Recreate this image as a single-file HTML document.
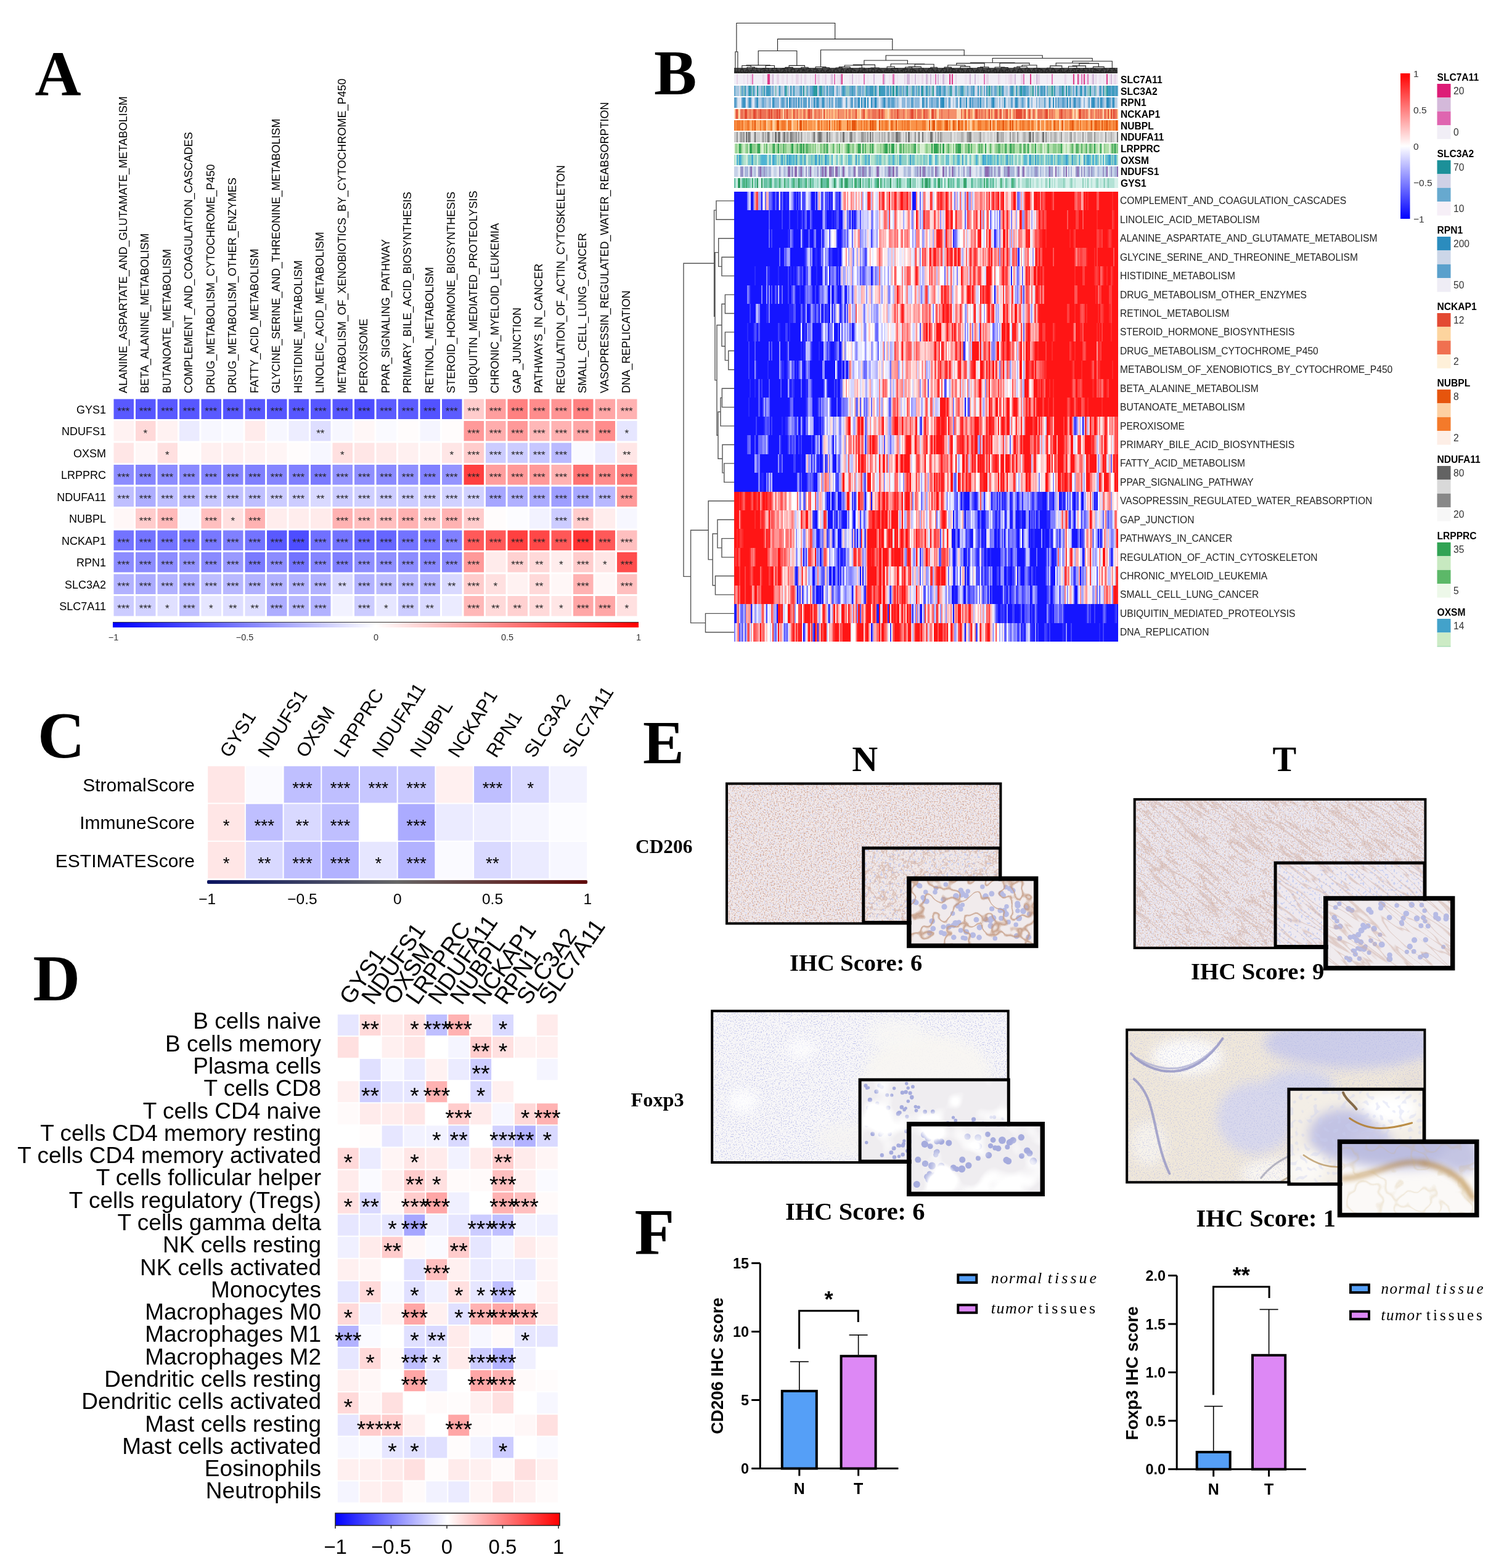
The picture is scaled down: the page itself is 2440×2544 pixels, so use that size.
<!DOCTYPE html>
<html><head><meta charset="utf-8"><title>Figure</title>
<style>
html,body{margin:0;padding:0;background:#fff;}
body{width:2440px;height:2544px;position:relative;overflow:hidden;font-family:'Liberation Sans', Arial, Helvetica, sans-serif;}
.hm{position:absolute;}
svg.main{position:absolute;left:0;top:0;}
</style></head><body>
<div class="hm" style="left:1191.0px;top:310.70px;width:622.5px;height:30.73px;background:linear-gradient(90deg,#1515ff 0.00% 3.33%,#8080ff 3.33% 3.67%,#bfbfff 3.67% 4.00%,#d4d4ff 4.00% 4.33%,#1515ff 4.33% 5.00%,#8080ff 5.00% 5.33%,#ffaaaa 5.33% 5.67%,#ff5555 5.67% 6.00%,#ff4040 6.00% 6.33%,#aaaaff 6.33% 6.67%,#9595ff 6.67% 7.00%,#1515ff 7.00% 7.33%,#eaeaff 7.33% 7.67%,#ffeaea 7.67% 8.00%,#6a6aff 8.00% 8.33%,#ffaaaa 8.33% 8.67%,#ffbfbf 8.67% 9.00%,#6a6aff 9.00% 9.67%,#5555ff 9.67% 10.00%,#2a2aff 10.00% 10.33%,#1515ff 10.33% 10.67%,#5555ff 10.67% 11.00%,#1515ff 11.00% 11.33%,#4040ff 11.33% 11.67%,#ffeaea 11.67% 12.00%,#1515ff 12.00% 12.33%,#6a6aff 12.33% 12.67%,#2a2aff 12.67% 13.00%,#1515ff 13.00% 13.33%,#2a2aff 13.33% 14.00%,#1515ff 14.00% 14.33%,#d4d4ff 14.33% 15.00%,#9595ff 15.00% 15.33%,#4040ff 15.33% 15.67%,#1515ff 15.67% 16.00%,#4040ff 16.00% 16.33%,#1515ff 16.33% 16.67%,#5555ff 16.67% 17.00%,#2a2aff 17.00% 17.33%,#eaeaff 17.33% 17.67%,#5555ff 17.67% 18.00%,#4040ff 18.00% 18.33%,#5555ff 18.33% 18.67%,#d4d4ff 18.67% 19.00%,#eaeaff 19.00% 19.33%,#bfbfff 19.33% 19.67%,#8080ff 19.67% 20.00%,#1515ff 20.00% 21.00%,#6a6aff 21.00% 21.33%,#1515ff 21.33% 21.67%,#aaaaff 21.67% 22.00%,#ffaaaa 22.00% 22.33%,#d4d4ff 22.33% 22.67%,#4040ff 22.67% 23.00%,#5555ff 23.00% 23.33%,#eaeaff 23.33% 23.67%,#5555ff 23.67% 24.00%,#4040ff 24.00% 24.33%,#5555ff 24.33% 24.67%,#1515ff 24.67% 25.00%,#4040ff 25.00% 25.33%,#1515ff 25.33% 25.67%,#eaeaff 25.67% 26.00%,#d4d4ff 26.00% 26.33%,#5555ff 26.33% 26.67%,#4040ff 26.67% 27.00%,#5555ff 27.00% 27.33%,#1515ff 27.33% 27.67%,#6a6aff 27.67% 28.00%,#eaeaff 28.00% 28.33%,#ffaaaa 28.33% 28.67%,#ff6a6a 28.67% 29.00%,#ffeaea 29.00% 29.33%,#ff9595 29.33% 29.67%,#ffeaea 29.67% 30.33%,#ff8080 30.33% 30.67%,#ffaaaa 30.67% 31.33%,#eaeaff 31.33% 31.67%,#ff9595 31.67% 32.00%,#ffeaea 32.00% 32.33%,#ffbfbf 32.33% 32.67%,#eaeaff 32.67% 33.00%,#ff8080 33.00% 33.33%,#aaaaff 33.33% 33.67%,#ffffff 33.67% 34.00%,#eaeaff 34.00% 34.33%,#d4d4ff 34.33% 34.67%,#ff4040 34.67% 35.00%,#ff1515 35.00% 35.33%,#ff6a6a 35.33% 35.67%,#bfbfff 35.67% 36.00%,#ff9595 36.00% 36.33%,#ffffff 36.33% 36.67%,#eaeaff 36.67% 37.00%,#d4d4ff 37.00% 37.33%,#ffd4d4 37.33% 37.67%,#ff4040 37.67% 38.00%,#ff9595 38.00% 38.33%,#ff5555 38.33% 38.67%,#ff1515 38.67% 39.00%,#ff8080 39.00% 39.33%,#ffffff 39.33% 39.67%,#ff8080 39.67% 40.00%,#ff9595 40.00% 40.33%,#ff1515 40.33% 40.67%,#ffd4d4 40.67% 41.00%,#ff8080 41.00% 41.67%,#ff1515 41.67% 42.00%,#ff4040 42.00% 42.33%,#ffaaaa 42.33% 42.67%,#ff9595 42.67% 43.00%,#ff6a6a 43.00% 43.33%,#ff1515 43.33% 44.00%,#ff5555 44.00% 45.00%,#ff1515 45.00% 45.33%,#ff8080 45.33% 45.67%,#ff6a6a 45.67% 46.00%,#d4d4ff 46.00% 46.33%,#1515ff 46.33% 47.33%,#ff8080 47.33% 47.67%,#eaeaff 47.67% 48.00%,#ffeaea 48.00% 48.33%,#6a6aff 48.33% 48.67%,#eaeaff 48.67% 49.00%,#bfbfff 49.00% 49.33%,#ff6a6a 49.33% 49.67%,#ff9595 49.67% 50.00%,#ffeaea 50.00% 50.33%,#eaeaff 50.33% 50.67%,#ffd4d4 50.67% 51.00%,#ff2a2a 51.00% 51.33%,#ff5555 51.33% 51.67%,#d4d4ff 51.67% 52.00%,#ffeaea 52.00% 52.33%,#ffffff 52.33% 52.67%,#ff8080 52.67% 53.00%,#ff2a2a 53.00% 53.33%,#ff5555 53.33% 53.67%,#ff2a2a 53.67% 54.33%,#ff6a6a 54.33% 54.67%,#ff9595 54.67% 55.00%,#ff1515 55.00% 55.33%,#ff2a2a 55.33% 55.67%,#ff8080 55.67% 56.00%,#ffd4d4 56.00% 56.33%,#ff4040 56.33% 56.67%,#ffd4d4 56.67% 57.00%,#eaeaff 57.00% 57.33%,#8080ff 57.33% 57.67%,#ffbfbf 57.67% 58.00%,#aaaaff 58.00% 58.33%,#eaeaff 58.33% 58.67%,#ff6a6a 58.67% 59.00%,#bfbfff 59.00% 59.33%,#ffeaea 59.33% 59.67%,#ffd4d4 59.67% 60.00%,#8080ff 60.00% 60.33%,#ff9595 60.33% 60.67%,#ff2a2a 60.67% 61.00%,#aaaaff 61.00% 61.33%,#9595ff 61.33% 61.67%,#ffaaaa 61.67% 62.00%,#bfbfff 62.00% 62.33%,#eaeaff 62.33% 62.67%,#ff9595 62.67% 63.33%,#ffaaaa 63.33% 64.00%,#ff6a6a 64.00% 64.33%,#ff8080 64.33% 64.67%,#ffaaaa 64.67% 65.00%,#ff9595 65.00% 65.33%,#ffd4d4 65.33% 65.67%,#ff5555 65.67% 66.00%,#ff9595 66.00% 66.33%,#ff2a2a 66.33% 66.67%,#ffd4d4 66.67% 67.00%,#ff6a6a 67.00% 67.33%,#ff2a2a 67.33% 67.67%,#ff8080 67.67% 68.00%,#ff5555 68.00% 68.33%,#ff4040 68.33% 68.67%,#ff1515 68.67% 69.00%,#ffbfbf 69.00% 69.33%,#ff4040 69.33% 69.67%,#ff2a2a 69.67% 70.00%,#ff1515 70.00% 70.33%,#ffeaea 70.33% 70.67%,#ffaaaa 70.67% 71.00%,#ff9595 71.00% 71.33%,#ffd4d4 71.33% 71.67%,#ffeaea 71.67% 72.00%,#ff8080 72.00% 72.33%,#ff6a6a 72.33% 72.67%,#ff1515 72.67% 73.33%,#ffbfbf 73.33% 73.67%,#6a6aff 73.67% 74.33%,#aaaaff 74.33% 74.67%,#ffaaaa 74.67% 75.00%,#d4d4ff 75.00% 75.33%,#ffaaaa 75.33% 75.67%,#ff4040 75.67% 76.00%,#ff1515 76.00% 77.00%,#ff8080 77.00% 77.33%,#ffbfbf 77.33% 77.67%,#ffffff 77.67% 78.00%,#ff2a2a 78.00% 78.33%,#ff1515 78.33% 79.00%,#ff2a2a 79.00% 79.33%,#ff1515 79.33% 79.67%,#ff8080 79.67% 80.00%,#ff2a2a 80.00% 80.33%,#ff5555 80.33% 80.67%,#ff4040 80.67% 81.00%,#ff1515 81.00% 82.67%,#ff2a2a 82.67% 83.00%,#ff5555 83.00% 83.33%,#ff1515 83.33% 88.67%,#ff5555 88.67% 89.00%,#ff6a6a 89.00% 89.33%,#ff4040 89.33% 90.33%,#ffaaaa 90.33% 90.67%,#ff9595 90.67% 91.00%,#ff1515 91.00% 91.33%,#ff2a2a 91.33% 91.67%,#ff1515 91.67% 92.00%,#ff2a2a 92.00% 92.33%,#ff1515 92.33% 94.33%,#ff5555 94.33% 95.00%,#ff1515 95.00% 98.33%,#ff2a2a 98.33% 98.67%,#ff1515 98.67% 100.00%)"></div><div class="hm" style="left:1191.0px;top:341.13px;width:622.5px;height:30.73px;background:linear-gradient(90deg,#1515ff 0.00% 9.00%,#5555ff 9.00% 9.33%,#1515ff 9.33% 12.33%,#4040ff 12.33% 12.67%,#1515ff 12.67% 14.33%,#4040ff 14.33% 14.67%,#1515ff 14.67% 16.33%,#2a2aff 16.33% 16.67%,#1515ff 16.67% 17.33%,#2a2aff 17.33% 17.67%,#4040ff 17.67% 18.00%,#1515ff 18.00% 18.33%,#5555ff 18.33% 18.67%,#6a6aff 18.67% 19.00%,#1515ff 19.00% 19.67%,#6a6aff 19.67% 20.00%,#4040ff 20.00% 20.33%,#1515ff 20.33% 23.00%,#8080ff 23.00% 23.33%,#bfbfff 23.33% 23.67%,#5555ff 23.67% 24.00%,#1515ff 24.00% 25.33%,#2a2aff 25.33% 25.67%,#1515ff 25.67% 26.00%,#2a2aff 26.00% 26.67%,#5555ff 26.67% 27.33%,#1515ff 27.33% 28.33%,#aaaaff 28.33% 28.67%,#ffd4d4 28.67% 29.00%,#d4d4ff 29.00% 29.33%,#6a6aff 29.33% 29.67%,#8080ff 29.67% 30.00%,#1515ff 30.00% 30.33%,#9595ff 30.33% 30.67%,#1515ff 30.67% 31.00%,#4040ff 31.00% 31.33%,#1515ff 31.33% 31.67%,#5555ff 31.67% 32.00%,#aaaaff 32.00% 32.33%,#bfbfff 32.33% 32.67%,#5555ff 32.67% 33.00%,#d4d4ff 33.00% 33.33%,#bfbfff 33.33% 33.67%,#d4d4ff 33.67% 34.67%,#bfbfff 34.67% 35.00%,#eaeaff 35.00% 35.33%,#ffeaea 35.33% 35.67%,#8080ff 35.67% 36.33%,#ffffff 36.33% 36.67%,#d4d4ff 36.67% 37.00%,#aaaaff 37.00% 37.33%,#d4d4ff 37.33% 37.67%,#ffaaaa 37.67% 38.00%,#ffeaea 38.00% 38.33%,#eaeaff 38.33% 38.67%,#ffbfbf 38.67% 39.00%,#ff6a6a 39.00% 39.67%,#ff9595 39.67% 40.00%,#bfbfff 40.00% 40.33%,#ff4040 40.33% 40.67%,#eaeaff 40.67% 41.00%,#ffffff 41.00% 41.33%,#d4d4ff 41.33% 41.67%,#ff5555 41.67% 42.00%,#ff8080 42.00% 42.33%,#ffd4d4 42.33% 42.67%,#ffffff 42.67% 43.00%,#ffd4d4 43.00% 43.33%,#ffeaea 43.33% 44.00%,#aaaaff 44.00% 44.33%,#eaeaff 44.33% 44.67%,#ffeaea 44.67% 45.00%,#ffbfbf 45.00% 45.33%,#ff8080 45.33% 45.67%,#ffeaea 45.67% 46.00%,#aaaaff 46.00% 46.33%,#8080ff 46.33% 46.67%,#ffd4d4 46.67% 47.00%,#ffffff 47.00% 47.33%,#ff1515 47.33% 47.67%,#ff5555 47.67% 48.00%,#ffd4d4 48.00% 48.33%,#9595ff 48.33% 48.67%,#d4d4ff 48.67% 49.00%,#aaaaff 49.00% 49.33%,#ff1515 49.33% 49.67%,#ff6a6a 49.67% 50.33%,#ff5555 50.33% 50.67%,#ff8080 50.67% 51.00%,#ffeaea 51.00% 51.33%,#ffd4d4 51.33% 52.00%,#ff4040 52.00% 52.33%,#ff8080 52.33% 52.67%,#ffeaea 52.67% 53.00%,#ff8080 53.00% 53.33%,#ffbfbf 53.33% 53.67%,#9595ff 53.67% 54.00%,#ffd4d4 54.00% 54.33%,#d4d4ff 54.33% 54.67%,#ffd4d4 54.67% 55.00%,#ff1515 55.00% 55.67%,#ff4040 55.67% 56.00%,#ff8080 56.00% 56.33%,#ff1515 56.33% 56.67%,#ff2a2a 56.67% 57.00%,#ffffff 57.00% 57.33%,#ffd4d4 57.33% 57.67%,#ff1515 57.67% 58.00%,#ff8080 58.00% 58.33%,#ff9595 58.33% 58.67%,#ff8080 58.67% 59.00%,#ff9595 59.00% 59.33%,#ffeaea 59.33% 60.00%,#6a6aff 60.00% 60.33%,#d4d4ff 60.33% 60.67%,#ff4040 60.67% 61.00%,#ff6a6a 61.00% 61.33%,#ff8080 61.33% 61.67%,#ffbfbf 61.67% 62.00%,#ffffff 62.00% 62.33%,#ff6a6a 62.33% 62.67%,#ff8080 62.67% 63.00%,#ff4040 63.00% 63.33%,#ffd4d4 63.33% 64.00%,#ff1515 64.00% 64.33%,#bfbfff 64.33% 64.67%,#ff6a6a 64.67% 65.00%,#bfbfff 65.00% 65.33%,#ffffff 65.33% 65.67%,#ff8080 65.67% 66.00%,#ff4040 66.00% 66.33%,#ffffff 66.33% 66.67%,#6a6aff 66.67% 67.00%,#bfbfff 67.00% 67.33%,#ffffff 67.33% 67.67%,#aaaaff 67.67% 68.00%,#eaeaff 68.00% 68.33%,#aaaaff 68.33% 68.67%,#eaeaff 68.67% 69.00%,#5555ff 69.00% 69.33%,#ffaaaa 69.33% 69.67%,#ff8080 69.67% 70.00%,#ff1515 70.00% 70.33%,#ff9595 70.33% 70.67%,#ffaaaa 70.67% 71.00%,#ff1515 71.00% 71.33%,#ff8080 71.33% 71.67%,#ffeaea 71.67% 72.00%,#8080ff 72.00% 72.33%,#ffd4d4 72.33% 72.67%,#ffeaea 72.67% 73.00%,#ffbfbf 73.00% 73.33%,#aaaaff 73.33% 73.67%,#ffeaea 73.67% 74.33%,#ff1515 74.33% 74.67%,#ff2a2a 74.67% 75.00%,#9595ff 75.00% 75.67%,#ff6a6a 75.67% 76.00%,#ff4040 76.00% 76.33%,#ffaaaa 76.33% 76.67%,#ff9595 76.67% 77.00%,#ffeaea 77.00% 77.33%,#aaaaff 77.33% 77.67%,#eaeaff 77.67% 78.00%,#ffd4d4 78.00% 78.33%,#eaeaff 78.33% 78.67%,#ff8080 78.67% 79.33%,#ff1515 79.33% 79.67%,#ff4040 79.67% 80.00%,#ff5555 80.00% 80.33%,#ff2a2a 80.33% 80.67%,#ff5555 80.67% 81.00%,#ff4040 81.00% 81.33%,#ff1515 81.33% 86.67%,#ff5555 86.67% 87.00%,#ff1515 87.00% 89.00%,#ff4040 89.00% 89.67%,#ff1515 89.67% 90.67%,#ff5555 90.67% 91.00%,#ff1515 91.00% 94.33%,#ff2a2a 94.33% 94.67%,#ff1515 94.67% 98.33%,#ff4040 98.33% 98.67%,#ff2a2a 98.67% 99.00%,#ff1515 99.00% 100.00%)"></div><div class="hm" style="left:1191.0px;top:371.56px;width:622.5px;height:30.73px;background:linear-gradient(90deg,#1515ff 0.00% 9.00%,#6a6aff 9.00% 9.33%,#1515ff 9.33% 9.67%,#4040ff 9.67% 10.00%,#1515ff 10.00% 14.00%,#2a2aff 14.00% 14.67%,#9595ff 14.67% 15.00%,#5555ff 15.00% 15.33%,#1515ff 15.33% 17.33%,#bfbfff 17.33% 17.67%,#4040ff 17.67% 18.00%,#1515ff 18.00% 19.33%,#5555ff 19.33% 19.67%,#1515ff 19.67% 20.67%,#6a6aff 20.67% 21.00%,#8080ff 21.00% 21.33%,#1515ff 21.33% 22.67%,#8080ff 22.67% 23.00%,#1515ff 23.00% 23.33%,#6a6aff 23.33% 23.67%,#bfbfff 23.67% 24.00%,#d4d4ff 24.00% 24.33%,#ffffff 24.33% 24.67%,#5555ff 24.67% 25.00%,#d4d4ff 25.00% 25.33%,#ffffff 25.33% 26.00%,#ffeaea 26.00% 26.33%,#d4d4ff 26.33% 26.67%,#4040ff 26.67% 27.00%,#1515ff 27.00% 28.00%,#4040ff 28.00% 28.33%,#8080ff 28.33% 28.67%,#6a6aff 28.67% 29.00%,#aaaaff 29.00% 29.33%,#5555ff 29.33% 29.67%,#bfbfff 29.67% 30.00%,#ffffff 30.00% 30.33%,#eaeaff 30.33% 30.67%,#6a6aff 30.67% 31.00%,#eaeaff 31.00% 31.33%,#ffaaaa 31.33% 31.67%,#ffeaea 31.67% 32.00%,#ffd4d4 32.00% 32.33%,#ff8080 32.33% 32.67%,#8080ff 32.67% 33.00%,#aaaaff 33.00% 33.67%,#d4d4ff 33.67% 34.00%,#aaaaff 34.00% 34.33%,#d4d4ff 34.33% 34.67%,#ffd4d4 34.67% 35.00%,#eaeaff 35.00% 35.33%,#d4d4ff 35.33% 35.67%,#4040ff 35.67% 36.00%,#9595ff 36.00% 36.33%,#d4d4ff 36.33% 37.00%,#9595ff 37.00% 37.33%,#ffffff 37.33% 37.67%,#ff9595 37.67% 38.33%,#ffbfbf 38.33% 38.67%,#ffaaaa 38.67% 39.00%,#ffbfbf 39.00% 39.67%,#ffffff 39.67% 40.00%,#ffeaea 40.00% 40.33%,#ff8080 40.33% 41.00%,#ff9595 41.00% 41.33%,#ffaaaa 41.33% 41.67%,#ff6a6a 41.67% 42.00%,#ff9595 42.00% 42.33%,#ff6a6a 42.33% 42.67%,#ffeaea 42.67% 43.00%,#ffffff 43.00% 43.33%,#ff8080 43.33% 43.67%,#ff6a6a 43.67% 44.00%,#ffeaea 44.00% 44.33%,#ff8080 44.33% 44.67%,#ff9595 44.67% 45.00%,#ff6a6a 45.00% 45.33%,#ff9595 45.33% 45.67%,#ffffff 45.67% 46.33%,#9595ff 46.33% 46.67%,#eaeaff 46.67% 47.00%,#aaaaff 47.00% 47.33%,#ff8080 47.33% 48.33%,#ffffff 48.33% 48.67%,#ffeaea 48.67% 49.00%,#9595ff 49.00% 49.33%,#aaaaff 49.33% 49.67%,#ffd4d4 49.67% 50.00%,#ffaaaa 50.00% 50.33%,#ffffff 50.33% 50.67%,#d4d4ff 50.67% 51.00%,#ffd4d4 51.00% 51.67%,#aaaaff 51.67% 52.00%,#ffaaaa 52.00% 52.33%,#ffbfbf 52.33% 52.67%,#ff2a2a 52.67% 53.00%,#ff1515 53.00% 53.67%,#ff2a2a 53.67% 54.00%,#ff4040 54.00% 54.33%,#ffbfbf 54.33% 54.67%,#aaaaff 54.67% 55.00%,#ff1515 55.00% 55.33%,#ff6a6a 55.33% 55.67%,#ff9595 55.67% 56.00%,#ffaaaa 56.00% 56.33%,#ff8080 56.33% 56.67%,#ffeaea 56.67% 57.00%,#2a2aff 57.00% 57.33%,#6a6aff 57.33% 58.00%,#aaaaff 58.00% 58.33%,#eaeaff 58.33% 58.67%,#ffffff 58.67% 59.33%,#ffeaea 59.33% 59.67%,#ff8080 59.67% 60.00%,#eaeaff 60.00% 60.33%,#ffbfbf 60.33% 60.67%,#d4d4ff 60.67% 61.00%,#ffeaea 61.00% 61.33%,#ffd4d4 61.33% 61.67%,#ff8080 61.67% 62.00%,#ff9595 62.00% 62.67%,#ff5555 62.67% 63.00%,#ffd4d4 63.00% 63.33%,#ff2a2a 63.33% 63.67%,#ff1515 63.67% 64.33%,#ffffff 64.33% 64.67%,#eaeaff 64.67% 65.00%,#d4d4ff 65.00% 65.33%,#ffffff 65.33% 65.67%,#ff4040 65.67% 66.00%,#ffbfbf 66.00% 66.33%,#ff1515 66.33% 66.67%,#ff4040 66.67% 67.00%,#eaeaff 67.00% 67.33%,#d4d4ff 67.33% 67.67%,#1515ff 67.67% 68.00%,#6a6aff 68.00% 68.33%,#aaaaff 68.33% 68.67%,#d4d4ff 68.67% 69.00%,#8080ff 69.00% 69.33%,#ffbfbf 69.33% 69.67%,#ffeaea 69.67% 70.00%,#ff1515 70.00% 70.67%,#ffaaaa 70.67% 71.00%,#ff1515 71.00% 71.33%,#ffbfbf 71.33% 71.67%,#aaaaff 71.67% 72.00%,#ff9595 72.00% 72.33%,#bfbfff 72.33% 72.67%,#ff9595 72.67% 73.00%,#ffbfbf 73.00% 73.67%,#eaeaff 73.67% 74.00%,#ff6a6a 74.00% 74.33%,#ff8080 74.33% 75.00%,#ffbfbf 75.00% 75.33%,#ffd4d4 75.33% 75.67%,#ffaaaa 75.67% 76.00%,#ff2a2a 76.00% 76.67%,#ff1515 76.67% 77.00%,#ffeaea 77.00% 77.33%,#eaeaff 77.33% 77.67%,#ffbfbf 77.67% 78.00%,#ff9595 78.00% 78.33%,#ff5555 78.33% 79.00%,#ff6a6a 79.00% 79.33%,#ff4040 79.33% 79.67%,#ff2a2a 79.67% 80.33%,#ff1515 80.33% 81.00%,#ff2a2a 81.00% 81.33%,#ff1515 81.33% 87.33%,#ff2a2a 87.33% 87.67%,#ff1515 87.67% 88.33%,#ff2a2a 88.33% 88.67%,#ff4040 88.67% 89.00%,#ff1515 89.00% 94.33%,#ff4040 94.33% 95.00%,#ff2a2a 95.00% 95.67%,#ff4040 95.67% 96.00%,#ff1515 96.00% 97.33%,#ff2a2a 97.33% 97.67%,#ff4040 97.67% 98.00%,#ff2a2a 98.00% 98.33%,#ff1515 98.33% 100.00%)"></div><div class="hm" style="left:1191.0px;top:401.99px;width:622.5px;height:30.73px;background:linear-gradient(90deg,#1515ff 0.00% 11.67%,#6a6aff 11.67% 12.00%,#1515ff 12.00% 13.00%,#6a6aff 13.00% 13.33%,#5555ff 13.33% 13.67%,#9595ff 13.67% 14.00%,#aaaaff 14.00% 14.33%,#9595ff 14.33% 14.67%,#1515ff 14.67% 18.33%,#2a2aff 18.33% 18.67%,#5555ff 18.67% 19.00%,#aaaaff 19.00% 19.33%,#d4d4ff 19.33% 19.67%,#6a6aff 19.67% 20.00%,#9595ff 20.00% 20.33%,#1515ff 20.33% 21.00%,#2a2aff 21.00% 21.67%,#1515ff 21.67% 22.33%,#2a2aff 22.33% 22.67%,#8080ff 22.67% 23.00%,#6a6aff 23.00% 23.33%,#ffffff 23.33% 23.67%,#9595ff 23.67% 24.00%,#aaaaff 24.00% 24.33%,#6a6aff 24.33% 24.67%,#1515ff 24.67% 25.00%,#4040ff 25.00% 25.33%,#2a2aff 25.33% 25.67%,#1515ff 25.67% 27.00%,#2a2aff 27.00% 27.33%,#1515ff 27.33% 28.00%,#9595ff 28.00% 28.33%,#ffffff 28.33% 28.67%,#ffeaea 28.67% 29.00%,#ff9595 29.00% 29.33%,#ffffff 29.33% 29.67%,#aaaaff 29.67% 30.00%,#ffd4d4 30.00% 30.33%,#ffbfbf 30.33% 30.67%,#aaaaff 30.67% 31.00%,#8080ff 31.00% 31.33%,#ffffff 31.33% 31.67%,#ffd4d4 31.67% 32.00%,#aaaaff 32.00% 32.33%,#ffd4d4 32.33% 32.67%,#9595ff 32.67% 33.00%,#d4d4ff 33.00% 33.33%,#9595ff 33.33% 33.67%,#8080ff 33.67% 34.00%,#4040ff 34.00% 34.33%,#6a6aff 34.33% 34.67%,#ffffff 34.67% 35.00%,#ffeaea 35.00% 35.33%,#ffbfbf 35.33% 35.67%,#ffffff 35.67% 36.00%,#eaeaff 36.00% 36.33%,#ffffff 36.33% 37.00%,#ffbfbf 37.00% 37.33%,#ffaaaa 37.33% 37.67%,#ff5555 37.67% 38.00%,#ff9595 38.00% 38.33%,#ffaaaa 38.33% 38.67%,#ffffff 38.67% 39.00%,#ffeaea 39.00% 40.00%,#bfbfff 40.00% 40.33%,#d4d4ff 40.33% 41.00%,#ffbfbf 41.00% 41.33%,#d4d4ff 41.33% 41.67%,#ffaaaa 41.67% 42.00%,#ffeaea 42.00% 42.67%,#ffffff 42.67% 43.00%,#eaeaff 43.00% 43.67%,#ffeaea 43.67% 44.00%,#eaeaff 44.00% 44.33%,#ffd4d4 44.33% 44.67%,#ffffff 44.67% 45.00%,#ffeaea 45.00% 45.33%,#ffd4d4 45.33% 45.67%,#ffbfbf 45.67% 46.00%,#eaeaff 46.00% 46.67%,#d4d4ff 46.67% 47.00%,#ff5555 47.00% 47.33%,#ff8080 47.33% 47.67%,#ffffff 47.67% 48.00%,#ffbfbf 48.00% 48.33%,#9595ff 48.33% 48.67%,#ffeaea 48.67% 49.00%,#ff4040 49.00% 49.33%,#ff8080 49.33% 49.67%,#ff4040 49.67% 50.00%,#ffaaaa 50.00% 50.33%,#ffffff 50.33% 50.67%,#ff5555 50.67% 51.00%,#ff1515 51.00% 51.33%,#ffaaaa 51.33% 51.67%,#ff5555 51.67% 52.00%,#ff1515 52.00% 52.33%,#ff2a2a 52.33% 52.67%,#ff8080 52.67% 53.00%,#ff5555 53.00% 53.33%,#ffaaaa 53.33% 53.67%,#ff8080 53.67% 54.00%,#ff4040 54.00% 54.33%,#d4d4ff 54.33% 54.67%,#ffaaaa 54.67% 55.00%,#ff9595 55.00% 55.33%,#ff1515 55.33% 55.67%,#ff5555 55.67% 56.33%,#ff1515 56.33% 56.67%,#ff4040 56.67% 57.00%,#ffbfbf 57.00% 57.33%,#ff1515 57.33% 57.67%,#ff2a2a 57.67% 58.00%,#ff8080 58.00% 58.33%,#ff1515 58.33% 58.67%,#ff6a6a 58.67% 59.00%,#d4d4ff 59.00% 59.33%,#aaaaff 59.33% 59.67%,#ffd4d4 59.67% 60.00%,#ffeaea 60.00% 60.33%,#ff6a6a 60.33% 60.67%,#eaeaff 60.67% 61.00%,#ffaaaa 61.00% 61.33%,#ff2a2a 61.33% 61.67%,#ff5555 61.67% 62.00%,#ffaaaa 62.00% 62.33%,#ff5555 62.33% 62.67%,#ff2a2a 62.67% 63.00%,#ff5555 63.00% 63.33%,#ffd4d4 63.33% 64.00%,#ffaaaa 64.00% 64.33%,#ffd4d4 64.33% 64.67%,#ff6a6a 64.67% 65.00%,#ffaaaa 65.00% 65.33%,#ff9595 65.33% 65.67%,#ffbfbf 65.67% 66.00%,#ff6a6a 66.00% 66.33%,#ff2a2a 66.33% 66.67%,#ff6a6a 66.67% 67.00%,#ff1515 67.00% 67.33%,#ffbfbf 67.33% 67.67%,#ff6a6a 67.67% 68.00%,#ff8080 68.00% 68.33%,#ffaaaa 68.33% 68.67%,#ff6a6a 68.67% 69.00%,#9595ff 69.00% 69.33%,#ff6a6a 69.33% 69.67%,#ff8080 69.67% 70.00%,#ff1515 70.00% 70.33%,#ff8080 70.33% 70.67%,#ffaaaa 70.67% 71.00%,#ff1515 71.00% 71.33%,#ff6a6a 71.33% 71.67%,#bfbfff 71.67% 72.00%,#d4d4ff 72.00% 72.33%,#ff5555 72.33% 73.00%,#ff8080 73.00% 73.33%,#ff5555 73.33% 73.67%,#8080ff 73.67% 74.00%,#1515ff 74.00% 74.33%,#ffffff 74.33% 74.67%,#ffaaaa 74.67% 75.00%,#ffffff 75.00% 75.33%,#d4d4ff 75.33% 75.67%,#ff9595 75.67% 76.33%,#ff5555 76.33% 76.67%,#ffeaea 76.67% 77.00%,#eaeaff 77.00% 77.33%,#ffeaea 77.33% 77.67%,#9595ff 77.67% 78.00%,#ffffff 78.00% 78.33%,#ff4040 78.33% 78.67%,#ff1515 78.67% 79.00%,#ff6a6a 79.00% 79.33%,#ff1515 79.33% 79.67%,#ff5555 79.67% 80.33%,#ff1515 80.33% 83.00%,#ff5555 83.00% 83.33%,#ff1515 83.33% 88.67%,#ff4040 88.67% 89.00%,#ff8080 89.00% 89.33%,#ff4040 89.33% 89.67%,#ff5555 89.67% 90.00%,#ff4040 90.00% 90.67%,#ff5555 90.67% 91.67%,#ff2a2a 91.67% 92.00%,#ff1515 92.00% 93.67%,#ff2a2a 93.67% 94.00%,#ff1515 94.00% 94.33%,#ff4040 94.33% 94.67%,#ff1515 94.67% 98.67%,#ff5555 98.67% 99.00%,#ff1515 99.00% 100.00%)"></div><div class="hm" style="left:1191.0px;top:432.42px;width:622.5px;height:30.73px;background:linear-gradient(90deg,#1515ff 0.00% 5.33%,#2a2aff 5.33% 5.67%,#1515ff 5.67% 8.33%,#8080ff 8.33% 8.67%,#2a2aff 8.67% 9.33%,#1515ff 9.33% 11.33%,#2a2aff 11.33% 11.67%,#1515ff 11.67% 14.00%,#4040ff 14.00% 14.33%,#1515ff 14.33% 14.67%,#2a2aff 14.67% 15.00%,#1515ff 15.00% 15.33%,#2a2aff 15.33% 15.67%,#1515ff 15.67% 16.00%,#2a2aff 16.00% 16.33%,#5555ff 16.33% 16.67%,#8080ff 16.67% 17.00%,#4040ff 17.00% 17.33%,#2a2aff 17.33% 17.67%,#5555ff 17.67% 18.00%,#1515ff 18.00% 18.67%,#5555ff 18.67% 19.33%,#bfbfff 19.33% 19.67%,#9595ff 19.67% 20.00%,#1515ff 20.00% 21.33%,#2a2aff 21.33% 21.67%,#1515ff 21.67% 23.00%,#9595ff 23.00% 23.33%,#eaeaff 23.33% 23.67%,#5555ff 23.67% 24.00%,#8080ff 24.00% 24.33%,#ffffff 24.33% 24.67%,#1515ff 24.67% 25.00%,#8080ff 25.00% 25.33%,#6a6aff 25.33% 26.00%,#9595ff 26.00% 26.33%,#8080ff 26.33% 26.67%,#1515ff 26.67% 27.00%,#5555ff 27.00% 27.33%,#1515ff 27.33% 27.67%,#9595ff 27.67% 28.00%,#ffd4d4 28.00% 28.33%,#aaaaff 28.33% 29.00%,#ffd4d4 29.00% 29.33%,#bfbfff 29.33% 29.67%,#eaeaff 29.67% 30.00%,#d4d4ff 30.00% 30.33%,#ffbfbf 30.33% 30.67%,#9595ff 30.67% 31.00%,#d4d4ff 31.00% 31.33%,#ffffff 31.33% 32.00%,#aaaaff 32.00% 32.33%,#bfbfff 32.33% 32.67%,#5555ff 32.67% 33.00%,#9595ff 33.00% 33.33%,#5555ff 33.33% 34.00%,#8080ff 34.00% 34.33%,#aaaaff 34.33% 34.67%,#bfbfff 34.67% 35.00%,#aaaaff 35.00% 35.67%,#1515ff 35.67% 36.00%,#5555ff 36.00% 36.33%,#d4d4ff 36.33% 36.67%,#8080ff 36.67% 37.00%,#9595ff 37.00% 37.33%,#aaaaff 37.33% 37.67%,#ff6a6a 37.67% 38.00%,#bfbfff 38.00% 38.33%,#d4d4ff 38.33% 38.67%,#ffffff 38.67% 39.00%,#bfbfff 39.00% 39.33%,#eaeaff 39.33% 39.67%,#ffffff 39.67% 40.00%,#9595ff 40.00% 40.33%,#eaeaff 40.33% 40.67%,#d4d4ff 40.67% 41.00%,#ffaaaa 41.00% 41.33%,#ffeaea 41.33% 41.67%,#ff4040 41.67% 42.00%,#ff9595 42.00% 42.33%,#ffffff 42.33% 43.33%,#eaeaff 43.33% 43.67%,#ff8080 43.67% 44.00%,#eaeaff 44.00% 44.33%,#ff9595 44.33% 44.67%,#ffaaaa 44.67% 45.00%,#ff5555 45.00% 45.67%,#ff8080 45.67% 46.00%,#ffffff 46.00% 46.33%,#ffeaea 46.33% 46.67%,#ffd4d4 46.67% 47.00%,#ff5555 47.00% 47.33%,#ff1515 47.33% 47.67%,#ff5555 47.67% 48.00%,#ffbfbf 48.00% 48.33%,#bfbfff 48.33% 48.67%,#eaeaff 48.67% 49.00%,#aaaaff 49.00% 49.33%,#bfbfff 49.33% 49.67%,#ffbfbf 49.67% 50.00%,#ffd4d4 50.00% 50.33%,#ffffff 50.33% 50.67%,#ff6a6a 50.67% 51.00%,#ff9595 51.00% 51.33%,#ff5555 51.33% 51.67%,#ffbfbf 51.67% 52.00%,#ff9595 52.00% 52.67%,#bfbfff 52.67% 53.00%,#ffaaaa 53.00% 53.33%,#ffbfbf 53.33% 53.67%,#ffffff 53.67% 54.67%,#6a6aff 54.67% 55.00%,#ffd4d4 55.00% 55.33%,#ff8080 55.33% 55.67%,#d4d4ff 55.67% 56.00%,#eaeaff 56.00% 56.33%,#ff5555 56.33% 56.67%,#ffd4d4 56.67% 57.00%,#bfbfff 57.00% 57.33%,#eaeaff 57.33% 57.67%,#ffeaea 57.67% 58.00%,#8080ff 58.00% 58.33%,#ffeaea 58.33% 59.00%,#ff1515 59.00% 59.33%,#ff5555 59.33% 59.67%,#ffaaaa 59.67% 60.67%,#ff9595 60.67% 61.00%,#d4d4ff 61.00% 61.33%,#ff4040 61.33% 61.67%,#ff9595 61.67% 62.00%,#ffaaaa 62.00% 62.33%,#ff2a2a 62.33% 62.67%,#ff5555 62.67% 63.00%,#ffaaaa 63.00% 63.33%,#ff5555 63.33% 63.67%,#ff4040 63.67% 64.00%,#ff5555 64.00% 64.33%,#ffd4d4 64.33% 64.67%,#ffeaea 64.67% 65.00%,#eaeaff 65.00% 65.33%,#d4d4ff 65.33% 65.67%,#ff1515 65.67% 67.00%,#ff6a6a 67.00% 67.33%,#ffffff 67.33% 67.67%,#ff6a6a 67.67% 68.00%,#eaeaff 68.00% 68.33%,#ffffff 68.33% 69.00%,#ffaaaa 69.00% 69.33%,#ff9595 69.33% 69.67%,#ff4040 69.67% 70.00%,#ff1515 70.00% 70.33%,#ff6a6a 70.33% 70.67%,#ff4040 70.67% 71.33%,#ffaaaa 71.33% 71.67%,#eaeaff 71.67% 72.00%,#2a2aff 72.00% 72.33%,#ffffff 72.33% 72.67%,#ff8080 72.67% 73.00%,#ffd4d4 73.00% 73.33%,#bfbfff 73.33% 73.67%,#6a6aff 73.67% 74.00%,#9595ff 74.00% 74.33%,#ffd4d4 74.33% 74.67%,#ffeaea 74.67% 75.00%,#6a6aff 75.00% 75.33%,#ffffff 75.33% 75.67%,#ffaaaa 75.67% 76.00%,#ff2a2a 76.00% 76.33%,#ff5555 76.33% 76.67%,#ff2a2a 76.67% 77.00%,#ffbfbf 77.00% 77.33%,#ff9595 77.33% 78.00%,#ff1515 78.00% 78.67%,#ff6a6a 78.67% 79.00%,#ff1515 79.00% 79.67%,#ff2a2a 79.67% 80.00%,#ff1515 80.00% 80.33%,#ff4040 80.33% 80.67%,#ff1515 80.67% 88.67%,#ff2a2a 88.67% 89.00%,#ff1515 89.00% 90.67%,#ff4040 90.67% 91.33%,#ff1515 91.33% 93.67%,#ff2a2a 93.67% 94.00%,#ff4040 94.00% 94.67%,#ff2a2a 94.67% 95.00%,#ff1515 95.00% 95.33%,#ff6a6a 95.33% 95.67%,#ff5555 95.67% 96.00%,#ff2a2a 96.00% 96.33%,#ff1515 96.33% 97.00%,#ff2a2a 97.00% 97.33%,#ff1515 97.33% 98.00%,#ff4040 98.00% 98.33%,#ff2a2a 98.33% 98.67%,#ff1515 98.67% 100.00%)"></div><div class="hm" style="left:1191.0px;top:462.85px;width:622.5px;height:30.73px;background:linear-gradient(90deg,#1515ff 0.00% 3.33%,#8080ff 3.33% 3.67%,#6a6aff 3.67% 4.00%,#2a2aff 4.00% 4.33%,#1515ff 4.33% 7.00%,#8080ff 7.00% 7.33%,#1515ff 7.33% 8.33%,#9595ff 8.33% 8.67%,#1515ff 8.67% 9.00%,#9595ff 9.00% 9.33%,#1515ff 9.33% 9.67%,#5555ff 9.67% 10.00%,#1515ff 10.00% 10.67%,#5555ff 10.67% 11.00%,#1515ff 11.00% 11.33%,#bfbfff 11.33% 11.67%,#2a2aff 11.67% 12.00%,#1515ff 12.00% 12.33%,#6a6aff 12.33% 12.67%,#1515ff 12.67% 14.00%,#4040ff 14.00% 14.33%,#1515ff 14.33% 15.00%,#5555ff 15.00% 15.33%,#9595ff 15.33% 15.67%,#4040ff 15.67% 16.00%,#1515ff 16.00% 17.00%,#2a2aff 17.00% 17.33%,#1515ff 17.33% 18.33%,#4040ff 18.33% 18.67%,#8080ff 18.67% 19.00%,#6a6aff 19.00% 19.33%,#8080ff 19.33% 19.67%,#6a6aff 19.67% 20.00%,#5555ff 20.00% 20.33%,#1515ff 20.33% 21.00%,#4040ff 21.00% 21.33%,#1515ff 21.33% 22.00%,#4040ff 22.00% 22.33%,#8080ff 22.33% 23.00%,#6a6aff 23.00% 23.33%,#aaaaff 23.33% 23.67%,#bfbfff 23.67% 24.00%,#9595ff 24.00% 24.33%,#1515ff 24.33% 25.00%,#d4d4ff 25.00% 25.33%,#1515ff 25.33% 26.00%,#8080ff 26.00% 26.67%,#4040ff 26.67% 27.00%,#1515ff 27.00% 28.00%,#8080ff 28.00% 28.33%,#bfbfff 28.33% 28.67%,#2a2aff 28.67% 29.00%,#1515ff 29.00% 29.33%,#aaaaff 29.33% 29.67%,#8080ff 29.67% 30.00%,#d4d4ff 30.00% 30.33%,#bfbfff 30.33% 30.67%,#5555ff 30.67% 31.00%,#aaaaff 31.00% 31.33%,#ffbfbf 31.33% 32.00%,#eaeaff 32.00% 32.33%,#d4d4ff 32.33% 33.00%,#ffaaaa 33.00% 33.33%,#ffbfbf 33.33% 34.00%,#eaeaff 34.00% 34.33%,#9595ff 34.33% 34.67%,#eaeaff 34.67% 35.00%,#ffd4d4 35.00% 35.33%,#ffbfbf 35.33% 35.67%,#9595ff 35.67% 36.00%,#d4d4ff 36.00% 36.33%,#ffffff 36.33% 36.67%,#ffd4d4 36.67% 37.33%,#ffbfbf 37.33% 37.67%,#ff9595 37.67% 38.00%,#d4d4ff 38.00% 38.33%,#9595ff 38.33% 38.67%,#eaeaff 38.67% 39.00%,#ffd4d4 39.00% 39.33%,#ffeaea 39.33% 39.67%,#ffd4d4 39.67% 40.00%,#9595ff 40.00% 40.33%,#8080ff 40.33% 40.67%,#d4d4ff 40.67% 41.00%,#ffffff 41.00% 41.33%,#bfbfff 41.33% 41.67%,#ff9595 41.67% 42.00%,#ffaaaa 42.00% 42.33%,#ff1515 42.33% 42.67%,#ff5555 42.67% 43.00%,#ff9595 43.00% 43.33%,#ffbfbf 43.33% 43.67%,#ff8080 43.67% 44.00%,#ffffff 44.00% 44.33%,#eaeaff 44.33% 44.67%,#ffaaaa 44.67% 45.00%,#ff8080 45.00% 45.33%,#d4d4ff 45.33% 46.00%,#bfbfff 46.00% 46.33%,#ffffff 46.33% 46.67%,#ffeaea 46.67% 47.00%,#ff8080 47.00% 47.33%,#ffbfbf 47.33% 47.67%,#d4d4ff 47.67% 48.00%,#ffaaaa 48.00% 48.33%,#bfbfff 48.33% 48.67%,#8080ff 48.67% 49.00%,#bfbfff 49.00% 49.33%,#d4d4ff 49.33% 49.67%,#ff6a6a 49.67% 50.00%,#ff4040 50.00% 50.33%,#aaaaff 50.33% 50.67%,#eaeaff 50.67% 51.00%,#ffd4d4 51.00% 51.33%,#ffaaaa 51.33% 51.67%,#ff9595 51.67% 52.00%,#ff6a6a 52.00% 52.33%,#ffbfbf 52.33% 52.67%,#ffffff 52.67% 53.00%,#d4d4ff 53.00% 53.33%,#ffeaea 53.33% 53.67%,#ffbfbf 53.67% 54.00%,#ff1515 54.00% 54.33%,#ff6a6a 54.33% 54.67%,#ff1515 54.67% 55.00%,#ff4040 55.00% 55.33%,#ff5555 55.33% 56.00%,#ffbfbf 56.00% 56.33%,#ff6a6a 56.33% 56.67%,#aaaaff 56.67% 57.00%,#d4d4ff 57.00% 57.33%,#ffeaea 57.33% 57.67%,#ffaaaa 57.67% 58.00%,#ffbfbf 58.00% 58.33%,#ffffff 58.33% 59.00%,#ff8080 59.00% 59.33%,#ff5555 59.33% 59.67%,#ffbfbf 59.67% 60.00%,#ffeaea 60.00% 60.33%,#ff9595 60.33% 60.67%,#ff1515 60.67% 61.33%,#ff2a2a 61.33% 61.67%,#ff8080 61.67% 62.00%,#ff1515 62.00% 62.33%,#ff5555 62.33% 62.67%,#ff9595 62.67% 63.00%,#d4d4ff 63.00% 63.67%,#ffffff 63.67% 64.00%,#ff1515 64.00% 64.33%,#ff6a6a 64.33% 64.67%,#ff1515 64.67% 65.00%,#ff5555 65.00% 65.33%,#ff4040 65.33% 65.67%,#ff1515 65.67% 66.67%,#ff6a6a 66.67% 67.00%,#ffbfbf 67.00% 67.33%,#eaeaff 67.33% 67.67%,#1515ff 67.67% 68.00%,#bfbfff 68.00% 68.33%,#ff9595 68.33% 68.67%,#ffbfbf 68.67% 69.00%,#eaeaff 69.00% 69.33%,#ffbfbf 69.33% 69.67%,#ffeaea 69.67% 70.00%,#ff4040 70.00% 70.33%,#eaeaff 70.33% 70.67%,#ff6a6a 70.67% 71.33%,#ff9595 71.33% 71.67%,#eaeaff 71.67% 72.00%,#ff8080 72.00% 72.33%,#ff2a2a 72.33% 72.67%,#ffffff 72.67% 73.00%,#aaaaff 73.00% 73.67%,#8080ff 73.67% 74.00%,#bfbfff 74.00% 74.33%,#ffaaaa 74.33% 74.67%,#ff4040 74.67% 75.00%,#aaaaff 75.00% 75.33%,#5555ff 75.33% 75.67%,#ffbfbf 75.67% 76.00%,#ff5555 76.00% 76.67%,#ff9595 76.67% 77.00%,#ffeaea 77.00% 77.33%,#ff6a6a 77.33% 77.67%,#eaeaff 77.67% 78.33%,#ff5555 78.33% 78.67%,#ff1515 78.67% 79.00%,#ff2a2a 79.00% 79.33%,#ff4040 79.33% 79.67%,#ff8080 79.67% 80.00%,#ff2a2a 80.00% 80.33%,#ff8080 80.33% 80.67%,#ff1515 80.67% 88.67%,#ff5555 88.67% 89.33%,#ff1515 89.33% 94.00%,#ff2a2a 94.00% 94.33%,#ff1515 94.33% 94.67%,#ff6a6a 94.67% 95.00%,#ff4040 95.00% 95.67%,#ff1515 95.67% 97.67%,#ff4040 97.67% 98.33%,#ff1515 98.33% 100.00%)"></div><div class="hm" style="left:1191.0px;top:493.27px;width:622.5px;height:30.73px;background:linear-gradient(90deg,#1515ff 0.00% 4.00%,#4040ff 4.00% 4.33%,#1515ff 4.33% 5.67%,#aaaaff 5.67% 6.00%,#bfbfff 6.00% 6.33%,#8080ff 6.33% 6.67%,#1515ff 6.67% 8.33%,#2a2aff 8.33% 9.00%,#8080ff 9.00% 9.33%,#1515ff 9.33% 14.33%,#2a2aff 14.33% 15.33%,#5555ff 15.33% 16.00%,#1515ff 16.00% 17.33%,#6a6aff 17.33% 17.67%,#4040ff 17.67% 18.00%,#1515ff 18.00% 18.33%,#4040ff 18.33% 18.67%,#aaaaff 18.67% 19.00%,#1515ff 19.00% 19.67%,#5555ff 19.67% 20.00%,#aaaaff 20.00% 20.33%,#6a6aff 20.33% 20.67%,#5555ff 20.67% 21.00%,#2a2aff 21.00% 21.33%,#6a6aff 21.33% 22.00%,#1515ff 22.00% 22.33%,#aaaaff 22.33% 22.67%,#2a2aff 22.67% 23.00%,#1515ff 23.00% 23.33%,#8080ff 23.33% 23.67%,#2a2aff 23.67% 24.00%,#4040ff 24.00% 24.33%,#2a2aff 24.33% 24.67%,#1515ff 24.67% 25.00%,#ffffff 25.00% 25.33%,#1515ff 25.33% 25.67%,#9595ff 25.67% 26.00%,#5555ff 26.00% 26.33%,#aaaaff 26.33% 26.67%,#ffeaea 26.67% 27.33%,#6a6aff 27.33% 27.67%,#1515ff 27.67% 28.00%,#6a6aff 28.00% 28.33%,#aaaaff 28.33% 28.67%,#1515ff 28.67% 29.00%,#aaaaff 29.00% 29.33%,#5555ff 29.33% 29.67%,#ffbfbf 29.67% 30.00%,#ff8080 30.00% 30.33%,#ffeaea 30.33% 30.67%,#aaaaff 30.67% 31.00%,#bfbfff 31.00% 31.33%,#aaaaff 31.33% 31.67%,#ff5555 31.67% 32.00%,#ffffff 32.00% 32.33%,#ffd4d4 32.33% 33.33%,#d4d4ff 33.33% 33.67%,#6a6aff 33.67% 34.00%,#bfbfff 34.00% 34.33%,#eaeaff 34.33% 34.67%,#ffd4d4 34.67% 35.00%,#d4d4ff 35.00% 35.33%,#ffeaea 35.33% 35.67%,#aaaaff 35.67% 36.00%,#d4d4ff 36.00% 36.33%,#aaaaff 36.33% 37.00%,#8080ff 37.00% 37.33%,#bfbfff 37.33% 37.67%,#ffeaea 37.67% 38.00%,#d4d4ff 38.00% 38.33%,#ffffff 38.33% 38.67%,#ffd4d4 38.67% 39.33%,#ffeaea 39.33% 39.67%,#ffaaaa 39.67% 40.00%,#bfbfff 40.00% 40.33%,#d4d4ff 40.33% 40.67%,#eaeaff 40.67% 41.00%,#ffd4d4 41.00% 41.33%,#ffaaaa 41.33% 41.67%,#ff4040 41.67% 42.00%,#ffaaaa 42.00% 42.33%,#ff6a6a 42.33% 42.67%,#ffeaea 42.67% 43.00%,#ffbfbf 43.00% 43.33%,#ff5555 43.33% 43.67%,#ff1515 43.67% 44.00%,#ff4040 44.00% 44.33%,#ffbfbf 44.33% 44.67%,#ffd4d4 44.67% 45.00%,#ffaaaa 45.00% 45.33%,#ffbfbf 45.33% 45.67%,#ffaaaa 45.67% 46.00%,#ffeaea 46.00% 46.33%,#ffd4d4 46.33% 46.67%,#ff9595 46.67% 47.00%,#ffaaaa 47.00% 48.00%,#ff8080 48.00% 48.33%,#ffd4d4 48.33% 48.67%,#ffeaea 48.67% 49.00%,#ff6a6a 49.00% 49.33%,#ff9595 49.33% 49.67%,#ff8080 49.67% 50.00%,#ff6a6a 50.00% 50.33%,#ffaaaa 50.33% 50.67%,#ff5555 50.67% 51.00%,#ff9595 51.00% 51.33%,#ffffff 51.33% 51.67%,#8080ff 51.67% 52.00%,#ffffff 52.00% 52.33%,#ff9595 52.33% 52.67%,#ff4040 52.67% 53.00%,#ffd4d4 53.00% 53.33%,#ff6a6a 53.33% 53.67%,#ff9595 53.67% 54.00%,#ff8080 54.00% 54.33%,#ff1515 54.33% 54.67%,#ff4040 54.67% 55.00%,#ff2a2a 55.00% 55.33%,#ff1515 55.33% 55.67%,#ff2a2a 55.67% 56.00%,#ff6a6a 56.00% 56.33%,#ff1515 56.33% 56.67%,#ffd4d4 56.67% 57.00%,#d4d4ff 57.00% 57.33%,#ffd4d4 57.33% 57.67%,#ff6a6a 57.67% 58.00%,#ff9595 58.00% 58.33%,#ffbfbf 58.33% 58.67%,#ff4040 58.67% 59.00%,#ff6a6a 59.00% 59.33%,#ffd4d4 59.33% 59.67%,#ffffff 59.67% 60.00%,#9595ff 60.00% 60.33%,#aaaaff 60.33% 60.67%,#ffaaaa 60.67% 61.00%,#ffffff 61.00% 61.33%,#ffd4d4 61.33% 61.67%,#ffffff 61.67% 62.00%,#eaeaff 62.00% 62.33%,#ff5555 62.33% 62.67%,#ff1515 62.67% 63.00%,#eaeaff 63.00% 63.67%,#ffaaaa 63.67% 64.00%,#ff5555 64.00% 64.33%,#eaeaff 64.33% 64.67%,#ffffff 64.67% 65.00%,#aaaaff 65.00% 65.33%,#ffffff 65.33% 65.67%,#ff8080 65.67% 66.00%,#ff2a2a 66.00% 66.33%,#ff1515 66.33% 66.67%,#ffaaaa 66.67% 67.00%,#ff5555 67.00% 67.33%,#ff2a2a 67.33% 67.67%,#ffd4d4 67.67% 68.00%,#aaaaff 68.00% 68.33%,#bfbfff 68.33% 68.67%,#aaaaff 68.67% 69.00%,#ffeaea 69.00% 69.33%,#ffd4d4 69.33% 69.67%,#ffeaea 69.67% 70.00%,#ff1515 70.00% 70.33%,#ff2a2a 70.33% 70.67%,#ff8080 70.67% 71.00%,#ff1515 71.00% 71.33%,#ff9595 71.33% 71.67%,#ffffff 71.67% 72.00%,#ff6a6a 72.00% 72.33%,#ff8080 72.33% 72.67%,#ffd4d4 72.67% 73.00%,#ff1515 73.00% 73.67%,#ffbfbf 73.67% 74.00%,#ff9595 74.00% 74.33%,#ff4040 74.33% 74.67%,#ffbfbf 74.67% 75.00%,#d4d4ff 75.00% 75.33%,#aaaaff 75.33% 75.67%,#ffd4d4 75.67% 76.00%,#ff9595 76.00% 76.33%,#ff5555 76.33% 77.00%,#d4d4ff 77.00% 77.33%,#9595ff 77.33% 77.67%,#ffffff 77.67% 78.00%,#ff8080 78.00% 78.33%,#ff4040 78.33% 78.67%,#ffbfbf 78.67% 79.00%,#ff4040 79.00% 79.33%,#ff1515 79.33% 86.67%,#ff4040 86.67% 87.33%,#ff1515 87.33% 88.67%,#ff2a2a 88.67% 89.00%,#ff1515 89.00% 90.00%,#ff4040 90.00% 90.33%,#ff5555 90.33% 91.00%,#ff4040 91.00% 91.33%,#ff1515 91.33% 91.67%,#ff2a2a 91.67% 92.00%,#ff1515 92.00% 94.67%,#ff2a2a 94.67% 95.00%,#ff1515 95.00% 95.33%,#ff4040 95.33% 96.00%,#ff2a2a 96.00% 96.33%,#ff1515 96.33% 97.67%,#ff2a2a 97.67% 98.00%,#ff4040 98.00% 98.33%,#ff1515 98.33% 100.00%)"></div><div class="hm" style="left:1191.0px;top:523.70px;width:622.5px;height:30.73px;background:linear-gradient(90deg,#1515ff 0.00% 3.33%,#2a2aff 3.33% 3.67%,#1515ff 3.67% 5.00%,#2a2aff 5.00% 5.33%,#5555ff 5.33% 5.67%,#4040ff 5.67% 6.00%,#1515ff 6.00% 6.33%,#5555ff 6.33% 6.67%,#1515ff 6.67% 11.33%,#4040ff 11.33% 11.67%,#2a2aff 11.67% 12.00%,#1515ff 12.00% 13.33%,#4040ff 13.33% 14.00%,#1515ff 14.00% 14.33%,#2a2aff 14.33% 14.67%,#1515ff 14.67% 17.33%,#ffffff 17.33% 17.67%,#2a2aff 17.67% 18.00%,#1515ff 18.00% 18.33%,#4040ff 18.33% 18.67%,#1515ff 18.67% 19.00%,#9595ff 19.00% 19.33%,#6a6aff 19.33% 19.67%,#8080ff 19.67% 20.00%,#aaaaff 20.00% 20.33%,#1515ff 20.33% 22.67%,#6a6aff 22.67% 23.00%,#aaaaff 23.00% 23.33%,#ffffff 23.33% 23.67%,#aaaaff 23.67% 24.00%,#bfbfff 24.00% 24.33%,#2a2aff 24.33% 24.67%,#6a6aff 24.67% 25.00%,#8080ff 25.00% 25.67%,#ffffff 25.67% 26.00%,#1515ff 26.00% 27.00%,#5555ff 27.00% 27.33%,#1515ff 27.33% 27.67%,#ffffff 27.67% 28.00%,#5555ff 28.00% 28.33%,#d4d4ff 28.33% 28.67%,#9595ff 28.67% 29.00%,#d4d4ff 29.00% 29.33%,#9595ff 29.33% 29.67%,#bfbfff 29.67% 30.00%,#5555ff 30.00% 30.33%,#9595ff 30.33% 30.67%,#1515ff 30.67% 31.00%,#2a2aff 31.00% 31.33%,#9595ff 31.33% 31.67%,#d4d4ff 31.67% 32.00%,#ffffff 32.00% 32.33%,#eaeaff 32.33% 33.00%,#ffd4d4 33.00% 33.33%,#eaeaff 33.33% 33.67%,#9595ff 33.67% 34.00%,#8080ff 34.00% 34.33%,#d4d4ff 34.33% 34.67%,#ffffff 34.67% 35.00%,#ffbfbf 35.00% 35.33%,#ffeaea 35.33% 35.67%,#ffffff 35.67% 36.00%,#ffeaea 36.00% 36.33%,#ffffff 36.33% 36.67%,#8080ff 36.67% 37.00%,#5555ff 37.00% 37.33%,#aaaaff 37.33% 37.67%,#ffffff 37.67% 38.00%,#eaeaff 38.00% 38.33%,#bfbfff 38.33% 38.67%,#ffffff 38.67% 39.00%,#d4d4ff 39.00% 39.33%,#eaeaff 39.33% 40.00%,#ffd4d4 40.00% 40.33%,#ffffff 40.33% 40.67%,#ffeaea 40.67% 41.00%,#eaeaff 41.00% 41.67%,#ffeaea 41.67% 42.00%,#ff9595 42.00% 42.33%,#ff6a6a 42.33% 42.67%,#ffd4d4 42.67% 43.33%,#eaeaff 43.33% 43.67%,#ff6a6a 43.67% 44.00%,#ff9595 44.00% 44.67%,#ffaaaa 44.67% 45.00%,#ff6a6a 45.00% 45.33%,#ff9595 45.33% 45.67%,#ffbfbf 45.67% 46.00%,#ffffff 46.00% 46.33%,#d4d4ff 46.33% 47.00%,#ffd4d4 47.00% 47.33%,#ff9595 47.33% 47.67%,#ffeaea 47.67% 48.00%,#ffffff 48.00% 48.33%,#5555ff 48.33% 48.67%,#ffd4d4 48.67% 49.00%,#ffaaaa 49.00% 49.33%,#ff4040 49.33% 49.67%,#ff5555 49.67% 50.00%,#ff1515 50.00% 50.33%,#ffaaaa 50.33% 50.67%,#ff1515 50.67% 51.00%,#ff5555 51.00% 51.33%,#ff8080 51.33% 51.67%,#ffffff 51.67% 52.00%,#ff9595 52.00% 52.67%,#ff1515 52.67% 54.00%,#ffbfbf 54.00% 54.33%,#ffd4d4 54.33% 54.67%,#ffbfbf 54.67% 55.00%,#ff6a6a 55.00% 55.33%,#ff1515 55.33% 55.67%,#ff6a6a 55.67% 56.00%,#ff9595 56.00% 56.33%,#ffaaaa 56.33% 56.67%,#ff2a2a 56.67% 57.00%,#ff6a6a 57.00% 57.33%,#ff1515 57.33% 57.67%,#ff5555 57.67% 58.00%,#ffd4d4 58.00% 58.33%,#ff6a6a 58.33% 59.00%,#ffd4d4 59.00% 59.33%,#ffaaaa 59.33% 59.67%,#ffeaea 59.67% 60.00%,#8080ff 60.00% 60.33%,#eaeaff 60.33% 60.67%,#9595ff 60.67% 61.00%,#ffffff 61.00% 61.33%,#ff6a6a 61.33% 61.67%,#ffbfbf 61.67% 62.00%,#8080ff 62.00% 62.33%,#ffd4d4 62.33% 62.67%,#ff6a6a 62.67% 63.00%,#ffaaaa 63.00% 63.33%,#eaeaff 63.33% 63.67%,#8080ff 63.67% 64.00%,#ff1515 64.00% 64.33%,#ffd4d4 64.33% 64.67%,#ff6a6a 64.67% 65.00%,#ffaaaa 65.00% 65.33%,#ff8080 65.33% 65.67%,#ff9595 65.67% 66.00%,#ffbfbf 66.00% 66.33%,#ffaaaa 66.33% 66.67%,#eaeaff 66.67% 67.00%,#ffffff 67.00% 67.33%,#6a6aff 67.33% 67.67%,#9595ff 67.67% 68.00%,#bfbfff 68.00% 68.33%,#9595ff 68.33% 68.67%,#eaeaff 68.67% 69.00%,#aaaaff 69.00% 69.33%,#ffd4d4 69.33% 69.67%,#ff1515 69.67% 70.67%,#ff5555 70.67% 71.00%,#ff1515 71.00% 71.67%,#ffffff 71.67% 72.00%,#d4d4ff 72.00% 72.33%,#ff1515 72.33% 72.67%,#ff2a2a 72.67% 73.00%,#ff1515 73.00% 73.33%,#ff6a6a 73.33% 73.67%,#ff9595 73.67% 74.00%,#eaeaff 74.00% 74.33%,#ffeaea 74.33% 74.67%,#ff4040 74.67% 75.00%,#ffd4d4 75.00% 75.33%,#6a6aff 75.33% 75.67%,#ffbfbf 75.67% 76.00%,#ff4040 76.00% 76.33%,#ff1515 76.33% 77.00%,#ff8080 77.00% 77.33%,#ffbfbf 77.33% 77.67%,#ff9595 77.67% 78.00%,#ffbfbf 78.00% 78.33%,#ff9595 78.33% 79.00%,#ffaaaa 79.00% 79.33%,#ff2a2a 79.33% 79.67%,#ff1515 79.67% 80.33%,#ff4040 80.33% 81.00%,#ff1515 81.00% 83.00%,#ff4040 83.00% 83.33%,#ff2a2a 83.33% 83.67%,#ff1515 83.67% 88.33%,#ff5555 88.33% 88.67%,#ff9595 88.67% 89.00%,#ff1515 89.00% 90.00%,#ff2a2a 90.00% 90.67%,#ff5555 90.67% 91.00%,#ff1515 91.00% 94.33%,#ff2a2a 94.33% 94.67%,#ff1515 94.67% 95.00%,#ff2a2a 95.00% 95.33%,#ff1515 95.33% 95.67%,#ff4040 95.67% 96.00%,#ff1515 96.00% 98.00%,#ff2a2a 98.00% 98.33%,#ff1515 98.33% 100.00%)"></div><div class="hm" style="left:1191.0px;top:554.13px;width:622.5px;height:30.73px;background:linear-gradient(90deg,#1515ff 0.00% 3.67%,#4040ff 3.67% 4.00%,#1515ff 4.00% 5.33%,#5555ff 5.33% 5.67%,#1515ff 5.67% 9.00%,#6a6aff 9.00% 9.33%,#1515ff 9.33% 9.67%,#5555ff 9.67% 10.00%,#1515ff 10.00% 11.67%,#9595ff 11.67% 12.00%,#1515ff 12.00% 13.67%,#2a2aff 13.67% 14.00%,#8080ff 14.00% 14.33%,#1515ff 14.33% 17.33%,#2a2aff 17.33% 17.67%,#1515ff 17.67% 18.00%,#2a2aff 18.00% 18.67%,#bfbfff 18.67% 19.67%,#6a6aff 19.67% 20.00%,#2a2aff 20.00% 20.33%,#1515ff 20.33% 22.00%,#2a2aff 22.00% 22.33%,#1515ff 22.33% 23.33%,#bfbfff 23.33% 23.67%,#9595ff 23.67% 24.00%,#4040ff 24.00% 24.33%,#6a6aff 24.33% 24.67%,#4040ff 24.67% 25.00%,#1515ff 25.00% 26.00%,#2a2aff 26.00% 26.33%,#4040ff 26.33% 26.67%,#6a6aff 26.67% 27.00%,#9595ff 27.00% 27.33%,#1515ff 27.33% 28.00%,#8080ff 28.00% 28.33%,#ffd4d4 28.33% 28.67%,#8080ff 28.67% 29.00%,#d4d4ff 29.00% 29.33%,#ffffff 29.33% 29.67%,#ffeaea 29.67% 30.00%,#ffffff 30.00% 30.33%,#ffd4d4 30.33% 30.67%,#d4d4ff 30.67% 31.00%,#ffffff 31.00% 31.33%,#bfbfff 31.33% 31.67%,#8080ff 31.67% 32.00%,#aaaaff 32.00% 32.33%,#eaeaff 32.33% 33.33%,#ffffff 33.33% 33.67%,#eaeaff 33.67% 34.00%,#9595ff 34.00% 34.33%,#d4d4ff 34.33% 34.67%,#ffffff 34.67% 35.00%,#eaeaff 35.00% 35.33%,#ffeaea 35.33% 35.67%,#9595ff 35.67% 36.00%,#aaaaff 36.00% 36.33%,#ffffff 36.33% 36.67%,#eaeaff 36.67% 37.00%,#aaaaff 37.00% 37.33%,#6a6aff 37.33% 37.67%,#ffffff 37.67% 38.00%,#d4d4ff 38.00% 38.33%,#eaeaff 38.33% 38.67%,#ff9595 38.67% 39.00%,#9595ff 39.00% 39.33%,#ffffff 39.33% 39.67%,#ffaaaa 39.67% 40.00%,#bfbfff 40.00% 40.33%,#ffd4d4 40.33% 40.67%,#aaaaff 40.67% 41.00%,#bfbfff 41.00% 41.33%,#d4d4ff 41.33% 41.67%,#ff4040 41.67% 42.00%,#ff8080 42.00% 42.67%,#ffaaaa 42.67% 43.00%,#ffffff 43.00% 43.33%,#ff9595 43.33% 43.67%,#ff1515 43.67% 44.00%,#ffaaaa 44.00% 44.33%,#ffd4d4 44.33% 44.67%,#ff8080 44.67% 45.00%,#ff6a6a 45.00% 45.33%,#ff5555 45.33% 46.00%,#ff9595 46.00% 46.33%,#eaeaff 46.33% 46.67%,#ff9595 46.67% 47.00%,#ffaaaa 47.00% 47.33%,#ff5555 47.33% 47.67%,#ff8080 47.67% 48.33%,#ffbfbf 48.33% 48.67%,#ffd4d4 48.67% 49.67%,#ffaaaa 49.67% 50.00%,#ffd4d4 50.00% 50.33%,#ffbfbf 50.33% 51.00%,#ffaaaa 51.00% 52.00%,#ff4040 52.00% 52.33%,#ff1515 52.33% 52.67%,#ff9595 52.67% 53.00%,#ff8080 53.00% 53.33%,#ff4040 53.33% 53.67%,#ffffff 53.67% 54.00%,#ff1515 54.00% 54.33%,#ff4040 54.33% 54.67%,#ffd4d4 54.67% 55.00%,#ff6a6a 55.00% 55.33%,#ffffff 55.33% 55.67%,#ffbfbf 55.67% 56.00%,#ffeaea 56.00% 56.33%,#ff9595 56.33% 57.00%,#ffbfbf 57.00% 57.33%,#ff9595 57.33% 57.67%,#ff1515 57.67% 58.00%,#ff6a6a 58.00% 58.33%,#ff8080 58.33% 58.67%,#ff1515 58.67% 59.00%,#ff9595 59.00% 59.33%,#ff6a6a 59.33% 59.67%,#1515ff 59.67% 60.00%,#8080ff 60.00% 60.33%,#ffffff 60.33% 61.00%,#bfbfff 61.00% 61.33%,#ff9595 61.33% 61.67%,#bfbfff 61.67% 62.00%,#ff1515 62.00% 63.67%,#ffaaaa 63.67% 64.00%,#ff1515 64.00% 64.33%,#d4d4ff 64.33% 64.67%,#ff9595 64.67% 65.00%,#ff4040 65.00% 65.33%,#ff5555 65.33% 65.67%,#ff9595 65.67% 66.00%,#ff8080 66.00% 66.33%,#ff1515 66.33% 66.67%,#ffbfbf 66.67% 67.00%,#9595ff 67.00% 67.33%,#8080ff 67.33% 67.67%,#9595ff 67.67% 68.00%,#ffaaaa 68.00% 68.33%,#ff1515 68.33% 69.00%,#ffffff 69.00% 69.33%,#ff8080 69.33% 69.67%,#ff4040 69.67% 70.00%,#ff1515 70.00% 70.33%,#ff5555 70.33% 71.00%,#ff1515 71.00% 71.67%,#ff5555 71.67% 72.00%,#ff9595 72.00% 72.33%,#ff5555 72.33% 72.67%,#ff8080 72.67% 73.00%,#ffffff 73.00% 73.33%,#ffaaaa 73.33% 73.67%,#bfbfff 73.67% 74.00%,#ff9595 74.00% 74.33%,#ff4040 74.33% 74.67%,#ff1515 74.67% 75.00%,#ffeaea 75.00% 75.33%,#ff6a6a 75.33% 75.67%,#ffbfbf 75.67% 76.00%,#ff1515 76.00% 76.33%,#ff2a2a 76.33% 76.67%,#ff1515 76.67% 77.00%,#ffaaaa 77.00% 77.33%,#ff9595 77.33% 77.67%,#ff6a6a 77.67% 78.00%,#ff4040 78.00% 78.33%,#ff1515 78.33% 79.00%,#ff2a2a 79.00% 79.33%,#ff1515 79.33% 81.00%,#ff4040 81.00% 81.33%,#ff1515 81.33% 82.67%,#ff2a2a 82.67% 83.00%,#ff1515 83.00% 87.33%,#ff4040 87.33% 87.67%,#ff2a2a 87.67% 88.00%,#ff1515 88.00% 88.67%,#ff2a2a 88.67% 89.00%,#ff1515 89.00% 90.67%,#ff4040 90.67% 91.00%,#ff5555 91.00% 91.33%,#ff4040 91.33% 91.67%,#ff1515 91.67% 94.33%,#ff9595 94.33% 94.67%,#ff2a2a 94.67% 95.33%,#ff4040 95.33% 95.67%,#ff1515 95.67% 100.00%)"></div><div class="hm" style="left:1191.0px;top:584.56px;width:622.5px;height:30.73px;background:linear-gradient(90deg,#1515ff 0.00% 3.67%,#4040ff 3.67% 4.00%,#1515ff 4.00% 5.33%,#9595ff 5.33% 5.67%,#2a2aff 5.67% 6.00%,#1515ff 6.00% 8.67%,#2a2aff 8.67% 9.00%,#1515ff 9.00% 11.67%,#9595ff 11.67% 12.00%,#5555ff 12.00% 12.33%,#2a2aff 12.33% 13.00%,#1515ff 13.00% 13.67%,#2a2aff 13.67% 14.00%,#5555ff 14.00% 14.33%,#8080ff 14.33% 14.67%,#bfbfff 14.67% 15.00%,#5555ff 15.00% 15.33%,#6a6aff 15.33% 15.67%,#1515ff 15.67% 16.00%,#2a2aff 16.00% 16.33%,#1515ff 16.33% 16.67%,#4040ff 16.67% 17.00%,#8080ff 17.00% 17.33%,#bfbfff 17.33% 17.67%,#2a2aff 17.67% 18.00%,#1515ff 18.00% 18.67%,#6a6aff 18.67% 19.00%,#9595ff 19.00% 19.33%,#6a6aff 19.33% 19.67%,#1515ff 19.67% 23.00%,#9595ff 23.00% 23.67%,#1515ff 23.67% 26.33%,#ffffff 26.33% 26.67%,#8080ff 26.67% 27.00%,#1515ff 27.00% 28.00%,#5555ff 28.00% 28.33%,#1515ff 28.33% 28.67%,#9595ff 28.67% 29.00%,#2a2aff 29.00% 29.33%,#1515ff 29.33% 29.67%,#9595ff 29.67% 30.00%,#ff6a6a 30.00% 30.33%,#ffbfbf 30.33% 30.67%,#bfbfff 30.67% 31.00%,#aaaaff 31.00% 31.33%,#eaeaff 31.33% 32.00%,#ffffff 32.00% 32.33%,#bfbfff 32.33% 32.67%,#d4d4ff 32.67% 33.00%,#ffd4d4 33.00% 33.33%,#aaaaff 33.33% 33.67%,#6a6aff 33.67% 34.33%,#8080ff 34.33% 34.67%,#eaeaff 34.67% 35.00%,#aaaaff 35.00% 35.67%,#eaeaff 35.67% 36.00%,#d4d4ff 36.00% 36.67%,#bfbfff 36.67% 37.00%,#aaaaff 37.00% 37.33%,#ffeaea 37.33% 37.67%,#ffd4d4 37.67% 38.00%,#ffeaea 38.00% 38.33%,#bfbfff 38.33% 38.67%,#ffbfbf 38.67% 39.00%,#ffffff 39.00% 39.33%,#eaeaff 39.33% 40.33%,#bfbfff 40.33% 40.67%,#6a6aff 40.67% 41.00%,#ffaaaa 41.00% 41.67%,#ff9595 41.67% 42.33%,#ff8080 42.33% 42.67%,#9595ff 42.67% 43.00%,#d4d4ff 43.00% 43.33%,#ffffff 43.33% 43.67%,#ff9595 43.67% 44.00%,#d4d4ff 44.00% 44.33%,#ffeaea 44.33% 44.67%,#ff9595 44.67% 45.00%,#ff8080 45.00% 45.33%,#ffaaaa 45.33% 46.00%,#ffeaea 46.00% 46.33%,#ffd4d4 46.33% 47.33%,#ffaaaa 47.33% 47.67%,#d4d4ff 47.67% 48.00%,#ffbfbf 48.00% 48.33%,#ffffff 48.33% 48.67%,#ffd4d4 48.67% 49.00%,#ff8080 49.00% 49.33%,#ffffff 49.33% 49.67%,#ff8080 49.67% 50.00%,#aaaaff 50.00% 50.33%,#d4d4ff 50.33% 50.67%,#bfbfff 50.67% 51.00%,#ffbfbf 51.00% 51.33%,#ff6a6a 51.33% 51.67%,#ffeaea 51.67% 52.00%,#ff9595 52.00% 52.33%,#ff4040 52.33% 52.67%,#ffeaea 52.67% 53.00%,#ff5555 53.00% 53.67%,#ff2a2a 53.67% 54.00%,#ff8080 54.00% 54.33%,#ff9595 54.33% 54.67%,#ff5555 54.67% 55.00%,#ff1515 55.00% 55.33%,#ff5555 55.33% 55.67%,#ff9595 55.67% 56.00%,#ff1515 56.00% 56.33%,#ff8080 56.33% 56.67%,#ffbfbf 56.67% 57.00%,#eaeaff 57.00% 57.33%,#ffbfbf 57.33% 57.67%,#ffffff 57.67% 58.00%,#ffaaaa 58.00% 58.33%,#ff2a2a 58.33% 58.67%,#ff1515 58.67% 59.00%,#ffaaaa 59.00% 59.33%,#ffbfbf 59.33% 59.67%,#ff6a6a 59.67% 60.00%,#ff4040 60.00% 60.33%,#ff6a6a 60.33% 60.67%,#eaeaff 60.67% 61.00%,#d4d4ff 61.00% 61.33%,#ff8080 61.33% 61.67%,#ff4040 61.67% 62.00%,#ff2a2a 62.00% 62.33%,#ff1515 62.33% 63.00%,#ffd4d4 63.00% 63.33%,#eaeaff 63.33% 63.67%,#ffeaea 63.67% 64.00%,#ff1515 64.00% 64.67%,#ff2a2a 64.67% 65.00%,#ff8080 65.00% 65.33%,#ffaaaa 65.33% 65.67%,#ff1515 65.67% 66.00%,#ff8080 66.00% 66.33%,#ff1515 66.33% 66.67%,#ff8080 66.67% 67.33%,#ff1515 67.33% 67.67%,#ffd4d4 67.67% 68.00%,#ff1515 68.00% 68.33%,#ff9595 68.33% 68.67%,#ffd4d4 68.67% 69.00%,#8080ff 69.00% 69.33%,#ff6a6a 69.33% 69.67%,#ff9595 69.67% 70.00%,#ff1515 70.00% 70.33%,#ffbfbf 70.33% 70.67%,#d4d4ff 70.67% 71.00%,#ff5555 71.00% 71.33%,#ff8080 71.33% 71.67%,#9595ff 71.67% 72.00%,#d4d4ff 72.00% 72.33%,#ffaaaa 72.33% 72.67%,#ffbfbf 72.67% 73.00%,#ffaaaa 73.00% 73.33%,#eaeaff 73.33% 73.67%,#bfbfff 73.67% 74.00%,#ffeaea 74.00% 74.33%,#ff1515 74.33% 75.00%,#ffffff 75.00% 75.33%,#aaaaff 75.33% 75.67%,#ffaaaa 75.67% 76.00%,#ff1515 76.00% 76.67%,#ff4040 76.67% 77.00%,#ff5555 77.00% 77.33%,#ff2a2a 77.33% 77.67%,#ff1515 77.67% 78.00%,#ff6a6a 78.00% 78.33%,#ff1515 78.33% 78.67%,#ff8080 78.67% 79.33%,#ff6a6a 79.33% 79.67%,#ff5555 79.67% 80.33%,#ff4040 80.33% 80.67%,#ff2a2a 80.67% 81.33%,#ff1515 81.33% 88.00%,#ff2a2a 88.00% 88.33%,#ff4040 88.33% 88.67%,#ff1515 88.67% 90.33%,#ff2a2a 90.33% 90.67%,#ff1515 90.67% 93.00%,#ff2a2a 93.00% 93.33%,#ff5555 93.33% 93.67%,#ff1515 93.67% 94.33%,#ff6a6a 94.33% 94.67%,#ff2a2a 94.67% 95.33%,#ff1515 95.33% 98.33%,#ff2a2a 98.33% 98.67%,#ff1515 98.67% 100.00%)"></div><div class="hm" style="left:1191.0px;top:614.99px;width:622.5px;height:30.73px;background:linear-gradient(90deg,#1515ff 0.00% 4.00%,#2a2aff 4.00% 4.33%,#1515ff 4.33% 5.33%,#2a2aff 5.33% 5.67%,#1515ff 5.67% 6.33%,#5555ff 6.33% 6.67%,#1515ff 6.67% 7.00%,#4040ff 7.00% 7.33%,#1515ff 7.33% 9.00%,#5555ff 9.00% 9.33%,#1515ff 9.33% 12.00%,#5555ff 12.00% 12.33%,#1515ff 12.33% 14.00%,#aaaaff 14.00% 14.33%,#4040ff 14.33% 14.67%,#1515ff 14.67% 15.00%,#4040ff 15.00% 15.33%,#2a2aff 15.33% 15.67%,#1515ff 15.67% 17.33%,#6a6aff 17.33% 17.67%,#1515ff 17.67% 18.67%,#2a2aff 18.67% 19.33%,#9595ff 19.33% 19.67%,#8080ff 19.67% 20.00%,#4040ff 20.00% 20.33%,#1515ff 20.33% 23.33%,#5555ff 23.33% 23.67%,#d4d4ff 23.67% 24.00%,#4040ff 24.00% 24.33%,#1515ff 24.33% 26.00%,#4040ff 26.00% 26.33%,#1515ff 26.33% 26.67%,#4040ff 26.67% 27.00%,#1515ff 27.00% 27.67%,#5555ff 27.67% 28.00%,#6a6aff 28.00% 28.33%,#ffd4d4 28.33% 28.67%,#ffffff 28.67% 29.00%,#ff9595 29.00% 29.33%,#ffffff 29.33% 29.67%,#ffd4d4 29.67% 30.00%,#eaeaff 30.00% 30.33%,#d4d4ff 30.33% 31.33%,#ffbfbf 31.33% 31.67%,#ffd4d4 31.67% 32.00%,#ffaaaa 32.00% 32.33%,#ffeaea 32.33% 32.67%,#d4d4ff 32.67% 33.00%,#eaeaff 33.00% 33.33%,#ffd4d4 33.33% 33.67%,#ffeaea 33.67% 34.00%,#bfbfff 34.00% 34.33%,#aaaaff 34.33% 34.67%,#eaeaff 34.67% 35.00%,#ffd4d4 35.00% 35.33%,#ffaaaa 35.33% 35.67%,#bfbfff 35.67% 36.00%,#d4d4ff 36.00% 36.33%,#ffffff 36.33% 36.67%,#eaeaff 36.67% 37.00%,#d4d4ff 37.00% 37.67%,#ff8080 37.67% 38.00%,#eaeaff 38.00% 38.33%,#ffbfbf 38.33% 38.67%,#ff5555 38.67% 39.00%,#ff8080 39.00% 39.33%,#ff6a6a 39.33% 39.67%,#ff9595 39.67% 40.00%,#ffffff 40.00% 40.33%,#eaeaff 40.33% 40.67%,#9595ff 40.67% 41.00%,#ffd4d4 41.00% 41.33%,#bfbfff 41.33% 41.67%,#eaeaff 41.67% 42.00%,#ff9595 42.00% 42.33%,#ff5555 42.33% 42.67%,#ffbfbf 42.67% 43.00%,#ffaaaa 43.00% 43.33%,#ff9595 43.33% 43.67%,#ff8080 43.67% 44.00%,#bfbfff 44.00% 44.33%,#ffaaaa 44.33% 44.67%,#ff9595 44.67% 45.00%,#ffd4d4 45.00% 45.33%,#ffaaaa 45.33% 45.67%,#ffd4d4 45.67% 46.00%,#ffffff 46.00% 46.33%,#d4d4ff 46.33% 46.67%,#ffd4d4 46.67% 47.00%,#ffeaea 47.00% 47.33%,#ffd4d4 47.33% 47.67%,#ffbfbf 47.67% 48.00%,#ff9595 48.00% 48.33%,#9595ff 48.33% 48.67%,#eaeaff 48.67% 49.00%,#ffaaaa 49.00% 49.33%,#ff9595 49.33% 49.67%,#ff5555 49.67% 50.00%,#ffd4d4 50.00% 50.33%,#5555ff 50.33% 50.67%,#ffeaea 50.67% 51.00%,#ffbfbf 51.00% 51.33%,#ff8080 51.33% 51.67%,#ffeaea 51.67% 52.00%,#ffaaaa 52.00% 52.67%,#ff9595 52.67% 53.00%,#ff1515 53.00% 53.33%,#ff6a6a 53.33% 53.67%,#ffffff 53.67% 54.00%,#ff5555 54.00% 54.33%,#ffeaea 54.33% 54.67%,#4040ff 54.67% 55.00%,#6a6aff 55.00% 55.33%,#ffffff 55.33% 55.67%,#eaeaff 55.67% 56.00%,#aaaaff 56.00% 56.33%,#ffd4d4 56.33% 56.67%,#ff6a6a 56.67% 57.00%,#ffaaaa 57.00% 57.67%,#ff5555 57.67% 58.00%,#ffd4d4 58.00% 58.33%,#ffeaea 58.33% 58.67%,#ff6a6a 58.67% 59.00%,#d4d4ff 59.00% 59.33%,#ffaaaa 59.33% 59.67%,#ffbfbf 59.67% 60.00%,#d4d4ff 60.00% 60.33%,#ffffff 60.33% 60.67%,#ff8080 60.67% 61.00%,#aaaaff 61.00% 61.33%,#ffd4d4 61.33% 61.67%,#ffbfbf 61.67% 62.00%,#eaeaff 62.00% 62.33%,#ffbfbf 62.33% 62.67%,#ff6a6a 62.67% 63.00%,#ffaaaa 63.00% 63.33%,#ff8080 63.33% 63.67%,#ff1515 63.67% 64.33%,#ffaaaa 64.33% 64.67%,#eaeaff 64.67% 65.00%,#ffd4d4 65.00% 65.33%,#9595ff 65.33% 65.67%,#ff6a6a 65.67% 66.00%,#ffaaaa 66.00% 66.33%,#ff1515 66.33% 66.67%,#ffeaea 66.67% 67.00%,#ffaaaa 67.00% 67.33%,#ff8080 67.33% 68.00%,#ff9595 68.00% 68.33%,#ffaaaa 68.33% 68.67%,#ff4040 68.67% 69.00%,#ffaaaa 69.00% 69.33%,#ff6a6a 69.33% 69.67%,#ffbfbf 69.67% 70.00%,#ff8080 70.00% 70.33%,#ffd4d4 70.33% 70.67%,#eaeaff 70.67% 71.00%,#ffd4d4 71.00% 71.33%,#ffffff 71.33% 71.67%,#eaeaff 71.67% 72.00%,#ffeaea 72.00% 72.33%,#ff5555 72.33% 72.67%,#ffbfbf 72.67% 73.00%,#ff9595 73.00% 73.33%,#d4d4ff 73.33% 74.00%,#ffffff 74.00% 74.33%,#ffbfbf 74.33% 74.67%,#ff8080 74.67% 75.00%,#bfbfff 75.00% 75.33%,#aaaaff 75.33% 75.67%,#ff1515 75.67% 76.67%,#ffbfbf 76.67% 77.00%,#ffffff 77.00% 77.33%,#ffd4d4 77.33% 77.67%,#ffaaaa 77.67% 78.00%,#ff1515 78.00% 79.00%,#ff4040 79.00% 79.33%,#ff2a2a 79.33% 79.67%,#ff4040 79.67% 80.00%,#ff1515 80.00% 80.33%,#ff4040 80.33% 80.67%,#ff6a6a 80.67% 81.00%,#ff1515 81.00% 82.00%,#ff2a2a 82.00% 82.33%,#ff1515 82.33% 83.00%,#ff2a2a 83.00% 83.33%,#ff1515 83.33% 88.00%,#ff4040 88.00% 88.33%,#ff6a6a 88.33% 88.67%,#ff5555 88.67% 89.00%,#ff1515 89.00% 89.33%,#ff4040 89.33% 90.00%,#ff5555 90.00% 90.33%,#ff4040 90.33% 90.67%,#ff1515 90.67% 93.33%,#ff2a2a 93.33% 93.67%,#ff1515 93.67% 94.33%,#ff5555 94.33% 94.67%,#ff4040 94.67% 95.00%,#ff5555 95.00% 95.33%,#ff4040 95.33% 95.67%,#ff8080 95.67% 96.00%,#ff4040 96.00% 96.33%,#ff1515 96.33% 97.00%,#ff2a2a 97.00% 97.33%,#ff4040 97.33% 97.67%,#ff1515 97.67% 100.00%)"></div><div class="hm" style="left:1191.0px;top:645.42px;width:622.5px;height:30.73px;background:linear-gradient(90deg,#1515ff 0.00% 3.67%,#2a2aff 3.67% 4.00%,#1515ff 4.00% 6.33%,#5555ff 6.33% 6.67%,#1515ff 6.67% 7.33%,#4040ff 7.33% 7.67%,#aaaaff 7.67% 8.00%,#5555ff 8.00% 8.33%,#9595ff 8.33% 9.00%,#6a6aff 9.00% 9.33%,#1515ff 9.33% 14.33%,#2a2aff 14.33% 14.67%,#6a6aff 14.67% 15.33%,#1515ff 15.33% 18.67%,#2a2aff 18.67% 19.00%,#5555ff 19.00% 19.33%,#aaaaff 19.33% 19.67%,#9595ff 19.67% 20.00%,#8080ff 20.00% 20.33%,#1515ff 20.33% 21.67%,#2a2aff 21.67% 22.00%,#6a6aff 22.00% 22.33%,#4040ff 22.33% 22.67%,#9595ff 22.67% 23.00%,#6a6aff 23.00% 23.33%,#9595ff 23.33% 23.67%,#aaaaff 23.67% 24.00%,#9595ff 24.00% 24.33%,#ffffff 24.33% 24.67%,#aaaaff 24.67% 25.00%,#4040ff 25.00% 25.33%,#1515ff 25.33% 26.67%,#6a6aff 26.67% 27.00%,#1515ff 27.00% 27.67%,#2a2aff 27.67% 28.00%,#8080ff 28.00% 28.33%,#6a6aff 28.33% 28.67%,#8080ff 28.67% 29.33%,#9595ff 29.33% 29.67%,#eaeaff 29.67% 30.00%,#ffbfbf 30.00% 30.33%,#d4d4ff 30.33% 31.00%,#ffffff 31.00% 31.33%,#ffaaaa 31.33% 31.67%,#6a6aff 31.67% 32.33%,#ffd4d4 32.33% 32.67%,#5555ff 32.67% 33.00%,#ffd4d4 33.00% 33.33%,#ffffff 33.33% 33.67%,#6a6aff 33.67% 34.00%,#9595ff 34.00% 34.33%,#6a6aff 34.33% 34.67%,#aaaaff 34.67% 35.00%,#ffbfbf 35.00% 35.33%,#ffeaea 35.33% 35.67%,#6a6aff 35.67% 36.00%,#ffd4d4 36.00% 36.33%,#ffaaaa 36.33% 36.67%,#ffffff 36.67% 37.00%,#aaaaff 37.00% 37.33%,#bfbfff 37.33% 37.67%,#ff8080 37.67% 38.00%,#d4d4ff 38.00% 38.33%,#9595ff 38.33% 38.67%,#ffbfbf 38.67% 39.00%,#ffffff 39.00% 39.67%,#ffeaea 39.67% 40.00%,#bfbfff 40.00% 40.33%,#5555ff 40.33% 40.67%,#6a6aff 40.67% 41.00%,#ffd4d4 41.00% 41.33%,#ff6a6a 41.33% 41.67%,#ff5555 41.67% 42.00%,#ff9595 42.00% 42.33%,#ff4040 42.33% 42.67%,#ffaaaa 42.67% 43.00%,#ffbfbf 43.00% 43.33%,#bfbfff 43.33% 43.67%,#ffeaea 43.67% 44.00%,#eaeaff 44.00% 44.33%,#d4d4ff 44.33% 44.67%,#ffffff 44.67% 45.00%,#ff5555 45.00% 45.33%,#ff8080 45.33% 45.67%,#ffffff 45.67% 46.00%,#9595ff 46.00% 46.33%,#aaaaff 46.33% 46.67%,#bfbfff 46.67% 47.00%,#aaaaff 47.00% 47.33%,#ffaaaa 47.33% 47.67%,#ffbfbf 47.67% 48.00%,#ffaaaa 48.00% 48.33%,#ffeaea 48.33% 48.67%,#aaaaff 48.67% 49.00%,#bfbfff 49.00% 49.33%,#ffffff 49.33% 49.67%,#ff9595 49.67% 50.00%,#ff5555 50.00% 50.33%,#eaeaff 50.33% 51.00%,#ff5555 51.00% 51.33%,#ff6a6a 51.33% 51.67%,#bfbfff 51.67% 52.00%,#ffd4d4 52.00% 52.33%,#bfbfff 52.33% 53.00%,#d4d4ff 53.00% 53.33%,#eaeaff 53.33% 53.67%,#ff1515 53.67% 55.00%,#ff5555 55.00% 55.33%,#ff1515 55.33% 55.67%,#ff5555 55.67% 56.00%,#ffbfbf 56.00% 56.33%,#ffd4d4 56.33% 56.67%,#ff9595 56.67% 57.00%,#8080ff 57.00% 57.33%,#ffffff 57.33% 57.67%,#ff9595 57.67% 58.00%,#ff8080 58.00% 58.33%,#ff5555 58.33% 58.67%,#ffbfbf 58.67% 59.33%,#ffaaaa 59.33% 59.67%,#eaeaff 59.67% 60.00%,#1515ff 60.00% 60.33%,#eaeaff 60.33% 60.67%,#9595ff 60.67% 61.00%,#2a2aff 61.00% 61.33%,#ff9595 61.33% 61.67%,#ffeaea 61.67% 62.00%,#eaeaff 62.00% 62.33%,#ffbfbf 62.33% 62.67%,#ff8080 62.67% 63.00%,#eaeaff 63.00% 63.33%,#ffffff 63.33% 63.67%,#ff9595 63.67% 64.00%,#ff2a2a 64.00% 64.33%,#ffd4d4 64.33% 64.67%,#aaaaff 64.67% 65.00%,#bfbfff 65.00% 65.33%,#ffaaaa 65.33% 65.67%,#ff8080 65.67% 66.00%,#ffeaea 66.00% 66.33%,#ff1515 66.33% 66.67%,#ff4040 66.67% 67.33%,#ffbfbf 67.33% 67.67%,#ff9595 67.67% 68.00%,#ff1515 68.00% 68.67%,#ffd4d4 68.67% 69.00%,#ff4040 69.00% 69.33%,#ff6a6a 69.33% 69.67%,#ffffff 69.67% 70.00%,#ff5555 70.00% 70.33%,#ffbfbf 70.33% 70.67%,#ff8080 70.67% 71.00%,#ff1515 71.00% 71.67%,#ffeaea 71.67% 72.00%,#ffd4d4 72.00% 72.33%,#ff5555 72.33% 72.67%,#ff1515 72.67% 73.67%,#ff5555 73.67% 74.00%,#ffbfbf 74.00% 74.33%,#ffeaea 74.33% 74.67%,#ff8080 74.67% 75.00%,#d4d4ff 75.00% 75.33%,#ff8080 75.33% 76.00%,#ff2a2a 76.00% 76.33%,#ff6a6a 76.33% 76.67%,#ff1515 76.67% 77.00%,#ff5555 77.00% 77.33%,#ffaaaa 77.33% 77.67%,#ff8080 77.67% 78.00%,#ff1515 78.00% 78.33%,#ff8080 78.33% 78.67%,#ff2a2a 78.67% 79.00%,#ff1515 79.00% 80.33%,#ff4040 80.33% 80.67%,#ff1515 80.67% 81.67%,#ff2a2a 81.67% 82.00%,#ff1515 82.00% 83.00%,#ff4040 83.00% 83.33%,#ff1515 83.33% 86.67%,#ff4040 86.67% 87.00%,#ff5555 87.00% 87.33%,#ff2a2a 87.33% 87.67%,#ff1515 87.67% 88.33%,#ff2a2a 88.33% 88.67%,#ff6a6a 88.67% 89.00%,#ff2a2a 89.00% 89.33%,#ff1515 89.33% 90.33%,#ff5555 90.33% 91.00%,#ff4040 91.00% 91.33%,#ff1515 91.33% 92.00%,#ff2a2a 92.00% 92.33%,#ff1515 92.33% 95.67%,#ff2a2a 95.67% 96.00%,#ff1515 96.00% 100.00%)"></div><div class="hm" style="left:1191.0px;top:675.85px;width:622.5px;height:30.73px;background:linear-gradient(90deg,#1515ff 0.00% 5.67%,#4040ff 5.67% 6.00%,#1515ff 6.00% 7.67%,#2a2aff 7.67% 8.00%,#5555ff 8.00% 8.67%,#4040ff 8.67% 9.00%,#5555ff 9.00% 9.33%,#1515ff 9.33% 9.67%,#4040ff 9.67% 10.00%,#1515ff 10.00% 12.33%,#2a2aff 12.33% 12.67%,#1515ff 12.67% 13.33%,#2a2aff 13.33% 14.00%,#6a6aff 14.00% 14.33%,#9595ff 14.33% 14.67%,#aaaaff 14.67% 15.00%,#8080ff 15.00% 15.67%,#4040ff 15.67% 16.33%,#9595ff 16.33% 16.67%,#1515ff 16.67% 17.33%,#aaaaff 17.33% 17.67%,#4040ff 17.67% 18.00%,#1515ff 18.00% 18.67%,#6a6aff 18.67% 19.33%,#eaeaff 19.33% 19.67%,#bfbfff 19.67% 20.33%,#aaaaff 20.33% 20.67%,#1515ff 20.67% 22.00%,#2a2aff 22.00% 22.33%,#1515ff 22.33% 22.67%,#5555ff 22.67% 23.00%,#4040ff 23.00% 23.33%,#8080ff 23.33% 23.67%,#eaeaff 23.67% 24.00%,#aaaaff 24.00% 24.33%,#eaeaff 24.33% 24.67%,#d4d4ff 24.67% 25.00%,#ffd4d4 25.00% 25.33%,#ffeaea 25.33% 25.67%,#9595ff 25.67% 26.00%,#bfbfff 26.00% 26.67%,#ffeaea 26.67% 27.00%,#d4d4ff 27.00% 27.33%,#8080ff 27.33% 28.00%,#eaeaff 28.00% 28.33%,#d4d4ff 28.33% 28.67%,#ffd4d4 28.67% 29.00%,#ff9595 29.00% 29.33%,#ff6a6a 29.33% 29.67%,#ff1515 29.67% 30.33%,#ffffff 30.33% 30.67%,#eaeaff 30.67% 31.00%,#aaaaff 31.00% 31.67%,#ffd4d4 31.67% 32.00%,#ff6a6a 32.00% 32.33%,#ff1515 32.33% 32.67%,#ff6a6a 32.67% 33.00%,#ff1515 33.00% 33.67%,#ffd4d4 33.67% 34.00%,#6a6aff 34.00% 34.33%,#8080ff 34.33% 34.67%,#ffbfbf 34.67% 35.00%,#eaeaff 35.00% 35.33%,#ff9595 35.33% 35.67%,#eaeaff 35.67% 36.00%,#ffffff 36.00% 36.33%,#ffaaaa 36.33% 37.00%,#eaeaff 37.00% 37.33%,#ffaaaa 37.33% 37.67%,#ff8080 37.67% 38.00%,#ffaaaa 38.00% 38.33%,#ff4040 38.33% 38.67%,#ff1515 38.67% 39.00%,#ffeaea 39.00% 39.33%,#ffd4d4 39.33% 39.67%,#ffbfbf 39.67% 40.00%,#bfbfff 40.00% 40.33%,#9595ff 40.33% 41.00%,#ff9595 41.00% 41.33%,#ff5555 41.33% 41.67%,#ff1515 41.67% 42.67%,#ff9595 42.67% 43.00%,#ff8080 43.00% 43.33%,#ff9595 43.33% 43.67%,#ff1515 43.67% 44.00%,#ff8080 44.00% 44.33%,#ffaaaa 44.33% 44.67%,#ff6a6a 44.67% 45.00%,#ff9595 45.00% 45.33%,#ffaaaa 45.33% 45.67%,#ff5555 45.67% 46.00%,#ff9595 46.00% 46.67%,#ffd4d4 46.67% 47.00%,#ff5555 47.00% 47.33%,#ff1515 47.33% 47.67%,#eaeaff 47.67% 48.33%,#5555ff 48.33% 48.67%,#4040ff 48.67% 49.00%,#ffeaea 49.00% 49.33%,#ff6a6a 49.33% 49.67%,#ff1515 49.67% 50.00%,#ff8080 50.00% 50.33%,#ff9595 50.33% 50.67%,#ffffff 50.67% 51.00%,#ffd4d4 51.00% 51.33%,#ff9595 51.33% 51.67%,#ffeaea 51.67% 52.00%,#ff6a6a 52.00% 52.33%,#ff8080 52.33% 52.67%,#ff2a2a 52.67% 53.00%,#ff1515 53.00% 53.67%,#ff4040 53.67% 54.00%,#ff1515 54.00% 54.67%,#ff2a2a 54.67% 55.00%,#ff4040 55.00% 55.33%,#ffd4d4 55.33% 55.67%,#ff1515 55.67% 56.00%,#ff6a6a 56.00% 56.33%,#ff8080 56.33% 56.67%,#ffaaaa 56.67% 57.00%,#8080ff 57.00% 57.33%,#ff5555 57.33% 57.67%,#ff9595 57.67% 58.00%,#ffeaea 58.00% 58.33%,#ffd4d4 58.33% 58.67%,#ff5555 58.67% 59.00%,#ff2a2a 59.00% 59.67%,#ffaaaa 59.67% 60.00%,#ff8080 60.00% 60.33%,#ff5555 60.33% 60.67%,#ffaaaa 60.67% 61.00%,#ffbfbf 61.00% 61.33%,#ff8080 61.33% 61.67%,#ff5555 61.67% 62.00%,#ff8080 62.00% 62.33%,#ff6a6a 62.33% 62.67%,#ff1515 62.67% 63.67%,#ff6a6a 63.67% 64.00%,#ff5555 64.00% 64.33%,#ff8080 64.33% 64.67%,#ffeaea 64.67% 65.00%,#ffd4d4 65.00% 65.33%,#ff9595 65.33% 65.67%,#ff1515 65.67% 66.00%,#ff6a6a 66.00% 66.33%,#ff1515 66.33% 67.00%,#ff2a2a 67.00% 67.67%,#ff9595 67.67% 68.00%,#ffaaaa 68.00% 68.33%,#ffd4d4 68.33% 68.67%,#ff2a2a 68.67% 69.00%,#ffffff 69.00% 69.33%,#ff5555 69.33% 69.67%,#ff1515 69.67% 70.33%,#ff4040 70.33% 70.67%,#ff8080 70.67% 71.00%,#ff1515 71.00% 71.67%,#d4d4ff 71.67% 72.00%,#ff8080 72.00% 72.33%,#ffd4d4 72.33% 72.67%,#ffffff 72.67% 73.00%,#ffaaaa 73.00% 73.33%,#ff2a2a 73.33% 73.67%,#ffbfbf 73.67% 74.00%,#ffaaaa 74.00% 74.33%,#ffd4d4 74.33% 74.67%,#ff2a2a 74.67% 75.00%,#ffd4d4 75.00% 75.33%,#d4d4ff 75.33% 75.67%,#ff5555 75.67% 76.00%,#ff1515 76.00% 77.67%,#ff4040 77.67% 78.00%,#ff2a2a 78.00% 78.33%,#ff1515 78.33% 79.00%,#ff9595 79.00% 79.33%,#ff1515 79.33% 79.67%,#ff8080 79.67% 80.00%,#ff5555 80.00% 80.33%,#ffbfbf 80.33% 80.67%,#ffffff 80.67% 81.00%,#bfbfff 81.00% 81.33%,#ff1515 81.33% 82.00%,#ff2a2a 82.00% 82.33%,#ff5555 82.33% 83.00%,#ffbfbf 83.00% 83.33%,#ff1515 83.33% 85.67%,#ff4040 85.67% 86.00%,#ff1515 86.00% 86.67%,#ff6a6a 86.67% 87.00%,#ffaaaa 87.00% 87.33%,#ff1515 87.33% 88.00%,#ff8080 88.00% 88.33%,#9595ff 88.33% 88.67%,#2a2aff 88.67% 89.00%,#6a6aff 89.00% 89.33%,#d4d4ff 89.33% 89.67%,#ffbfbf 89.67% 90.00%,#bfbfff 90.00% 90.33%,#eaeaff 90.33% 90.67%,#1515ff 90.67% 91.00%,#bfbfff 91.00% 91.33%,#ff2a2a 91.33% 91.67%,#ff8080 91.67% 92.00%,#bfbfff 92.00% 92.33%,#ffd4d4 92.33% 92.67%,#ff1515 92.67% 93.00%,#ff6a6a 93.00% 93.33%,#ff8080 93.33% 93.67%,#ff1515 93.67% 94.33%,#ff6a6a 94.33% 94.67%,#ffd4d4 94.67% 95.00%,#ff8080 95.00% 95.33%,#ffeaea 95.33% 95.67%,#ffd4d4 95.67% 96.00%,#ffaaaa 96.00% 96.33%,#ff5555 96.33% 96.67%,#ff1515 96.67% 97.00%,#ff5555 97.00% 97.33%,#ffffff 97.33% 97.67%,#ff9595 97.67% 98.33%,#ff8080 98.33% 98.67%,#ffbfbf 98.67% 99.00%,#ff5555 99.00% 99.67%,#ff4040 99.67% 100.00%)"></div><div class="hm" style="left:1191.0px;top:706.28px;width:622.5px;height:30.73px;background:linear-gradient(90deg,#1515ff 0.00% 3.33%,#5555ff 3.33% 3.67%,#6a6aff 3.67% 4.33%,#1515ff 4.33% 5.33%,#5555ff 5.33% 5.67%,#1515ff 5.67% 6.33%,#6a6aff 6.33% 7.33%,#9595ff 7.33% 7.67%,#8080ff 7.67% 8.33%,#bfbfff 8.33% 8.67%,#5555ff 8.67% 9.00%,#1515ff 9.00% 11.67%,#6a6aff 11.67% 12.00%,#2a2aff 12.00% 12.33%,#1515ff 12.33% 14.00%,#4040ff 14.00% 14.33%,#6a6aff 14.33% 14.67%,#2a2aff 14.67% 15.00%,#5555ff 15.00% 15.33%,#4040ff 15.33% 15.67%,#6a6aff 15.67% 16.00%,#1515ff 16.00% 16.67%,#4040ff 16.67% 17.00%,#1515ff 17.00% 17.33%,#4040ff 17.33% 17.67%,#1515ff 17.67% 20.00%,#4040ff 20.00% 20.33%,#1515ff 20.33% 21.00%,#8080ff 21.00% 21.33%,#aaaaff 21.33% 21.67%,#5555ff 21.67% 22.00%,#d4d4ff 22.00% 22.33%,#1515ff 22.33% 22.67%,#2a2aff 22.67% 23.00%,#aaaaff 23.00% 23.33%,#ffbfbf 23.33% 23.67%,#ffd4d4 23.67% 24.00%,#ffeaea 24.00% 24.33%,#aaaaff 24.33% 24.67%,#bfbfff 24.67% 25.00%,#d4d4ff 25.00% 25.33%,#6a6aff 25.33% 25.67%,#1515ff 25.67% 26.00%,#d4d4ff 26.00% 26.33%,#6a6aff 26.33% 26.67%,#eaeaff 26.67% 27.00%,#d4d4ff 27.00% 27.33%,#9595ff 27.33% 28.00%,#eaeaff 28.00% 28.33%,#ffd4d4 28.33% 28.67%,#9595ff 28.67% 29.00%,#ffaaaa 29.00% 29.33%,#ffffff 29.33% 29.67%,#ff8080 29.67% 30.00%,#ff6a6a 30.00% 30.33%,#ff8080 30.33% 30.67%,#ffd4d4 30.67% 31.00%,#ff5555 31.00% 31.33%,#ffd4d4 31.33% 31.67%,#ff4040 31.67% 32.00%,#ff8080 32.00% 32.33%,#ff2a2a 32.33% 32.67%,#ffaaaa 32.67% 33.00%,#ff6a6a 33.00% 33.33%,#ff5555 33.33% 33.67%,#eaeaff 33.67% 34.00%,#4040ff 34.00% 34.33%,#9595ff 34.33% 34.67%,#ff8080 34.67% 35.33%,#ff1515 35.33% 35.67%,#ff6a6a 35.67% 36.00%,#ff1515 36.00% 36.67%,#ff4040 36.67% 37.00%,#ff6a6a 37.00% 37.33%,#ffd4d4 37.33% 37.67%,#aaaaff 37.67% 38.00%,#eaeaff 38.00% 38.33%,#bfbfff 38.33% 38.67%,#ffbfbf 38.67% 39.00%,#5555ff 39.00% 39.33%,#ffeaea 39.33% 39.67%,#ffd4d4 39.67% 40.00%,#bfbfff 40.00% 40.33%,#aaaaff 40.33% 40.67%,#6a6aff 40.67% 41.00%,#bfbfff 41.00% 41.67%,#ffeaea 41.67% 42.00%,#ffbfbf 42.00% 42.33%,#ff8080 42.33% 42.67%,#ff9595 42.67% 43.00%,#bfbfff 43.00% 43.33%,#ffffff 43.33% 43.67%,#ffbfbf 43.67% 44.00%,#ffeaea 44.00% 44.33%,#ff9595 44.33% 44.67%,#ff2a2a 44.67% 45.00%,#ff1515 45.00% 46.00%,#ffaaaa 46.00% 46.33%,#ffeaea 46.33% 46.67%,#ffbfbf 46.67% 47.00%,#ff1515 47.00% 47.33%,#ff4040 47.33% 47.67%,#ff9595 47.67% 48.00%,#ff8080 48.00% 48.33%,#d4d4ff 48.33% 48.67%,#ffd4d4 48.67% 49.00%,#ffaaaa 49.00% 49.33%,#ff5555 49.33% 50.00%,#ff2a2a 50.00% 50.33%,#ffeaea 50.33% 50.67%,#ffbfbf 50.67% 51.00%,#ff4040 51.00% 51.33%,#ff1515 51.33% 51.67%,#ff9595 51.67% 52.00%,#ff1515 52.00% 52.33%,#ff5555 52.33% 52.67%,#ff1515 52.67% 54.33%,#ff2a2a 54.33% 54.67%,#ffaaaa 54.67% 55.00%,#ff9595 55.00% 55.33%,#ffd4d4 55.33% 55.67%,#bfbfff 55.67% 56.00%,#ff6a6a 56.00% 56.33%,#ff1515 56.33% 56.67%,#ff2a2a 56.67% 57.00%,#ffffff 57.00% 57.33%,#eaeaff 57.33% 57.67%,#ffd4d4 57.67% 58.00%,#ff5555 58.00% 58.33%,#ff4040 58.33% 58.67%,#ff2a2a 58.67% 59.33%,#ff1515 59.33% 59.67%,#ff4040 59.67% 60.00%,#ff9595 60.00% 60.33%,#ff8080 60.33% 60.67%,#ff1515 60.67% 61.00%,#ff8080 61.00% 61.33%,#ffaaaa 61.33% 61.67%,#ff4040 61.67% 62.00%,#ff2a2a 62.00% 62.33%,#ff6a6a 62.33% 62.67%,#ff1515 62.67% 63.33%,#aaaaff 63.33% 63.67%,#8080ff 63.67% 64.00%,#ff5555 64.00% 64.33%,#d4d4ff 64.33% 64.67%,#ff1515 64.67% 65.00%,#ff4040 65.00% 65.33%,#ff6a6a 65.33% 65.67%,#ff1515 65.67% 66.00%,#ff5555 66.00% 66.33%,#ff2a2a 66.33% 66.67%,#ff5555 66.67% 67.00%,#ff1515 67.00% 67.33%,#ffd4d4 67.33% 67.67%,#ffbfbf 67.67% 68.33%,#ffaaaa 68.33% 68.67%,#ffd4d4 68.67% 69.00%,#eaeaff 69.00% 69.33%,#ffbfbf 69.33% 69.67%,#ffaaaa 69.67% 70.00%,#ff4040 70.00% 70.33%,#d4d4ff 70.33% 70.67%,#ff9595 70.67% 71.00%,#ffbfbf 71.00% 71.33%,#ffeaea 71.33% 71.67%,#6a6aff 71.67% 72.00%,#eaeaff 72.00% 72.33%,#ffbfbf 72.33% 72.67%,#ff2a2a 72.67% 73.00%,#ff1515 73.00% 73.33%,#ff6a6a 73.33% 74.00%,#ffbfbf 74.00% 74.33%,#ff5555 74.33% 74.67%,#ff1515 74.67% 75.00%,#ff5555 75.00% 75.33%,#ff1515 75.33% 77.00%,#ff6a6a 77.00% 77.67%,#ff8080 77.67% 78.00%,#ff2a2a 78.00% 78.67%,#ff8080 78.67% 79.00%,#ff2a2a 79.00% 79.33%,#ff5555 79.33% 79.67%,#d4d4ff 79.67% 80.00%,#ff9595 80.00% 80.33%,#d4d4ff 80.33% 80.67%,#ffd4d4 80.67% 81.00%,#ff6a6a 81.00% 81.33%,#ff1515 81.33% 81.67%,#ffbfbf 81.67% 82.00%,#ffeaea 82.00% 82.33%,#ff4040 82.33% 82.67%,#ff8080 82.67% 83.00%,#ff2a2a 83.00% 83.33%,#ff1515 83.33% 84.00%,#ffaaaa 84.00% 84.33%,#ff1515 84.33% 85.67%,#ff2a2a 85.67% 86.00%,#ff6a6a 86.00% 86.33%,#ff4040 86.33% 86.67%,#ff8080 86.67% 87.00%,#ffaaaa 87.00% 87.33%,#ffbfbf 87.33% 87.67%,#ff1515 87.67% 88.33%,#eaeaff 88.33% 88.67%,#d4d4ff 88.67% 89.00%,#ffffff 89.00% 89.33%,#ff4040 89.33% 89.67%,#ff2a2a 89.67% 90.00%,#ff4040 90.00% 90.33%,#ffffff 90.33% 90.67%,#ffbfbf 90.67% 91.00%,#ffaaaa 91.00% 91.33%,#ff1515 91.33% 93.00%,#ff4040 93.00% 93.33%,#ff2a2a 93.33% 93.67%,#ff6a6a 93.67% 94.00%,#ff9595 94.00% 94.33%,#bfbfff 94.33% 94.67%,#eaeaff 94.67% 95.00%,#ffaaaa 95.00% 95.33%,#ff9595 95.33% 95.67%,#ff4040 95.67% 96.00%,#ffbfbf 96.00% 96.33%,#ff2a2a 96.33% 96.67%,#ff1515 96.67% 97.00%,#ff6a6a 97.00% 97.33%,#ffeaea 97.33% 97.67%,#ffffff 97.67% 98.00%,#ffbfbf 98.00% 98.33%,#eaeaff 98.33% 98.67%,#ffbfbf 98.67% 99.00%,#ff5555 99.00% 99.67%,#ff4040 99.67% 100.00%)"></div><div class="hm" style="left:1191.0px;top:736.71px;width:622.5px;height:30.73px;background:linear-gradient(90deg,#1515ff 0.00% 5.33%,#aaaaff 5.33% 5.67%,#9595ff 5.67% 6.00%,#5555ff 6.00% 6.33%,#8080ff 6.33% 6.67%,#1515ff 6.67% 11.33%,#9595ff 11.33% 11.67%,#2a2aff 11.67% 12.33%,#6a6aff 12.33% 12.67%,#1515ff 12.67% 15.33%,#4040ff 15.33% 16.00%,#1515ff 16.00% 17.33%,#2a2aff 17.33% 17.67%,#1515ff 17.67% 18.67%,#bfbfff 18.67% 19.00%,#ffbfbf 19.00% 19.33%,#9595ff 19.33% 19.67%,#aaaaff 19.67% 20.00%,#2a2aff 20.00% 20.33%,#aaaaff 20.33% 20.67%,#4040ff 20.67% 21.00%,#bfbfff 21.00% 21.33%,#5555ff 21.33% 21.67%,#1515ff 21.67% 22.00%,#4040ff 22.00% 22.33%,#1515ff 22.33% 23.00%,#5555ff 23.00% 23.33%,#ffeaea 23.33% 23.67%,#4040ff 23.67% 24.00%,#5555ff 24.00% 24.33%,#ffbfbf 24.33% 24.67%,#8080ff 24.67% 25.00%,#eaeaff 25.00% 25.33%,#9595ff 25.33% 25.67%,#1515ff 25.67% 26.67%,#bfbfff 26.67% 27.00%,#6a6aff 27.00% 27.33%,#5555ff 27.33% 27.67%,#bfbfff 27.67% 28.00%,#eaeaff 28.00% 28.33%,#ffd4d4 28.33% 28.67%,#ffaaaa 28.67% 29.00%,#bfbfff 29.00% 29.33%,#d4d4ff 29.33% 29.67%,#ff5555 29.67% 30.00%,#d4d4ff 30.00% 30.33%,#bfbfff 30.33% 31.00%,#ffd4d4 31.00% 31.67%,#ff6a6a 31.67% 32.00%,#ffeaea 32.00% 32.33%,#ff1515 32.33% 32.67%,#ff6a6a 32.67% 33.00%,#ff1515 33.00% 33.67%,#ff4040 33.67% 34.33%,#ffd4d4 34.33% 34.67%,#ff9595 34.67% 35.00%,#eaeaff 35.00% 35.33%,#ff6a6a 35.33% 35.67%,#ff8080 35.67% 36.00%,#ffaaaa 36.00% 36.33%,#ffffff 36.33% 36.67%,#ff9595 36.67% 37.00%,#eaeaff 37.00% 37.67%,#ff1515 37.67% 38.00%,#ffaaaa 38.00% 38.33%,#ffd4d4 38.33% 38.67%,#ff1515 38.67% 39.00%,#ff2a2a 39.00% 39.33%,#ffeaea 39.33% 39.67%,#ff4040 39.67% 40.00%,#aaaaff 40.00% 40.33%,#ffaaaa 40.33% 40.67%,#ffbfbf 40.67% 41.00%,#ffaaaa 41.00% 41.33%,#ffeaea 41.33% 41.67%,#ffaaaa 41.67% 42.00%,#ff1515 42.00% 42.67%,#ffbfbf 42.67% 43.00%,#ff8080 43.00% 43.33%,#ff1515 43.33% 44.00%,#ff5555 44.00% 44.33%,#ff1515 44.33% 45.67%,#ffaaaa 45.67% 46.00%,#d4d4ff 46.00% 46.33%,#ffffff 46.33% 47.00%,#ffd4d4 47.00% 47.33%,#ff5555 47.33% 47.67%,#ff4040 47.67% 48.33%,#ffaaaa 48.33% 48.67%,#ffd4d4 48.67% 49.00%,#ffaaaa 49.00% 49.33%,#ff9595 49.33% 49.67%,#ff1515 49.67% 50.00%,#ffeaea 50.00% 50.33%,#ffffff 50.33% 50.67%,#ff8080 50.67% 51.00%,#ff4040 51.00% 51.33%,#ffaaaa 51.33% 51.67%,#ffeaea 51.67% 52.00%,#ff9595 52.00% 52.33%,#ffbfbf 52.33% 52.67%,#ffeaea 52.67% 53.00%,#ffbfbf 53.00% 53.33%,#ff8080 53.33% 53.67%,#ff5555 53.67% 54.00%,#ff1515 54.00% 54.33%,#ff6a6a 54.33% 55.00%,#ff8080 55.00% 55.33%,#ff5555 55.33% 55.67%,#ffaaaa 55.67% 56.33%,#ff1515 56.33% 56.67%,#ff6a6a 56.67% 57.00%,#ffeaea 57.00% 57.33%,#ffffff 57.33% 57.67%,#ff1515 57.67% 58.00%,#eaeaff 58.00% 58.33%,#aaaaff 58.33% 58.67%,#ffeaea 58.67% 59.33%,#ff1515 59.33% 60.00%,#ff9595 60.00% 60.33%,#ff2a2a 60.33% 60.67%,#ff5555 60.67% 61.00%,#bfbfff 61.00% 61.33%,#ffaaaa 61.33% 61.67%,#ff6a6a 61.67% 62.00%,#ff1515 62.00% 62.33%,#ff5555 62.33% 62.67%,#ff1515 62.67% 63.00%,#ffbfbf 63.00% 63.33%,#ff1515 63.33% 63.67%,#ff2a2a 63.67% 64.00%,#ff1515 64.00% 64.33%,#ff2a2a 64.33% 64.67%,#ff1515 64.67% 65.00%,#ff4040 65.00% 65.33%,#ffaaaa 65.33% 65.67%,#ff2a2a 65.67% 66.00%,#ff9595 66.00% 66.33%,#ff1515 66.33% 66.67%,#ffeaea 66.67% 67.00%,#ff9595 67.00% 67.33%,#ff4040 67.33% 67.67%,#ff2a2a 67.67% 68.00%,#ff1515 68.00% 68.33%,#ff2a2a 68.33% 68.67%,#ff5555 68.67% 69.00%,#ffffff 69.00% 69.33%,#ff2a2a 69.33% 69.67%,#ff1515 69.67% 70.33%,#ffd4d4 70.33% 70.67%,#ff1515 70.67% 71.67%,#ff6a6a 71.67% 72.00%,#ffaaaa 72.00% 72.33%,#ff1515 72.33% 72.67%,#ff5555 72.67% 73.00%,#ffaaaa 73.00% 73.33%,#ff1515 73.33% 73.67%,#ff8080 73.67% 74.00%,#ffbfbf 74.00% 74.33%,#ff8080 74.33% 74.67%,#eaeaff 74.67% 75.00%,#ff9595 75.00% 75.33%,#ff5555 75.33% 75.67%,#ff1515 75.67% 77.00%,#ff2a2a 77.00% 77.33%,#bfbfff 77.33% 77.67%,#ffaaaa 77.67% 78.00%,#ff2a2a 78.00% 78.67%,#ffbfbf 78.67% 79.00%,#ffeaea 79.00% 79.33%,#ffffff 79.33% 79.67%,#ffeaea 79.67% 80.00%,#ffbfbf 80.00% 80.33%,#ffd4d4 80.33% 80.67%,#ffeaea 80.67% 81.00%,#ffbfbf 81.00% 81.33%,#ff1515 81.33% 81.67%,#ff2a2a 81.67% 82.00%,#ff1515 82.00% 82.33%,#ffaaaa 82.33% 82.67%,#ff2a2a 82.67% 83.00%,#ffffff 83.00% 83.33%,#ff5555 83.33% 83.67%,#ff4040 83.67% 84.00%,#ff8080 84.00% 84.33%,#ff1515 84.33% 85.67%,#ff5555 85.67% 86.00%,#ff8080 86.00% 86.33%,#ff1515 86.33% 86.67%,#ff9595 86.67% 87.00%,#ffeaea 87.00% 87.33%,#ff9595 87.33% 87.67%,#ff1515 87.67% 88.67%,#ff6a6a 88.67% 89.00%,#ffaaaa 89.00% 89.33%,#ffd4d4 89.33% 89.67%,#ff9595 89.67% 90.00%,#ff6a6a 90.00% 90.67%,#ffaaaa 90.67% 91.00%,#d4d4ff 91.00% 91.33%,#ffeaea 91.33% 91.67%,#ff1515 91.67% 92.00%,#ff2a2a 92.00% 92.33%,#ff5555 92.33% 92.67%,#ff1515 92.67% 94.33%,#ffd4d4 94.33% 94.67%,#9595ff 94.67% 95.00%,#d4d4ff 95.00% 95.33%,#ffaaaa 95.33% 95.67%,#ff8080 95.67% 96.00%,#ff1515 96.00% 96.33%,#ff2a2a 96.33% 97.00%,#eaeaff 97.00% 97.33%,#d4d4ff 97.33% 97.67%,#ffaaaa 97.67% 98.00%,#6a6aff 98.00% 98.33%,#ffbfbf 98.33% 98.67%,#ff1515 98.67% 99.00%,#ff4040 99.00% 99.33%,#ff2a2a 99.33% 99.67%,#ff1515 99.67% 100.00%)"></div><div class="hm" style="left:1191.0px;top:767.14px;width:622.5px;height:30.73px;background:linear-gradient(90deg,#1515ff 0.00% 6.33%,#8080ff 6.33% 6.67%,#1515ff 6.67% 7.00%,#2a2aff 7.00% 7.67%,#1515ff 7.67% 8.33%,#8080ff 8.33% 8.67%,#4040ff 8.67% 9.00%,#bfbfff 9.00% 9.33%,#6a6aff 9.33% 9.67%,#bfbfff 9.67% 10.00%,#1515ff 10.00% 16.33%,#8080ff 16.33% 16.67%,#9595ff 16.67% 17.00%,#1515ff 17.00% 17.33%,#5555ff 17.33% 17.67%,#1515ff 17.67% 19.00%,#4040ff 19.00% 19.33%,#6a6aff 19.33% 19.67%,#5555ff 19.67% 20.00%,#6a6aff 20.00% 20.33%,#4040ff 20.33% 20.67%,#1515ff 20.67% 21.67%,#9595ff 21.67% 22.00%,#aaaaff 22.00% 22.33%,#eaeaff 22.33% 22.67%,#ff9595 22.67% 23.00%,#9595ff 23.00% 23.33%,#ffaaaa 23.33% 23.67%,#ff6a6a 23.67% 24.00%,#ff9595 24.00% 24.67%,#aaaaff 24.67% 25.00%,#ffd4d4 25.00% 25.33%,#ffeaea 25.33% 25.67%,#bfbfff 25.67% 26.00%,#ffffff 26.00% 26.33%,#5555ff 26.33% 26.67%,#4040ff 26.67% 27.33%,#aaaaff 27.33% 28.00%,#ff9595 28.00% 28.33%,#ff1515 28.33% 28.67%,#ffd4d4 28.67% 29.00%,#ffeaea 29.00% 29.33%,#eaeaff 29.33% 29.67%,#ff8080 29.67% 30.00%,#ff4040 30.00% 30.33%,#ffbfbf 30.33% 31.00%,#eaeaff 31.00% 31.33%,#ff8080 31.33% 31.67%,#bfbfff 31.67% 32.00%,#eaeaff 32.00% 32.33%,#ffbfbf 32.33% 32.67%,#ff9595 32.67% 33.00%,#ff4040 33.00% 33.33%,#bfbfff 33.33% 33.67%,#6a6aff 33.67% 34.00%,#5555ff 34.00% 34.33%,#ffd4d4 34.33% 34.67%,#ff1515 34.67% 35.67%,#ffffff 35.67% 36.00%,#ff9595 36.00% 36.33%,#ff8080 36.33% 36.67%,#eaeaff 36.67% 37.00%,#d4d4ff 37.00% 37.33%,#eaeaff 37.33% 37.67%,#ff5555 37.67% 38.00%,#ff9595 38.00% 38.33%,#ffeaea 38.33% 38.67%,#ffaaaa 38.67% 39.00%,#9595ff 39.00% 39.33%,#ffffff 39.33% 39.67%,#ffd4d4 39.67% 40.00%,#eaeaff 40.00% 40.33%,#ffaaaa 40.33% 40.67%,#eaeaff 40.67% 41.00%,#ffffff 41.00% 41.33%,#eaeaff 41.33% 41.67%,#ff6a6a 41.67% 42.67%,#ffeaea 42.67% 43.00%,#bfbfff 43.00% 43.33%,#ffffff 43.33% 44.00%,#9595ff 44.00% 44.33%,#ff9595 44.33% 44.67%,#ff6a6a 44.67% 45.00%,#ff2a2a 45.00% 45.33%,#ff5555 45.33% 45.67%,#ff1515 45.67% 46.00%,#ffd4d4 46.00% 46.67%,#ffeaea 46.67% 47.00%,#ffbfbf 47.00% 47.33%,#ff4040 47.33% 47.67%,#ffbfbf 47.67% 48.00%,#ff6a6a 48.00% 48.33%,#eaeaff 48.33% 48.67%,#aaaaff 48.67% 49.00%,#eaeaff 49.00% 49.67%,#ff6a6a 49.67% 50.00%,#ffaaaa 50.00% 50.33%,#aaaaff 50.33% 50.67%,#ffaaaa 50.67% 51.00%,#ff5555 51.00% 51.33%,#ff6a6a 51.33% 51.67%,#ffbfbf 51.67% 52.00%,#ff1515 52.00% 52.33%,#ff5555 52.33% 52.67%,#ff2a2a 52.67% 53.00%,#ff6a6a 53.00% 53.33%,#ff2a2a 53.33% 53.67%,#ff5555 53.67% 54.00%,#ff1515 54.00% 54.33%,#ff2a2a 54.33% 54.67%,#ffaaaa 54.67% 55.00%,#ffffff 55.00% 55.33%,#ff8080 55.33% 55.67%,#ff9595 55.67% 56.00%,#ffeaea 56.00% 56.33%,#ff1515 56.33% 57.00%,#aaaaff 57.00% 57.33%,#5555ff 57.33% 57.67%,#6a6aff 57.67% 58.00%,#eaeaff 58.00% 58.33%,#ff1515 58.33% 58.67%,#ff5555 58.67% 59.00%,#ffbfbf 59.00% 59.33%,#ff1515 59.33% 59.67%,#ff8080 59.67% 60.33%,#ff1515 60.33% 60.67%,#ff5555 60.67% 61.00%,#ff4040 61.00% 61.33%,#ff1515 61.33% 61.67%,#ff9595 61.67% 62.00%,#ffbfbf 62.00% 62.67%,#ff6a6a 62.67% 63.00%,#ffffff 63.00% 63.67%,#ffbfbf 63.67% 64.00%,#ff1515 64.00% 64.33%,#ff4040 64.33% 64.67%,#ff2a2a 64.67% 65.00%,#ff1515 65.00% 66.00%,#eaeaff 66.00% 66.33%,#ff8080 66.33% 66.67%,#ff6a6a 66.67% 67.00%,#ffd4d4 67.00% 67.33%,#ffeaea 67.33% 67.67%,#ffaaaa 67.67% 68.00%,#ff9595 68.00% 68.33%,#ffaaaa 68.33% 68.67%,#ff1515 68.67% 69.00%,#ffd4d4 69.00% 69.33%,#ff1515 69.33% 69.67%,#ff4040 69.67% 70.00%,#ff1515 70.00% 70.33%,#ff8080 70.33% 70.67%,#ffbfbf 70.67% 71.00%,#ff1515 71.00% 71.33%,#ffd4d4 71.33% 71.67%,#ffbfbf 71.67% 72.33%,#ffaaaa 72.33% 72.67%,#ff2a2a 72.67% 73.00%,#ff5555 73.00% 73.33%,#d4d4ff 73.33% 73.67%,#ffffff 73.67% 74.00%,#aaaaff 74.00% 74.33%,#eaeaff 74.33% 74.67%,#ff9595 74.67% 75.00%,#ffaaaa 75.00% 75.33%,#ffd4d4 75.33% 75.67%,#ffaaaa 75.67% 76.00%,#ff1515 76.00% 76.33%,#ff5555 76.33% 76.67%,#ff1515 76.67% 77.00%,#ff5555 77.00% 77.33%,#ffd4d4 77.33% 77.67%,#ffaaaa 77.67% 78.00%,#ffbfbf 78.00% 78.33%,#ffaaaa 78.33% 78.67%,#ffbfbf 78.67% 79.00%,#eaeaff 79.00% 79.33%,#8080ff 79.33% 79.67%,#ffffff 79.67% 80.00%,#ffd4d4 80.00% 80.33%,#ffeaea 80.33% 80.67%,#ffd4d4 80.67% 81.00%,#ff1515 81.00% 81.67%,#ff6a6a 81.67% 82.00%,#ffaaaa 82.00% 82.33%,#ffeaea 82.33% 82.67%,#ffffff 82.67% 83.00%,#9595ff 83.00% 83.33%,#ffffff 83.33% 83.67%,#ff8080 83.67% 84.00%,#ffd4d4 84.00% 84.33%,#ff1515 84.33% 85.00%,#ff6a6a 85.00% 85.33%,#ff2a2a 85.33% 85.67%,#ff4040 85.67% 86.00%,#ff1515 86.00% 86.67%,#ff4040 86.67% 87.00%,#ff8080 87.00% 87.33%,#ff2a2a 87.33% 87.67%,#ff1515 87.67% 88.00%,#eaeaff 88.00% 88.33%,#ffffff 88.33% 88.67%,#aaaaff 88.67% 89.00%,#ff9595 89.00% 89.33%,#ff8080 89.33% 89.67%,#ff9595 89.67% 90.00%,#ffaaaa 90.00% 90.33%,#ff5555 90.33% 90.67%,#d4d4ff 90.67% 91.00%,#aaaaff 91.00% 91.33%,#ffeaea 91.33% 91.67%,#ff1515 91.67% 92.67%,#ff6a6a 92.67% 93.00%,#ff8080 93.00% 93.33%,#ffbfbf 93.33% 94.00%,#eaeaff 94.00% 94.33%,#aaaaff 94.33% 95.00%,#ff1515 95.00% 95.33%,#ff4040 95.33% 95.67%,#ffaaaa 95.67% 96.00%,#ffeaea 96.00% 96.33%,#ff1515 96.33% 97.33%,#ff2a2a 97.33% 97.67%,#ff8080 97.67% 98.00%,#ffffff 98.00% 98.67%,#ffd4d4 98.67% 99.00%,#ff1515 99.00% 99.33%,#ff2a2a 99.33% 99.67%,#ff1515 99.67% 100.00%)"></div><div class="hm" style="left:1191.0px;top:797.57px;width:622.5px;height:30.73px;background:linear-gradient(90deg,#ff1515 0.00% 1.33%,#ff2a2a 1.33% 1.67%,#ff1515 1.67% 2.00%,#ff4040 2.00% 2.33%,#ff6a6a 2.33% 2.67%,#ff2a2a 2.67% 3.00%,#ff1515 3.00% 4.33%,#ff4040 4.33% 4.67%,#ff5555 4.67% 5.00%,#ff1515 5.00% 5.67%,#ff2a2a 5.67% 6.00%,#ff4040 6.00% 6.33%,#ff1515 6.33% 6.67%,#ff9595 6.67% 7.00%,#ff5555 7.00% 7.33%,#ff1515 7.33% 8.00%,#ff2a2a 8.00% 8.33%,#ff1515 8.33% 8.67%,#ff4040 8.67% 9.33%,#ff2a2a 9.33% 9.67%,#ff5555 9.67% 10.00%,#ff9595 10.00% 10.33%,#ffeaea 10.33% 10.67%,#ff8080 10.67% 11.00%,#ffd4d4 11.00% 11.33%,#ff9595 11.33% 12.00%,#ff5555 12.00% 12.67%,#ffaaaa 12.67% 13.00%,#ff9595 13.00% 13.33%,#ff6a6a 13.33% 13.67%,#ffeaea 13.67% 14.33%,#ffaaaa 14.33% 14.67%,#ffbfbf 14.67% 15.00%,#ffffff 15.00% 16.00%,#ffeaea 16.00% 16.33%,#ff6a6a 16.33% 16.67%,#eaeaff 16.67% 17.00%,#6a6aff 17.00% 17.33%,#d4d4ff 17.33% 17.67%,#ffeaea 17.67% 18.00%,#6a6aff 18.00% 18.33%,#5555ff 18.33% 18.67%,#ffaaaa 18.67% 19.00%,#ffffff 19.00% 19.33%,#ff6a6a 19.33% 19.67%,#ff5555 19.67% 20.00%,#ffffff 20.00% 20.33%,#eaeaff 20.33% 20.67%,#ffffff 20.67% 21.00%,#ff5555 21.00% 21.33%,#aaaaff 21.33% 21.67%,#9595ff 21.67% 22.00%,#ffbfbf 22.00% 22.33%,#ffaaaa 22.33% 22.67%,#ffbfbf 22.67% 23.00%,#d4d4ff 23.00% 23.33%,#ffffff 23.33% 23.67%,#8080ff 23.67% 24.00%,#1515ff 24.00% 24.33%,#2a2aff 24.33% 24.67%,#1515ff 24.67% 25.00%,#bfbfff 25.00% 25.33%,#1515ff 25.33% 26.00%,#4040ff 26.00% 26.33%,#8080ff 26.33% 26.67%,#bfbfff 26.67% 27.00%,#1515ff 27.00% 28.00%,#8080ff 28.00% 28.33%,#6a6aff 28.33% 28.67%,#aaaaff 28.67% 29.00%,#ffaaaa 29.00% 29.33%,#ff1515 29.33% 30.00%,#ffbfbf 30.00% 30.33%,#eaeaff 30.33% 30.67%,#4040ff 30.67% 31.00%,#8080ff 31.00% 31.33%,#1515ff 31.33% 31.67%,#8080ff 31.67% 32.00%,#ffeaea 32.00% 32.33%,#ff1515 32.33% 32.67%,#ff5555 32.67% 33.33%,#ff6a6a 33.33% 33.67%,#8080ff 33.67% 34.00%,#1515ff 34.00% 34.33%,#aaaaff 34.33% 34.67%,#ffffff 34.67% 35.33%,#ff8080 35.33% 35.67%,#1515ff 35.67% 36.00%,#ffbfbf 36.00% 36.33%,#ffeaea 36.33% 36.67%,#ffaaaa 36.67% 37.00%,#ffbfbf 37.00% 37.33%,#ff5555 37.33% 37.67%,#ff1515 37.67% 38.00%,#ff9595 38.00% 38.33%,#ff5555 38.33% 38.67%,#ff1515 38.67% 39.33%,#ff8080 39.33% 39.67%,#ff1515 39.67% 40.00%,#ff6a6a 40.00% 40.33%,#ffaaaa 40.33% 40.67%,#ff9595 40.67% 41.33%,#ff5555 41.33% 41.67%,#ff1515 41.67% 42.00%,#ff4040 42.00% 42.33%,#ff2a2a 42.33% 42.67%,#ff6a6a 42.67% 43.00%,#ffaaaa 43.00% 43.33%,#ff6a6a 43.33% 43.67%,#ff1515 43.67% 44.00%,#eaeaff 44.00% 44.33%,#ff5555 44.33% 44.67%,#ff1515 44.67% 45.67%,#ffaaaa 45.67% 46.00%,#ff6a6a 46.00% 46.33%,#8080ff 46.33% 46.67%,#eaeaff 46.67% 47.00%,#ff6a6a 47.00% 47.67%,#ff9595 47.67% 48.00%,#ffeaea 48.00% 48.33%,#ffffff 48.33% 48.67%,#6a6aff 48.67% 49.00%,#aaaaff 49.00% 49.33%,#d4d4ff 49.33% 49.67%,#ff9595 49.67% 50.00%,#aaaaff 50.00% 50.33%,#ffd4d4 50.33% 50.67%,#ff9595 50.67% 51.00%,#ffd4d4 51.00% 51.33%,#ff2a2a 51.33% 51.67%,#ffaaaa 51.67% 52.00%,#ff6a6a 52.00% 52.33%,#ff8080 52.33% 52.67%,#ff1515 52.67% 53.33%,#ffaaaa 53.33% 54.00%,#ff1515 54.00% 54.33%,#ff6a6a 54.33% 54.67%,#ffeaea 54.67% 55.00%,#bfbfff 55.00% 55.33%,#9595ff 55.33% 55.67%,#ffffff 55.67% 56.00%,#bfbfff 56.00% 56.33%,#eaeaff 56.33% 57.00%,#d4d4ff 57.00% 57.33%,#6a6aff 57.33% 58.00%,#4040ff 58.00% 58.33%,#d4d4ff 58.33% 58.67%,#6a6aff 58.67% 59.00%,#1515ff 59.00% 59.33%,#6a6aff 59.33% 59.67%,#2a2aff 59.67% 60.00%,#1515ff 60.00% 61.33%,#aaaaff 61.33% 61.67%,#9595ff 61.67% 62.00%,#5555ff 62.00% 62.33%,#4040ff 62.33% 62.67%,#1515ff 62.67% 63.00%,#2a2aff 63.00% 63.33%,#9595ff 63.33% 63.67%,#d4d4ff 63.67% 64.00%,#ff5555 64.00% 64.33%,#aaaaff 64.33% 65.00%,#2a2aff 65.00% 65.33%,#bfbfff 65.33% 65.67%,#ffeaea 65.67% 66.00%,#ffffff 66.00% 66.33%,#ffd4d4 66.33% 66.67%,#aaaaff 66.67% 67.00%,#1515ff 67.00% 67.33%,#6a6aff 67.33% 68.00%,#8080ff 68.00% 68.33%,#2a2aff 68.33% 68.67%,#8080ff 68.67% 69.00%,#2a2aff 69.00% 69.33%,#9595ff 69.33% 69.67%,#2a2aff 69.67% 70.00%,#4040ff 70.00% 70.33%,#2a2aff 70.33% 70.67%,#4040ff 70.67% 71.00%,#9595ff 71.00% 71.33%,#bfbfff 71.33% 71.67%,#2a2aff 71.67% 72.33%,#6a6aff 72.33% 72.67%,#d4d4ff 72.67% 73.00%,#9595ff 73.00% 73.33%,#6a6aff 73.33% 73.67%,#1515ff 73.67% 74.00%,#4040ff 74.00% 74.33%,#9595ff 74.33% 75.00%,#2a2aff 75.00% 75.33%,#aaaaff 75.33% 76.33%,#8080ff 76.33% 76.67%,#bfbfff 76.67% 77.00%,#8080ff 77.00% 77.33%,#5555ff 77.33% 77.67%,#2a2aff 77.67% 78.00%,#6a6aff 78.00% 78.33%,#9595ff 78.33% 78.67%,#6a6aff 78.67% 79.00%,#2a2aff 79.00% 80.33%,#1515ff 80.33% 81.33%,#6a6aff 81.33% 81.67%,#bfbfff 81.67% 82.00%,#4040ff 82.00% 83.00%,#1515ff 83.00% 83.33%,#8080ff 83.33% 83.67%,#aaaaff 83.67% 84.00%,#bfbfff 84.00% 84.33%,#ffd4d4 84.33% 84.67%,#1515ff 84.67% 85.00%,#2a2aff 85.00% 85.33%,#5555ff 85.33% 85.67%,#1515ff 85.67% 86.00%,#4040ff 86.00% 86.33%,#d4d4ff 86.33% 86.67%,#5555ff 86.67% 87.00%,#bfbfff 87.00% 87.33%,#5555ff 87.33% 87.67%,#eaeaff 87.67% 88.00%,#5555ff 88.00% 88.33%,#1515ff 88.33% 89.00%,#6a6aff 89.00% 89.33%,#4040ff 89.33% 89.67%,#ffeaea 89.67% 90.00%,#bfbfff 90.00% 90.33%,#1515ff 90.33% 91.00%,#aaaaff 91.00% 91.67%,#ffeaea 91.67% 92.00%,#ffaaaa 92.00% 92.33%,#ffeaea 92.33% 92.67%,#ff5555 92.67% 93.00%,#ffd4d4 93.00% 93.33%,#9595ff 93.33% 93.67%,#1515ff 93.67% 94.00%,#4040ff 94.00% 94.33%,#1515ff 94.33% 94.67%,#ffffff 94.67% 95.00%,#d4d4ff 95.00% 95.33%,#ffd4d4 95.33% 95.67%,#d4d4ff 95.67% 96.00%,#ff6a6a 96.00% 96.33%,#ff9595 96.33% 96.67%,#ffeaea 96.67% 97.00%,#ffbfbf 97.00% 97.33%,#ff9595 97.33% 97.67%,#ff8080 97.67% 98.00%,#9595ff 98.00% 98.33%,#ffd4d4 98.33% 98.67%,#ffeaea 98.67% 99.00%,#ffffff 99.00% 99.33%,#ffeaea 99.33% 99.67%,#ffbfbf 99.67% 100.00%)"></div><div class="hm" style="left:1191.0px;top:828.00px;width:622.5px;height:30.73px;background:linear-gradient(90deg,#ff1515 0.00% 1.33%,#ff9595 1.33% 1.67%,#ff2a2a 1.67% 2.00%,#ff1515 2.00% 5.33%,#ff2a2a 5.33% 5.67%,#ff1515 5.67% 6.67%,#ff5555 6.67% 7.00%,#ff2a2a 7.00% 7.67%,#ff4040 7.67% 8.00%,#ff9595 8.00% 8.33%,#ffbfbf 8.33% 8.67%,#ffaaaa 8.67% 9.00%,#ff1515 9.00% 9.33%,#ff8080 9.33% 9.67%,#ff5555 9.67% 10.33%,#ff6a6a 10.33% 10.67%,#ffaaaa 10.67% 11.00%,#ff8080 11.00% 11.67%,#ffd4d4 11.67% 12.00%,#ffaaaa 12.00% 12.33%,#ff8080 12.33% 12.67%,#ffeaea 12.67% 13.00%,#ffbfbf 13.00% 13.67%,#ffaaaa 13.67% 14.00%,#ffd4d4 14.00% 14.33%,#ffbfbf 14.33% 14.67%,#ffaaaa 14.67% 15.00%,#ff8080 15.00% 15.33%,#ffaaaa 15.33% 15.67%,#bfbfff 15.67% 16.00%,#d4d4ff 16.00% 16.33%,#ffd4d4 16.33% 16.67%,#eaeaff 16.67% 17.00%,#ffffff 17.00% 17.33%,#ff2a2a 17.33% 17.67%,#ff6a6a 17.67% 18.00%,#ff9595 18.00% 18.67%,#ff1515 18.67% 19.33%,#ffbfbf 19.33% 19.67%,#ff9595 19.67% 20.00%,#ffd4d4 20.00% 20.33%,#4040ff 20.33% 20.67%,#2a2aff 20.67% 21.00%,#1515ff 21.00% 21.67%,#9595ff 21.67% 22.00%,#ffffff 22.00% 22.33%,#ffd4d4 22.33% 22.67%,#d4d4ff 22.67% 23.00%,#bfbfff 23.00% 23.33%,#ff2a2a 23.33% 23.67%,#ff4040 23.67% 24.00%,#bfbfff 24.00% 24.33%,#1515ff 24.33% 25.67%,#aaaaff 25.67% 26.00%,#4040ff 26.00% 26.67%,#1515ff 26.67% 27.00%,#aaaaff 27.00% 27.33%,#5555ff 27.33% 27.67%,#6a6aff 27.67% 28.00%,#2a2aff 28.00% 28.33%,#1515ff 28.33% 29.33%,#aaaaff 29.33% 29.67%,#6a6aff 29.67% 30.00%,#ffffff 30.00% 30.67%,#8080ff 30.67% 31.00%,#1515ff 31.00% 31.67%,#eaeaff 31.67% 32.33%,#ffbfbf 32.33% 32.67%,#4040ff 32.67% 33.00%,#d4d4ff 33.00% 33.67%,#5555ff 33.67% 34.00%,#9595ff 34.00% 34.33%,#d4d4ff 34.33% 34.67%,#ffd4d4 34.67% 35.00%,#ff5555 35.00% 35.33%,#ff4040 35.33% 36.00%,#ff1515 36.00% 36.67%,#ff4040 36.67% 37.00%,#ff2a2a 37.00% 37.33%,#ff1515 37.33% 38.00%,#ff6a6a 38.00% 38.33%,#ff1515 38.33% 39.00%,#ff2a2a 39.00% 39.33%,#ff1515 39.33% 40.00%,#ffaaaa 40.00% 40.33%,#ff5555 40.33% 40.67%,#ffaaaa 40.67% 41.00%,#ff1515 41.00% 42.67%,#ffd4d4 42.67% 43.00%,#aaaaff 43.00% 43.33%,#ffbfbf 43.33% 43.67%,#ff1515 43.67% 44.00%,#ffeaea 44.00% 44.33%,#aaaaff 44.33% 44.67%,#bfbfff 44.67% 45.00%,#ff6a6a 45.00% 45.33%,#ff5555 45.33% 45.67%,#ffbfbf 45.67% 46.00%,#bfbfff 46.00% 46.33%,#d4d4ff 46.33% 46.67%,#ffffff 46.67% 47.33%,#ff9595 47.33% 47.67%,#ffbfbf 47.67% 48.00%,#ff9595 48.00% 48.33%,#aaaaff 48.33% 48.67%,#ff9595 48.67% 49.00%,#ffd4d4 49.00% 49.33%,#ff9595 49.33% 49.67%,#ffeaea 49.67% 50.00%,#bfbfff 50.00% 50.33%,#ffffff 50.33% 50.67%,#ff9595 50.67% 51.00%,#ff8080 51.00% 51.33%,#ffd4d4 51.33% 51.67%,#ffeaea 51.67% 52.00%,#ffffff 52.00% 52.33%,#ff8080 52.33% 52.67%,#6a6aff 52.67% 53.00%,#eaeaff 53.00% 53.33%,#d4d4ff 53.33% 53.67%,#ff8080 53.67% 54.00%,#ff4040 54.00% 54.33%,#ff1515 54.33% 55.00%,#ff5555 55.00% 55.33%,#ffeaea 55.33% 55.67%,#bfbfff 55.67% 56.33%,#ffbfbf 56.33% 56.67%,#ffeaea 56.67% 57.00%,#1515ff 57.00% 57.33%,#bfbfff 57.33% 57.67%,#6a6aff 57.67% 58.00%,#4040ff 58.00% 58.33%,#bfbfff 58.33% 58.67%,#d4d4ff 58.67% 59.00%,#ffeaea 59.00% 59.33%,#ffaaaa 59.33% 59.67%,#6a6aff 59.67% 60.00%,#1515ff 60.00% 60.33%,#9595ff 60.33% 60.67%,#8080ff 60.67% 61.33%,#9595ff 61.33% 61.67%,#eaeaff 61.67% 62.00%,#bfbfff 62.00% 62.33%,#d4d4ff 62.33% 62.67%,#9595ff 62.67% 63.00%,#8080ff 63.00% 63.33%,#1515ff 63.33% 63.67%,#2a2aff 63.67% 64.00%,#6a6aff 64.00% 64.33%,#1515ff 64.33% 65.33%,#4040ff 65.33% 65.67%,#8080ff 65.67% 66.00%,#6a6aff 66.00% 66.33%,#d4d4ff 66.33% 66.67%,#bfbfff 66.67% 67.00%,#eaeaff 67.00% 67.33%,#6a6aff 67.33% 67.67%,#5555ff 67.67% 68.00%,#1515ff 68.00% 68.33%,#5555ff 68.33% 69.00%,#2a2aff 69.00% 69.33%,#bfbfff 69.33% 69.67%,#aaaaff 69.67% 70.00%,#eaeaff 70.00% 70.33%,#6a6aff 70.33% 70.67%,#1515ff 70.67% 71.00%,#bfbfff 71.00% 71.33%,#d4d4ff 71.33% 71.67%,#2a2aff 71.67% 72.00%,#1515ff 72.00% 72.33%,#5555ff 72.33% 72.67%,#d4d4ff 72.67% 73.00%,#8080ff 73.00% 73.33%,#1515ff 73.33% 74.33%,#2a2aff 74.33% 74.67%,#4040ff 74.67% 75.00%,#1515ff 75.00% 76.00%,#9595ff 76.00% 76.33%,#aaaaff 76.33% 76.67%,#1515ff 76.67% 77.00%,#5555ff 77.00% 77.33%,#4040ff 77.33% 77.67%,#5555ff 77.67% 78.00%,#4040ff 78.00% 78.33%,#6a6aff 78.33% 78.67%,#1515ff 78.67% 79.00%,#4040ff 79.00% 79.33%,#6a6aff 79.33% 79.67%,#1515ff 79.67% 81.33%,#2a2aff 81.33% 82.33%,#8080ff 82.33% 83.67%,#bfbfff 83.67% 84.00%,#ffeaea 84.00% 84.33%,#d4d4ff 84.33% 85.00%,#ffaaaa 85.00% 85.33%,#ff5555 85.33% 85.67%,#d4d4ff 85.67% 86.00%,#ff9595 86.00% 86.33%,#ff2a2a 86.33% 86.67%,#ff9595 86.67% 87.00%,#6a6aff 87.00% 87.33%,#1515ff 87.33% 87.67%,#bfbfff 87.67% 88.00%,#aaaaff 88.00% 88.33%,#4040ff 88.33% 88.67%,#1515ff 88.67% 89.00%,#d4d4ff 89.00% 89.33%,#ffaaaa 89.33% 89.67%,#ffffff 89.67% 90.00%,#d4d4ff 90.00% 90.33%,#4040ff 90.33% 90.67%,#bfbfff 90.67% 91.00%,#6a6aff 91.00% 91.67%,#9595ff 91.67% 92.00%,#aaaaff 92.00% 92.33%,#ffbfbf 92.33% 92.67%,#ff1515 92.67% 93.00%,#ff4040 93.00% 93.33%,#ffd4d4 93.33% 93.67%,#ffbfbf 93.67% 94.00%,#aaaaff 94.00% 94.33%,#d4d4ff 94.33% 94.67%,#eaeaff 94.67% 95.00%,#ffd4d4 95.00% 95.33%,#d4d4ff 95.33% 95.67%,#bfbfff 95.67% 96.00%,#6a6aff 96.00% 96.33%,#ffd4d4 96.33% 96.67%,#ff8080 96.67% 97.00%,#9595ff 97.00% 97.33%,#5555ff 97.33% 97.67%,#9595ff 97.67% 98.00%,#8080ff 98.00% 98.33%,#bfbfff 98.33% 98.67%,#eaeaff 98.67% 99.00%,#ff6a6a 99.00% 99.67%,#ffeaea 99.67% 100.00%)"></div><div class="hm" style="left:1191.0px;top:858.42px;width:622.5px;height:30.73px;background:linear-gradient(90deg,#ff1515 0.00% 0.67%,#ff2a2a 0.67% 1.00%,#ff1515 1.00% 1.33%,#ff2a2a 1.33% 1.67%,#ff4040 1.67% 2.00%,#ff2a2a 2.00% 2.33%,#ff1515 2.33% 7.67%,#ff4040 7.67% 8.00%,#ff8080 8.00% 8.33%,#ff1515 8.33% 8.67%,#ff4040 8.67% 9.00%,#ff1515 9.00% 9.33%,#ff8080 9.33% 9.67%,#ffaaaa 9.67% 10.00%,#ff5555 10.00% 10.33%,#ff8080 10.33% 10.67%,#ff9595 10.67% 11.67%,#ff6a6a 11.67% 12.33%,#ff8080 12.33% 12.67%,#ff9595 12.67% 13.00%,#ffffff 13.00% 13.33%,#ff8080 13.33% 13.67%,#ff6a6a 13.67% 14.00%,#ff8080 14.00% 14.33%,#ffaaaa 14.33% 14.67%,#ff5555 14.67% 15.00%,#ffaaaa 15.00% 15.33%,#ff9595 15.33% 15.67%,#ffffff 15.67% 16.00%,#9595ff 16.00% 16.33%,#eaeaff 16.33% 17.00%,#ffffff 17.00% 17.33%,#ffaaaa 17.33% 17.67%,#d4d4ff 17.67% 18.00%,#8080ff 18.00% 18.33%,#9595ff 18.33% 18.67%,#ffbfbf 18.67% 19.00%,#ffeaea 19.00% 19.33%,#ff9595 19.33% 19.67%,#ff4040 19.67% 20.00%,#ff5555 20.00% 20.33%,#9595ff 20.33% 20.67%,#aaaaff 20.67% 21.00%,#bfbfff 21.00% 21.33%,#4040ff 21.33% 21.67%,#1515ff 21.67% 22.00%,#2a2aff 22.00% 22.33%,#8080ff 22.33% 22.67%,#9595ff 22.67% 23.00%,#6a6aff 23.00% 23.33%,#ffaaaa 23.33% 23.67%,#ffbfbf 23.67% 24.00%,#4040ff 24.00% 24.33%,#5555ff 24.33% 24.67%,#9595ff 24.67% 25.00%,#ffd4d4 25.00% 25.33%,#8080ff 25.33% 25.67%,#1515ff 25.67% 26.00%,#5555ff 26.00% 26.33%,#bfbfff 26.33% 26.67%,#d4d4ff 26.67% 27.00%,#1515ff 27.00% 28.00%,#aaaaff 28.00% 28.33%,#ffd4d4 28.33% 28.67%,#aaaaff 28.67% 29.00%,#bfbfff 29.00% 29.33%,#eaeaff 29.33% 29.67%,#d4d4ff 29.67% 30.00%,#ffeaea 30.00% 30.33%,#d4d4ff 30.33% 30.67%,#5555ff 30.67% 31.00%,#ffbfbf 31.00% 31.33%,#2a2aff 31.33% 31.67%,#aaaaff 31.67% 32.00%,#1515ff 32.00% 32.33%,#bfbfff 32.33% 32.67%,#4040ff 32.67% 33.00%,#ff4040 33.00% 33.33%,#ffffff 33.33% 33.67%,#9595ff 33.67% 34.00%,#4040ff 34.00% 34.33%,#ffaaaa 34.33% 34.67%,#ff1515 34.67% 37.00%,#ff6a6a 37.00% 37.33%,#ff9595 37.33% 37.67%,#ff1515 37.67% 38.00%,#ff4040 38.00% 38.33%,#ff1515 38.33% 39.00%,#ffd4d4 39.00% 39.33%,#ffeaea 39.33% 39.67%,#ff6a6a 39.67% 40.00%,#ff2a2a 40.00% 40.33%,#ff1515 40.33% 40.67%,#ff2a2a 40.67% 41.00%,#ff1515 41.00% 41.33%,#eaeaff 41.33% 41.67%,#ff1515 41.67% 42.00%,#ff2a2a 42.00% 42.33%,#ff1515 42.33% 42.67%,#ffd4d4 42.67% 43.00%,#ff6a6a 43.00% 43.33%,#ff1515 43.33% 44.00%,#ff5555 44.00% 44.33%,#ff9595 44.33% 44.67%,#ff1515 44.67% 45.33%,#ff5555 45.33% 45.67%,#ffffff 45.67% 46.00%,#ffd4d4 46.00% 46.33%,#ffeaea 46.33% 46.67%,#ff8080 46.67% 47.00%,#ff9595 47.00% 47.33%,#ff1515 47.33% 47.67%,#ff5555 47.67% 48.00%,#ff4040 48.00% 48.33%,#ff8080 48.33% 48.67%,#ff6a6a 48.67% 49.00%,#ff8080 49.00% 49.33%,#ffaaaa 49.33% 49.67%,#ff1515 49.67% 50.00%,#ffaaaa 50.00% 50.33%,#eaeaff 50.33% 50.67%,#d4d4ff 50.67% 51.00%,#ff1515 51.00% 51.33%,#ffbfbf 51.33% 52.00%,#ff4040 52.00% 52.67%,#ff6a6a 52.67% 53.00%,#ff5555 53.00% 53.33%,#ff8080 53.33% 53.67%,#5555ff 53.67% 54.00%,#eaeaff 54.00% 54.33%,#ff6a6a 54.33% 54.67%,#eaeaff 54.67% 55.00%,#ffffff 55.00% 55.33%,#ff1515 55.33% 55.67%,#ffaaaa 55.67% 56.00%,#ffffff 56.00% 56.33%,#ffd4d4 56.33% 56.67%,#1515ff 56.67% 57.67%,#8080ff 57.67% 58.00%,#5555ff 58.00% 58.33%,#1515ff 58.33% 58.67%,#bfbfff 58.67% 59.33%,#aaaaff 59.33% 59.67%,#eaeaff 59.67% 60.00%,#9595ff 60.00% 60.33%,#4040ff 60.33% 60.67%,#6a6aff 60.67% 61.00%,#5555ff 61.00% 61.33%,#2a2aff 61.33% 61.67%,#1515ff 61.67% 62.00%,#2a2aff 62.00% 62.33%,#ffffff 62.33% 62.67%,#d4d4ff 62.67% 63.00%,#8080ff 63.00% 63.33%,#4040ff 63.33% 64.00%,#9595ff 64.00% 64.33%,#1515ff 64.33% 64.67%,#2a2aff 64.67% 65.33%,#1515ff 65.33% 65.67%,#d4d4ff 65.67% 66.00%,#ffeaea 66.00% 66.33%,#d4d4ff 66.33% 66.67%,#6a6aff 66.67% 67.00%,#8080ff 67.00% 67.67%,#1515ff 67.67% 68.33%,#4040ff 68.33% 68.67%,#1515ff 68.67% 69.00%,#4040ff 69.00% 69.33%,#aaaaff 69.33% 69.67%,#5555ff 69.67% 70.00%,#9595ff 70.00% 70.33%,#1515ff 70.33% 70.67%,#9595ff 70.67% 71.00%,#eaeaff 71.00% 71.33%,#5555ff 71.33% 71.67%,#8080ff 71.67% 72.33%,#6a6aff 72.33% 72.67%,#8080ff 72.67% 73.33%,#4040ff 73.33% 73.67%,#1515ff 73.67% 74.33%,#9595ff 74.33% 74.67%,#ffffff 74.67% 75.00%,#1515ff 75.00% 75.33%,#8080ff 75.33% 75.67%,#d4d4ff 75.67% 76.33%,#9595ff 76.33% 76.67%,#1515ff 76.67% 77.00%,#2a2aff 77.00% 77.33%,#1515ff 77.33% 77.67%,#2a2aff 77.67% 78.33%,#1515ff 78.33% 80.00%,#9595ff 80.00% 80.33%,#1515ff 80.33% 80.67%,#2a2aff 80.67% 81.00%,#1515ff 81.00% 82.00%,#5555ff 82.00% 82.33%,#4040ff 82.33% 82.67%,#1515ff 82.67% 83.00%,#bfbfff 83.00% 83.33%,#ffffff 83.33% 83.67%,#aaaaff 83.67% 84.00%,#5555ff 84.00% 84.33%,#9595ff 84.33% 84.67%,#4040ff 84.67% 85.00%,#bfbfff 85.00% 85.33%,#aaaaff 85.33% 85.67%,#6a6aff 85.67% 86.00%,#ffaaaa 86.00% 86.33%,#ff6a6a 86.33% 86.67%,#ffffff 86.67% 87.00%,#d4d4ff 87.00% 87.33%,#eaeaff 87.33% 87.67%,#aaaaff 87.67% 88.00%,#1515ff 88.00% 89.33%,#5555ff 89.33% 89.67%,#8080ff 89.67% 90.00%,#1515ff 90.00% 90.33%,#4040ff 90.33% 91.00%,#8080ff 91.00% 91.33%,#ffeaea 91.33% 91.67%,#ff9595 91.67% 92.00%,#ff8080 92.00% 92.33%,#ffeaea 92.33% 92.67%,#ff8080 92.67% 93.33%,#8080ff 93.33% 93.67%,#ffffff 93.67% 94.00%,#bfbfff 94.00% 94.33%,#9595ff 94.33% 94.67%,#1515ff 94.67% 95.00%,#8080ff 95.00% 95.33%,#1515ff 95.33% 95.67%,#6a6aff 95.67% 96.00%,#eaeaff 96.00% 96.33%,#ff8080 96.33% 96.67%,#ffaaaa 96.67% 97.00%,#bfbfff 97.00% 97.33%,#ffbfbf 97.33% 97.67%,#bfbfff 97.67% 98.00%,#8080ff 98.00% 98.67%,#aaaaff 98.67% 99.00%,#d4d4ff 99.00% 99.33%,#ff5555 99.33% 99.67%,#ff1515 99.67% 100.00%)"></div><div class="hm" style="left:1191.0px;top:888.85px;width:622.5px;height:30.73px;background:linear-gradient(90deg,#ff1515 0.00% 0.33%,#ff4040 0.33% 0.67%,#ff1515 0.67% 1.00%,#ff4040 1.00% 1.33%,#ff5555 1.33% 1.67%,#ff1515 1.67% 4.00%,#ff2a2a 4.00% 4.33%,#ff6a6a 4.33% 5.00%,#ff8080 5.00% 5.33%,#ff4040 5.33% 5.67%,#ff1515 5.67% 8.67%,#ff5555 8.67% 9.00%,#ff6a6a 9.00% 9.33%,#ffaaaa 9.33% 9.67%,#ff9595 9.67% 10.00%,#ff6a6a 10.00% 11.00%,#ff8080 11.00% 11.33%,#ff1515 11.33% 12.00%,#ff5555 12.00% 12.67%,#ff8080 12.67% 13.00%,#ff5555 13.00% 13.33%,#ff6a6a 13.33% 13.67%,#ff9595 13.67% 14.00%,#ffaaaa 14.00% 14.33%,#ff9595 14.33% 14.67%,#eaeaff 14.67% 15.00%,#ffbfbf 15.00% 15.67%,#ffeaea 15.67% 16.00%,#8080ff 16.00% 16.33%,#bfbfff 16.33% 16.67%,#ffffff 16.67% 17.00%,#d4d4ff 17.00% 17.33%,#ff6a6a 17.33% 17.67%,#bfbfff 17.67% 18.00%,#1515ff 18.00% 18.33%,#aaaaff 18.33% 18.67%,#4040ff 18.67% 19.00%,#d4d4ff 19.00% 19.33%,#ff4040 19.33% 20.00%,#ff8080 20.00% 20.33%,#ffaaaa 20.33% 20.67%,#ffd4d4 20.67% 21.00%,#ff1515 21.00% 21.33%,#9595ff 21.33% 21.67%,#6a6aff 21.67% 22.00%,#aaaaff 22.00% 22.33%,#1515ff 22.33% 22.67%,#5555ff 22.67% 23.00%,#9595ff 23.00% 23.33%,#ff5555 23.33% 24.00%,#ffbfbf 24.00% 24.33%,#ffffff 24.33% 24.67%,#9595ff 24.67% 25.00%,#d4d4ff 25.00% 25.67%,#ffffff 25.67% 26.00%,#aaaaff 26.00% 26.33%,#9595ff 26.33% 26.67%,#6a6aff 26.67% 27.00%,#1515ff 27.00% 27.33%,#6a6aff 27.33% 27.67%,#2a2aff 27.67% 28.00%,#1515ff 28.00% 28.33%,#4040ff 28.33% 28.67%,#2a2aff 28.67% 29.00%,#aaaaff 29.00% 29.33%,#9595ff 29.33% 30.00%,#ffeaea 30.00% 30.33%,#eaeaff 30.33% 30.67%,#bfbfff 30.67% 31.00%,#ff5555 31.00% 31.33%,#ff1515 31.33% 31.67%,#ff5555 31.67% 32.00%,#ffbfbf 32.00% 32.33%,#ff4040 32.33% 32.67%,#ff6a6a 32.67% 33.00%,#ffaaaa 33.00% 33.33%,#8080ff 33.33% 33.67%,#bfbfff 33.67% 34.00%,#aaaaff 34.00% 34.33%,#ff9595 34.33% 34.67%,#ff1515 34.67% 35.67%,#ff2a2a 35.67% 36.00%,#ff1515 36.00% 36.33%,#ff2a2a 36.33% 36.67%,#ff6a6a 36.67% 37.00%,#ff4040 37.00% 37.33%,#ff6a6a 37.33% 37.67%,#ff1515 37.67% 38.33%,#ff9595 38.33% 38.67%,#ff1515 38.67% 40.00%,#ff4040 40.00% 40.33%,#ffbfbf 40.33% 40.67%,#ffaaaa 40.67% 41.00%,#ff1515 41.00% 41.33%,#ff2a2a 41.33% 41.67%,#ff1515 41.67% 43.33%,#ff4040 43.33% 43.67%,#ff1515 43.67% 44.00%,#ff9595 44.00% 44.33%,#aaaaff 44.33% 44.67%,#8080ff 44.67% 45.00%,#ff4040 45.00% 45.33%,#ff1515 45.33% 45.67%,#ff4040 45.67% 46.00%,#ffeaea 46.00% 46.33%,#bfbfff 46.33% 46.67%,#8080ff 46.67% 47.00%,#bfbfff 47.00% 47.33%,#ff1515 47.33% 47.67%,#ffaaaa 47.67% 48.00%,#ffffff 48.00% 48.33%,#2a2aff 48.33% 48.67%,#aaaaff 48.67% 49.00%,#9595ff 49.00% 49.33%,#ffaaaa 49.33% 49.67%,#ff8080 49.67% 50.00%,#ff1515 50.00% 50.33%,#ff8080 50.33% 50.67%,#ff6a6a 50.67% 51.00%,#eaeaff 51.00% 51.33%,#ffd4d4 51.33% 51.67%,#ffeaea 51.67% 52.00%,#ff8080 52.00% 52.33%,#ff9595 52.33% 52.67%,#ff8080 52.67% 53.00%,#ffd4d4 53.00% 53.33%,#5555ff 53.33% 54.00%,#ff5555 54.00% 54.33%,#ff4040 54.33% 55.00%,#ff8080 55.00% 55.33%,#ff5555 55.33% 55.67%,#ffaaaa 55.67% 56.00%,#9595ff 56.00% 56.33%,#ffeaea 56.33% 56.67%,#9595ff 56.67% 57.00%,#1515ff 57.00% 57.67%,#6a6aff 57.67% 58.00%,#bfbfff 58.00% 58.33%,#ffd4d4 58.33% 58.67%,#aaaaff 58.67% 59.00%,#8080ff 59.00% 59.33%,#9595ff 59.33% 59.67%,#1515ff 59.67% 60.33%,#2a2aff 60.33% 60.67%,#8080ff 60.67% 61.00%,#1515ff 61.00% 61.33%,#9595ff 61.33% 61.67%,#eaeaff 61.67% 62.00%,#9595ff 62.00% 62.33%,#aaaaff 62.33% 62.67%,#8080ff 62.67% 63.00%,#4040ff 63.00% 63.33%,#1515ff 63.33% 63.67%,#8080ff 63.67% 64.00%,#ffeaea 64.00% 64.33%,#4040ff 64.33% 64.67%,#6a6aff 64.67% 65.00%,#2a2aff 65.00% 65.33%,#1515ff 65.33% 65.67%,#4040ff 65.67% 66.00%,#1515ff 66.00% 66.67%,#2a2aff 66.67% 67.00%,#1515ff 67.00% 69.33%,#6a6aff 69.33% 70.00%,#9595ff 70.00% 70.33%,#6a6aff 70.33% 70.67%,#2a2aff 70.67% 71.00%,#bfbfff 71.00% 71.33%,#5555ff 71.33% 71.67%,#4040ff 71.67% 72.00%,#1515ff 72.00% 72.33%,#5555ff 72.33% 72.67%,#9595ff 72.67% 73.00%,#8080ff 73.00% 73.67%,#1515ff 73.67% 75.67%,#4040ff 75.67% 76.00%,#bfbfff 76.00% 76.33%,#d4d4ff 76.33% 76.67%,#9595ff 76.67% 77.00%,#1515ff 77.00% 78.67%,#6a6aff 78.67% 79.00%,#1515ff 79.00% 81.00%,#2a2aff 81.00% 81.33%,#9595ff 81.33% 81.67%,#4040ff 81.67% 82.00%,#aaaaff 82.00% 82.33%,#6a6aff 82.33% 82.67%,#1515ff 82.67% 83.33%,#2a2aff 83.33% 84.00%,#9595ff 84.00% 84.33%,#ff6a6a 84.33% 84.67%,#aaaaff 84.67% 85.00%,#ffffff 85.00% 85.33%,#9595ff 85.33% 86.00%,#ffbfbf 86.00% 86.33%,#ff4040 86.33% 86.67%,#ffffff 86.67% 87.00%,#eaeaff 87.00% 87.33%,#ff6a6a 87.33% 87.67%,#ff1515 87.67% 88.00%,#ff8080 88.00% 88.33%,#eaeaff 88.33% 88.67%,#aaaaff 88.67% 89.00%,#ffaaaa 89.00% 89.67%,#ffffff 89.67% 90.00%,#d4d4ff 90.00% 90.33%,#bfbfff 90.33% 90.67%,#1515ff 90.67% 91.00%,#4040ff 91.00% 91.33%,#ffaaaa 91.33% 91.67%,#ffffff 91.67% 92.00%,#ffaaaa 92.00% 92.33%,#ffbfbf 92.33% 92.67%,#ff2a2a 92.67% 93.00%,#ffd4d4 93.00% 93.33%,#aaaaff 93.33% 93.67%,#bfbfff 93.67% 94.00%,#9595ff 94.00% 94.33%,#d4d4ff 94.33% 94.67%,#ffffff 94.67% 95.00%,#ff9595 95.00% 95.33%,#d4d4ff 95.33% 95.67%,#ffffff 95.67% 96.00%,#ff1515 96.00% 96.67%,#ffd4d4 96.67% 97.00%,#ff9595 97.00% 97.33%,#ffffff 97.33% 97.67%,#9595ff 97.67% 98.00%,#2a2aff 98.00% 98.33%,#4040ff 98.33% 98.67%,#eaeaff 98.67% 99.00%,#ffd4d4 99.00% 99.33%,#ffeaea 99.33% 99.67%,#ffbfbf 99.67% 100.00%)"></div><div class="hm" style="left:1191.0px;top:919.28px;width:622.5px;height:30.73px;background:linear-gradient(90deg,#ff1515 0.00% 1.33%,#ff4040 1.33% 1.67%,#ff1515 1.67% 2.67%,#ff4040 2.67% 3.00%,#ff1515 3.00% 4.00%,#ff2a2a 4.00% 4.33%,#ff5555 4.33% 4.67%,#ff4040 4.67% 5.00%,#ff1515 5.00% 6.67%,#ff6a6a 6.67% 7.00%,#ff2a2a 7.00% 7.33%,#ff1515 7.33% 9.00%,#ff4040 9.00% 9.33%,#ff2a2a 9.33% 9.67%,#ff1515 9.67% 10.33%,#ffaaaa 10.33% 10.67%,#ff4040 10.67% 11.00%,#ff6a6a 11.00% 11.33%,#ff1515 11.33% 12.00%,#ff2a2a 12.00% 12.33%,#ff9595 12.33% 12.67%,#ffeaea 12.67% 13.00%,#ffbfbf 13.00% 13.33%,#ffd4d4 13.33% 14.00%,#ff6a6a 14.00% 14.33%,#ffaaaa 14.33% 14.67%,#ff9595 14.67% 15.33%,#ffbfbf 15.33% 15.67%,#5555ff 15.67% 16.00%,#1515ff 16.00% 16.33%,#4040ff 16.33% 16.67%,#ffaaaa 16.67% 17.00%,#d4d4ff 17.00% 17.33%,#ff9595 17.33% 17.67%,#ff4040 17.67% 18.00%,#ffffff 18.00% 18.33%,#ffbfbf 18.33% 18.67%,#ff8080 18.67% 19.00%,#eaeaff 19.00% 19.33%,#aaaaff 19.33% 19.67%,#d4d4ff 19.67% 20.00%,#bfbfff 20.00% 20.33%,#1515ff 20.33% 21.00%,#9595ff 21.00% 21.33%,#aaaaff 21.33% 21.67%,#ff8080 21.67% 22.00%,#bfbfff 22.00% 22.33%,#aaaaff 22.33% 22.67%,#6a6aff 22.67% 23.00%,#5555ff 23.00% 23.67%,#ffbfbf 23.67% 24.00%,#9595ff 24.00% 24.33%,#bfbfff 24.33% 24.67%,#1515ff 24.67% 25.33%,#9595ff 25.33% 25.67%,#1515ff 25.67% 26.33%,#8080ff 26.33% 27.00%,#1515ff 27.00% 27.33%,#6a6aff 27.33% 27.67%,#2a2aff 27.67% 28.00%,#bfbfff 28.00% 28.33%,#6a6aff 28.33% 28.67%,#ffffff 28.67% 29.00%,#9595ff 29.00% 29.33%,#aaaaff 29.33% 29.67%,#9595ff 29.67% 30.00%,#8080ff 30.00% 30.67%,#9595ff 30.67% 31.00%,#aaaaff 31.00% 31.33%,#bfbfff 31.33% 32.00%,#ffd4d4 32.00% 32.33%,#bfbfff 32.33% 32.67%,#1515ff 32.67% 33.00%,#ffd4d4 33.00% 33.33%,#1515ff 33.33% 33.67%,#d4d4ff 33.67% 34.00%,#9595ff 34.00% 34.33%,#ffaaaa 34.33% 34.67%,#ff1515 34.67% 37.00%,#ff6a6a 37.00% 37.67%,#ff1515 37.67% 38.33%,#ff9595 38.33% 38.67%,#ff1515 38.67% 39.00%,#ff2a2a 39.00% 39.33%,#ffeaea 39.33% 39.67%,#ff2a2a 39.67% 40.00%,#ffaaaa 40.00% 40.33%,#d4d4ff 40.33% 40.67%,#ffbfbf 40.67% 41.00%,#ffffff 41.00% 41.33%,#ffd4d4 41.33% 41.67%,#ff8080 41.67% 42.00%,#ffaaaa 42.00% 42.33%,#ff1515 42.33% 42.67%,#ff4040 42.67% 43.00%,#ffffff 43.00% 43.33%,#ffd4d4 43.33% 43.67%,#ff4040 43.67% 44.00%,#ff5555 44.00% 44.33%,#ff1515 44.33% 44.67%,#ffaaaa 44.67% 45.00%,#ffd4d4 45.00% 45.33%,#ff5555 45.33% 45.67%,#ff2a2a 45.67% 46.00%,#ffd4d4 46.00% 46.33%,#aaaaff 46.33% 46.67%,#ffd4d4 46.67% 47.00%,#ffbfbf 47.00% 47.33%,#bfbfff 47.33% 48.00%,#ffaaaa 48.00% 48.33%,#5555ff 48.33% 48.67%,#ffffff 48.67% 49.00%,#aaaaff 49.00% 49.33%,#ffd4d4 49.33% 49.67%,#ffbfbf 49.67% 50.00%,#9595ff 50.00% 50.33%,#aaaaff 50.33% 50.67%,#eaeaff 50.67% 51.00%,#ff4040 51.00% 51.33%,#ff2a2a 51.33% 51.67%,#aaaaff 51.67% 52.00%,#ffaaaa 52.00% 52.33%,#ff6a6a 52.33% 52.67%,#ff2a2a 52.67% 53.00%,#ff1515 53.00% 53.67%,#ff5555 53.67% 54.00%,#ff1515 54.00% 55.00%,#ffaaaa 55.00% 55.33%,#eaeaff 55.33% 55.67%,#6a6aff 55.67% 56.00%,#ffffff 56.00% 56.33%,#ffd4d4 56.33% 56.67%,#d4d4ff 56.67% 57.00%,#2a2aff 57.00% 57.67%,#bfbfff 57.67% 58.00%,#8080ff 58.00% 58.33%,#ffffff 58.33% 58.67%,#5555ff 58.67% 59.00%,#eaeaff 59.00% 59.33%,#ffaaaa 59.33% 59.67%,#ffbfbf 59.67% 60.00%,#1515ff 60.00% 60.33%,#8080ff 60.33% 60.67%,#1515ff 60.67% 61.00%,#2a2aff 61.00% 61.33%,#bfbfff 61.33% 61.67%,#ffffff 61.67% 62.00%,#bfbfff 62.00% 62.33%,#ffd4d4 62.33% 62.67%,#ffffff 62.67% 63.00%,#5555ff 63.00% 63.33%,#4040ff 63.33% 63.67%,#5555ff 63.67% 64.00%,#eaeaff 64.00% 64.33%,#1515ff 64.33% 64.67%,#8080ff 64.67% 65.00%,#5555ff 65.00% 65.33%,#2a2aff 65.33% 65.67%,#5555ff 65.67% 66.00%,#4040ff 66.00% 66.33%,#aaaaff 66.33% 66.67%,#6a6aff 66.67% 67.00%,#9595ff 67.00% 67.33%,#1515ff 67.33% 68.33%,#4040ff 68.33% 69.00%,#1515ff 69.00% 69.33%,#9595ff 69.33% 70.33%,#1515ff 70.33% 71.00%,#5555ff 71.00% 71.33%,#2a2aff 71.33% 71.67%,#1515ff 71.67% 72.33%,#4040ff 72.33% 73.00%,#9595ff 73.00% 73.33%,#ffeaea 73.33% 73.67%,#1515ff 73.67% 74.00%,#9595ff 74.00% 74.33%,#5555ff 74.33% 74.67%,#1515ff 74.67% 75.67%,#6a6aff 75.67% 76.00%,#8080ff 76.00% 76.33%,#5555ff 76.33% 76.67%,#2a2aff 76.67% 77.00%,#1515ff 77.00% 77.33%,#5555ff 77.33% 77.67%,#2a2aff 77.67% 78.00%,#1515ff 78.00% 78.33%,#2a2aff 78.33% 78.67%,#1515ff 78.67% 81.00%,#4040ff 81.00% 81.33%,#9595ff 81.33% 81.67%,#6a6aff 81.67% 82.00%,#d4d4ff 82.00% 82.33%,#2a2aff 82.33% 82.67%,#1515ff 82.67% 83.67%,#ffffff 83.67% 84.00%,#8080ff 84.00% 84.33%,#d4d4ff 84.33% 84.67%,#bfbfff 84.67% 85.00%,#ffeaea 85.00% 85.33%,#ffd4d4 85.33% 85.67%,#bfbfff 85.67% 86.00%,#ff2a2a 86.00% 86.33%,#ff5555 86.33% 86.67%,#ffaaaa 86.67% 87.00%,#ff6a6a 87.00% 87.33%,#ffffff 87.33% 87.67%,#9595ff 87.67% 88.00%,#aaaaff 88.00% 88.33%,#5555ff 88.33% 88.67%,#2a2aff 88.67% 89.00%,#9595ff 89.00% 89.33%,#aaaaff 89.33% 89.67%,#ff9595 89.67% 90.00%,#1515ff 90.00% 90.33%,#9595ff 90.33% 90.67%,#6a6aff 90.67% 91.00%,#aaaaff 91.00% 91.33%,#9595ff 91.33% 91.67%,#ff9595 91.67% 92.00%,#ffffff 92.00% 92.67%,#ff4040 92.67% 93.00%,#d4d4ff 93.00% 93.33%,#eaeaff 93.33% 94.00%,#ffffff 94.00% 94.33%,#5555ff 94.33% 94.67%,#eaeaff 94.67% 95.00%,#ff9595 95.00% 95.33%,#ffeaea 95.33% 95.67%,#ff5555 95.67% 96.00%,#ffeaea 96.00% 96.33%,#ffbfbf 96.33% 96.67%,#ff5555 96.67% 97.00%,#ffd4d4 97.00% 97.33%,#bfbfff 97.33% 98.00%,#ffd4d4 98.00% 98.33%,#ff9595 98.33% 98.67%,#ffffff 98.67% 99.00%,#d4d4ff 99.00% 99.33%,#ff4040 99.33% 99.67%,#ff2a2a 99.67% 100.00%)"></div><div class="hm" style="left:1191.0px;top:949.71px;width:622.5px;height:30.73px;background:linear-gradient(90deg,#ff4040 0.00% 0.33%,#ff9595 0.33% 0.67%,#ff8080 0.67% 1.00%,#ff2a2a 1.00% 1.33%,#ff6a6a 1.33% 1.67%,#ff1515 1.67% 2.67%,#ff4040 2.67% 3.00%,#ff1515 3.00% 4.33%,#ff2a2a 4.33% 4.67%,#ffaaaa 4.67% 5.00%,#ff8080 5.00% 5.33%,#ff1515 5.33% 6.00%,#ff8080 6.00% 6.33%,#ff5555 6.33% 6.67%,#ff6a6a 6.67% 7.00%,#ff1515 7.00% 10.33%,#ff6a6a 10.33% 10.67%,#ff9595 10.67% 11.33%,#ff8080 11.33% 11.67%,#ff6a6a 11.67% 12.00%,#ffd4d4 12.00% 12.33%,#ff9595 12.33% 12.67%,#eaeaff 12.67% 13.00%,#ffbfbf 13.00% 13.33%,#ff9595 13.33% 13.67%,#ffffff 13.67% 14.00%,#ffaaaa 14.00% 14.33%,#ffbfbf 14.33% 14.67%,#ff6a6a 14.67% 15.00%,#ff4040 15.00% 15.67%,#ff9595 15.67% 16.00%,#bfbfff 16.00% 16.33%,#1515ff 16.33% 16.67%,#9595ff 16.67% 17.00%,#4040ff 17.00% 17.33%,#ffd4d4 17.33% 17.67%,#4040ff 17.67% 18.00%,#9595ff 18.00% 18.33%,#ffffff 18.33% 18.67%,#bfbfff 18.67% 19.00%,#8080ff 19.00% 19.33%,#ffffff 19.33% 19.67%,#ff8080 19.67% 20.00%,#ffd4d4 20.00% 20.33%,#4040ff 20.33% 20.67%,#5555ff 20.67% 21.00%,#9595ff 21.00% 21.33%,#1515ff 21.33% 22.00%,#2a2aff 22.00% 22.33%,#1515ff 22.33% 22.67%,#5555ff 22.67% 23.00%,#1515ff 23.00% 23.33%,#ffeaea 23.33% 23.67%,#bfbfff 23.67% 24.00%,#8080ff 24.00% 24.33%,#eaeaff 24.33% 24.67%,#ffeaea 24.67% 25.00%,#ffbfbf 25.00% 25.33%,#5555ff 25.33% 25.67%,#6a6aff 25.67% 26.00%,#bfbfff 26.00% 26.33%,#9595ff 26.33% 26.67%,#8080ff 26.67% 27.00%,#5555ff 27.00% 27.67%,#bfbfff 27.67% 28.00%,#ffffff 28.00% 28.33%,#bfbfff 28.33% 28.67%,#8080ff 28.67% 29.00%,#9595ff 29.00% 29.33%,#bfbfff 29.33% 30.00%,#d4d4ff 30.00% 30.33%,#aaaaff 30.33% 30.67%,#1515ff 30.67% 31.00%,#aaaaff 31.00% 31.33%,#ffeaea 31.33% 31.67%,#ff4040 31.67% 32.00%,#ff8080 32.00% 32.33%,#ffaaaa 32.33% 33.00%,#d4d4ff 33.00% 33.67%,#5555ff 33.67% 34.00%,#2a2aff 34.00% 34.33%,#ff5555 34.33% 34.67%,#ff1515 34.67% 35.67%,#ff4040 35.67% 36.00%,#ff8080 36.00% 36.33%,#ff1515 36.33% 36.67%,#ff5555 36.67% 37.00%,#ff6a6a 37.00% 37.33%,#ff4040 37.33% 37.67%,#ff1515 37.67% 38.33%,#ffbfbf 38.33% 38.67%,#ff1515 38.67% 39.33%,#ffaaaa 39.33% 39.67%,#ffbfbf 39.67% 40.00%,#eaeaff 40.00% 40.33%,#9595ff 40.33% 40.67%,#2a2aff 40.67% 41.00%,#bfbfff 41.00% 41.33%,#ff6a6a 41.33% 41.67%,#ff1515 41.67% 42.00%,#ff8080 42.00% 42.33%,#ff2a2a 42.33% 42.67%,#ff8080 42.67% 43.00%,#ff5555 43.00% 43.67%,#ff1515 43.67% 44.00%,#ff2a2a 44.00% 44.33%,#ff1515 44.33% 44.67%,#ff6a6a 44.67% 45.00%,#ff8080 45.00% 45.33%,#ffd4d4 45.33% 45.67%,#bfbfff 45.67% 46.00%,#ffeaea 46.00% 46.33%,#eaeaff 46.33% 46.67%,#d4d4ff 46.67% 47.33%,#ff1515 47.33% 47.67%,#ffaaaa 47.67% 48.00%,#ff9595 48.00% 48.33%,#ffffff 48.33% 48.67%,#ffd4d4 48.67% 49.00%,#eaeaff 49.00% 49.33%,#5555ff 49.33% 50.00%,#eaeaff 50.00% 50.33%,#8080ff 50.33% 50.67%,#d4d4ff 50.67% 51.00%,#6a6aff 51.00% 51.33%,#9595ff 51.33% 51.67%,#bfbfff 51.67% 52.00%,#ffd4d4 52.00% 52.33%,#bfbfff 52.33% 52.67%,#aaaaff 52.67% 53.00%,#ff1515 53.00% 53.33%,#ff6a6a 53.33% 53.67%,#ffaaaa 53.67% 54.00%,#ffbfbf 54.00% 54.33%,#eaeaff 54.33% 54.67%,#d4d4ff 54.67% 55.00%,#8080ff 55.00% 55.33%,#ffeaea 55.33% 55.67%,#9595ff 55.67% 56.33%,#bfbfff 56.33% 56.67%,#1515ff 56.67% 57.33%,#2a2aff 57.33% 57.67%,#1515ff 57.67% 58.00%,#2a2aff 58.00% 58.33%,#9595ff 58.33% 58.67%,#d4d4ff 58.67% 59.33%,#9595ff 59.33% 59.67%,#1515ff 59.67% 60.33%,#aaaaff 60.33% 60.67%,#6a6aff 60.67% 61.00%,#2a2aff 61.00% 61.33%,#5555ff 61.33% 61.67%,#6a6aff 61.67% 62.33%,#5555ff 62.33% 62.67%,#aaaaff 62.67% 63.00%,#8080ff 63.00% 63.33%,#ffffff 63.33% 63.67%,#8080ff 63.67% 64.00%,#ffeaea 64.00% 64.33%,#9595ff 64.33% 64.67%,#4040ff 64.67% 65.00%,#6a6aff 65.00% 65.33%,#8080ff 65.33% 65.67%,#9595ff 65.67% 66.00%,#1515ff 66.00% 66.33%,#9595ff 66.33% 66.67%,#1515ff 66.67% 67.00%,#4040ff 67.00% 67.33%,#1515ff 67.33% 69.67%,#2a2aff 69.67% 70.00%,#aaaaff 70.00% 70.33%,#4040ff 70.33% 71.00%,#1515ff 71.00% 71.33%,#6a6aff 71.33% 71.67%,#1515ff 71.67% 72.00%,#4040ff 72.00% 72.33%,#5555ff 72.33% 72.67%,#6a6aff 72.67% 73.00%,#aaaaff 73.00% 73.33%,#4040ff 73.33% 74.00%,#8080ff 74.00% 74.33%,#9595ff 74.33% 74.67%,#8080ff 74.67% 75.00%,#4040ff 75.00% 75.33%,#5555ff 75.33% 75.67%,#6a6aff 75.67% 76.00%,#9595ff 76.00% 76.33%,#8080ff 76.33% 76.67%,#9595ff 76.67% 77.00%,#1515ff 77.00% 77.33%,#2a2aff 77.33% 77.67%,#aaaaff 77.67% 78.33%,#8080ff 78.33% 78.67%,#6a6aff 78.67% 79.00%,#1515ff 79.00% 81.33%,#4040ff 81.33% 81.67%,#5555ff 81.67% 82.00%,#8080ff 82.00% 82.33%,#1515ff 82.33% 83.00%,#5555ff 83.00% 83.33%,#8080ff 83.33% 83.67%,#bfbfff 83.67% 84.33%,#eaeaff 84.33% 84.67%,#5555ff 84.67% 85.00%,#bfbfff 85.00% 85.33%,#aaaaff 85.33% 85.67%,#9595ff 85.67% 86.00%,#ff8080 86.00% 86.33%,#eaeaff 86.33% 86.67%,#9595ff 86.67% 87.00%,#ffffff 87.00% 87.33%,#ffaaaa 87.33% 87.67%,#ffbfbf 87.67% 88.00%,#eaeaff 88.00% 88.33%,#9595ff 88.33% 88.67%,#1515ff 88.67% 89.33%,#aaaaff 89.33% 89.67%,#eaeaff 89.67% 90.00%,#ff9595 90.00% 90.33%,#aaaaff 90.33% 91.00%,#ffd4d4 91.00% 91.33%,#ffaaaa 91.33% 91.67%,#ff9595 91.67% 92.00%,#ffeaea 92.00% 92.33%,#eaeaff 92.33% 92.67%,#ffeaea 92.67% 93.33%,#9595ff 93.33% 93.67%,#bfbfff 93.67% 94.00%,#ff9595 94.00% 94.33%,#6a6aff 94.33% 94.67%,#eaeaff 94.67% 95.00%,#6a6aff 95.00% 95.33%,#d4d4ff 95.33% 95.67%,#eaeaff 95.67% 96.00%,#bfbfff 96.00% 96.33%,#ff8080 96.33% 96.67%,#ff9595 96.67% 97.00%,#ff4040 97.00% 97.33%,#ffaaaa 97.33% 97.67%,#ff9595 97.67% 98.00%,#eaeaff 98.00% 98.33%,#9595ff 98.33% 98.67%,#ff2a2a 98.67% 99.00%,#ff1515 99.00% 99.67%,#ff2a2a 99.67% 100.00%)"></div><div class="hm" style="left:1191.0px;top:980.14px;width:622.5px;height:30.73px;background:linear-gradient(90deg,#2a2aff 0.00% 0.33%,#1515ff 0.33% 0.67%,#ff9595 0.67% 1.00%,#ff6a6a 1.00% 1.33%,#d4d4ff 1.33% 1.67%,#6a6aff 1.67% 2.33%,#bfbfff 2.33% 2.67%,#6a6aff 2.67% 3.00%,#ff9595 3.00% 3.33%,#ffaaaa 3.33% 3.67%,#ff9595 3.67% 4.33%,#1515ff 4.33% 4.67%,#bfbfff 4.67% 5.00%,#ffeaea 5.00% 5.33%,#9595ff 5.33% 5.67%,#bfbfff 5.67% 6.00%,#eaeaff 6.00% 6.33%,#bfbfff 6.33% 7.00%,#ff8080 7.00% 7.33%,#ff4040 7.33% 7.67%,#ffd4d4 7.67% 8.00%,#d4d4ff 8.00% 8.33%,#4040ff 8.33% 8.67%,#ffffff 8.67% 9.00%,#eaeaff 9.00% 9.67%,#ff5555 9.67% 10.00%,#ff8080 10.00% 10.33%,#aaaaff 10.33% 11.00%,#1515ff 11.00% 11.33%,#ff1515 11.33% 12.00%,#ff4040 12.00% 12.33%,#ff1515 12.33% 12.67%,#d4d4ff 12.67% 13.33%,#ffffff 13.33% 13.67%,#eaeaff 13.67% 14.00%,#ff1515 14.00% 14.67%,#ff6a6a 14.67% 15.00%,#ff8080 15.00% 15.33%,#ff4040 15.33% 15.67%,#9595ff 15.67% 16.00%,#ffffff 16.00% 16.67%,#ff4040 16.67% 17.00%,#ff5555 17.00% 17.33%,#ff1515 17.33% 17.67%,#ffeaea 17.67% 18.00%,#ff6a6a 18.00% 18.33%,#ff1515 18.33% 19.67%,#ff4040 19.67% 20.00%,#ff1515 20.00% 20.33%,#ff9595 20.33% 20.67%,#ff2a2a 20.67% 21.33%,#ff4040 21.33% 21.67%,#ffd4d4 21.67% 22.00%,#aaaaff 22.00% 22.33%,#d4d4ff 22.33% 22.67%,#ffeaea 22.67% 23.00%,#ff4040 23.00% 23.33%,#ff1515 23.33% 23.67%,#ff8080 23.67% 24.00%,#eaeaff 24.00% 24.33%,#5555ff 24.33% 24.67%,#4040ff 24.67% 25.00%,#ffeaea 25.00% 25.33%,#bfbfff 25.33% 25.67%,#ff5555 25.67% 26.00%,#ff1515 26.00% 26.33%,#ffeaea 26.33% 26.67%,#ff4040 26.67% 27.00%,#ff9595 27.00% 27.33%,#ffd4d4 27.33% 27.67%,#eaeaff 27.67% 28.00%,#ff1515 28.00% 28.67%,#ff8080 28.67% 29.00%,#ff6a6a 29.00% 29.33%,#ffd4d4 29.33% 29.67%,#ff1515 29.67% 30.00%,#ff6a6a 30.00% 30.33%,#ffaaaa 30.33% 30.67%,#bfbfff 30.67% 31.00%,#ff6a6a 31.00% 31.33%,#ffd4d4 31.33% 31.67%,#ff5555 31.67% 32.00%,#8080ff 32.00% 32.33%,#ff1515 32.33% 32.67%,#5555ff 32.67% 33.00%,#ff8080 33.00% 33.33%,#ff5555 33.33% 33.67%,#ffd4d4 33.67% 34.00%,#ff8080 34.00% 34.33%,#ff1515 34.33% 35.67%,#ffeaea 35.67% 36.00%,#ff6a6a 36.00% 36.33%,#ff1515 36.33% 36.67%,#ff5555 36.67% 37.00%,#2a2aff 37.00% 37.33%,#1515ff 37.33% 37.67%,#ff1515 37.67% 38.00%,#ffeaea 38.00% 38.33%,#d4d4ff 38.33% 38.67%,#ff1515 38.67% 39.67%,#ff4040 39.67% 40.00%,#2a2aff 40.00% 40.33%,#ff1515 40.33% 40.67%,#ffeaea 40.67% 41.00%,#ff1515 41.00% 41.33%,#ff2a2a 41.33% 41.67%,#ff1515 41.67% 42.00%,#ff4040 42.00% 42.33%,#ff1515 42.33% 43.00%,#ffeaea 43.00% 43.33%,#ff6a6a 43.33% 43.67%,#ff1515 43.67% 44.00%,#ff9595 44.00% 44.33%,#ff4040 44.33% 44.67%,#ffd4d4 44.67% 45.00%,#ff1515 45.00% 45.33%,#ff4040 45.33% 45.67%,#ff1515 45.67% 46.00%,#9595ff 46.00% 46.33%,#2a2aff 46.33% 46.67%,#eaeaff 46.67% 47.00%,#9595ff 47.00% 47.33%,#ff8080 47.33% 47.67%,#9595ff 47.67% 48.00%,#ffd4d4 48.00% 48.33%,#2a2aff 48.33% 48.67%,#1515ff 48.67% 49.00%,#eaeaff 49.00% 49.33%,#8080ff 49.33% 49.67%,#ff4040 49.67% 50.00%,#ffd4d4 50.00% 50.33%,#ff5555 50.33% 50.67%,#ff9595 50.67% 51.00%,#ffeaea 51.00% 51.33%,#ff9595 51.33% 51.67%,#ff5555 51.67% 52.00%,#aaaaff 52.00% 52.33%,#bfbfff 52.33% 52.67%,#ff1515 52.67% 53.00%,#ff8080 53.00% 53.33%,#ffeaea 53.33% 53.67%,#9595ff 53.67% 54.00%,#ff8080 54.00% 54.33%,#eaeaff 54.33% 54.67%,#ffbfbf 54.67% 55.00%,#9595ff 55.00% 55.33%,#ffbfbf 55.33% 56.00%,#ffd4d4 56.00% 56.33%,#ff8080 56.33% 56.67%,#d4d4ff 56.67% 57.00%,#1515ff 57.00% 57.33%,#ffaaaa 57.33% 57.67%,#ff6a6a 57.67% 58.00%,#ff9595 58.00% 58.33%,#ff1515 58.33% 59.00%,#ffbfbf 59.00% 59.33%,#ff5555 59.33% 59.67%,#ffbfbf 59.67% 60.00%,#ff6a6a 60.00% 60.67%,#ff9595 60.67% 61.00%,#ff2a2a 61.00% 61.33%,#ff1515 61.33% 61.67%,#ff9595 61.67% 62.00%,#ffaaaa 62.00% 62.33%,#bfbfff 62.33% 62.67%,#ffd4d4 62.67% 63.00%,#ffffff 63.00% 63.33%,#ffbfbf 63.33% 63.67%,#ffeaea 63.67% 64.00%,#ffaaaa 64.00% 64.33%,#d4d4ff 64.33% 64.67%,#ff9595 64.67% 65.00%,#d4d4ff 65.00% 65.33%,#eaeaff 65.33% 65.67%,#ff5555 65.67% 66.00%,#ff8080 66.00% 66.33%,#ff4040 66.33% 66.67%,#ffaaaa 66.67% 67.00%,#ffd4d4 67.00% 67.33%,#eaeaff 67.33% 67.67%,#aaaaff 67.67% 68.00%,#5555ff 68.00% 68.33%,#4040ff 68.33% 68.67%,#1515ff 68.67% 69.33%,#4040ff 69.33% 69.67%,#2a2aff 69.67% 70.00%,#4040ff 70.00% 70.33%,#2a2aff 70.33% 70.67%,#1515ff 70.67% 71.00%,#9595ff 71.00% 71.33%,#1515ff 71.33% 72.33%,#4040ff 72.33% 73.00%,#1515ff 73.00% 74.33%,#2a2aff 74.33% 74.67%,#6a6aff 74.67% 75.00%,#1515ff 75.00% 75.67%,#5555ff 75.67% 76.33%,#6a6aff 76.33% 77.00%,#1515ff 77.00% 77.33%,#4040ff 77.33% 77.67%,#1515ff 77.67% 78.00%,#2a2aff 78.00% 78.33%,#8080ff 78.33% 78.67%,#4040ff 78.67% 79.00%,#1515ff 79.00% 81.33%,#9595ff 81.33% 81.67%,#5555ff 81.67% 82.00%,#2a2aff 82.00% 82.33%,#1515ff 82.33% 82.67%,#2a2aff 82.67% 83.00%,#1515ff 83.00% 83.33%,#6a6aff 83.33% 84.33%,#9595ff 84.33% 84.67%,#5555ff 84.67% 85.33%,#8080ff 85.33% 85.67%,#2a2aff 85.67% 86.00%,#1515ff 86.00% 91.67%,#2a2aff 91.67% 92.00%,#6a6aff 92.00% 92.33%,#2a2aff 92.33% 92.67%,#4040ff 92.67% 93.00%,#1515ff 93.00% 93.67%,#4040ff 93.67% 94.00%,#1515ff 94.00% 96.00%,#5555ff 96.00% 96.33%,#6a6aff 96.33% 96.67%,#4040ff 96.67% 97.00%,#1515ff 97.00% 99.00%,#2a2aff 99.00% 99.33%,#4040ff 99.33% 99.67%,#1515ff 99.67% 100.00%)"></div><div class="hm" style="left:1191.0px;top:1010.57px;width:622.5px;height:30.73px;background:linear-gradient(90deg,#8080ff 0.00% 0.33%,#eaeaff 0.33% 0.67%,#ffaaaa 0.67% 1.00%,#ff6a6a 1.00% 1.33%,#5555ff 1.33% 1.67%,#aaaaff 1.67% 2.00%,#6a6aff 2.00% 2.33%,#ffeaea 2.33% 2.67%,#5555ff 2.67% 3.00%,#aaaaff 3.00% 3.33%,#ff6a6a 3.33% 3.67%,#ff4040 3.67% 4.00%,#d4d4ff 4.00% 4.33%,#ffaaaa 4.33% 4.67%,#ffffff 4.67% 5.00%,#ff5555 5.00% 5.67%,#ff6a6a 5.67% 6.00%,#ff8080 6.00% 6.33%,#ffaaaa 6.33% 6.67%,#ff1515 6.67% 7.00%,#ff9595 7.00% 7.33%,#ff5555 7.33% 7.67%,#ff8080 7.67% 8.00%,#ffeaea 8.00% 8.33%,#ffbfbf 8.33% 8.67%,#ffffff 8.67% 9.33%,#d4d4ff 9.33% 9.67%,#ffeaea 9.67% 10.00%,#ff4040 10.00% 10.33%,#9595ff 10.33% 10.67%,#6a6aff 10.67% 11.00%,#d4d4ff 11.00% 11.33%,#ff1515 11.33% 11.67%,#ffbfbf 11.67% 12.00%,#ff8080 12.00% 12.33%,#ffd4d4 12.33% 12.67%,#bfbfff 12.67% 13.00%,#5555ff 13.00% 13.33%,#9595ff 13.33% 13.67%,#5555ff 13.67% 14.00%,#d4d4ff 14.00% 14.33%,#ffd4d4 14.33% 14.67%,#ffaaaa 14.67% 15.00%,#ff4040 15.00% 15.33%,#ff1515 15.33% 15.67%,#ff9595 15.67% 16.00%,#ff2a2a 16.00% 16.33%,#ff6a6a 16.33% 16.67%,#ff1515 16.67% 17.00%,#ff2a2a 17.00% 17.33%,#ff1515 17.33% 17.67%,#eaeaff 17.67% 18.00%,#1515ff 18.00% 18.33%,#8080ff 18.33% 18.67%,#eaeaff 18.67% 19.00%,#ffaaaa 19.00% 19.33%,#ff1515 19.33% 19.67%,#ffaaaa 19.67% 20.00%,#ff4040 20.00% 20.33%,#6a6aff 20.33% 20.67%,#1515ff 20.67% 21.00%,#ff1515 21.00% 21.33%,#ff5555 21.33% 21.67%,#2a2aff 21.67% 22.00%,#ff8080 22.00% 22.33%,#ffaaaa 22.33% 22.67%,#ff1515 22.67% 23.00%,#ff5555 23.00% 23.33%,#ff1515 23.33% 24.00%,#bfbfff 24.00% 24.33%,#ffffff 24.33% 24.67%,#ffaaaa 24.67% 25.00%,#ffbfbf 25.00% 25.33%,#ff9595 25.33% 25.67%,#ff4040 25.67% 26.00%,#ff2a2a 26.00% 26.33%,#ff1515 26.33% 27.33%,#ff9595 27.33% 27.67%,#ff4040 27.67% 28.00%,#ff5555 28.00% 28.33%,#ff1515 28.33% 30.33%,#eaeaff 30.33% 30.67%,#ffffff 30.67% 31.67%,#ff9595 31.67% 32.00%,#ff2a2a 32.00% 32.33%,#ff1515 32.33% 33.67%,#ffd4d4 33.67% 34.00%,#ff4040 34.00% 34.33%,#ff1515 34.33% 35.00%,#ff9595 35.00% 35.33%,#ffd4d4 35.33% 35.67%,#1515ff 35.67% 36.00%,#8080ff 36.00% 36.33%,#ffaaaa 36.33% 37.00%,#ff6a6a 37.00% 37.67%,#ff1515 37.67% 38.00%,#ffaaaa 38.00% 38.33%,#ff1515 38.33% 39.00%,#ff5555 39.00% 39.33%,#ff6a6a 39.33% 39.67%,#ff9595 39.67% 40.00%,#eaeaff 40.00% 40.33%,#ffffff 40.33% 40.67%,#4040ff 40.67% 41.00%,#ffffff 41.00% 41.33%,#ff5555 41.33% 41.67%,#ff1515 41.67% 43.00%,#ff2a2a 43.00% 43.33%,#ff5555 43.33% 43.67%,#ff8080 43.67% 44.33%,#ff1515 44.33% 44.67%,#ff6a6a 44.67% 45.00%,#ff9595 45.00% 45.33%,#ff1515 45.33% 46.00%,#ffd4d4 46.00% 46.33%,#bfbfff 46.33% 46.67%,#ff9595 46.67% 47.00%,#ff2a2a 47.00% 47.33%,#ff1515 47.33% 48.33%,#ff5555 48.33% 48.67%,#ff1515 48.67% 49.00%,#ff8080 49.00% 49.33%,#ff9595 49.33% 49.67%,#ffd4d4 49.67% 50.00%,#ff5555 50.00% 50.33%,#d4d4ff 50.33% 50.67%,#ffaaaa 50.67% 51.00%,#ff6a6a 51.00% 51.33%,#ff9595 51.33% 51.67%,#ffffff 51.67% 52.00%,#ff1515 52.00% 53.00%,#ff5555 53.00% 53.33%,#ff1515 53.33% 54.33%,#ff5555 54.33% 54.67%,#ff2a2a 54.67% 55.00%,#ff6a6a 55.00% 55.33%,#ff1515 55.33% 55.67%,#ffeaea 55.67% 56.00%,#ffffff 56.00% 56.33%,#ff1515 56.33% 56.67%,#ff4040 56.67% 57.00%,#ff9595 57.00% 57.33%,#9595ff 57.33% 57.67%,#aaaaff 57.67% 58.00%,#eaeaff 58.00% 58.33%,#ff5555 58.33% 58.67%,#ff1515 58.67% 59.00%,#ff4040 59.00% 59.33%,#ffd4d4 59.33% 59.67%,#bfbfff 59.67% 60.00%,#1515ff 60.00% 60.33%,#ffbfbf 60.33% 60.67%,#ffeaea 60.67% 61.00%,#9595ff 61.00% 61.33%,#ff6a6a 61.33% 61.67%,#ff1515 61.67% 62.00%,#ffbfbf 62.00% 62.33%,#ffffff 62.33% 62.67%,#ff8080 62.67% 63.00%,#4040ff 63.00% 63.33%,#ffffff 63.33% 63.67%,#ffaaaa 63.67% 64.00%,#ff1515 64.00% 64.33%,#ffbfbf 64.33% 65.00%,#ffeaea 65.00% 65.33%,#ff6a6a 65.33% 65.67%,#ff4040 65.67% 66.00%,#ff1515 66.00% 66.67%,#ffaaaa 66.67% 67.00%,#ffd4d4 67.00% 67.33%,#aaaaff 67.33% 67.67%,#ffffff 67.67% 68.00%,#ff5555 68.00% 68.33%,#ffeaea 68.33% 68.67%,#ffffff 68.67% 69.00%,#aaaaff 69.00% 69.33%,#ffffff 69.33% 69.67%,#bfbfff 69.67% 70.00%,#ffeaea 70.00% 70.33%,#6a6aff 70.33% 70.67%,#5555ff 70.67% 71.00%,#ffffff 71.00% 71.33%,#aaaaff 71.33% 71.67%,#6a6aff 71.67% 72.00%,#8080ff 72.00% 72.33%,#bfbfff 72.33% 72.67%,#8080ff 72.67% 73.33%,#9595ff 73.33% 73.67%,#4040ff 73.67% 74.33%,#aaaaff 74.33% 74.67%,#2a2aff 74.67% 75.00%,#4040ff 75.00% 75.67%,#1515ff 75.67% 76.00%,#aaaaff 76.00% 76.33%,#d4d4ff 76.33% 77.00%,#4040ff 77.00% 77.33%,#2a2aff 77.33% 78.00%,#1515ff 78.00% 78.33%,#9595ff 78.33% 78.67%,#1515ff 78.67% 79.00%,#4040ff 79.00% 79.33%,#1515ff 79.33% 80.67%,#4040ff 80.67% 81.33%,#2a2aff 81.33% 81.67%,#1515ff 81.67% 82.00%,#4040ff 82.00% 82.33%,#1515ff 82.33% 85.33%,#2a2aff 85.33% 86.00%,#1515ff 86.00% 86.33%,#9595ff 86.33% 86.67%,#1515ff 86.67% 87.67%,#4040ff 87.67% 88.00%,#1515ff 88.00% 95.00%,#2a2aff 95.00% 95.33%,#1515ff 95.33% 96.00%,#4040ff 96.00% 96.33%,#1515ff 96.33% 100.00%)"></div><div class="hm" style="left:1191.0px;top:120.40px;width:622.5px;height:16.8px;background:linear-gradient(90deg,#f1eef6 0.00% 0.67%,#e7d4e8 0.67% 1.00%,#f1eef6 1.00% 2.33%,#ede3f0 2.33% 2.67%,#f1eef6 2.67% 3.33%,#e7d4e8 3.33% 3.67%,#f1eef6 3.67% 4.00%,#ede3f0 4.00% 4.33%,#e7d4e8 4.33% 4.67%,#e377b8 4.67% 5.00%,#f1eef6 5.00% 7.33%,#e7d4e8 7.33% 7.67%,#ede3f0 7.67% 8.00%,#f1eef6 8.00% 8.33%,#ede3f0 8.33% 8.67%,#dd3d8a 8.67% 9.33%,#ede3f0 9.33% 10.00%,#d4b9da 10.00% 10.33%,#f1eef6 10.33% 11.00%,#e7d4e8 11.00% 11.67%,#f1eef6 11.67% 12.33%,#ede3f0 12.33% 13.00%,#f1eef6 13.00% 13.67%,#e7d4e8 13.67% 14.00%,#f1eef6 14.00% 15.00%,#ede3f0 15.00% 15.33%,#f1eef6 15.33% 16.00%,#e7d4e8 16.00% 16.67%,#ede3f0 16.67% 17.00%,#f1eef6 17.00% 17.33%,#e7d4e8 17.33% 17.67%,#f1eef6 17.67% 18.33%,#e7d4e8 18.33% 18.67%,#ede3f0 18.67% 19.00%,#f1eef6 19.00% 19.67%,#ede3f0 19.67% 20.00%,#f1eef6 20.00% 20.33%,#ede3f0 20.33% 20.67%,#f1eef6 20.67% 21.00%,#e377b8 21.00% 21.33%,#f1eef6 21.33% 21.67%,#e7d4e8 21.67% 22.33%,#f1eef6 22.33% 23.00%,#ede3f0 23.00% 23.33%,#f1eef6 23.33% 23.67%,#e7d4e8 23.67% 24.00%,#f1eef6 24.00% 25.00%,#e7d4e8 25.00% 25.33%,#d4b9da 25.33% 25.67%,#f1eef6 25.67% 26.00%,#e377b8 26.00% 26.33%,#f1eef6 26.33% 26.67%,#ede3f0 26.67% 27.67%,#d4b9da 27.67% 28.00%,#dd3d8a 28.00% 28.33%,#f1eef6 28.33% 30.00%,#ede3f0 30.00% 30.33%,#f1eef6 30.33% 30.67%,#d4b9da 30.67% 31.00%,#f1eef6 31.00% 31.67%,#ede3f0 31.67% 32.00%,#f1eef6 32.00% 32.33%,#ede3f0 32.33% 32.67%,#f1eef6 32.67% 33.67%,#e377b8 33.67% 34.00%,#f1eef6 34.00% 34.67%,#ede3f0 34.67% 35.00%,#f1eef6 35.00% 36.33%,#d4b9da 36.33% 36.67%,#f1eef6 36.67% 38.67%,#e377b8 38.67% 39.00%,#d4b9da 39.00% 39.33%,#f1eef6 39.33% 40.33%,#ede3f0 40.33% 40.67%,#f1eef6 40.67% 41.00%,#ede3f0 41.00% 41.33%,#e377b8 41.33% 41.67%,#ede3f0 41.67% 42.00%,#f1eef6 42.00% 42.33%,#ede3f0 42.33% 42.67%,#f1eef6 42.67% 44.33%,#e7d4e8 44.33% 44.67%,#f1eef6 44.67% 45.00%,#d4b9da 45.00% 45.67%,#f1eef6 45.67% 46.00%,#ede3f0 46.00% 46.67%,#f1eef6 46.67% 47.00%,#d4b9da 47.00% 47.33%,#f1eef6 47.33% 47.67%,#ede3f0 47.67% 48.33%,#f1eef6 48.33% 48.67%,#ede3f0 48.67% 49.00%,#e7d4e8 49.00% 49.33%,#f1eef6 49.33% 50.00%,#d4b9da 50.00% 50.33%,#ede3f0 50.33% 50.67%,#f1eef6 50.67% 51.00%,#d4b9da 51.00% 51.33%,#f1eef6 51.33% 51.67%,#ede3f0 51.67% 52.00%,#f1eef6 52.00% 52.33%,#e377b8 52.33% 52.67%,#f1eef6 52.67% 53.00%,#d4b9da 53.00% 53.33%,#f1eef6 53.33% 53.67%,#ede3f0 53.67% 54.00%,#f1eef6 54.00% 54.33%,#d4b9da 54.33% 54.67%,#ede3f0 54.67% 55.33%,#f1eef6 55.33% 56.00%,#dd3d8a 56.00% 56.33%,#ede3f0 56.33% 56.67%,#dd3d8a 56.67% 57.00%,#f1eef6 57.00% 57.67%,#e7d4e8 57.67% 58.00%,#f1eef6 58.00% 60.00%,#ede3f0 60.00% 60.67%,#f1eef6 60.67% 61.00%,#ede3f0 61.00% 61.33%,#d4b9da 61.33% 61.67%,#f1eef6 61.67% 62.67%,#d4b9da 62.67% 63.00%,#f1eef6 63.00% 63.33%,#ede3f0 63.33% 63.67%,#f1eef6 63.67% 65.00%,#e377b8 65.00% 65.33%,#f1eef6 65.33% 65.67%,#e7d4e8 65.67% 66.33%,#f1eef6 66.33% 68.67%,#e7d4e8 68.67% 69.00%,#ede3f0 69.00% 69.33%,#f1eef6 69.33% 70.67%,#ede3f0 70.67% 71.00%,#f1eef6 71.00% 71.33%,#ede3f0 71.33% 71.67%,#e7d4e8 71.67% 72.33%,#ede3f0 72.33% 73.00%,#d4b9da 73.00% 73.33%,#f1eef6 73.33% 74.67%,#e7d4e8 74.67% 75.33%,#e377b8 75.33% 75.67%,#f1eef6 75.67% 77.00%,#dd3d8a 77.00% 77.33%,#f1eef6 77.33% 78.00%,#ede3f0 78.00% 78.33%,#f1eef6 78.33% 78.67%,#d4b9da 78.67% 79.00%,#e7d4e8 79.00% 79.67%,#f1eef6 79.67% 81.33%,#ede3f0 81.33% 81.67%,#f1eef6 81.67% 82.67%,#e377b8 82.67% 83.00%,#f1eef6 83.00% 86.00%,#e7d4e8 86.00% 86.33%,#ede3f0 86.33% 86.67%,#f1eef6 86.67% 88.00%,#ede3f0 88.00% 88.33%,#dd3d8a 88.33% 88.67%,#f1eef6 88.67% 89.33%,#dd3d8a 89.33% 89.67%,#e7d4e8 89.67% 90.00%,#f1eef6 90.00% 90.33%,#e377b8 90.33% 90.67%,#ede3f0 90.67% 91.00%,#dd3d8a 91.00% 91.33%,#ede3f0 91.33% 92.00%,#e377b8 92.00% 92.33%,#ede3f0 92.33% 92.67%,#f1eef6 92.67% 93.00%,#ede3f0 93.00% 93.33%,#d4b9da 93.33% 93.67%,#f1eef6 93.67% 94.00%,#e7d4e8 94.00% 94.33%,#f1eef6 94.33% 95.00%,#ede3f0 95.00% 95.67%,#f1eef6 95.67% 96.00%,#ede3f0 96.00% 96.33%,#f1eef6 96.33% 96.67%,#ede3f0 96.67% 97.00%,#dd3d8a 97.00% 97.33%,#f1eef6 97.33% 97.67%,#ede3f0 97.67% 98.00%,#d4b9da 98.00% 98.33%,#f1eef6 98.33% 98.67%,#ede3f0 98.67% 99.00%,#e7d4e8 99.00% 99.33%,#ede3f0 99.33% 99.67%,#f1eef6 99.67% 100.00%)"></div><div class="hm" style="left:1191.0px;top:139.10px;width:622.5px;height:16.8px;background:linear-gradient(90deg,#67a9cf 0.00% 0.33%,#a6c8e0 0.33% 1.33%,#d0d8ea 1.33% 1.67%,#8fc5c6 1.67% 2.00%,#67a9cf 2.00% 2.33%,#8fc5c6 2.33% 2.67%,#3d9bbf 2.67% 3.00%,#a6c8e0 3.00% 3.67%,#3d9bbf 3.67% 4.00%,#2a9a9e 4.00% 4.33%,#67a9cf 4.33% 4.67%,#8fc5c6 4.67% 5.00%,#3d9bbf 5.00% 5.33%,#a6c8e0 5.33% 5.67%,#d0d8ea 5.67% 6.00%,#2a9a9e 6.00% 6.33%,#a6c8e0 6.33% 7.00%,#67a9cf 7.00% 7.33%,#8fc5c6 7.33% 7.67%,#3d9bbf 7.67% 8.00%,#a6c8e0 8.00% 8.33%,#3d9bbf 8.33% 9.33%,#67a9cf 9.33% 9.67%,#a6c8e0 9.67% 10.00%,#67a9cf 10.00% 10.33%,#d0d8ea 10.33% 10.67%,#8fc5c6 10.67% 11.00%,#d0d8ea 11.00% 11.33%,#a6c8e0 11.33% 11.67%,#3d9bbf 11.67% 12.00%,#a6c8e0 12.00% 12.67%,#d0d8ea 12.67% 13.00%,#67a9cf 13.00% 13.33%,#2a9a9e 13.33% 13.67%,#8fc5c6 13.67% 14.00%,#a6c8e0 14.00% 14.33%,#d0d8ea 14.33% 14.67%,#3d9bbf 14.67% 15.00%,#a6c8e0 15.00% 15.33%,#3d9bbf 15.33% 15.67%,#a6c8e0 15.67% 17.00%,#67a9cf 17.00% 17.33%,#3d9bbf 17.33% 17.67%,#a6c8e0 17.67% 18.00%,#2a9a9e 18.00% 18.33%,#d0d8ea 18.33% 18.67%,#8fc5c6 18.67% 19.00%,#67a9cf 19.00% 19.33%,#a6c8e0 19.33% 19.67%,#67a9cf 19.67% 20.33%,#3d9bbf 20.33% 20.67%,#2a9a9e 20.67% 21.67%,#d0d8ea 21.67% 22.00%,#67a9cf 22.00% 22.33%,#2a9a9e 22.33% 22.67%,#3d9bbf 22.67% 23.00%,#8fc5c6 23.00% 23.33%,#67a9cf 23.33% 23.67%,#a6c8e0 23.67% 24.00%,#3d9bbf 24.00% 24.33%,#a6c8e0 24.33% 24.67%,#67a9cf 24.67% 25.67%,#3d9bbf 25.67% 26.00%,#d0d8ea 26.00% 26.67%,#67a9cf 26.67% 27.00%,#a6c8e0 27.00% 27.67%,#d0d8ea 27.67% 28.00%,#67a9cf 28.00% 28.33%,#3d9bbf 28.33% 28.67%,#67a9cf 28.67% 29.00%,#8fc5c6 29.00% 30.00%,#67a9cf 30.00% 30.67%,#3d9bbf 30.67% 31.00%,#67a9cf 31.00% 31.67%,#d0d8ea 31.67% 32.00%,#8fc5c6 32.00% 32.33%,#67a9cf 32.33% 33.00%,#a6c8e0 33.00% 33.33%,#67a9cf 33.33% 33.67%,#a6c8e0 33.67% 34.00%,#8fc5c6 34.00% 34.33%,#3d9bbf 34.33% 34.67%,#67a9cf 34.67% 35.33%,#3d9bbf 35.33% 36.33%,#8fc5c6 36.33% 36.67%,#3d9bbf 36.67% 37.00%,#a6c8e0 37.00% 37.33%,#d0d8ea 37.33% 37.67%,#2a9a9e 37.67% 38.00%,#3d9bbf 38.00% 39.33%,#a6c8e0 39.33% 39.67%,#67a9cf 39.67% 40.00%,#3d9bbf 40.00% 40.33%,#a6c8e0 40.33% 40.67%,#3d9bbf 40.67% 41.00%,#8fc5c6 41.00% 41.33%,#2a9a9e 41.33% 41.67%,#d0d8ea 41.67% 42.00%,#2a9a9e 42.00% 42.33%,#3d9bbf 42.33% 42.67%,#8fc5c6 42.67% 43.00%,#67a9cf 43.00% 43.67%,#8fc5c6 43.67% 44.00%,#67a9cf 44.00% 44.33%,#a6c8e0 44.33% 44.67%,#67a9cf 44.67% 45.00%,#2a9a9e 45.00% 45.33%,#a6c8e0 45.33% 46.00%,#8fc5c6 46.00% 46.33%,#3d9bbf 46.33% 46.67%,#67a9cf 46.67% 47.00%,#a6c8e0 47.00% 47.33%,#67a9cf 47.33% 47.67%,#8fc5c6 47.67% 48.00%,#3d9bbf 48.00% 48.33%,#d0d8ea 48.33% 48.67%,#3d9bbf 48.67% 49.00%,#2a9a9e 49.00% 49.33%,#a6c8e0 49.33% 50.00%,#3d9bbf 50.00% 50.33%,#8fc5c6 50.33% 50.67%,#67a9cf 50.67% 51.00%,#a6c8e0 51.00% 51.33%,#8fc5c6 51.33% 51.67%,#2a9a9e 51.67% 52.00%,#d0d8ea 52.00% 52.67%,#3d9bbf 52.67% 53.00%,#67a9cf 53.00% 53.33%,#3d9bbf 53.33% 54.00%,#a6c8e0 54.00% 54.33%,#67a9cf 54.33% 54.67%,#3d9bbf 54.67% 55.00%,#a6c8e0 55.00% 55.67%,#8fc5c6 55.67% 56.00%,#67a9cf 56.00% 56.33%,#2a9a9e 56.33% 56.67%,#a6c8e0 56.67% 57.00%,#d0d8ea 57.00% 57.33%,#a6c8e0 57.33% 57.67%,#3d9bbf 57.67% 58.00%,#a6c8e0 58.00% 58.33%,#8fc5c6 58.33% 58.67%,#67a9cf 58.67% 59.00%,#3d9bbf 59.00% 59.67%,#8fc5c6 59.67% 60.00%,#a6c8e0 60.00% 60.67%,#67a9cf 60.67% 61.00%,#a6c8e0 61.00% 61.67%,#67a9cf 61.67% 62.33%,#3d9bbf 62.33% 62.67%,#d0d8ea 62.67% 63.33%,#3d9bbf 63.33% 63.67%,#d0d8ea 63.67% 64.00%,#67a9cf 64.00% 64.33%,#8fc5c6 64.33% 64.67%,#d0d8ea 64.67% 65.00%,#67a9cf 65.00% 65.33%,#d0d8ea 65.33% 65.67%,#3d9bbf 65.67% 66.00%,#8fc5c6 66.00% 66.33%,#2a9a9e 66.33% 66.67%,#8fc5c6 66.67% 67.00%,#67a9cf 67.00% 67.33%,#a6c8e0 67.33% 67.67%,#67a9cf 67.67% 68.33%,#8fc5c6 68.33% 69.00%,#2a9a9e 69.00% 69.33%,#8fc5c6 69.33% 69.67%,#3d9bbf 69.67% 70.00%,#67a9cf 70.00% 70.33%,#d0d8ea 70.33% 70.67%,#a6c8e0 70.67% 71.33%,#d0d8ea 71.33% 71.67%,#67a9cf 71.67% 72.00%,#3d9bbf 72.00% 72.67%,#8fc5c6 72.67% 73.00%,#d0d8ea 73.00% 73.33%,#3d9bbf 73.33% 73.67%,#8fc5c6 73.67% 74.00%,#a6c8e0 74.00% 74.33%,#3d9bbf 74.33% 74.67%,#2a9a9e 74.67% 75.00%,#67a9cf 75.00% 75.33%,#3d9bbf 75.33% 76.00%,#67a9cf 76.00% 76.67%,#a6c8e0 76.67% 77.00%,#8fc5c6 77.00% 77.67%,#2a9a9e 77.67% 78.00%,#d0d8ea 78.00% 78.33%,#67a9cf 78.33% 78.67%,#d0d8ea 78.67% 79.00%,#2a9a9e 79.00% 79.33%,#a6c8e0 79.33% 79.67%,#67a9cf 79.67% 80.00%,#3d9bbf 80.00% 80.33%,#67a9cf 80.33% 80.67%,#3d9bbf 80.67% 81.00%,#d0d8ea 81.00% 81.33%,#67a9cf 81.33% 81.67%,#8fc5c6 81.67% 82.67%,#2a9a9e 82.67% 83.00%,#8fc5c6 83.00% 83.33%,#3d9bbf 83.33% 83.67%,#a6c8e0 83.67% 84.67%,#67a9cf 84.67% 85.33%,#2a9a9e 85.33% 85.67%,#67a9cf 85.67% 86.00%,#d0d8ea 86.00% 86.33%,#2a9a9e 86.33% 86.67%,#a6c8e0 86.67% 87.00%,#3d9bbf 87.00% 87.33%,#67a9cf 87.33% 87.67%,#8fc5c6 87.67% 88.00%,#a6c8e0 88.00% 88.33%,#67a9cf 88.33% 88.67%,#d0d8ea 88.67% 89.00%,#3d9bbf 89.00% 89.33%,#a6c8e0 89.33% 90.00%,#3d9bbf 90.00% 90.67%,#d0d8ea 90.67% 91.00%,#67a9cf 91.00% 91.33%,#3d9bbf 91.33% 91.67%,#a6c8e0 91.67% 92.00%,#8fc5c6 92.00% 92.67%,#2a9a9e 92.67% 93.00%,#a6c8e0 93.00% 93.67%,#67a9cf 93.67% 94.00%,#8fc5c6 94.00% 94.33%,#d0d8ea 94.33% 95.00%,#67a9cf 95.00% 95.33%,#3d9bbf 95.33% 95.67%,#d0d8ea 95.67% 96.00%,#3d9bbf 96.00% 96.33%,#8fc5c6 96.33% 97.00%,#2a9a9e 97.00% 97.33%,#3d9bbf 97.33% 98.00%,#67a9cf 98.00% 98.33%,#3d9bbf 98.33% 99.00%,#67a9cf 99.00% 99.33%,#3d9bbf 99.33% 99.67%,#67a9cf 99.67% 100.00%)"></div><div class="hm" style="left:1191.0px;top:157.80px;width:622.5px;height:16.8px;background:linear-gradient(90deg,#5aa0cc 0.00% 0.67%,#b3cde3 0.67% 1.00%,#dde5f2 1.00% 2.00%,#5aa0cc 2.00% 2.33%,#2b8cbe 2.33% 2.67%,#5aa0cc 2.67% 3.00%,#dde5f2 3.00% 3.33%,#b3cde3 3.33% 3.67%,#5aa0cc 3.67% 4.00%,#2b8cbe 4.00% 4.33%,#8cb8dc 4.33% 4.67%,#dde5f2 4.67% 5.33%,#8cb8dc 5.33% 5.67%,#5aa0cc 5.67% 6.00%,#2b8cbe 6.00% 6.33%,#b3cde3 6.33% 7.00%,#8cb8dc 7.00% 7.33%,#5aa0cc 7.33% 7.67%,#8cb8dc 7.67% 8.33%,#b3cde3 8.33% 9.00%,#8cb8dc 9.00% 9.67%,#dde5f2 9.67% 10.00%,#2b8cbe 10.00% 10.33%,#5aa0cc 10.33% 10.67%,#8cb8dc 10.67% 11.67%,#dde5f2 11.67% 12.00%,#8cb8dc 12.00% 12.33%,#5aa0cc 12.33% 13.00%,#8cb8dc 13.00% 13.33%,#b3cde3 13.33% 13.67%,#2b8cbe 13.67% 14.00%,#dde5f2 14.00% 14.33%,#2b8cbe 14.33% 14.67%,#5aa0cc 14.67% 15.00%,#8cb8dc 15.00% 15.33%,#5aa0cc 15.33% 15.67%,#8cb8dc 15.67% 16.00%,#5aa0cc 16.00% 16.33%,#b3cde3 16.33% 16.67%,#2b8cbe 16.67% 17.00%,#b3cde3 17.00% 17.33%,#5aa0cc 17.33% 17.67%,#b3cde3 17.67% 18.00%,#5aa0cc 18.00% 19.00%,#dde5f2 19.00% 19.33%,#5aa0cc 19.33% 19.67%,#dde5f2 19.67% 20.00%,#8cb8dc 20.00% 20.33%,#b3cde3 20.33% 20.67%,#2b8cbe 20.67% 21.00%,#8cb8dc 21.00% 21.33%,#5aa0cc 21.33% 21.67%,#2b8cbe 21.67% 22.00%,#8cb8dc 22.00% 22.33%,#b3cde3 22.33% 22.67%,#8cb8dc 22.67% 23.00%,#2b8cbe 23.00% 23.33%,#5aa0cc 23.33% 23.67%,#b3cde3 23.67% 24.00%,#8cb8dc 24.00% 24.33%,#b3cde3 24.33% 24.67%,#5aa0cc 24.67% 25.00%,#b3cde3 25.00% 25.33%,#5aa0cc 25.33% 25.67%,#b3cde3 25.67% 26.00%,#dde5f2 26.00% 26.33%,#5aa0cc 26.33% 26.67%,#8cb8dc 26.67% 27.00%,#5aa0cc 27.00% 28.00%,#8cb8dc 28.00% 28.33%,#dde5f2 28.33% 29.00%,#5aa0cc 29.00% 29.33%,#b3cde3 29.33% 29.67%,#dde5f2 29.67% 30.00%,#b3cde3 30.00% 30.33%,#5aa0cc 30.33% 31.00%,#dde5f2 31.00% 31.33%,#5aa0cc 31.33% 31.67%,#8cb8dc 31.67% 32.33%,#2b8cbe 32.33% 32.67%,#dde5f2 32.67% 33.00%,#2b8cbe 33.00% 33.33%,#b3cde3 33.33% 33.67%,#5aa0cc 33.67% 34.00%,#2b8cbe 34.00% 34.33%,#dde5f2 34.33% 34.67%,#2b8cbe 34.67% 35.00%,#dde5f2 35.00% 35.67%,#2b8cbe 35.67% 36.00%,#8cb8dc 36.00% 36.67%,#2b8cbe 36.67% 37.00%,#8cb8dc 37.00% 37.33%,#b3cde3 37.33% 37.67%,#dde5f2 37.67% 38.00%,#b3cde3 38.00% 38.33%,#8cb8dc 38.33% 38.67%,#5aa0cc 38.67% 39.00%,#2b8cbe 39.00% 39.33%,#8cb8dc 39.33% 39.67%,#b3cde3 39.67% 40.00%,#5aa0cc 40.00% 40.67%,#8cb8dc 40.67% 41.00%,#5aa0cc 41.00% 41.67%,#8cb8dc 41.67% 42.00%,#b3cde3 42.00% 42.33%,#8cb8dc 42.33% 42.67%,#b3cde3 42.67% 43.00%,#dde5f2 43.00% 43.67%,#8cb8dc 43.67% 44.67%,#dde5f2 44.67% 45.00%,#8cb8dc 45.00% 45.67%,#b3cde3 45.67% 46.00%,#5aa0cc 46.00% 46.67%,#b3cde3 46.67% 47.00%,#8cb8dc 47.00% 48.33%,#dde5f2 48.33% 49.00%,#2b8cbe 49.00% 49.33%,#5aa0cc 49.33% 49.67%,#b3cde3 49.67% 50.00%,#5aa0cc 50.00% 50.33%,#dde5f2 50.33% 50.67%,#8cb8dc 50.67% 51.33%,#5aa0cc 51.33% 51.67%,#8cb8dc 51.67% 52.67%,#5aa0cc 52.67% 53.33%,#dde5f2 53.33% 53.67%,#5aa0cc 53.67% 54.00%,#2b8cbe 54.00% 54.67%,#b3cde3 54.67% 55.00%,#8cb8dc 55.00% 55.33%,#dde5f2 55.33% 55.67%,#8cb8dc 55.67% 56.00%,#5aa0cc 56.00% 56.33%,#dde5f2 56.33% 57.00%,#b3cde3 57.00% 57.33%,#dde5f2 57.33% 57.67%,#8cb8dc 57.67% 58.00%,#5aa0cc 58.00% 58.33%,#dde5f2 58.33% 58.67%,#2b8cbe 58.67% 59.00%,#8cb8dc 59.00% 59.33%,#b3cde3 59.33% 59.67%,#8cb8dc 59.67% 60.00%,#b3cde3 60.00% 60.33%,#2b8cbe 60.33% 60.67%,#dde5f2 60.67% 61.00%,#b3cde3 61.00% 61.33%,#2b8cbe 61.33% 61.67%,#8cb8dc 61.67% 62.00%,#5aa0cc 62.00% 62.33%,#8cb8dc 62.33% 63.33%,#5aa0cc 63.33% 63.67%,#8cb8dc 63.67% 64.00%,#2b8cbe 64.00% 64.33%,#b3cde3 64.33% 64.67%,#8cb8dc 64.67% 65.00%,#b3cde3 65.00% 65.33%,#dde5f2 65.33% 65.67%,#5aa0cc 65.67% 66.00%,#b3cde3 66.00% 67.00%,#5aa0cc 67.00% 67.33%,#2b8cbe 67.33% 67.67%,#8cb8dc 67.67% 68.00%,#b3cde3 68.00% 68.67%,#dde5f2 68.67% 69.00%,#8cb8dc 69.00% 69.33%,#dde5f2 69.33% 69.67%,#b3cde3 69.67% 70.33%,#2b8cbe 70.33% 70.67%,#b3cde3 70.67% 71.00%,#dde5f2 71.00% 71.33%,#b3cde3 71.33% 72.00%,#5aa0cc 72.00% 72.33%,#8cb8dc 72.33% 72.67%,#dde5f2 72.67% 73.00%,#5aa0cc 73.00% 73.33%,#2b8cbe 73.33% 73.67%,#5aa0cc 73.67% 74.00%,#b3cde3 74.00% 74.67%,#8cb8dc 74.67% 75.00%,#5aa0cc 75.00% 75.33%,#8cb8dc 75.33% 75.67%,#b3cde3 75.67% 76.00%,#dde5f2 76.00% 76.33%,#2b8cbe 76.33% 76.67%,#8cb8dc 76.67% 77.00%,#dde5f2 77.00% 77.33%,#8cb8dc 77.33% 77.67%,#dde5f2 77.67% 78.67%,#8cb8dc 78.67% 79.00%,#dde5f2 79.00% 79.33%,#8cb8dc 79.33% 79.67%,#b3cde3 79.67% 80.67%,#5aa0cc 80.67% 81.00%,#b3cde3 81.00% 81.33%,#dde5f2 81.33% 81.67%,#b3cde3 81.67% 82.00%,#2b8cbe 82.00% 82.33%,#b3cde3 82.33% 82.67%,#dde5f2 82.67% 83.00%,#2b8cbe 83.00% 83.33%,#dde5f2 83.33% 83.67%,#5aa0cc 83.67% 84.00%,#b3cde3 84.00% 84.33%,#5aa0cc 84.33% 84.67%,#8cb8dc 84.67% 85.33%,#5aa0cc 85.33% 86.00%,#8cb8dc 86.00% 86.67%,#2b8cbe 86.67% 87.00%,#dde5f2 87.00% 87.33%,#2b8cbe 87.33% 87.67%,#b3cde3 87.67% 88.33%,#5aa0cc 88.33% 88.67%,#2b8cbe 88.67% 89.00%,#8cb8dc 89.00% 89.67%,#5aa0cc 89.67% 90.00%,#8cb8dc 90.00% 90.33%,#dde5f2 90.33% 91.00%,#8cb8dc 91.00% 91.33%,#dde5f2 91.33% 92.00%,#b3cde3 92.00% 92.33%,#5aa0cc 92.33% 92.67%,#dde5f2 92.67% 93.00%,#5aa0cc 93.00% 93.33%,#2b8cbe 93.33% 93.67%,#5aa0cc 93.67% 94.00%,#b3cde3 94.00% 94.33%,#8cb8dc 94.33% 94.67%,#5aa0cc 94.67% 95.00%,#b3cde3 95.00% 95.33%,#2b8cbe 95.33% 95.67%,#5aa0cc 95.67% 96.00%,#8cb8dc 96.00% 96.33%,#b3cde3 96.33% 97.00%,#2b8cbe 97.00% 97.67%,#5aa0cc 97.67% 98.00%,#b3cde3 98.00% 98.33%,#5aa0cc 98.33% 98.67%,#2b8cbe 98.67% 99.00%,#b3cde3 99.00% 99.67%,#dde5f2 99.67% 100.00%)"></div><div class="hm" style="left:1191.0px;top:176.50px;width:622.5px;height:16.8px;background:linear-gradient(90deg,#fdd9b4 0.00% 0.33%,#ec7055 0.33% 0.67%,#e34a33 0.67% 1.00%,#fdbb84 1.00% 1.33%,#fdd9b4 1.33% 1.67%,#ec7055 1.67% 2.33%,#f4906a 2.33% 2.67%,#e34a33 2.67% 3.33%,#f4906a 3.33% 4.00%,#ec7055 4.00% 4.33%,#f4906a 4.33% 5.00%,#e34a33 5.00% 5.67%,#ec7055 5.67% 6.00%,#f4906a 6.00% 6.33%,#ec7055 6.33% 6.67%,#e34a33 6.67% 7.00%,#ec7055 7.00% 8.33%,#f4906a 8.33% 8.67%,#ec7055 8.67% 9.00%,#e34a33 9.00% 9.33%,#ec7055 9.33% 9.67%,#e34a33 9.67% 10.00%,#f4906a 10.00% 10.33%,#ec7055 10.33% 11.00%,#e34a33 11.00% 11.33%,#ec7055 11.33% 11.67%,#e34a33 11.67% 12.00%,#f4906a 12.00% 12.67%,#fdd9b4 12.67% 13.00%,#ec7055 13.00% 13.33%,#f4906a 13.33% 13.67%,#e34a33 13.67% 14.00%,#f4906a 14.00% 15.00%,#fdbb84 15.00% 15.33%,#e34a33 15.33% 15.67%,#f4906a 15.67% 16.33%,#ec7055 16.33% 16.67%,#fdbb84 16.67% 17.00%,#f4906a 17.00% 17.67%,#fdbb84 17.67% 18.00%,#ec7055 18.00% 18.67%,#fdbb84 18.67% 19.00%,#f4906a 19.00% 19.33%,#e34a33 19.33% 19.67%,#ec7055 19.67% 20.33%,#fdd9b4 20.33% 20.67%,#f4906a 20.67% 21.00%,#ec7055 21.00% 21.33%,#f4906a 21.33% 22.00%,#ec7055 22.00% 22.33%,#f4906a 22.33% 23.00%,#fdd9b4 23.00% 23.33%,#e34a33 23.33% 23.67%,#fdbb84 23.67% 24.00%,#f4906a 24.00% 24.33%,#fdbb84 24.33% 24.67%,#f4906a 24.67% 25.00%,#fdbb84 25.00% 25.33%,#f4906a 25.33% 25.67%,#fdbb84 25.67% 26.33%,#f4906a 26.33% 26.67%,#fdbb84 26.67% 27.00%,#ec7055 27.00% 27.33%,#f4906a 27.33% 28.67%,#fdbb84 28.67% 29.00%,#ec7055 29.00% 29.33%,#fdbb84 29.33% 29.67%,#f4906a 29.67% 30.00%,#ec7055 30.00% 30.33%,#fdbb84 30.33% 30.67%,#f4906a 30.67% 31.67%,#e34a33 31.67% 32.00%,#fdbb84 32.00% 32.67%,#fdd9b4 32.67% 33.00%,#f4906a 33.00% 33.33%,#ec7055 33.33% 33.67%,#e34a33 33.67% 34.00%,#fdbb84 34.00% 34.67%,#f4906a 34.67% 35.00%,#ec7055 35.00% 35.33%,#f4906a 35.33% 36.00%,#ec7055 36.00% 37.00%,#f4906a 37.00% 37.33%,#ec7055 37.33% 37.67%,#e34a33 37.67% 38.00%,#f4906a 38.00% 38.33%,#e34a33 38.33% 38.67%,#ec7055 38.67% 39.00%,#f4906a 39.00% 39.33%,#fdbb84 39.33% 40.00%,#fdd9b4 40.00% 40.33%,#fdbb84 40.33% 40.67%,#f4906a 40.67% 41.00%,#ec7055 41.00% 41.33%,#f4906a 41.33% 41.67%,#ec7055 41.67% 42.00%,#f4906a 42.00% 42.33%,#e34a33 42.33% 42.67%,#ec7055 42.67% 43.00%,#f4906a 43.00% 44.00%,#ec7055 44.00% 44.33%,#f4906a 44.33% 44.67%,#fdbb84 44.67% 45.00%,#f4906a 45.00% 45.67%,#ec7055 45.67% 46.00%,#e34a33 46.00% 46.67%,#f4906a 46.67% 47.00%,#ec7055 47.00% 47.33%,#fdbb84 47.33% 47.67%,#ec7055 47.67% 48.67%,#f4906a 48.67% 49.00%,#fdbb84 49.00% 49.33%,#e34a33 49.33% 49.67%,#ec7055 49.67% 50.33%,#f4906a 50.33% 50.67%,#fdbb84 50.67% 51.00%,#fdd9b4 51.00% 51.33%,#e34a33 51.33% 52.00%,#f4906a 52.00% 52.33%,#ec7055 52.33% 52.67%,#fdbb84 52.67% 53.00%,#fdd9b4 53.00% 53.33%,#f4906a 53.33% 54.00%,#ec7055 54.00% 54.33%,#f4906a 54.33% 55.67%,#ec7055 55.67% 56.00%,#f4906a 56.00% 58.00%,#fdd9b4 58.00% 59.00%,#ec7055 59.00% 59.33%,#fdbb84 59.33% 59.67%,#f4906a 59.67% 60.00%,#e34a33 60.00% 60.33%,#fdbb84 60.33% 61.00%,#e34a33 61.00% 61.33%,#f4906a 61.33% 62.00%,#fdbb84 62.00% 62.33%,#fdd9b4 62.33% 62.67%,#ec7055 62.67% 63.00%,#e34a33 63.00% 63.33%,#f4906a 63.33% 63.67%,#ec7055 63.67% 64.00%,#f4906a 64.00% 64.33%,#ec7055 64.33% 64.67%,#f4906a 64.67% 65.33%,#ec7055 65.33% 65.67%,#fdbb84 65.67% 66.00%,#f4906a 66.00% 66.33%,#e34a33 66.33% 66.67%,#fdbb84 66.67% 67.00%,#ec7055 67.00% 67.33%,#fdbb84 67.33% 67.67%,#ec7055 67.67% 68.00%,#e34a33 68.00% 68.33%,#ec7055 68.33% 68.67%,#fdbb84 68.67% 69.00%,#ec7055 69.00% 69.33%,#e34a33 69.33% 69.67%,#fdd9b4 69.67% 70.00%,#f4906a 70.00% 70.67%,#ec7055 70.67% 71.00%,#e34a33 71.00% 71.33%,#fdbb84 71.33% 71.67%,#ec7055 71.67% 72.00%,#fdd9b4 72.00% 72.33%,#fdbb84 72.33% 72.67%,#ec7055 72.67% 73.00%,#f4906a 73.00% 73.33%,#e34a33 73.33% 75.00%,#f4906a 75.00% 75.33%,#ec7055 75.33% 75.67%,#e34a33 75.67% 76.00%,#fdd9b4 76.00% 76.33%,#f4906a 76.33% 76.67%,#e34a33 76.67% 77.00%,#f4906a 77.00% 77.33%,#fdd9b4 77.33% 77.67%,#ec7055 77.67% 78.33%,#fdbb84 78.33% 78.67%,#fdd9b4 78.67% 79.00%,#ec7055 79.00% 80.33%,#f4906a 80.33% 80.67%,#ec7055 80.67% 81.00%,#e34a33 81.00% 81.67%,#fdbb84 81.67% 82.00%,#ec7055 82.00% 82.33%,#f4906a 82.33% 82.67%,#ec7055 82.67% 83.00%,#f4906a 83.00% 83.67%,#fdbb84 83.67% 84.67%,#ec7055 84.67% 85.00%,#e34a33 85.00% 85.33%,#ec7055 85.33% 85.67%,#f4906a 85.67% 86.00%,#ec7055 86.00% 86.33%,#f4906a 86.33% 87.33%,#ec7055 87.33% 88.00%,#fdbb84 88.00% 88.33%,#fdd9b4 88.33% 88.67%,#f4906a 88.67% 89.00%,#fdd9b4 89.00% 89.33%,#fdbb84 89.33% 89.67%,#e34a33 89.67% 90.33%,#f4906a 90.33% 90.67%,#ec7055 90.67% 91.33%,#f4906a 91.33% 91.67%,#ec7055 91.67% 92.00%,#f4906a 92.00% 92.33%,#fdd9b4 92.33% 92.67%,#f4906a 92.67% 93.00%,#ec7055 93.00% 93.33%,#f4906a 93.33% 93.67%,#fdbb84 93.67% 94.00%,#ec7055 94.00% 94.33%,#f4906a 94.33% 94.67%,#ec7055 94.67% 95.00%,#f4906a 95.00% 95.33%,#ec7055 95.33% 95.67%,#f4906a 95.67% 96.00%,#fdd9b4 96.00% 96.33%,#ec7055 96.33% 97.00%,#fdbb84 97.00% 97.33%,#e34a33 97.33% 97.67%,#fdbb84 97.67% 98.00%,#e34a33 98.00% 98.33%,#f4906a 98.33% 98.67%,#e34a33 98.67% 99.00%,#ec7055 99.00% 99.67%,#fdbb84 99.67% 100.00%)"></div><div class="hm" style="left:1191.0px;top:195.20px;width:622.5px;height:16.8px;background:linear-gradient(90deg,#f3782c 0.00% 0.33%,#f9934a 0.33% 0.67%,#f3782c 0.67% 1.67%,#f9934a 1.67% 2.00%,#f3782c 2.00% 2.33%,#fdae6b 2.33% 2.67%,#f9934a 2.67% 3.33%,#f3782c 3.33% 4.00%,#fdae6b 4.00% 4.67%,#f3782c 4.67% 5.00%,#f9934a 5.00% 5.33%,#e6550d 5.33% 5.67%,#fdae6b 5.67% 6.67%,#f3782c 6.67% 7.00%,#fdae6b 7.00% 7.33%,#f9934a 7.33% 7.67%,#f3782c 7.67% 8.33%,#fdd0a2 8.33% 8.67%,#fdae6b 8.67% 9.33%,#f9934a 9.33% 9.67%,#f3782c 9.67% 10.00%,#fdd0a2 10.00% 10.67%,#fdae6b 10.67% 11.00%,#e6550d 11.00% 11.67%,#fdae6b 11.67% 12.00%,#f9934a 12.00% 12.33%,#f3782c 12.33% 13.33%,#f9934a 13.33% 13.67%,#fdd0a2 13.67% 14.00%,#f3782c 14.00% 15.00%,#fdd0a2 15.00% 15.33%,#fdae6b 15.33% 16.33%,#f3782c 16.33% 16.67%,#fdd0a2 16.67% 17.00%,#e6550d 17.00% 17.67%,#fdae6b 17.67% 18.00%,#f3782c 18.00% 18.33%,#f9934a 18.33% 18.67%,#f3782c 18.67% 19.00%,#fdae6b 19.00% 19.33%,#f9934a 19.33% 20.33%,#fdae6b 20.33% 20.67%,#f9934a 20.67% 21.00%,#fdae6b 21.00% 21.33%,#fdd0a2 21.33% 21.67%,#f3782c 21.67% 22.33%,#fdae6b 22.33% 22.67%,#f3782c 22.67% 23.00%,#fdae6b 23.00% 23.33%,#f9934a 23.33% 24.00%,#f3782c 24.00% 24.33%,#fdae6b 24.33% 24.67%,#e6550d 24.67% 25.00%,#fdd0a2 25.00% 25.33%,#f9934a 25.33% 25.67%,#fdae6b 25.67% 26.00%,#f3782c 26.00% 26.33%,#fdae6b 26.33% 26.67%,#f3782c 26.67% 27.00%,#f9934a 27.00% 27.33%,#e6550d 27.33% 27.67%,#f3782c 27.67% 28.00%,#fdae6b 28.00% 29.33%,#e6550d 29.33% 29.67%,#f9934a 29.67% 30.00%,#f3782c 30.00% 30.33%,#fdae6b 30.33% 30.67%,#e6550d 30.67% 31.67%,#f3782c 31.67% 32.00%,#fdae6b 32.00% 32.33%,#f9934a 32.33% 33.00%,#f3782c 33.00% 33.33%,#fdae6b 33.33% 33.67%,#f3782c 33.67% 34.00%,#f9934a 34.00% 34.33%,#f3782c 34.33% 34.67%,#f9934a 34.67% 35.00%,#fdae6b 35.00% 35.33%,#e6550d 35.33% 35.67%,#f3782c 35.67% 36.00%,#e6550d 36.00% 36.33%,#f3782c 36.33% 37.00%,#fdd0a2 37.00% 37.67%,#e6550d 37.67% 38.00%,#fdae6b 38.00% 38.33%,#f3782c 38.33% 38.67%,#f9934a 38.67% 39.33%,#f3782c 39.33% 40.00%,#f9934a 40.00% 40.33%,#fdd0a2 40.33% 40.67%,#f9934a 40.67% 41.00%,#e6550d 41.00% 41.33%,#f9934a 41.33% 41.67%,#fdae6b 41.67% 42.00%,#e6550d 42.00% 42.33%,#fdae6b 42.33% 42.67%,#f9934a 42.67% 43.67%,#f3782c 43.67% 44.00%,#f9934a 44.00% 44.33%,#f3782c 44.33% 44.67%,#f9934a 44.67% 45.00%,#f3782c 45.00% 45.67%,#fdae6b 45.67% 46.00%,#f9934a 46.00% 47.33%,#f3782c 47.33% 47.67%,#f9934a 47.67% 49.00%,#f3782c 49.00% 50.00%,#fdae6b 50.00% 50.33%,#fdd0a2 50.33% 50.67%,#e6550d 50.67% 51.00%,#fdd0a2 51.00% 51.33%,#f9934a 51.33% 51.67%,#e6550d 51.67% 52.33%,#fdd0a2 52.33% 52.67%,#f9934a 52.67% 53.00%,#f3782c 53.00% 54.00%,#f9934a 54.00% 54.33%,#fdae6b 54.33% 54.67%,#f3782c 54.67% 55.00%,#e6550d 55.00% 55.67%,#fdae6b 55.67% 56.00%,#f3782c 56.00% 56.33%,#fdd0a2 56.33% 56.67%,#fdae6b 56.67% 57.00%,#e6550d 57.00% 57.33%,#f3782c 57.33% 57.67%,#f9934a 57.67% 58.00%,#fdd0a2 58.00% 58.33%,#e6550d 58.33% 58.67%,#f9934a 58.67% 59.00%,#f3782c 59.00% 59.67%,#fdd0a2 59.67% 60.00%,#f3782c 60.00% 60.67%,#fdd0a2 60.67% 61.00%,#f9934a 61.00% 61.33%,#fdd0a2 61.33% 62.00%,#f9934a 62.00% 62.33%,#f3782c 62.33% 62.67%,#fdae6b 62.67% 63.33%,#f3782c 63.33% 64.33%,#f9934a 64.33% 65.33%,#f3782c 65.33% 66.00%,#f9934a 66.00% 66.33%,#fdae6b 66.33% 66.67%,#e6550d 66.67% 67.00%,#fdd0a2 67.00% 67.33%,#f3782c 67.33% 67.67%,#f9934a 67.67% 68.00%,#fdd0a2 68.00% 68.33%,#f3782c 68.33% 69.33%,#f9934a 69.33% 69.67%,#f3782c 69.67% 70.00%,#e6550d 70.00% 70.33%,#f9934a 70.33% 70.67%,#f3782c 70.67% 71.00%,#f9934a 71.00% 71.33%,#fdae6b 71.33% 71.67%,#e6550d 71.67% 72.00%,#f9934a 72.00% 72.33%,#e6550d 72.33% 72.67%,#fdae6b 72.67% 73.33%,#f3782c 73.33% 73.67%,#fdae6b 73.67% 74.33%,#f3782c 74.33% 74.67%,#f9934a 74.67% 75.00%,#f3782c 75.00% 75.67%,#f9934a 75.67% 76.33%,#f3782c 76.33% 77.00%,#fdae6b 77.00% 77.33%,#f3782c 77.33% 78.00%,#fdae6b 78.00% 78.67%,#fdd0a2 78.67% 79.00%,#f3782c 79.00% 79.67%,#fdd0a2 79.67% 80.00%,#f9934a 80.00% 80.67%,#fdd0a2 80.67% 81.00%,#f9934a 81.00% 81.33%,#f3782c 81.33% 81.67%,#f9934a 81.67% 82.33%,#f3782c 82.33% 82.67%,#fdd0a2 82.67% 83.00%,#f9934a 83.00% 83.33%,#e6550d 83.33% 83.67%,#f9934a 83.67% 84.33%,#f3782c 84.33% 84.67%,#fdd0a2 84.67% 85.00%,#f9934a 85.00% 85.33%,#e6550d 85.33% 85.67%,#fdd0a2 85.67% 86.00%,#f9934a 86.00% 87.00%,#fdae6b 87.00% 87.33%,#f3782c 87.33% 88.00%,#e6550d 88.00% 88.33%,#f3782c 88.33% 88.67%,#fdae6b 88.67% 89.00%,#f9934a 89.00% 89.33%,#f3782c 89.33% 89.67%,#fdae6b 89.67% 90.00%,#f3782c 90.00% 90.33%,#fdae6b 90.33% 90.67%,#f9934a 90.67% 91.67%,#f3782c 91.67% 92.00%,#f9934a 92.00% 92.33%,#fdae6b 92.33% 92.67%,#f9934a 92.67% 93.00%,#e6550d 93.00% 93.33%,#fdae6b 93.33% 93.67%,#f3782c 93.67% 94.00%,#e6550d 94.00% 94.33%,#f3782c 94.33% 95.33%,#fdae6b 95.33% 95.67%,#e6550d 95.67% 96.00%,#f9934a 96.00% 96.33%,#f3782c 96.33% 97.00%,#e6550d 97.00% 97.33%,#f9934a 97.33% 97.67%,#f3782c 97.67% 98.00%,#f9934a 98.00% 98.67%,#f3782c 98.67% 99.00%,#f9934a 99.00% 99.33%,#e6550d 99.33% 99.67%,#f3782c 99.67% 100.00%)"></div><div class="hm" style="left:1191.0px;top:213.90px;width:622.5px;height:16.8px;background:linear-gradient(90deg,#cccccc 0.00% 0.67%,#969696 0.67% 1.00%,#e0e0e0 1.00% 1.33%,#cccccc 1.33% 1.67%,#969696 1.67% 2.00%,#b0b0b0 2.00% 2.33%,#969696 2.33% 2.67%,#e0e0e0 2.67% 3.00%,#737373 3.00% 3.33%,#b0b0b0 3.33% 3.67%,#737373 3.67% 4.00%,#969696 4.00% 4.33%,#e0e0e0 4.33% 5.00%,#cccccc 5.00% 5.33%,#737373 5.33% 5.67%,#cccccc 5.67% 6.67%,#e0e0e0 6.67% 7.00%,#cccccc 7.00% 7.33%,#969696 7.33% 7.67%,#cccccc 7.67% 8.00%,#b0b0b0 8.00% 8.33%,#cccccc 8.33% 8.67%,#737373 8.67% 9.00%,#969696 9.00% 9.33%,#e0e0e0 9.33% 10.00%,#b0b0b0 10.00% 10.33%,#e0e0e0 10.33% 10.67%,#737373 10.67% 11.00%,#cccccc 11.00% 11.33%,#737373 11.33% 12.00%,#e0e0e0 12.00% 12.33%,#cccccc 12.33% 12.67%,#969696 12.67% 13.00%,#737373 13.00% 13.33%,#cccccc 13.33% 13.67%,#969696 13.67% 14.00%,#b0b0b0 14.00% 14.33%,#cccccc 14.33% 14.67%,#737373 14.67% 15.00%,#969696 15.00% 15.33%,#b0b0b0 15.33% 16.00%,#969696 16.00% 16.33%,#cccccc 16.33% 16.67%,#969696 16.67% 17.00%,#e0e0e0 17.00% 17.33%,#969696 17.33% 17.67%,#cccccc 17.67% 18.00%,#e0e0e0 18.00% 18.33%,#cccccc 18.33% 18.67%,#e0e0e0 18.67% 19.00%,#cccccc 19.00% 19.67%,#e0e0e0 19.67% 20.00%,#cccccc 20.00% 20.33%,#b0b0b0 20.33% 20.67%,#737373 20.67% 21.00%,#cccccc 21.00% 21.33%,#e0e0e0 21.33% 21.67%,#969696 21.67% 22.00%,#737373 22.00% 22.67%,#969696 22.67% 23.00%,#cccccc 23.00% 24.00%,#737373 24.00% 24.33%,#cccccc 24.33% 24.67%,#969696 24.67% 25.00%,#cccccc 25.00% 25.67%,#e0e0e0 25.67% 26.33%,#cccccc 26.33% 26.67%,#b0b0b0 26.67% 27.00%,#cccccc 27.00% 27.33%,#e0e0e0 27.33% 27.67%,#b0b0b0 27.67% 28.00%,#cccccc 28.00% 28.33%,#737373 28.33% 28.67%,#cccccc 28.67% 29.67%,#e0e0e0 29.67% 30.00%,#969696 30.00% 30.33%,#737373 30.33% 30.67%,#b0b0b0 30.67% 31.00%,#cccccc 31.00% 31.33%,#b0b0b0 31.33% 31.67%,#e0e0e0 31.67% 32.33%,#cccccc 32.33% 33.00%,#969696 33.00% 33.67%,#b0b0b0 33.67% 34.33%,#cccccc 34.33% 34.67%,#969696 34.67% 35.00%,#e0e0e0 35.00% 35.33%,#737373 35.33% 35.67%,#cccccc 35.67% 36.00%,#969696 36.00% 36.33%,#e0e0e0 36.33% 36.67%,#cccccc 36.67% 37.67%,#b0b0b0 37.67% 38.00%,#e0e0e0 38.00% 38.33%,#b0b0b0 38.33% 38.67%,#cccccc 38.67% 39.00%,#b0b0b0 39.00% 39.33%,#cccccc 39.33% 39.67%,#e0e0e0 39.67% 40.00%,#969696 40.00% 40.33%,#b0b0b0 40.33% 40.67%,#e0e0e0 40.67% 41.00%,#b0b0b0 41.00% 41.67%,#cccccc 41.67% 42.00%,#737373 42.00% 42.67%,#969696 42.67% 43.33%,#cccccc 43.33% 43.67%,#e0e0e0 43.67% 44.00%,#cccccc 44.00% 44.33%,#e0e0e0 44.33% 44.67%,#969696 44.67% 45.00%,#e0e0e0 45.00% 45.33%,#737373 45.33% 45.67%,#cccccc 45.67% 46.33%,#e0e0e0 46.33% 46.67%,#cccccc 46.67% 47.00%,#969696 47.00% 47.33%,#e0e0e0 47.33% 47.67%,#cccccc 47.67% 48.00%,#737373 48.00% 48.33%,#e0e0e0 48.33% 49.00%,#737373 49.00% 49.33%,#cccccc 49.33% 50.00%,#e0e0e0 50.00% 50.33%,#cccccc 50.33% 51.00%,#737373 51.00% 51.67%,#cccccc 51.67% 52.00%,#e0e0e0 52.00% 52.33%,#b0b0b0 52.33% 52.67%,#e0e0e0 52.67% 53.00%,#969696 53.00% 53.33%,#cccccc 53.33% 53.67%,#969696 53.67% 54.00%,#b0b0b0 54.00% 54.33%,#cccccc 54.33% 56.33%,#b0b0b0 56.33% 56.67%,#e0e0e0 56.67% 57.33%,#cccccc 57.33% 57.67%,#e0e0e0 57.67% 58.00%,#cccccc 58.00% 59.00%,#b0b0b0 59.00% 59.67%,#cccccc 59.67% 60.00%,#e0e0e0 60.00% 60.33%,#cccccc 60.33% 60.67%,#969696 60.67% 61.33%,#737373 61.33% 61.67%,#b0b0b0 61.67% 62.00%,#e0e0e0 62.00% 62.33%,#cccccc 62.33% 63.67%,#b0b0b0 63.67% 64.00%,#969696 64.00% 64.33%,#e0e0e0 64.33% 64.67%,#cccccc 64.67% 65.33%,#e0e0e0 65.33% 66.00%,#cccccc 66.00% 66.33%,#e0e0e0 66.33% 66.67%,#cccccc 66.67% 67.33%,#e0e0e0 67.33% 67.67%,#cccccc 67.67% 68.00%,#e0e0e0 68.00% 68.33%,#737373 68.33% 68.67%,#969696 68.67% 69.00%,#cccccc 69.00% 69.33%,#b0b0b0 69.33% 70.33%,#e0e0e0 70.33% 70.67%,#cccccc 70.67% 71.00%,#e0e0e0 71.00% 71.67%,#969696 71.67% 72.00%,#e0e0e0 72.00% 72.33%,#b0b0b0 72.33% 73.00%,#cccccc 73.00% 73.33%,#e0e0e0 73.33% 73.67%,#969696 73.67% 74.00%,#cccccc 74.00% 74.33%,#e0e0e0 74.33% 75.00%,#cccccc 75.00% 75.33%,#b0b0b0 75.33% 76.00%,#cccccc 76.00% 76.67%,#737373 76.67% 77.33%,#e0e0e0 77.33% 77.67%,#737373 77.67% 78.00%,#e0e0e0 78.00% 78.33%,#cccccc 78.33% 78.67%,#b0b0b0 78.67% 79.33%,#cccccc 79.33% 79.67%,#e0e0e0 79.67% 80.00%,#cccccc 80.00% 80.33%,#737373 80.33% 80.67%,#e0e0e0 80.67% 81.00%,#969696 81.00% 81.33%,#cccccc 81.33% 82.00%,#e0e0e0 82.00% 82.33%,#b0b0b0 82.33% 82.67%,#cccccc 82.67% 83.33%,#b0b0b0 83.33% 84.00%,#cccccc 84.00% 84.33%,#e0e0e0 84.33% 84.67%,#cccccc 84.67% 85.00%,#969696 85.00% 85.33%,#e0e0e0 85.33% 86.00%,#cccccc 86.00% 87.00%,#e0e0e0 87.00% 87.33%,#b0b0b0 87.33% 87.67%,#969696 87.67% 88.00%,#e0e0e0 88.00% 88.33%,#cccccc 88.33% 88.67%,#b0b0b0 88.67% 89.00%,#e0e0e0 89.00% 89.33%,#cccccc 89.33% 90.33%,#e0e0e0 90.33% 90.67%,#969696 90.67% 91.00%,#e0e0e0 91.00% 91.33%,#cccccc 91.33% 91.67%,#e0e0e0 91.67% 92.00%,#b0b0b0 92.00% 93.33%,#e0e0e0 93.33% 93.67%,#969696 93.67% 94.00%,#cccccc 94.00% 95.00%,#e0e0e0 95.00% 95.33%,#cccccc 95.33% 96.00%,#e0e0e0 96.00% 96.67%,#969696 96.67% 97.00%,#e0e0e0 97.00% 97.33%,#cccccc 97.33% 98.00%,#b0b0b0 98.00% 98.33%,#cccccc 98.33% 99.00%,#e0e0e0 99.00% 99.67%,#737373 99.67% 100.00%)"></div><div class="hm" style="left:1191.0px;top:232.60px;width:622.5px;height:16.8px;background:linear-gradient(90deg,#d8efd2 0.00% 0.33%,#8ccc8c 0.33% 0.67%,#b2dfab 0.67% 1.33%,#31a354 1.33% 1.67%,#5ab46a 1.67% 2.00%,#b2dfab 2.00% 2.33%,#d8efd2 2.33% 2.67%,#b2dfab 2.67% 3.00%,#8ccc8c 3.00% 3.67%,#d8efd2 3.67% 4.00%,#31a354 4.00% 4.67%,#8ccc8c 4.67% 5.67%,#b2dfab 5.67% 6.00%,#5ab46a 6.00% 6.33%,#31a354 6.33% 6.67%,#b2dfab 6.67% 7.00%,#d8efd2 7.00% 7.67%,#8ccc8c 7.67% 8.00%,#b2dfab 8.00% 8.33%,#5ab46a 8.33% 8.67%,#d8efd2 8.67% 9.00%,#b2dfab 9.00% 10.00%,#5ab46a 10.00% 10.33%,#31a354 10.33% 10.67%,#b2dfab 10.67% 11.00%,#8ccc8c 11.00% 11.33%,#31a354 11.33% 11.67%,#b2dfab 11.67% 12.00%,#8ccc8c 12.00% 12.33%,#b2dfab 12.33% 12.67%,#5ab46a 12.67% 13.00%,#8ccc8c 13.00% 13.67%,#b2dfab 13.67% 14.67%,#8ccc8c 14.67% 15.00%,#31a354 15.00% 15.33%,#b2dfab 15.33% 16.00%,#8ccc8c 16.00% 16.33%,#5ab46a 16.33% 16.67%,#b2dfab 16.67% 17.00%,#5ab46a 17.00% 17.33%,#31a354 17.33% 17.67%,#8ccc8c 17.67% 18.00%,#31a354 18.00% 18.33%,#b2dfab 18.33% 18.67%,#5ab46a 18.67% 19.33%,#8ccc8c 19.33% 20.00%,#b2dfab 20.00% 20.33%,#8ccc8c 20.33% 20.67%,#b2dfab 20.67% 21.00%,#8ccc8c 21.00% 21.33%,#d8efd2 21.33% 21.67%,#b2dfab 21.67% 22.00%,#d8efd2 22.00% 22.33%,#8ccc8c 22.33% 23.00%,#b2dfab 23.00% 23.33%,#5ab46a 23.33% 23.67%,#8ccc8c 23.67% 24.00%,#31a354 24.00% 24.33%,#b2dfab 24.33% 24.67%,#d8efd2 24.67% 25.00%,#b2dfab 25.00% 25.67%,#5ab46a 25.67% 26.00%,#b2dfab 26.00% 26.33%,#d8efd2 26.33% 26.67%,#8ccc8c 26.67% 27.00%,#b2dfab 27.00% 27.33%,#5ab46a 27.33% 27.67%,#d8efd2 27.67% 28.00%,#b2dfab 28.00% 28.33%,#d8efd2 28.33% 28.67%,#b2dfab 28.67% 29.00%,#8ccc8c 29.00% 29.33%,#5ab46a 29.33% 29.67%,#31a354 29.67% 30.00%,#8ccc8c 30.00% 30.33%,#b2dfab 30.33% 30.67%,#8ccc8c 30.67% 31.33%,#d8efd2 31.33% 31.67%,#b2dfab 31.67% 32.00%,#8ccc8c 32.00% 32.33%,#31a354 32.33% 32.67%,#5ab46a 32.67% 33.00%,#d8efd2 33.00% 33.33%,#31a354 33.33% 33.67%,#b2dfab 33.67% 34.00%,#5ab46a 34.00% 34.33%,#b2dfab 34.33% 35.33%,#5ab46a 35.33% 35.67%,#8ccc8c 35.67% 36.00%,#31a354 36.00% 36.33%,#b2dfab 36.33% 36.67%,#d8efd2 36.67% 37.00%,#b2dfab 37.00% 38.00%,#8ccc8c 38.00% 38.33%,#b2dfab 38.33% 38.67%,#8ccc8c 38.67% 39.00%,#5ab46a 39.00% 39.33%,#31a354 39.33% 40.00%,#b2dfab 40.00% 40.33%,#5ab46a 40.33% 40.67%,#b2dfab 40.67% 41.00%,#31a354 41.00% 41.67%,#d8efd2 41.67% 42.00%,#8ccc8c 42.00% 42.33%,#d8efd2 42.33% 43.00%,#5ab46a 43.00% 43.67%,#b2dfab 43.67% 44.00%,#5ab46a 44.00% 44.33%,#b2dfab 44.33% 44.67%,#8ccc8c 44.67% 45.00%,#b2dfab 45.00% 45.33%,#8ccc8c 45.33% 45.67%,#b2dfab 45.67% 46.00%,#8ccc8c 46.00% 46.67%,#5ab46a 46.67% 47.00%,#31a354 47.00% 47.33%,#d8efd2 47.33% 47.67%,#b2dfab 47.67% 48.00%,#8ccc8c 48.00% 48.33%,#d8efd2 48.33% 49.67%,#b2dfab 49.67% 50.00%,#8ccc8c 50.00% 50.33%,#b2dfab 50.33% 51.33%,#31a354 51.33% 51.67%,#b2dfab 51.67% 52.00%,#31a354 52.00% 53.00%,#5ab46a 53.00% 53.33%,#b2dfab 53.33% 53.67%,#5ab46a 53.67% 54.00%,#d8efd2 54.00% 54.33%,#31a354 54.33% 54.67%,#d8efd2 54.67% 55.00%,#b2dfab 55.00% 55.33%,#8ccc8c 55.33% 55.67%,#5ab46a 55.67% 56.00%,#b2dfab 56.00% 56.67%,#d8efd2 56.67% 57.00%,#8ccc8c 57.00% 57.33%,#d8efd2 57.33% 57.67%,#5ab46a 57.67% 58.33%,#31a354 58.33% 59.00%,#b2dfab 59.00% 59.67%,#d8efd2 59.67% 60.00%,#8ccc8c 60.00% 61.00%,#31a354 61.00% 61.33%,#b2dfab 61.33% 61.67%,#5ab46a 61.67% 62.00%,#b2dfab 62.00% 63.00%,#d8efd2 63.00% 63.33%,#8ccc8c 63.33% 63.67%,#5ab46a 63.67% 64.00%,#8ccc8c 64.00% 64.33%,#5ab46a 64.33% 64.67%,#b2dfab 64.67% 65.00%,#d8efd2 65.00% 65.33%,#31a354 65.33% 65.67%,#d8efd2 65.67% 66.33%,#b2dfab 66.33% 66.67%,#5ab46a 66.67% 67.00%,#b2dfab 67.00% 67.33%,#d8efd2 67.33% 67.67%,#b2dfab 67.67% 68.00%,#8ccc8c 68.00% 68.67%,#5ab46a 68.67% 69.33%,#b2dfab 69.33% 69.67%,#8ccc8c 69.67% 70.00%,#b2dfab 70.00% 70.33%,#8ccc8c 70.33% 70.67%,#31a354 70.67% 71.00%,#b2dfab 71.00% 71.67%,#31a354 71.67% 72.00%,#5ab46a 72.00% 72.33%,#8ccc8c 72.33% 72.67%,#5ab46a 72.67% 73.00%,#b2dfab 73.00% 74.33%,#5ab46a 74.33% 74.67%,#8ccc8c 74.67% 75.00%,#d8efd2 75.00% 75.33%,#5ab46a 75.33% 76.00%,#b2dfab 76.00% 76.33%,#31a354 76.33% 76.67%,#b2dfab 76.67% 77.00%,#d8efd2 77.00% 77.33%,#8ccc8c 77.33% 78.00%,#b2dfab 78.00% 78.33%,#31a354 78.33% 78.67%,#d8efd2 78.67% 79.00%,#b2dfab 79.00% 79.67%,#8ccc8c 79.67% 80.33%,#d8efd2 80.33% 80.67%,#b2dfab 80.67% 81.00%,#d8efd2 81.00% 81.33%,#8ccc8c 81.33% 81.67%,#5ab46a 81.67% 82.00%,#b2dfab 82.00% 83.00%,#8ccc8c 83.00% 84.00%,#b2dfab 84.00% 84.33%,#8ccc8c 84.33% 85.00%,#31a354 85.00% 85.33%,#b2dfab 85.33% 85.67%,#d8efd2 85.67% 86.33%,#b2dfab 86.33% 86.67%,#d8efd2 86.67% 87.33%,#b2dfab 87.33% 87.67%,#8ccc8c 87.67% 88.00%,#5ab46a 88.00% 88.33%,#b2dfab 88.33% 88.67%,#d8efd2 88.67% 89.00%,#5ab46a 89.00% 89.67%,#b2dfab 89.67% 90.33%,#5ab46a 90.33% 90.67%,#b2dfab 90.67% 91.33%,#8ccc8c 91.33% 91.67%,#5ab46a 91.67% 92.00%,#d8efd2 92.00% 92.33%,#8ccc8c 92.33% 92.67%,#5ab46a 92.67% 93.00%,#8ccc8c 93.00% 93.33%,#b2dfab 93.33% 93.67%,#31a354 93.67% 94.00%,#b2dfab 94.00% 94.67%,#d8efd2 94.67% 95.00%,#b2dfab 95.00% 95.33%,#31a354 95.33% 95.67%,#d8efd2 95.67% 96.33%,#8ccc8c 96.33% 96.67%,#b2dfab 96.67% 97.67%,#d8efd2 97.67% 98.00%,#8ccc8c 98.00% 98.33%,#5ab46a 98.33% 98.67%,#8ccc8c 98.67% 99.00%,#31a354 99.00% 99.33%,#8ccc8c 99.33% 100.00%)"></div><div class="hm" style="left:1191.0px;top:251.30px;width:622.5px;height:16.8px;background:linear-gradient(90deg,#b3e1cc 0.00% 0.33%,#d4eee0 0.33% 0.67%,#4eb3d3 0.67% 1.00%,#8fd1c6 1.00% 1.33%,#3a9fcb 1.33% 1.67%,#4eb3d3 1.67% 2.00%,#8fd1c6 2.00% 2.33%,#b3e1cc 2.33% 3.00%,#d4eee0 3.00% 3.33%,#b3e1cc 3.33% 3.67%,#6ac1cf 3.67% 4.00%,#8fd1c6 4.00% 4.33%,#6ac1cf 4.33% 4.67%,#3a9fcb 4.67% 5.00%,#b3e1cc 5.00% 5.33%,#8fd1c6 5.33% 6.00%,#d4eee0 6.00% 6.33%,#8fd1c6 6.33% 6.67%,#6ac1cf 6.67% 7.00%,#4eb3d3 7.00% 8.33%,#6ac1cf 8.33% 8.67%,#d4eee0 8.67% 9.00%,#6ac1cf 9.00% 9.67%,#d4eee0 9.67% 10.00%,#3a9fcb 10.00% 10.33%,#4eb3d3 10.33% 10.67%,#6ac1cf 10.67% 11.00%,#b3e1cc 11.00% 11.33%,#8fd1c6 11.33% 11.67%,#b3e1cc 11.67% 12.00%,#6ac1cf 12.00% 12.33%,#3a9fcb 12.33% 12.67%,#8fd1c6 12.67% 13.00%,#6ac1cf 13.00% 13.33%,#b3e1cc 13.33% 13.67%,#3a9fcb 13.67% 14.00%,#6ac1cf 14.00% 14.33%,#3a9fcb 14.33% 14.67%,#4eb3d3 14.67% 15.00%,#6ac1cf 15.00% 15.33%,#4eb3d3 15.33% 15.67%,#8fd1c6 15.67% 16.00%,#3a9fcb 16.00% 16.33%,#8fd1c6 16.33% 16.67%,#b3e1cc 16.67% 17.00%,#6ac1cf 17.00% 17.33%,#4eb3d3 17.33% 17.67%,#8fd1c6 17.67% 18.33%,#3a9fcb 18.33% 18.67%,#b3e1cc 18.67% 19.00%,#d4eee0 19.00% 19.33%,#8fd1c6 19.33% 20.00%,#6ac1cf 20.00% 20.33%,#8fd1c6 20.33% 21.00%,#3a9fcb 21.00% 21.33%,#4eb3d3 21.33% 21.67%,#b3e1cc 21.67% 22.00%,#3a9fcb 22.00% 22.33%,#8fd1c6 22.33% 22.67%,#6ac1cf 22.67% 23.00%,#8fd1c6 23.00% 23.33%,#b3e1cc 23.33% 23.67%,#3a9fcb 23.67% 24.00%,#6ac1cf 24.00% 24.67%,#b3e1cc 24.67% 25.33%,#4eb3d3 25.33% 25.67%,#d4eee0 25.67% 26.33%,#b3e1cc 26.33% 26.67%,#6ac1cf 26.67% 27.00%,#d4eee0 27.00% 27.33%,#b3e1cc 27.33% 27.67%,#8fd1c6 27.67% 28.00%,#6ac1cf 28.00% 28.33%,#d4eee0 28.33% 28.67%,#b3e1cc 28.67% 29.00%,#8fd1c6 29.00% 29.33%,#b3e1cc 29.33% 29.67%,#4eb3d3 29.67% 30.00%,#6ac1cf 30.00% 30.67%,#b3e1cc 30.67% 31.00%,#d4eee0 31.00% 31.33%,#b3e1cc 31.33% 31.67%,#3a9fcb 31.67% 32.00%,#b3e1cc 32.00% 32.33%,#6ac1cf 32.33% 32.67%,#d4eee0 32.67% 33.00%,#b3e1cc 33.00% 33.33%,#8fd1c6 33.33% 34.00%,#4eb3d3 34.00% 34.33%,#6ac1cf 34.33% 34.67%,#8fd1c6 34.67% 35.00%,#3a9fcb 35.00% 35.33%,#d4eee0 35.33% 35.67%,#b3e1cc 35.67% 36.67%,#8fd1c6 36.67% 37.00%,#6ac1cf 37.00% 37.33%,#8fd1c6 37.33% 37.67%,#6ac1cf 37.67% 38.33%,#b3e1cc 38.33% 39.00%,#8fd1c6 39.00% 39.33%,#b3e1cc 39.33% 39.67%,#d4eee0 39.67% 40.00%,#8fd1c6 40.00% 40.33%,#6ac1cf 40.33% 40.67%,#8fd1c6 40.67% 41.33%,#4eb3d3 41.33% 41.67%,#8fd1c6 41.67% 42.00%,#b3e1cc 42.00% 42.33%,#8fd1c6 42.33% 42.67%,#b3e1cc 42.67% 43.00%,#3a9fcb 43.00% 43.33%,#6ac1cf 43.33% 43.67%,#8fd1c6 43.67% 45.00%,#d4eee0 45.00% 45.33%,#8fd1c6 45.33% 45.67%,#3a9fcb 45.67% 46.00%,#8fd1c6 46.00% 46.33%,#6ac1cf 46.33% 47.00%,#b3e1cc 47.00% 47.67%,#8fd1c6 47.67% 48.00%,#b3e1cc 48.00% 48.33%,#8fd1c6 48.33% 49.00%,#b3e1cc 49.00% 49.33%,#6ac1cf 49.33% 49.67%,#8fd1c6 49.67% 50.33%,#d4eee0 50.33% 50.67%,#4eb3d3 50.67% 51.33%,#8fd1c6 51.33% 51.67%,#d4eee0 51.67% 52.33%,#4eb3d3 52.33% 52.67%,#6ac1cf 52.67% 53.00%,#8fd1c6 53.00% 53.33%,#d4eee0 53.33% 53.67%,#b3e1cc 53.67% 54.00%,#8fd1c6 54.00% 54.67%,#d4eee0 54.67% 55.00%,#6ac1cf 55.00% 56.00%,#d4eee0 56.00% 56.33%,#b3e1cc 56.33% 57.00%,#6ac1cf 57.00% 57.33%,#8fd1c6 57.33% 57.67%,#b3e1cc 57.67% 58.00%,#6ac1cf 58.00% 58.33%,#4eb3d3 58.33% 58.67%,#b3e1cc 58.67% 59.33%,#3a9fcb 59.33% 59.67%,#d4eee0 59.67% 60.00%,#8fd1c6 60.00% 60.33%,#6ac1cf 60.33% 60.67%,#d4eee0 60.67% 61.33%,#6ac1cf 61.33% 61.67%,#b3e1cc 61.67% 62.00%,#d4eee0 62.00% 62.33%,#b3e1cc 62.33% 62.67%,#8fd1c6 62.67% 63.00%,#4eb3d3 63.00% 63.33%,#8fd1c6 63.33% 63.67%,#d4eee0 63.67% 64.00%,#b3e1cc 64.00% 64.33%,#8fd1c6 64.33% 64.67%,#3a9fcb 64.67% 65.00%,#4eb3d3 65.00% 65.67%,#8fd1c6 65.67% 66.00%,#4eb3d3 66.00% 66.33%,#6ac1cf 66.33% 66.67%,#4eb3d3 66.67% 67.00%,#6ac1cf 67.00% 67.33%,#8fd1c6 67.33% 67.67%,#6ac1cf 67.67% 68.00%,#b3e1cc 68.00% 68.33%,#4eb3d3 68.33% 68.67%,#6ac1cf 68.67% 69.00%,#b3e1cc 69.00% 69.33%,#6ac1cf 69.33% 69.67%,#8fd1c6 69.67% 70.33%,#b3e1cc 70.33% 70.67%,#6ac1cf 70.67% 71.00%,#3a9fcb 71.00% 71.33%,#8fd1c6 71.33% 71.67%,#6ac1cf 71.67% 72.00%,#8fd1c6 72.00% 72.33%,#6ac1cf 72.33% 72.67%,#d4eee0 72.67% 73.00%,#8fd1c6 73.00% 73.67%,#d4eee0 73.67% 74.00%,#8fd1c6 74.00% 74.67%,#d4eee0 74.67% 75.00%,#b3e1cc 75.00% 75.33%,#6ac1cf 75.33% 75.67%,#4eb3d3 75.67% 76.00%,#6ac1cf 76.00% 76.33%,#d4eee0 76.33% 76.67%,#4eb3d3 76.67% 77.00%,#3a9fcb 77.00% 77.33%,#8fd1c6 77.33% 77.67%,#6ac1cf 77.67% 78.00%,#b3e1cc 78.00% 78.33%,#3a9fcb 78.33% 78.67%,#8fd1c6 78.67% 79.00%,#4eb3d3 79.00% 79.33%,#8fd1c6 79.33% 80.00%,#6ac1cf 80.00% 80.33%,#8fd1c6 80.33% 80.67%,#d4eee0 80.67% 81.00%,#6ac1cf 81.00% 81.33%,#8fd1c6 81.33% 81.67%,#6ac1cf 81.67% 82.00%,#8fd1c6 82.00% 82.33%,#6ac1cf 82.33% 82.67%,#4eb3d3 82.67% 83.00%,#b3e1cc 83.00% 83.33%,#6ac1cf 83.33% 83.67%,#b3e1cc 83.67% 84.00%,#8fd1c6 84.00% 84.33%,#4eb3d3 84.33% 84.67%,#6ac1cf 84.67% 85.00%,#8fd1c6 85.00% 85.67%,#6ac1cf 85.67% 86.33%,#3a9fcb 86.33% 86.67%,#4eb3d3 86.67% 87.00%,#8fd1c6 87.00% 87.33%,#b3e1cc 87.33% 87.67%,#8fd1c6 87.67% 88.00%,#3a9fcb 88.00% 88.33%,#8fd1c6 88.33% 88.67%,#6ac1cf 88.67% 89.00%,#8fd1c6 89.00% 89.33%,#d4eee0 89.33% 89.67%,#4eb3d3 89.67% 90.00%,#b3e1cc 90.00% 90.33%,#d4eee0 90.33% 91.00%,#3a9fcb 91.00% 91.33%,#8fd1c6 91.33% 91.67%,#6ac1cf 91.67% 92.00%,#3a9fcb 92.00% 92.33%,#4eb3d3 92.33% 92.67%,#6ac1cf 92.67% 93.00%,#b3e1cc 93.00% 93.33%,#4eb3d3 93.33% 93.67%,#b3e1cc 93.67% 94.00%,#4eb3d3 94.00% 94.33%,#6ac1cf 94.33% 94.67%,#8fd1c6 94.67% 95.00%,#d4eee0 95.00% 95.33%,#6ac1cf 95.33% 95.67%,#d4eee0 95.67% 96.00%,#4eb3d3 96.00% 96.33%,#d4eee0 96.33% 96.67%,#6ac1cf 96.67% 97.33%,#4eb3d3 97.33% 97.67%,#3a9fcb 97.67% 98.00%,#8fd1c6 98.00% 98.33%,#6ac1cf 98.33% 98.67%,#8fd1c6 98.67% 99.00%,#3a9fcb 99.00% 99.33%,#6ac1cf 99.33% 99.67%,#b3e1cc 99.67% 100.00%)"></div><div class="hm" style="left:1191.0px;top:270.00px;width:622.5px;height:16.8px;background:linear-gradient(90deg,#c6d2e8 0.00% 1.00%,#e3e7f2 1.00% 1.67%,#9795c8 1.67% 2.33%,#e3e7f2 2.33% 2.67%,#a9b6da 2.67% 3.67%,#e3e7f2 3.67% 4.00%,#9795c8 4.00% 4.33%,#8c6bb1 4.33% 4.67%,#c6d2e8 4.67% 5.33%,#a9b6da 5.33% 5.67%,#e3e7f2 5.67% 6.33%,#9795c8 6.33% 6.67%,#8c6bb1 6.67% 7.00%,#a9b6da 7.00% 7.67%,#9795c8 7.67% 8.00%,#a9b6da 8.00% 8.67%,#c6d2e8 8.67% 9.00%,#a9b6da 9.00% 9.67%,#e3e7f2 9.67% 10.33%,#c6d2e8 10.33% 11.00%,#e3e7f2 11.00% 11.67%,#9795c8 11.67% 12.00%,#c6d2e8 12.00% 12.33%,#e3e7f2 12.33% 12.67%,#c6d2e8 12.67% 13.00%,#a9b6da 13.00% 13.33%,#c6d2e8 13.33% 14.00%,#8c6bb1 14.00% 14.67%,#c6d2e8 14.67% 15.00%,#9795c8 15.00% 15.33%,#e3e7f2 15.33% 15.67%,#8c6bb1 15.67% 16.33%,#e3e7f2 16.33% 16.67%,#a9b6da 16.67% 17.00%,#9795c8 17.00% 17.33%,#8c6bb1 17.33% 17.67%,#a9b6da 17.67% 18.00%,#c6d2e8 18.00% 18.33%,#e3e7f2 18.33% 18.67%,#9795c8 18.67% 19.00%,#e3e7f2 19.00% 19.33%,#a9b6da 19.33% 19.67%,#8c6bb1 19.67% 20.00%,#c6d2e8 20.00% 20.33%,#e3e7f2 20.33% 20.67%,#c6d2e8 20.67% 21.67%,#9795c8 21.67% 22.00%,#e3e7f2 22.00% 22.33%,#a9b6da 22.33% 22.67%,#9795c8 22.67% 23.00%,#8c6bb1 23.00% 23.33%,#a9b6da 23.33% 23.67%,#8c6bb1 23.67% 24.00%,#c6d2e8 24.00% 24.33%,#e3e7f2 24.33% 24.67%,#8c6bb1 24.67% 25.33%,#9795c8 25.33% 26.00%,#e3e7f2 26.00% 26.33%,#8c6bb1 26.33% 27.00%,#a9b6da 27.00% 27.67%,#e3e7f2 27.67% 28.00%,#a9b6da 28.00% 28.33%,#8c6bb1 28.33% 28.67%,#c6d2e8 28.67% 29.00%,#e3e7f2 29.00% 29.67%,#a9b6da 29.67% 30.33%,#c6d2e8 30.33% 31.00%,#9795c8 31.00% 31.33%,#8c6bb1 31.33% 31.67%,#e3e7f2 31.67% 32.33%,#9795c8 32.33% 33.00%,#a9b6da 33.00% 33.33%,#8c6bb1 33.33% 33.67%,#9795c8 33.67% 34.33%,#a9b6da 34.33% 34.67%,#e3e7f2 34.67% 35.00%,#9795c8 35.00% 35.67%,#c6d2e8 35.67% 36.33%,#e3e7f2 36.33% 36.67%,#c6d2e8 36.67% 37.00%,#8c6bb1 37.00% 37.67%,#c6d2e8 37.67% 38.00%,#e3e7f2 38.00% 38.33%,#c6d2e8 38.33% 38.67%,#e3e7f2 38.67% 39.00%,#c6d2e8 39.00% 39.33%,#a9b6da 39.33% 39.67%,#c6d2e8 39.67% 40.00%,#9795c8 40.00% 40.33%,#8c6bb1 40.33% 40.67%,#9795c8 40.67% 41.00%,#a9b6da 41.00% 41.33%,#8c6bb1 41.33% 41.67%,#e3e7f2 41.67% 42.00%,#9795c8 42.00% 42.67%,#e3e7f2 42.67% 44.00%,#c6d2e8 44.00% 44.33%,#a9b6da 44.33% 44.67%,#c6d2e8 44.67% 45.33%,#a9b6da 45.33% 46.00%,#e3e7f2 46.00% 46.67%,#c6d2e8 46.67% 47.00%,#a9b6da 47.00% 47.67%,#9795c8 47.67% 48.00%,#c6d2e8 48.00% 48.33%,#8c6bb1 48.33% 48.67%,#c6d2e8 48.67% 49.00%,#9795c8 49.00% 49.33%,#8c6bb1 49.33% 49.67%,#9795c8 49.67% 50.00%,#c6d2e8 50.00% 50.33%,#a9b6da 50.33% 51.00%,#c6d2e8 51.00% 51.33%,#9795c8 51.33% 51.67%,#a9b6da 51.67% 52.00%,#e3e7f2 52.00% 52.33%,#8c6bb1 52.33% 52.67%,#9795c8 52.67% 53.00%,#a9b6da 53.00% 53.33%,#c6d2e8 53.33% 53.67%,#e3e7f2 53.67% 54.33%,#8c6bb1 54.33% 54.67%,#c6d2e8 54.67% 55.00%,#9795c8 55.00% 55.33%,#e3e7f2 55.33% 55.67%,#c6d2e8 55.67% 56.00%,#9795c8 56.00% 56.33%,#e3e7f2 56.33% 56.67%,#8c6bb1 56.67% 57.00%,#9795c8 57.00% 57.33%,#a9b6da 57.33% 57.67%,#c6d2e8 57.67% 58.00%,#e3e7f2 58.00% 58.33%,#a9b6da 58.33% 58.67%,#e3e7f2 58.67% 59.00%,#c6d2e8 59.00% 59.67%,#9795c8 59.67% 60.00%,#e3e7f2 60.00% 60.33%,#c6d2e8 60.33% 60.67%,#a9b6da 60.67% 61.33%,#8c6bb1 61.33% 61.67%,#c6d2e8 61.67% 62.00%,#e3e7f2 62.00% 63.00%,#c6d2e8 63.00% 63.33%,#e3e7f2 63.33% 63.67%,#c6d2e8 63.67% 64.00%,#a9b6da 64.00% 64.33%,#c6d2e8 64.33% 64.67%,#e3e7f2 64.67% 65.00%,#a9b6da 65.00% 65.33%,#8c6bb1 65.33% 66.33%,#9795c8 66.33% 66.67%,#a9b6da 66.67% 67.00%,#9795c8 67.00% 67.33%,#c6d2e8 67.33% 67.67%,#9795c8 67.67% 68.00%,#c6d2e8 68.00% 68.67%,#9795c8 68.67% 69.33%,#e3e7f2 69.33% 70.00%,#c6d2e8 70.00% 70.33%,#9795c8 70.33% 70.67%,#a9b6da 70.67% 71.00%,#9795c8 71.00% 71.33%,#8c6bb1 71.33% 71.67%,#a9b6da 71.67% 73.00%,#e3e7f2 73.00% 73.33%,#c6d2e8 73.33% 73.67%,#9795c8 73.67% 74.00%,#8c6bb1 74.00% 74.33%,#e3e7f2 74.33% 75.00%,#9795c8 75.00% 75.33%,#8c6bb1 75.33% 75.67%,#e3e7f2 75.67% 76.00%,#c6d2e8 76.00% 76.33%,#a9b6da 76.33% 76.67%,#c6d2e8 76.67% 77.33%,#a9b6da 77.33% 77.67%,#c6d2e8 77.67% 78.00%,#a9b6da 78.00% 78.33%,#9795c8 78.33% 79.00%,#a9b6da 79.00% 79.33%,#e3e7f2 79.33% 79.67%,#a9b6da 79.67% 80.00%,#c6d2e8 80.00% 80.67%,#e3e7f2 80.67% 81.00%,#a9b6da 81.00% 81.33%,#c6d2e8 81.33% 81.67%,#a9b6da 81.67% 82.00%,#8c6bb1 82.00% 82.33%,#a9b6da 82.33% 82.67%,#9795c8 82.67% 83.00%,#e3e7f2 83.00% 83.67%,#8c6bb1 83.67% 84.00%,#c6d2e8 84.00% 84.33%,#a9b6da 84.33% 84.67%,#c6d2e8 84.67% 85.00%,#e3e7f2 85.00% 85.67%,#9795c8 85.67% 86.00%,#c6d2e8 86.00% 86.33%,#8c6bb1 86.33% 86.67%,#e3e7f2 86.67% 87.00%,#a9b6da 87.00% 87.33%,#e3e7f2 87.33% 87.67%,#a9b6da 87.67% 88.00%,#e3e7f2 88.00% 89.00%,#9795c8 89.00% 89.33%,#8c6bb1 89.33% 89.67%,#a9b6da 89.67% 90.00%,#e3e7f2 90.00% 90.33%,#9795c8 90.33% 90.67%,#e3e7f2 90.67% 91.00%,#9795c8 91.00% 91.33%,#c6d2e8 91.33% 92.00%,#a9b6da 92.00% 92.33%,#9795c8 92.33% 92.67%,#c6d2e8 92.67% 93.00%,#9795c8 93.00% 93.33%,#a9b6da 93.33% 93.67%,#c6d2e8 93.67% 94.00%,#e3e7f2 94.00% 94.33%,#c6d2e8 94.33% 94.67%,#a9b6da 94.67% 95.00%,#c6d2e8 95.00% 96.00%,#9795c8 96.00% 96.33%,#c6d2e8 96.33% 96.67%,#a9b6da 96.67% 97.00%,#8c6bb1 97.00% 97.33%,#e3e7f2 97.33% 97.67%,#c6d2e8 97.67% 98.00%,#9795c8 98.00% 98.33%,#c6d2e8 98.33% 99.00%,#a9b6da 99.00% 99.67%,#8c6bb1 99.67% 100.00%)"></div><div class="hm" style="left:1191.0px;top:288.70px;width:622.5px;height:16.8px;background:linear-gradient(90deg,#66c2a4 0.00% 0.33%,#b3e2d6 0.33% 0.67%,#d5efe9 0.67% 1.00%,#2e9a62 1.00% 1.67%,#d5efe9 1.67% 2.00%,#66c2a4 2.00% 2.33%,#41ae76 2.33% 2.67%,#66c2a4 2.67% 3.00%,#41ae76 3.00% 3.33%,#66c2a4 3.33% 4.00%,#8dd0bc 4.00% 4.33%,#b3e2d6 4.33% 4.67%,#41ae76 4.67% 5.00%,#d5efe9 5.00% 5.33%,#66c2a4 5.33% 5.67%,#8dd0bc 5.67% 6.00%,#2e9a62 6.00% 6.33%,#d5efe9 6.33% 7.00%,#2e9a62 7.00% 7.33%,#b3e2d6 7.33% 7.67%,#66c2a4 7.67% 8.67%,#8dd0bc 8.67% 9.00%,#66c2a4 9.00% 9.33%,#41ae76 9.33% 9.67%,#66c2a4 9.67% 10.00%,#d5efe9 10.00% 10.33%,#8dd0bc 10.33% 10.67%,#66c2a4 10.67% 11.00%,#8dd0bc 11.00% 11.67%,#41ae76 11.67% 12.00%,#8dd0bc 12.00% 12.33%,#b3e2d6 12.33% 13.00%,#41ae76 13.00% 13.33%,#8dd0bc 13.33% 14.00%,#66c2a4 14.00% 14.33%,#b3e2d6 14.33% 15.00%,#66c2a4 15.00% 15.33%,#41ae76 15.33% 15.67%,#8dd0bc 15.67% 16.67%,#2e9a62 16.67% 17.00%,#66c2a4 17.00% 17.67%,#8dd0bc 17.67% 18.33%,#66c2a4 18.33% 18.67%,#41ae76 18.67% 19.00%,#b3e2d6 19.00% 19.33%,#8dd0bc 19.33% 19.67%,#41ae76 19.67% 20.00%,#8dd0bc 20.00% 20.33%,#66c2a4 20.33% 20.67%,#b3e2d6 20.67% 21.67%,#8dd0bc 21.67% 22.00%,#d5efe9 22.00% 22.33%,#8dd0bc 22.33% 22.67%,#2e9a62 22.67% 23.00%,#66c2a4 23.00% 24.00%,#41ae76 24.00% 24.67%,#d5efe9 24.67% 25.33%,#b3e2d6 25.33% 25.67%,#8dd0bc 25.67% 26.00%,#2e9a62 26.00% 26.33%,#66c2a4 26.33% 26.67%,#d5efe9 26.67% 27.33%,#8dd0bc 27.33% 27.67%,#66c2a4 27.67% 28.00%,#2e9a62 28.00% 28.33%,#b3e2d6 28.33% 28.67%,#41ae76 28.67% 29.00%,#2e9a62 29.00% 29.33%,#41ae76 29.33% 29.67%,#8dd0bc 29.67% 30.67%,#66c2a4 30.67% 31.00%,#d5efe9 31.00% 31.33%,#41ae76 31.33% 32.00%,#8dd0bc 32.00% 32.33%,#66c2a4 32.33% 32.67%,#2e9a62 32.67% 33.00%,#d5efe9 33.00% 33.33%,#66c2a4 33.33% 33.67%,#b3e2d6 33.67% 34.00%,#8dd0bc 34.00% 35.00%,#41ae76 35.00% 35.33%,#b3e2d6 35.33% 35.67%,#8dd0bc 35.67% 36.00%,#d5efe9 36.00% 36.33%,#b3e2d6 36.33% 36.67%,#66c2a4 36.67% 37.00%,#41ae76 37.00% 37.33%,#2e9a62 37.33% 37.67%,#d5efe9 37.67% 38.00%,#41ae76 38.00% 38.33%,#8dd0bc 38.33% 38.67%,#b3e2d6 38.67% 39.00%,#66c2a4 39.00% 39.33%,#b3e2d6 39.33% 39.67%,#8dd0bc 39.67% 40.67%,#2e9a62 40.67% 41.00%,#d5efe9 41.00% 41.33%,#b3e2d6 41.33% 42.00%,#8dd0bc 42.00% 42.33%,#41ae76 42.33% 42.67%,#8dd0bc 42.67% 43.00%,#41ae76 43.00% 43.33%,#8dd0bc 43.33% 43.67%,#b3e2d6 43.67% 44.67%,#d5efe9 44.67% 45.00%,#66c2a4 45.00% 45.67%,#2e9a62 45.67% 46.00%,#b3e2d6 46.00% 46.33%,#8dd0bc 46.33% 47.33%,#d5efe9 47.33% 47.67%,#b3e2d6 47.67% 48.00%,#d5efe9 48.00% 48.33%,#b3e2d6 48.33% 48.67%,#8dd0bc 48.67% 49.00%,#41ae76 49.00% 49.33%,#b3e2d6 49.33% 49.67%,#41ae76 49.67% 50.00%,#2e9a62 50.00% 50.33%,#66c2a4 50.33% 50.67%,#41ae76 50.67% 51.00%,#8dd0bc 51.00% 51.33%,#d5efe9 51.33% 51.67%,#b3e2d6 51.67% 52.00%,#66c2a4 52.00% 52.67%,#d5efe9 52.67% 53.00%,#41ae76 53.00% 53.33%,#2e9a62 53.33% 53.67%,#8dd0bc 53.67% 54.00%,#66c2a4 54.00% 54.33%,#d5efe9 54.33% 54.67%,#66c2a4 54.67% 55.00%,#d5efe9 55.00% 55.33%,#b3e2d6 55.33% 55.67%,#41ae76 55.67% 56.00%,#8dd0bc 56.00% 56.33%,#66c2a4 56.33% 56.67%,#8dd0bc 56.67% 57.00%,#66c2a4 57.00% 57.33%,#b3e2d6 57.33% 57.67%,#d5efe9 57.67% 58.00%,#66c2a4 58.00% 58.67%,#b3e2d6 58.67% 59.67%,#41ae76 59.67% 60.00%,#2e9a62 60.00% 60.33%,#66c2a4 60.33% 60.67%,#d5efe9 60.67% 61.00%,#b3e2d6 61.00% 61.33%,#d5efe9 61.33% 61.67%,#66c2a4 61.67% 62.33%,#b3e2d6 62.33% 62.67%,#8dd0bc 62.67% 63.00%,#b3e2d6 63.00% 63.33%,#8dd0bc 63.33% 64.00%,#66c2a4 64.00% 64.33%,#8dd0bc 64.33% 64.67%,#b3e2d6 64.67% 65.00%,#41ae76 65.00% 65.33%,#b3e2d6 65.33% 65.67%,#41ae76 65.67% 66.00%,#66c2a4 66.00% 66.33%,#b3e2d6 66.33% 66.67%,#66c2a4 66.67% 67.00%,#8dd0bc 67.00% 67.33%,#66c2a4 67.33% 67.67%,#d5efe9 67.67% 68.00%,#8dd0bc 68.00% 68.33%,#d5efe9 68.33% 69.00%,#b3e2d6 69.00% 69.33%,#41ae76 69.33% 69.67%,#8dd0bc 69.67% 70.00%,#b3e2d6 70.00% 70.33%,#d5efe9 70.33% 70.67%,#66c2a4 70.67% 71.00%,#8dd0bc 71.00% 71.33%,#b3e2d6 71.33% 71.67%,#d5efe9 71.67% 72.00%,#66c2a4 72.00% 72.33%,#41ae76 72.33% 72.67%,#66c2a4 72.67% 73.00%,#8dd0bc 73.00% 73.33%,#d5efe9 73.33% 74.00%,#8dd0bc 74.00% 74.33%,#d5efe9 74.33% 75.00%,#b3e2d6 75.00% 76.00%,#8dd0bc 76.00% 76.67%,#b3e2d6 76.67% 77.00%,#8dd0bc 77.00% 77.33%,#d5efe9 77.33% 77.67%,#b3e2d6 77.67% 78.00%,#d5efe9 78.00% 78.67%,#b3e2d6 78.67% 79.33%,#d5efe9 79.33% 80.00%,#b3e2d6 80.00% 80.33%,#d5efe9 80.33% 81.00%,#8dd0bc 81.00% 81.33%,#b3e2d6 81.33% 81.67%,#d5efe9 81.67% 82.00%,#66c2a4 82.00% 82.33%,#d5efe9 82.33% 82.67%,#b3e2d6 82.67% 83.00%,#d5efe9 83.00% 83.33%,#b3e2d6 83.33% 83.67%,#d5efe9 83.67% 84.33%,#b3e2d6 84.33% 85.67%,#8dd0bc 85.67% 86.00%,#b3e2d6 86.00% 86.33%,#d5efe9 86.33% 87.33%,#b3e2d6 87.33% 87.67%,#8dd0bc 87.67% 88.00%,#b3e2d6 88.00% 88.33%,#d5efe9 88.33% 88.67%,#b3e2d6 88.67% 89.00%,#d5efe9 89.00% 90.67%,#8dd0bc 90.67% 91.00%,#d5efe9 91.00% 91.33%,#b3e2d6 91.33% 91.67%,#d5efe9 91.67% 92.00%,#8dd0bc 92.00% 92.33%,#d5efe9 92.33% 93.00%,#b3e2d6 93.00% 93.33%,#d5efe9 93.33% 94.00%,#b3e2d6 94.00% 94.33%,#8dd0bc 94.33% 94.67%,#b3e2d6 94.67% 95.00%,#d5efe9 95.00% 95.33%,#b3e2d6 95.33% 95.67%,#d5efe9 95.67% 96.00%,#b3e2d6 96.00% 96.33%,#8dd0bc 96.33% 96.67%,#d5efe9 96.67% 97.00%,#b3e2d6 97.00% 97.33%,#8dd0bc 97.33% 97.67%,#b3e2d6 97.67% 99.00%,#d5efe9 99.00% 100.00%)"></div>
<svg class="main" width="2440" height="2544" viewBox="0 0 2440 2544" font-family="'Liberation Sans', Arial, Helvetica, sans-serif">
<defs><linearGradient id="gA"><stop offset="0" stop-color="#0000ff"/><stop offset=".5" stop-color="#ffffff"/><stop offset="1" stop-color="#ff0000"/></linearGradient><linearGradient id="gC"><stop offset="0" stop-color="#0a1460"/><stop offset=".5" stop-color="#666"/><stop offset="1" stop-color="#600a0a"/></linearGradient></defs>
<rect x="184.5" y="647.5" width="32.5" height="32.5" fill="#5959ff"/>
<text x="200.2" y="673.4" font-size="17" text-anchor="middle" fill="#222">***</text>
<rect x="220.0" y="647.5" width="32.5" height="32.5" fill="#5757ff"/>
<text x="235.8" y="673.4" font-size="17" text-anchor="middle" fill="#222">***</text>
<rect x="255.5" y="647.5" width="32.5" height="32.5" fill="#5959ff"/>
<text x="271.2" y="673.4" font-size="17" text-anchor="middle" fill="#222">***</text>
<rect x="291.0" y="647.5" width="32.5" height="32.5" fill="#5757ff"/>
<text x="306.8" y="673.4" font-size="17" text-anchor="middle" fill="#222">***</text>
<rect x="326.5" y="647.5" width="32.5" height="32.5" fill="#5959ff"/>
<text x="342.2" y="673.4" font-size="17" text-anchor="middle" fill="#222">***</text>
<rect x="362.0" y="647.5" width="32.5" height="32.5" fill="#5757ff"/>
<text x="377.8" y="673.4" font-size="17" text-anchor="middle" fill="#222">***</text>
<rect x="397.5" y="647.5" width="32.5" height="32.5" fill="#5959ff"/>
<text x="413.2" y="673.4" font-size="17" text-anchor="middle" fill="#222">***</text>
<rect x="433.0" y="647.5" width="32.5" height="32.5" fill="#5757ff"/>
<text x="448.8" y="673.4" font-size="17" text-anchor="middle" fill="#222">***</text>
<rect x="468.5" y="647.5" width="32.5" height="32.5" fill="#5757ff"/>
<text x="484.2" y="673.4" font-size="17" text-anchor="middle" fill="#222">***</text>
<rect x="504.0" y="647.5" width="32.5" height="32.5" fill="#5757ff"/>
<text x="519.8" y="673.4" font-size="17" text-anchor="middle" fill="#222">***</text>
<rect x="539.5" y="647.5" width="32.5" height="32.5" fill="#5757ff"/>
<text x="555.2" y="673.4" font-size="17" text-anchor="middle" fill="#222">***</text>
<rect x="575.0" y="647.5" width="32.5" height="32.5" fill="#4d4dff"/>
<text x="590.8" y="673.4" font-size="17" text-anchor="middle" fill="#222">***</text>
<rect x="610.5" y="647.5" width="32.5" height="32.5" fill="#5c5cff"/>
<text x="626.2" y="673.4" font-size="17" text-anchor="middle" fill="#222">***</text>
<rect x="646.0" y="647.5" width="32.5" height="32.5" fill="#5c5cff"/>
<text x="661.8" y="673.4" font-size="17" text-anchor="middle" fill="#222">***</text>
<rect x="681.5" y="647.5" width="32.5" height="32.5" fill="#5252ff"/>
<text x="697.2" y="673.4" font-size="17" text-anchor="middle" fill="#222">***</text>
<rect x="717.0" y="647.5" width="32.5" height="32.5" fill="#5c5cff"/>
<text x="732.8" y="673.4" font-size="17" text-anchor="middle" fill="#222">***</text>
<rect x="752.5" y="647.5" width="32.5" height="32.5" fill="#ffcccc"/>
<text x="768.2" y="673.4" font-size="17" text-anchor="middle" fill="#222">***</text>
<rect x="788.0" y="647.5" width="32.5" height="32.5" fill="#ff9e9e"/>
<text x="803.8" y="673.4" font-size="17" text-anchor="middle" fill="#222">***</text>
<rect x="823.5" y="647.5" width="32.5" height="32.5" fill="#ff8080"/>
<text x="839.2" y="673.4" font-size="17" text-anchor="middle" fill="#222">***</text>
<rect x="859.0" y="647.5" width="32.5" height="32.5" fill="#ff8c8c"/>
<text x="874.8" y="673.4" font-size="17" text-anchor="middle" fill="#222">***</text>
<rect x="894.5" y="647.5" width="32.5" height="32.5" fill="#ff9494"/>
<text x="910.2" y="673.4" font-size="17" text-anchor="middle" fill="#222">***</text>
<rect x="930.0" y="647.5" width="32.5" height="32.5" fill="#ff8080"/>
<text x="945.8" y="673.4" font-size="17" text-anchor="middle" fill="#222">***</text>
<rect x="965.5" y="647.5" width="32.5" height="32.5" fill="#ffa6a6"/>
<text x="981.2" y="673.4" font-size="17" text-anchor="middle" fill="#222">***</text>
<rect x="1001.0" y="647.5" width="32.5" height="32.5" fill="#ffb2b2"/>
<text x="1016.8" y="673.4" font-size="17" text-anchor="middle" fill="#222">***</text>
<rect x="184.5" y="683.0" width="32.5" height="32.5" fill="#fff2f2"/>
<rect x="220.0" y="683.0" width="32.5" height="32.5" fill="#ffd9d9"/>
<text x="235.8" y="708.9" font-size="17" text-anchor="middle" fill="#222">*</text>
<rect x="255.5" y="683.0" width="32.5" height="32.5" fill="#fff2f2"/>
<rect x="291.0" y="683.0" width="32.5" height="32.5" fill="#ebebff"/>
<rect x="326.5" y="683.0" width="32.5" height="32.5" fill="#f7f7ff"/>
<rect x="362.0" y="683.0" width="32.5" height="32.5" fill="#fafaff"/>
<rect x="397.5" y="683.0" width="32.5" height="32.5" fill="#ffebeb"/>
<rect x="433.0" y="683.0" width="32.5" height="32.5" fill="#f7f7ff"/>
<rect x="468.5" y="683.0" width="32.5" height="32.5" fill="#ededff"/>
<rect x="504.0" y="683.0" width="32.5" height="32.5" fill="#dedeff"/>
<text x="519.8" y="708.9" font-size="17" text-anchor="middle" fill="#222">**</text>
<rect x="539.5" y="683.0" width="32.5" height="32.5" fill="#f7f7ff"/>
<rect x="575.0" y="683.0" width="32.5" height="32.5" fill="#fff7f7"/>
<rect x="610.5" y="683.0" width="32.5" height="32.5" fill="#fafaff"/>
<rect x="646.0" y="683.0" width="32.5" height="32.5" fill="#fffcfc"/>
<rect x="681.5" y="683.0" width="32.5" height="32.5" fill="#f5f5ff"/>
<rect x="717.0" y="683.0" width="32.5" height="32.5" fill="#fffcfc"/>
<rect x="752.5" y="683.0" width="32.5" height="32.5" fill="#ff9999"/>
<text x="768.2" y="708.9" font-size="17" text-anchor="middle" fill="#222">***</text>
<rect x="788.0" y="683.0" width="32.5" height="32.5" fill="#ffadad"/>
<text x="803.8" y="708.9" font-size="17" text-anchor="middle" fill="#222">***</text>
<rect x="823.5" y="683.0" width="32.5" height="32.5" fill="#ff9999"/>
<text x="839.2" y="708.9" font-size="17" text-anchor="middle" fill="#222">***</text>
<rect x="859.0" y="683.0" width="32.5" height="32.5" fill="#ffb8b8"/>
<text x="874.8" y="708.9" font-size="17" text-anchor="middle" fill="#222">***</text>
<rect x="894.5" y="683.0" width="32.5" height="32.5" fill="#ffb2b2"/>
<text x="910.2" y="708.9" font-size="17" text-anchor="middle" fill="#222">***</text>
<rect x="930.0" y="683.0" width="32.5" height="32.5" fill="#ffa6a6"/>
<text x="945.8" y="708.9" font-size="17" text-anchor="middle" fill="#222">***</text>
<rect x="965.5" y="683.0" width="32.5" height="32.5" fill="#ff8c8c"/>
<text x="981.2" y="708.9" font-size="17" text-anchor="middle" fill="#222">***</text>
<rect x="1001.0" y="683.0" width="32.5" height="32.5" fill="#e6e6ff"/>
<text x="1016.8" y="708.9" font-size="17" text-anchor="middle" fill="#222">*</text>
<rect x="184.5" y="718.5" width="32.5" height="32.5" fill="#ffe6e6"/>
<rect x="220.0" y="718.5" width="32.5" height="32.5" fill="#fff7f7"/>
<rect x="255.5" y="718.5" width="32.5" height="32.5" fill="#ffe0e0"/>
<text x="271.2" y="744.4" font-size="17" text-anchor="middle" fill="#222">*</text>
<rect x="291.0" y="718.5" width="32.5" height="32.5" fill="#fffcfc"/>
<rect x="326.5" y="718.5" width="32.5" height="32.5" fill="#fff0f0"/>
<rect x="362.0" y="718.5" width="32.5" height="32.5" fill="#fff0f0"/>
<rect x="397.5" y="718.5" width="32.5" height="32.5" fill="#fff2f2"/>
<rect x="433.0" y="718.5" width="32.5" height="32.5" fill="#fff5f5"/>
<rect x="468.5" y="718.5" width="32.5" height="32.5" fill="#fffcfc"/>
<rect x="504.0" y="718.5" width="32.5" height="32.5" fill="#f7f7ff"/>
<rect x="539.5" y="718.5" width="32.5" height="32.5" fill="#ffe0e0"/>
<text x="555.2" y="744.4" font-size="17" text-anchor="middle" fill="#222">*</text>
<rect x="575.0" y="718.5" width="32.5" height="32.5" fill="#ffe6e6"/>
<rect x="610.5" y="718.5" width="32.5" height="32.5" fill="#ffebeb"/>
<rect x="646.0" y="718.5" width="32.5" height="32.5" fill="#fff0f0"/>
<rect x="681.5" y="718.5" width="32.5" height="32.5" fill="#fff5f5"/>
<rect x="717.0" y="718.5" width="32.5" height="32.5" fill="#ffe6e6"/>
<text x="732.8" y="744.4" font-size="17" text-anchor="middle" fill="#222">*</text>
<rect x="752.5" y="718.5" width="32.5" height="32.5" fill="#ffcccc"/>
<text x="768.2" y="744.4" font-size="17" text-anchor="middle" fill="#222">***</text>
<rect x="788.0" y="718.5" width="32.5" height="32.5" fill="#ccccff"/>
<text x="803.8" y="744.4" font-size="17" text-anchor="middle" fill="#222">***</text>
<rect x="823.5" y="718.5" width="32.5" height="32.5" fill="#ccccff"/>
<text x="839.2" y="744.4" font-size="17" text-anchor="middle" fill="#222">***</text>
<rect x="859.0" y="718.5" width="32.5" height="32.5" fill="#c7c7ff"/>
<text x="874.8" y="744.4" font-size="17" text-anchor="middle" fill="#222">***</text>
<rect x="894.5" y="718.5" width="32.5" height="32.5" fill="#babaff"/>
<text x="910.2" y="744.4" font-size="17" text-anchor="middle" fill="#222">***</text>
<rect x="930.0" y="718.5" width="32.5" height="32.5" fill="#fafaff"/>
<rect x="965.5" y="718.5" width="32.5" height="32.5" fill="#ebebff"/>
<rect x="1001.0" y="718.5" width="32.5" height="32.5" fill="#ffe6e6"/>
<text x="1016.8" y="744.4" font-size="17" text-anchor="middle" fill="#222">**</text>
<rect x="184.5" y="754.0" width="32.5" height="32.5" fill="#8c8cff"/>
<text x="200.2" y="779.9" font-size="17" text-anchor="middle" fill="#222">***</text>
<rect x="220.0" y="754.0" width="32.5" height="32.5" fill="#8585ff"/>
<text x="235.8" y="779.9" font-size="17" text-anchor="middle" fill="#222">***</text>
<rect x="255.5" y="754.0" width="32.5" height="32.5" fill="#8c8cff"/>
<text x="271.2" y="779.9" font-size="17" text-anchor="middle" fill="#222">***</text>
<rect x="291.0" y="754.0" width="32.5" height="32.5" fill="#8a8aff"/>
<text x="306.8" y="779.9" font-size="17" text-anchor="middle" fill="#222">***</text>
<rect x="326.5" y="754.0" width="32.5" height="32.5" fill="#8585ff"/>
<text x="342.2" y="779.9" font-size="17" text-anchor="middle" fill="#222">***</text>
<rect x="362.0" y="754.0" width="32.5" height="32.5" fill="#8787ff"/>
<text x="377.8" y="779.9" font-size="17" text-anchor="middle" fill="#222">***</text>
<rect x="397.5" y="754.0" width="32.5" height="32.5" fill="#8080ff"/>
<text x="413.2" y="779.9" font-size="17" text-anchor="middle" fill="#222">***</text>
<rect x="433.0" y="754.0" width="32.5" height="32.5" fill="#8585ff"/>
<text x="448.8" y="779.9" font-size="17" text-anchor="middle" fill="#222">***</text>
<rect x="468.5" y="754.0" width="32.5" height="32.5" fill="#8080ff"/>
<text x="484.2" y="779.9" font-size="17" text-anchor="middle" fill="#222">***</text>
<rect x="504.0" y="754.0" width="32.5" height="32.5" fill="#7a7aff"/>
<text x="519.8" y="779.9" font-size="17" text-anchor="middle" fill="#222">***</text>
<rect x="539.5" y="754.0" width="32.5" height="32.5" fill="#9494ff"/>
<text x="555.2" y="779.9" font-size="17" text-anchor="middle" fill="#222">***</text>
<rect x="575.0" y="754.0" width="32.5" height="32.5" fill="#8f8fff"/>
<text x="590.8" y="779.9" font-size="17" text-anchor="middle" fill="#222">***</text>
<rect x="610.5" y="754.0" width="32.5" height="32.5" fill="#8a8aff"/>
<text x="626.2" y="779.9" font-size="17" text-anchor="middle" fill="#222">***</text>
<rect x="646.0" y="754.0" width="32.5" height="32.5" fill="#8f8fff"/>
<text x="661.8" y="779.9" font-size="17" text-anchor="middle" fill="#222">***</text>
<rect x="681.5" y="754.0" width="32.5" height="32.5" fill="#8080ff"/>
<text x="697.2" y="779.9" font-size="17" text-anchor="middle" fill="#222">***</text>
<rect x="717.0" y="754.0" width="32.5" height="32.5" fill="#9494ff"/>
<text x="732.8" y="779.9" font-size="17" text-anchor="middle" fill="#222">***</text>
<rect x="752.5" y="754.0" width="32.5" height="32.5" fill="#ff4040"/>
<text x="768.2" y="779.9" font-size="17" text-anchor="middle" fill="#222">***</text>
<rect x="788.0" y="754.0" width="32.5" height="32.5" fill="#ff9e9e"/>
<text x="803.8" y="779.9" font-size="17" text-anchor="middle" fill="#222">***</text>
<rect x="823.5" y="754.0" width="32.5" height="32.5" fill="#ff9999"/>
<text x="839.2" y="779.9" font-size="17" text-anchor="middle" fill="#222">***</text>
<rect x="859.0" y="754.0" width="32.5" height="32.5" fill="#ff9999"/>
<text x="874.8" y="779.9" font-size="17" text-anchor="middle" fill="#222">***</text>
<rect x="894.5" y="754.0" width="32.5" height="32.5" fill="#ffb2b2"/>
<text x="910.2" y="779.9" font-size="17" text-anchor="middle" fill="#222">***</text>
<rect x="930.0" y="754.0" width="32.5" height="32.5" fill="#ff7373"/>
<text x="945.8" y="779.9" font-size="17" text-anchor="middle" fill="#222">***</text>
<rect x="965.5" y="754.0" width="32.5" height="32.5" fill="#ff8c8c"/>
<text x="981.2" y="779.9" font-size="17" text-anchor="middle" fill="#222">***</text>
<rect x="1001.0" y="754.0" width="32.5" height="32.5" fill="#ff8080"/>
<text x="1016.8" y="779.9" font-size="17" text-anchor="middle" fill="#222">***</text>
<rect x="184.5" y="789.5" width="32.5" height="32.5" fill="#bfbfff"/>
<text x="200.2" y="815.4" font-size="17" text-anchor="middle" fill="#222">***</text>
<rect x="220.0" y="789.5" width="32.5" height="32.5" fill="#adadff"/>
<text x="235.8" y="815.4" font-size="17" text-anchor="middle" fill="#222">***</text>
<rect x="255.5" y="789.5" width="32.5" height="32.5" fill="#bfbfff"/>
<text x="271.2" y="815.4" font-size="17" text-anchor="middle" fill="#222">***</text>
<rect x="291.0" y="789.5" width="32.5" height="32.5" fill="#babaff"/>
<text x="306.8" y="815.4" font-size="17" text-anchor="middle" fill="#222">***</text>
<rect x="326.5" y="789.5" width="32.5" height="32.5" fill="#c7c7ff"/>
<text x="342.2" y="815.4" font-size="17" text-anchor="middle" fill="#222">***</text>
<rect x="362.0" y="789.5" width="32.5" height="32.5" fill="#c2c2ff"/>
<text x="377.8" y="815.4" font-size="17" text-anchor="middle" fill="#222">***</text>
<rect x="397.5" y="789.5" width="32.5" height="32.5" fill="#bfbfff"/>
<text x="413.2" y="815.4" font-size="17" text-anchor="middle" fill="#222">***</text>
<rect x="433.0" y="789.5" width="32.5" height="32.5" fill="#ccccff"/>
<text x="448.8" y="815.4" font-size="17" text-anchor="middle" fill="#222">***</text>
<rect x="468.5" y="789.5" width="32.5" height="32.5" fill="#ccccff"/>
<text x="484.2" y="815.4" font-size="17" text-anchor="middle" fill="#222">***</text>
<rect x="504.0" y="789.5" width="32.5" height="32.5" fill="#d9d9ff"/>
<text x="519.8" y="815.4" font-size="17" text-anchor="middle" fill="#222">**</text>
<rect x="539.5" y="789.5" width="32.5" height="32.5" fill="#ccccff"/>
<text x="555.2" y="815.4" font-size="17" text-anchor="middle" fill="#222">***</text>
<rect x="575.0" y="789.5" width="32.5" height="32.5" fill="#cfcfff"/>
<text x="590.8" y="815.4" font-size="17" text-anchor="middle" fill="#222">***</text>
<rect x="610.5" y="789.5" width="32.5" height="32.5" fill="#ccccff"/>
<text x="626.2" y="815.4" font-size="17" text-anchor="middle" fill="#222">***</text>
<rect x="646.0" y="789.5" width="32.5" height="32.5" fill="#ccccff"/>
<text x="661.8" y="815.4" font-size="17" text-anchor="middle" fill="#222">***</text>
<rect x="681.5" y="789.5" width="32.5" height="32.5" fill="#ccccff"/>
<text x="697.2" y="815.4" font-size="17" text-anchor="middle" fill="#222">***</text>
<rect x="717.0" y="789.5" width="32.5" height="32.5" fill="#d1d1ff"/>
<text x="732.8" y="815.4" font-size="17" text-anchor="middle" fill="#222">***</text>
<rect x="752.5" y="789.5" width="32.5" height="32.5" fill="#d1d1ff"/>
<text x="768.2" y="815.4" font-size="17" text-anchor="middle" fill="#222">***</text>
<rect x="788.0" y="789.5" width="32.5" height="32.5" fill="#a6a6ff"/>
<text x="803.8" y="815.4" font-size="17" text-anchor="middle" fill="#222">***</text>
<rect x="823.5" y="789.5" width="32.5" height="32.5" fill="#b0b0ff"/>
<text x="839.2" y="815.4" font-size="17" text-anchor="middle" fill="#222">***</text>
<rect x="859.0" y="789.5" width="32.5" height="32.5" fill="#ababff"/>
<text x="874.8" y="815.4" font-size="17" text-anchor="middle" fill="#222">***</text>
<rect x="894.5" y="789.5" width="32.5" height="32.5" fill="#9e9eff"/>
<text x="910.2" y="815.4" font-size="17" text-anchor="middle" fill="#222">***</text>
<rect x="930.0" y="789.5" width="32.5" height="32.5" fill="#a8a8ff"/>
<text x="945.8" y="815.4" font-size="17" text-anchor="middle" fill="#222">***</text>
<rect x="965.5" y="789.5" width="32.5" height="32.5" fill="#b8b8ff"/>
<text x="981.2" y="815.4" font-size="17" text-anchor="middle" fill="#222">***</text>
<rect x="1001.0" y="789.5" width="32.5" height="32.5" fill="#ff9999"/>
<text x="1016.8" y="815.4" font-size="17" text-anchor="middle" fill="#222">***</text>
<rect x="184.5" y="825.0" width="32.5" height="32.5" fill="#fff7f7"/>
<rect x="220.0" y="825.0" width="32.5" height="32.5" fill="#ffcccc"/>
<text x="235.8" y="850.9" font-size="17" text-anchor="middle" fill="#222">***</text>
<rect x="255.5" y="825.0" width="32.5" height="32.5" fill="#ffbaba"/>
<text x="271.2" y="850.9" font-size="17" text-anchor="middle" fill="#222">***</text>
<rect x="291.0" y="825.0" width="32.5" height="32.5" fill="#f7f7ff"/>
<rect x="326.5" y="825.0" width="32.5" height="32.5" fill="#ffbfbf"/>
<text x="342.2" y="850.9" font-size="17" text-anchor="middle" fill="#222">***</text>
<rect x="362.0" y="825.0" width="32.5" height="32.5" fill="#ffe0e0"/>
<text x="377.8" y="850.9" font-size="17" text-anchor="middle" fill="#222">*</text>
<rect x="397.5" y="825.0" width="32.5" height="32.5" fill="#ffb2b2"/>
<text x="413.2" y="850.9" font-size="17" text-anchor="middle" fill="#222">***</text>
<rect x="433.0" y="825.0" width="32.5" height="32.5" fill="#ffeded"/>
<rect x="468.5" y="825.0" width="32.5" height="32.5" fill="#ffeded"/>
<rect x="504.0" y="825.0" width="32.5" height="32.5" fill="#ffebeb"/>
<rect x="539.5" y="825.0" width="32.5" height="32.5" fill="#ffb2b2"/>
<text x="555.2" y="850.9" font-size="17" text-anchor="middle" fill="#222">***</text>
<rect x="575.0" y="825.0" width="32.5" height="32.5" fill="#ffbfbf"/>
<text x="590.8" y="850.9" font-size="17" text-anchor="middle" fill="#222">***</text>
<rect x="610.5" y="825.0" width="32.5" height="32.5" fill="#ffbfbf"/>
<text x="626.2" y="850.9" font-size="17" text-anchor="middle" fill="#222">***</text>
<rect x="646.0" y="825.0" width="32.5" height="32.5" fill="#ffb2b2"/>
<text x="661.8" y="850.9" font-size="17" text-anchor="middle" fill="#222">***</text>
<rect x="681.5" y="825.0" width="32.5" height="32.5" fill="#ffc7c7"/>
<text x="697.2" y="850.9" font-size="17" text-anchor="middle" fill="#222">***</text>
<rect x="717.0" y="825.0" width="32.5" height="32.5" fill="#ffb2b2"/>
<text x="732.8" y="850.9" font-size="17" text-anchor="middle" fill="#222">***</text>
<rect x="752.5" y="825.0" width="32.5" height="32.5" fill="#ffcccc"/>
<text x="768.2" y="850.9" font-size="17" text-anchor="middle" fill="#222">***</text>
<rect x="788.0" y="825.0" width="32.5" height="32.5" fill="#fffcfc"/>
<rect x="823.5" y="825.0" width="32.5" height="32.5" fill="#fcfcff"/>
<rect x="859.0" y="825.0" width="32.5" height="32.5" fill="#f2f2ff"/>
<rect x="894.5" y="825.0" width="32.5" height="32.5" fill="#ccccff"/>
<text x="910.2" y="850.9" font-size="17" text-anchor="middle" fill="#222">***</text>
<rect x="930.0" y="825.0" width="32.5" height="32.5" fill="#ffcccc"/>
<text x="945.8" y="850.9" font-size="17" text-anchor="middle" fill="#222">***</text>
<rect x="965.5" y="825.0" width="32.5" height="32.5" fill="#ffeded"/>
<rect x="1001.0" y="825.0" width="32.5" height="32.5" fill="#f7f7ff"/>
<rect x="184.5" y="860.5" width="32.5" height="32.5" fill="#7373ff"/>
<text x="200.2" y="886.4" font-size="17" text-anchor="middle" fill="#222">***</text>
<rect x="220.0" y="860.5" width="32.5" height="32.5" fill="#7373ff"/>
<text x="235.8" y="886.4" font-size="17" text-anchor="middle" fill="#222">***</text>
<rect x="255.5" y="860.5" width="32.5" height="32.5" fill="#7373ff"/>
<text x="271.2" y="886.4" font-size="17" text-anchor="middle" fill="#222">***</text>
<rect x="291.0" y="860.5" width="32.5" height="32.5" fill="#7373ff"/>
<text x="306.8" y="886.4" font-size="17" text-anchor="middle" fill="#222">***</text>
<rect x="326.5" y="860.5" width="32.5" height="32.5" fill="#7878ff"/>
<text x="342.2" y="886.4" font-size="17" text-anchor="middle" fill="#222">***</text>
<rect x="362.0" y="860.5" width="32.5" height="32.5" fill="#8080ff"/>
<text x="377.8" y="886.4" font-size="17" text-anchor="middle" fill="#222">***</text>
<rect x="397.5" y="860.5" width="32.5" height="32.5" fill="#7373ff"/>
<text x="413.2" y="886.4" font-size="17" text-anchor="middle" fill="#222">***</text>
<rect x="433.0" y="860.5" width="32.5" height="32.5" fill="#5959ff"/>
<text x="448.8" y="886.4" font-size="17" text-anchor="middle" fill="#222">***</text>
<rect x="468.5" y="860.5" width="32.5" height="32.5" fill="#4d4dff"/>
<text x="484.2" y="886.4" font-size="17" text-anchor="middle" fill="#222">***</text>
<rect x="504.0" y="860.5" width="32.5" height="32.5" fill="#7070ff"/>
<text x="519.8" y="886.4" font-size="17" text-anchor="middle" fill="#222">***</text>
<rect x="539.5" y="860.5" width="32.5" height="32.5" fill="#7373ff"/>
<text x="555.2" y="886.4" font-size="17" text-anchor="middle" fill="#222">***</text>
<rect x="575.0" y="860.5" width="32.5" height="32.5" fill="#6666ff"/>
<text x="590.8" y="886.4" font-size="17" text-anchor="middle" fill="#222">***</text>
<rect x="610.5" y="860.5" width="32.5" height="32.5" fill="#6666ff"/>
<text x="626.2" y="886.4" font-size="17" text-anchor="middle" fill="#222">***</text>
<rect x="646.0" y="860.5" width="32.5" height="32.5" fill="#7373ff"/>
<text x="661.8" y="886.4" font-size="17" text-anchor="middle" fill="#222">***</text>
<rect x="681.5" y="860.5" width="32.5" height="32.5" fill="#7373ff"/>
<text x="697.2" y="886.4" font-size="17" text-anchor="middle" fill="#222">***</text>
<rect x="717.0" y="860.5" width="32.5" height="32.5" fill="#8080ff"/>
<text x="732.8" y="886.4" font-size="17" text-anchor="middle" fill="#222">***</text>
<rect x="752.5" y="860.5" width="32.5" height="32.5" fill="#ff5959"/>
<text x="768.2" y="886.4" font-size="17" text-anchor="middle" fill="#222">***</text>
<rect x="788.0" y="860.5" width="32.5" height="32.5" fill="#ff5959"/>
<text x="803.8" y="886.4" font-size="17" text-anchor="middle" fill="#222">***</text>
<rect x="823.5" y="860.5" width="32.5" height="32.5" fill="#ff4040"/>
<text x="839.2" y="886.4" font-size="17" text-anchor="middle" fill="#222">***</text>
<rect x="859.0" y="860.5" width="32.5" height="32.5" fill="#ff4747"/>
<text x="874.8" y="886.4" font-size="17" text-anchor="middle" fill="#222">***</text>
<rect x="894.5" y="860.5" width="32.5" height="32.5" fill="#ff5757"/>
<text x="910.2" y="886.4" font-size="17" text-anchor="middle" fill="#222">***</text>
<rect x="930.0" y="860.5" width="32.5" height="32.5" fill="#ff3333"/>
<text x="945.8" y="886.4" font-size="17" text-anchor="middle" fill="#222">***</text>
<rect x="965.5" y="860.5" width="32.5" height="32.5" fill="#ff5959"/>
<text x="981.2" y="886.4" font-size="17" text-anchor="middle" fill="#222">***</text>
<rect x="1001.0" y="860.5" width="32.5" height="32.5" fill="#ffbfbf"/>
<text x="1016.8" y="886.4" font-size="17" text-anchor="middle" fill="#222">***</text>
<rect x="184.5" y="896.0" width="32.5" height="32.5" fill="#8c8cff"/>
<text x="200.2" y="921.9" font-size="17" text-anchor="middle" fill="#222">***</text>
<rect x="220.0" y="896.0" width="32.5" height="32.5" fill="#8c8cff"/>
<text x="235.8" y="921.9" font-size="17" text-anchor="middle" fill="#222">***</text>
<rect x="255.5" y="896.0" width="32.5" height="32.5" fill="#8c8cff"/>
<text x="271.2" y="921.9" font-size="17" text-anchor="middle" fill="#222">***</text>
<rect x="291.0" y="896.0" width="32.5" height="32.5" fill="#9494ff"/>
<text x="306.8" y="921.9" font-size="17" text-anchor="middle" fill="#222">***</text>
<rect x="326.5" y="896.0" width="32.5" height="32.5" fill="#8a8aff"/>
<text x="342.2" y="921.9" font-size="17" text-anchor="middle" fill="#222">***</text>
<rect x="362.0" y="896.0" width="32.5" height="32.5" fill="#9999ff"/>
<text x="377.8" y="921.9" font-size="17" text-anchor="middle" fill="#222">***</text>
<rect x="397.5" y="896.0" width="32.5" height="32.5" fill="#7a7aff"/>
<text x="413.2" y="921.9" font-size="17" text-anchor="middle" fill="#222">***</text>
<rect x="433.0" y="896.0" width="32.5" height="32.5" fill="#8c8cff"/>
<text x="448.8" y="921.9" font-size="17" text-anchor="middle" fill="#222">***</text>
<rect x="468.5" y="896.0" width="32.5" height="32.5" fill="#7373ff"/>
<text x="484.2" y="921.9" font-size="17" text-anchor="middle" fill="#222">***</text>
<rect x="504.0" y="896.0" width="32.5" height="32.5" fill="#8585ff"/>
<text x="519.8" y="921.9" font-size="17" text-anchor="middle" fill="#222">***</text>
<rect x="539.5" y="896.0" width="32.5" height="32.5" fill="#8080ff"/>
<text x="555.2" y="921.9" font-size="17" text-anchor="middle" fill="#222">***</text>
<rect x="575.0" y="896.0" width="32.5" height="32.5" fill="#8f8fff"/>
<text x="590.8" y="921.9" font-size="17" text-anchor="middle" fill="#222">***</text>
<rect x="610.5" y="896.0" width="32.5" height="32.5" fill="#8f8fff"/>
<text x="626.2" y="921.9" font-size="17" text-anchor="middle" fill="#222">***</text>
<rect x="646.0" y="896.0" width="32.5" height="32.5" fill="#8c8cff"/>
<text x="661.8" y="921.9" font-size="17" text-anchor="middle" fill="#222">***</text>
<rect x="681.5" y="896.0" width="32.5" height="32.5" fill="#8787ff"/>
<text x="697.2" y="921.9" font-size="17" text-anchor="middle" fill="#222">***</text>
<rect x="717.0" y="896.0" width="32.5" height="32.5" fill="#8c8cff"/>
<text x="732.8" y="921.9" font-size="17" text-anchor="middle" fill="#222">***</text>
<rect x="752.5" y="896.0" width="32.5" height="32.5" fill="#ff9999"/>
<text x="768.2" y="921.9" font-size="17" text-anchor="middle" fill="#222">***</text>
<rect x="788.0" y="896.0" width="32.5" height="32.5" fill="#ffebeb"/>
<rect x="823.5" y="896.0" width="32.5" height="32.5" fill="#ffd1d1"/>
<text x="839.2" y="921.9" font-size="17" text-anchor="middle" fill="#222">***</text>
<rect x="859.0" y="896.0" width="32.5" height="32.5" fill="#ffd9d9"/>
<text x="874.8" y="921.9" font-size="17" text-anchor="middle" fill="#222">**</text>
<rect x="894.5" y="896.0" width="32.5" height="32.5" fill="#ffeded"/>
<text x="910.2" y="921.9" font-size="17" text-anchor="middle" fill="#222">*</text>
<rect x="930.0" y="896.0" width="32.5" height="32.5" fill="#ffcccc"/>
<text x="945.8" y="921.9" font-size="17" text-anchor="middle" fill="#222">***</text>
<rect x="965.5" y="896.0" width="32.5" height="32.5" fill="#ffe6e6"/>
<text x="981.2" y="921.9" font-size="17" text-anchor="middle" fill="#222">*</text>
<rect x="1001.0" y="896.0" width="32.5" height="32.5" fill="#ff4d4d"/>
<text x="1016.8" y="921.9" font-size="17" text-anchor="middle" fill="#222">***</text>
<rect x="184.5" y="931.5" width="32.5" height="32.5" fill="#b2b2ff"/>
<text x="200.2" y="957.4" font-size="17" text-anchor="middle" fill="#222">***</text>
<rect x="220.0" y="931.5" width="32.5" height="32.5" fill="#ababff"/>
<text x="235.8" y="957.4" font-size="17" text-anchor="middle" fill="#222">***</text>
<rect x="255.5" y="931.5" width="32.5" height="32.5" fill="#b2b2ff"/>
<text x="271.2" y="957.4" font-size="17" text-anchor="middle" fill="#222">***</text>
<rect x="291.0" y="931.5" width="32.5" height="32.5" fill="#ababff"/>
<text x="306.8" y="957.4" font-size="17" text-anchor="middle" fill="#222">***</text>
<rect x="326.5" y="931.5" width="32.5" height="32.5" fill="#bdbdff"/>
<text x="342.2" y="957.4" font-size="17" text-anchor="middle" fill="#222">***</text>
<rect x="362.0" y="931.5" width="32.5" height="32.5" fill="#b8b8ff"/>
<text x="377.8" y="957.4" font-size="17" text-anchor="middle" fill="#222">***</text>
<rect x="397.5" y="931.5" width="32.5" height="32.5" fill="#b2b2ff"/>
<text x="413.2" y="957.4" font-size="17" text-anchor="middle" fill="#222">***</text>
<rect x="433.0" y="931.5" width="32.5" height="32.5" fill="#b2b2ff"/>
<text x="448.8" y="957.4" font-size="17" text-anchor="middle" fill="#222">***</text>
<rect x="468.5" y="931.5" width="32.5" height="32.5" fill="#b2b2ff"/>
<text x="484.2" y="957.4" font-size="17" text-anchor="middle" fill="#222">***</text>
<rect x="504.0" y="931.5" width="32.5" height="32.5" fill="#b2b2ff"/>
<text x="519.8" y="957.4" font-size="17" text-anchor="middle" fill="#222">***</text>
<rect x="539.5" y="931.5" width="32.5" height="32.5" fill="#d9d9ff"/>
<text x="555.2" y="957.4" font-size="17" text-anchor="middle" fill="#222">**</text>
<rect x="575.0" y="931.5" width="32.5" height="32.5" fill="#b2b2ff"/>
<text x="590.8" y="957.4" font-size="17" text-anchor="middle" fill="#222">***</text>
<rect x="610.5" y="931.5" width="32.5" height="32.5" fill="#bdbdff"/>
<text x="626.2" y="957.4" font-size="17" text-anchor="middle" fill="#222">***</text>
<rect x="646.0" y="931.5" width="32.5" height="32.5" fill="#b8b8ff"/>
<text x="661.8" y="957.4" font-size="17" text-anchor="middle" fill="#222">***</text>
<rect x="681.5" y="931.5" width="32.5" height="32.5" fill="#b2b2ff"/>
<text x="697.2" y="957.4" font-size="17" text-anchor="middle" fill="#222">***</text>
<rect x="717.0" y="931.5" width="32.5" height="32.5" fill="#d9d9ff"/>
<text x="732.8" y="957.4" font-size="17" text-anchor="middle" fill="#222">**</text>
<rect x="752.5" y="931.5" width="32.5" height="32.5" fill="#ffcccc"/>
<text x="768.2" y="957.4" font-size="17" text-anchor="middle" fill="#222">***</text>
<rect x="788.0" y="931.5" width="32.5" height="32.5" fill="#ffe0e0"/>
<text x="803.8" y="957.4" font-size="17" text-anchor="middle" fill="#222">*</text>
<rect x="823.5" y="931.5" width="32.5" height="32.5" fill="#fff2f2"/>
<rect x="859.0" y="931.5" width="32.5" height="32.5" fill="#ffd9d9"/>
<text x="874.8" y="957.4" font-size="17" text-anchor="middle" fill="#222">**</text>
<rect x="894.5" y="931.5" width="32.5" height="32.5" fill="#fff7f7"/>
<rect x="930.0" y="931.5" width="32.5" height="32.5" fill="#ffb2b2"/>
<text x="945.8" y="957.4" font-size="17" text-anchor="middle" fill="#222">***</text>
<rect x="965.5" y="931.5" width="32.5" height="32.5" fill="#fff7f7"/>
<rect x="1001.0" y="931.5" width="32.5" height="32.5" fill="#ffbfbf"/>
<text x="1016.8" y="957.4" font-size="17" text-anchor="middle" fill="#222">***</text>
<rect x="184.5" y="967.0" width="32.5" height="32.5" fill="#ccccff"/>
<text x="200.2" y="992.9" font-size="17" text-anchor="middle" fill="#222">***</text>
<rect x="220.0" y="967.0" width="32.5" height="32.5" fill="#d1d1ff"/>
<text x="235.8" y="992.9" font-size="17" text-anchor="middle" fill="#222">***</text>
<rect x="255.5" y="967.0" width="32.5" height="32.5" fill="#e0e0ff"/>
<text x="271.2" y="992.9" font-size="17" text-anchor="middle" fill="#222">*</text>
<rect x="291.0" y="967.0" width="32.5" height="32.5" fill="#c2c2ff"/>
<text x="306.8" y="992.9" font-size="17" text-anchor="middle" fill="#222">***</text>
<rect x="326.5" y="967.0" width="32.5" height="32.5" fill="#e6e6ff"/>
<text x="342.2" y="992.9" font-size="17" text-anchor="middle" fill="#222">*</text>
<rect x="362.0" y="967.0" width="32.5" height="32.5" fill="#dedeff"/>
<text x="377.8" y="992.9" font-size="17" text-anchor="middle" fill="#222">**</text>
<rect x="397.5" y="967.0" width="32.5" height="32.5" fill="#dedeff"/>
<text x="413.2" y="992.9" font-size="17" text-anchor="middle" fill="#222">**</text>
<rect x="433.0" y="967.0" width="32.5" height="32.5" fill="#adadff"/>
<text x="448.8" y="992.9" font-size="17" text-anchor="middle" fill="#222">***</text>
<rect x="468.5" y="967.0" width="32.5" height="32.5" fill="#b8b8ff"/>
<text x="484.2" y="992.9" font-size="17" text-anchor="middle" fill="#222">***</text>
<rect x="504.0" y="967.0" width="32.5" height="32.5" fill="#b2b2ff"/>
<text x="519.8" y="992.9" font-size="17" text-anchor="middle" fill="#222">***</text>
<rect x="539.5" y="967.0" width="32.5" height="32.5" fill="#f2f2ff"/>
<rect x="575.0" y="967.0" width="32.5" height="32.5" fill="#ccccff"/>
<text x="590.8" y="992.9" font-size="17" text-anchor="middle" fill="#222">***</text>
<rect x="610.5" y="967.0" width="32.5" height="32.5" fill="#e6e6ff"/>
<text x="626.2" y="992.9" font-size="17" text-anchor="middle" fill="#222">*</text>
<rect x="646.0" y="967.0" width="32.5" height="32.5" fill="#ccccff"/>
<text x="661.8" y="992.9" font-size="17" text-anchor="middle" fill="#222">***</text>
<rect x="681.5" y="967.0" width="32.5" height="32.5" fill="#d9d9ff"/>
<text x="697.2" y="992.9" font-size="17" text-anchor="middle" fill="#222">**</text>
<rect x="717.0" y="967.0" width="32.5" height="32.5" fill="#ebebff"/>
<rect x="752.5" y="967.0" width="32.5" height="32.5" fill="#ffb8b8"/>
<text x="768.2" y="992.9" font-size="17" text-anchor="middle" fill="#222">***</text>
<rect x="788.0" y="967.0" width="32.5" height="32.5" fill="#ffd9d9"/>
<text x="803.8" y="992.9" font-size="17" text-anchor="middle" fill="#222">**</text>
<rect x="823.5" y="967.0" width="32.5" height="32.5" fill="#ffd1d1"/>
<text x="839.2" y="992.9" font-size="17" text-anchor="middle" fill="#222">**</text>
<rect x="859.0" y="967.0" width="32.5" height="32.5" fill="#ffd9d9"/>
<text x="874.8" y="992.9" font-size="17" text-anchor="middle" fill="#222">**</text>
<rect x="894.5" y="967.0" width="32.5" height="32.5" fill="#ffe6e6"/>
<text x="910.2" y="992.9" font-size="17" text-anchor="middle" fill="#222">*</text>
<rect x="930.0" y="967.0" width="32.5" height="32.5" fill="#ffa6a6"/>
<text x="945.8" y="992.9" font-size="17" text-anchor="middle" fill="#222">***</text>
<rect x="965.5" y="967.0" width="32.5" height="32.5" fill="#ffa6a6"/>
<text x="981.2" y="992.9" font-size="17" text-anchor="middle" fill="#222">***</text>
<rect x="1001.0" y="967.0" width="32.5" height="32.5" fill="#ffe0e0"/>
<text x="1016.8" y="992.9" font-size="17" text-anchor="middle" fill="#222">*</text>
<text x="172.0" y="670.8" font-size="18" text-anchor="end">GYS1</text>
<text x="172.0" y="706.2" font-size="18" text-anchor="end">NDUFS1</text>
<text x="172.0" y="741.8" font-size="18" text-anchor="end">OXSM</text>
<text x="172.0" y="777.2" font-size="18" text-anchor="end">LRPPRC</text>
<text x="172.0" y="812.8" font-size="18" text-anchor="end">NDUFA11</text>
<text x="172.0" y="848.2" font-size="18" text-anchor="end">NUBPL</text>
<text x="172.0" y="883.8" font-size="18" text-anchor="end">NCKAP1</text>
<text x="172.0" y="919.2" font-size="18" text-anchor="end">RPN1</text>
<text x="172.0" y="954.8" font-size="18" text-anchor="end">SLC3A2</text>
<text x="172.0" y="990.2" font-size="18" text-anchor="end">SLC7A11</text>
<text x="205.8" y="638.0" font-size="18" transform="rotate(-90 205.8 638.0)">ALANINE_ASPARTATE_AND_GLUTAMATE_METABOLISM</text>
<text x="241.2" y="638.0" font-size="18" transform="rotate(-90 241.2 638.0)">BETA_ALANINE_METABOLISM</text>
<text x="276.8" y="638.0" font-size="18" transform="rotate(-90 276.8 638.0)">BUTANOATE_METABOLISM</text>
<text x="312.2" y="638.0" font-size="18" transform="rotate(-90 312.2 638.0)">COMPLEMENT_AND_COAGULATION_CASCADES</text>
<text x="347.8" y="638.0" font-size="18" transform="rotate(-90 347.8 638.0)">DRUG_METABOLISM_CYTOCHROME_P450</text>
<text x="383.2" y="638.0" font-size="18" transform="rotate(-90 383.2 638.0)">DRUG_METABOLISM_OTHER_ENZYMES</text>
<text x="418.8" y="638.0" font-size="18" transform="rotate(-90 418.8 638.0)">FATTY_ACID_METABOLISM</text>
<text x="454.2" y="638.0" font-size="18" transform="rotate(-90 454.2 638.0)">GLYCINE_SERINE_AND_THREONINE_METABOLISM</text>
<text x="489.8" y="638.0" font-size="18" transform="rotate(-90 489.8 638.0)">HISTIDINE_METABOLISM</text>
<text x="525.2" y="638.0" font-size="18" transform="rotate(-90 525.2 638.0)">LINOLEIC_ACID_METABOLISM</text>
<text x="560.8" y="638.0" font-size="18" transform="rotate(-90 560.8 638.0)">METABOLISM_OF_XENOBIOTICS_BY_CYTOCHROME_P450</text>
<text x="596.2" y="638.0" font-size="18" transform="rotate(-90 596.2 638.0)">PEROXISOME</text>
<text x="631.8" y="638.0" font-size="18" transform="rotate(-90 631.8 638.0)">PPAR_SIGNALING_PATHWAY</text>
<text x="667.2" y="638.0" font-size="18" transform="rotate(-90 667.2 638.0)">PRIMARY_BILE_ACID_BIOSYNTHESIS</text>
<text x="702.8" y="638.0" font-size="18" transform="rotate(-90 702.8 638.0)">RETINOL_METABOLISM</text>
<text x="738.2" y="638.0" font-size="18" transform="rotate(-90 738.2 638.0)">STEROID_HORMONE_BIOSYNTHESIS</text>
<text x="773.8" y="638.0" font-size="18" transform="rotate(-90 773.8 638.0)">UBIQUITIN_MEDIATED_PROTEOLYSIS</text>
<text x="809.2" y="638.0" font-size="18" transform="rotate(-90 809.2 638.0)">CHRONIC_MYELOID_LEUKEMIA</text>
<text x="844.8" y="638.0" font-size="18" transform="rotate(-90 844.8 638.0)">GAP_JUNCTION</text>
<text x="880.2" y="638.0" font-size="18" transform="rotate(-90 880.2 638.0)">PATHWAYS_IN_CANCER</text>
<text x="915.8" y="638.0" font-size="18" transform="rotate(-90 915.8 638.0)">REGULATION_OF_ACTIN_CYTOSKELETON</text>
<text x="951.2" y="638.0" font-size="18" transform="rotate(-90 951.2 638.0)">SMALL_CELL_LUNG_CANCER</text>
<text x="986.8" y="638.0" font-size="18" transform="rotate(-90 986.8 638.0)">VASOPRESSIN_REGULATED_WATER_REABSORPTION</text>
<text x="1022.2" y="638.0" font-size="18" transform="rotate(-90 1022.2 638.0)">DNA_REPLICATION</text>
<rect x="183" y="1009" width="853" height="9" fill="url(#gA)"/>
<line x1="183" y1="1009.5" x2="1036" y2="1009.5" stroke="#333" stroke-width="1.2"/>
<text x="184.0" y="1039.0" font-size="14.5" text-anchor="middle" fill="#333">−1</text>
<text x="397.0" y="1039.0" font-size="14.5" text-anchor="middle" fill="#333">−0.5</text>
<text x="610.0" y="1039.0" font-size="14.5" text-anchor="middle" fill="#333">0</text>
<text x="823.0" y="1039.0" font-size="14.5" text-anchor="middle" fill="#333">0.5</text>
<text x="1036.0" y="1039.0" font-size="14.5" text-anchor="middle" fill="#333">1</text>
<rect x="337.2" y="1243.2" width="59.7" height="59.3" fill="#ffe6e6"/>
<rect x="398.9" y="1243.2" width="59.7" height="59.3" fill="#fafaff"/>
<rect x="460.6" y="1243.2" width="59.7" height="59.3" fill="#bfbfff"/>
<text x="490.5" y="1287.5" font-size="28" text-anchor="middle">***</text>
<rect x="522.3" y="1243.2" width="59.7" height="59.3" fill="#bfbfff"/>
<text x="552.1" y="1287.5" font-size="28" text-anchor="middle">***</text>
<rect x="584.0" y="1243.2" width="59.7" height="59.3" fill="#c7c7ff"/>
<text x="613.9" y="1287.5" font-size="28" text-anchor="middle">***</text>
<rect x="645.7" y="1243.2" width="59.7" height="59.3" fill="#c7c7ff"/>
<text x="675.6" y="1287.5" font-size="28" text-anchor="middle">***</text>
<rect x="707.4" y="1243.2" width="59.7" height="59.3" fill="#fff0f0"/>
<rect x="769.1" y="1243.2" width="59.7" height="59.3" fill="#bfbfff"/>
<text x="799.0" y="1287.5" font-size="28" text-anchor="middle">***</text>
<rect x="830.8" y="1243.2" width="59.7" height="59.3" fill="#d9d9ff"/>
<text x="860.6" y="1287.5" font-size="28" text-anchor="middle">*</text>
<rect x="892.5" y="1243.2" width="59.7" height="59.3" fill="#f2f2ff"/>
<rect x="337.2" y="1304.5" width="59.7" height="59.3" fill="#ffe6e6"/>
<text x="367.1" y="1348.8" font-size="28" text-anchor="middle">*</text>
<rect x="398.9" y="1304.5" width="59.7" height="59.3" fill="#bfbfff"/>
<text x="428.8" y="1348.8" font-size="28" text-anchor="middle">***</text>
<rect x="460.6" y="1304.5" width="59.7" height="59.3" fill="#d9d9ff"/>
<text x="490.5" y="1348.8" font-size="28" text-anchor="middle">**</text>
<rect x="522.3" y="1304.5" width="59.7" height="59.3" fill="#bfbfff"/>
<text x="552.1" y="1348.8" font-size="28" text-anchor="middle">***</text>
<rect x="584.0" y="1304.5" width="59.7" height="59.3" fill="#ffffff"/>
<rect x="645.7" y="1304.5" width="59.7" height="59.3" fill="#ababff"/>
<text x="675.6" y="1348.8" font-size="28" text-anchor="middle">***</text>
<rect x="707.4" y="1304.5" width="59.7" height="59.3" fill="#ebebff"/>
<rect x="769.1" y="1304.5" width="59.7" height="59.3" fill="#ededff"/>
<rect x="830.8" y="1304.5" width="59.7" height="59.3" fill="#f5f5ff"/>
<rect x="892.5" y="1304.5" width="59.7" height="59.3" fill="#fcfcff"/>
<rect x="337.2" y="1365.8" width="59.7" height="59.3" fill="#ffe6e6"/>
<text x="367.1" y="1410.0" font-size="28" text-anchor="middle">*</text>
<rect x="398.9" y="1365.8" width="59.7" height="59.3" fill="#d9d9ff"/>
<text x="428.8" y="1410.0" font-size="28" text-anchor="middle">**</text>
<rect x="460.6" y="1365.8" width="59.7" height="59.3" fill="#bfbfff"/>
<text x="490.5" y="1410.0" font-size="28" text-anchor="middle">***</text>
<rect x="522.3" y="1365.8" width="59.7" height="59.3" fill="#b2b2ff"/>
<text x="552.1" y="1410.0" font-size="28" text-anchor="middle">***</text>
<rect x="584.0" y="1365.8" width="59.7" height="59.3" fill="#e6e6ff"/>
<text x="613.9" y="1410.0" font-size="28" text-anchor="middle">*</text>
<rect x="645.7" y="1365.8" width="59.7" height="59.3" fill="#b2b2ff"/>
<text x="675.6" y="1410.0" font-size="28" text-anchor="middle">***</text>
<rect x="707.4" y="1365.8" width="59.7" height="59.3" fill="#fafaff"/>
<rect x="769.1" y="1365.8" width="59.7" height="59.3" fill="#d9d9ff"/>
<text x="799.0" y="1410.0" font-size="28" text-anchor="middle">**</text>
<rect x="830.8" y="1365.8" width="59.7" height="59.3" fill="#ebebff"/>
<rect x="892.5" y="1365.8" width="59.7" height="59.3" fill="#f7f7ff"/>
<text x="316.0" y="1283.9" font-size="30" text-anchor="end">StromalScore</text>
<text x="316.0" y="1345.2" font-size="30" text-anchor="end">ImmuneScore</text>
<text x="316.0" y="1406.5" font-size="30" text-anchor="end">ESTIMATEScore</text>
<text x="373.1" y="1231.0" font-size="30.5" transform="rotate(-58 373.1 1231.0)">GYS1</text>
<text x="434.8" y="1231.0" font-size="30.5" transform="rotate(-58 434.8 1231.0)">NDUFS1</text>
<text x="496.5" y="1231.0" font-size="30.5" transform="rotate(-58 496.5 1231.0)">OXSM</text>
<text x="558.1" y="1231.0" font-size="30.5" transform="rotate(-58 558.1 1231.0)">LRPPRC</text>
<text x="619.9" y="1231.0" font-size="30.5" transform="rotate(-58 619.9 1231.0)">NDUFA11</text>
<text x="681.6" y="1231.0" font-size="30.5" transform="rotate(-58 681.6 1231.0)">NUBPL</text>
<text x="743.3" y="1231.0" font-size="30.5" transform="rotate(-58 743.3 1231.0)">NCKAP1</text>
<text x="805.0" y="1231.0" font-size="30.5" transform="rotate(-58 805.0 1231.0)">RPN1</text>
<text x="866.6" y="1231.0" font-size="30.5" transform="rotate(-58 866.6 1231.0)">SLC3A2</text>
<text x="928.4" y="1231.0" font-size="30.5" transform="rotate(-58 928.4 1231.0)">SLC7A11</text>
<rect x="336" y="1428" width="617" height="6" rx="2" fill="url(#gC)"/>
<text x="336.2" y="1467.0" font-size="24.5" text-anchor="middle">−1</text>
<text x="490.4" y="1467.0" font-size="24.5" text-anchor="middle">−0.5</text>
<text x="644.7" y="1467.0" font-size="24.5" text-anchor="middle">0</text>
<text x="799.0" y="1467.0" font-size="24.5" text-anchor="middle">0.5</text>
<text x="953.2" y="1467.0" font-size="24.5" text-anchor="middle">1</text>
<rect x="547.8" y="1646.0" width="33.9" height="34.1" fill="#e6e6ff"/>
<rect x="583.7" y="1646.0" width="33.9" height="34.1" fill="#ffd9d9"/>
<rect x="619.6" y="1646.0" width="33.9" height="34.1" fill="#ffebeb"/>
<rect x="655.5" y="1646.0" width="33.9" height="34.1" fill="#ffe0e0"/>
<rect x="691.4" y="1646.0" width="33.9" height="34.1" fill="#bfbfff"/>
<rect x="727.3" y="1646.0" width="33.9" height="34.1" fill="#ffb2b2"/>
<rect x="763.2" y="1646.0" width="33.9" height="34.1" fill="#fff2f2"/>
<rect x="799.1" y="1646.0" width="33.9" height="34.1" fill="#d9d9ff"/>
<rect x="835.0" y="1646.0" width="33.9" height="34.1" fill="#ffffff"/>
<rect x="870.9" y="1646.0" width="33.9" height="34.1" fill="#ffebeb"/>
<rect x="547.8" y="1682.1" width="33.9" height="34.1" fill="#ffe0e0"/>
<rect x="583.7" y="1682.1" width="33.9" height="34.1" fill="#ffffff"/>
<rect x="619.6" y="1682.1" width="33.9" height="34.1" fill="#fff0f0"/>
<rect x="655.5" y="1682.1" width="33.9" height="34.1" fill="#ffe6e6"/>
<rect x="691.4" y="1682.1" width="33.9" height="34.1" fill="#ffffff"/>
<rect x="727.3" y="1682.1" width="33.9" height="34.1" fill="#f5f5ff"/>
<rect x="763.2" y="1682.1" width="33.9" height="34.1" fill="#ffcccc"/>
<rect x="799.1" y="1682.1" width="33.9" height="34.1" fill="#ffe0e0"/>
<rect x="835.0" y="1682.1" width="33.9" height="34.1" fill="#fff2f2"/>
<rect x="870.9" y="1682.1" width="33.9" height="34.1" fill="#fff0f0"/>
<rect x="547.8" y="1718.1" width="33.9" height="34.1" fill="#ffffff"/>
<rect x="583.7" y="1718.1" width="33.9" height="34.1" fill="#e0e0ff"/>
<rect x="619.6" y="1718.1" width="33.9" height="34.1" fill="#f7f7ff"/>
<rect x="655.5" y="1718.1" width="33.9" height="34.1" fill="#ebebff"/>
<rect x="691.4" y="1718.1" width="33.9" height="34.1" fill="#fff2f2"/>
<rect x="727.3" y="1718.1" width="33.9" height="34.1" fill="#ebebff"/>
<rect x="763.2" y="1718.1" width="33.9" height="34.1" fill="#ccccff"/>
<rect x="799.1" y="1718.1" width="33.9" height="34.1" fill="#ffffff"/>
<rect x="835.0" y="1718.1" width="33.9" height="34.1" fill="#ffffff"/>
<rect x="870.9" y="1718.1" width="33.9" height="34.1" fill="#f5f5ff"/>
<rect x="547.8" y="1754.2" width="33.9" height="34.1" fill="#fff0f0"/>
<rect x="583.7" y="1754.2" width="33.9" height="34.1" fill="#ccccff"/>
<rect x="619.6" y="1754.2" width="33.9" height="34.1" fill="#e6e6ff"/>
<rect x="655.5" y="1754.2" width="33.9" height="34.1" fill="#e6e6ff"/>
<rect x="691.4" y="1754.2" width="33.9" height="34.1" fill="#ffb2b2"/>
<rect x="727.3" y="1754.2" width="33.9" height="34.1" fill="#ffffff"/>
<rect x="763.2" y="1754.2" width="33.9" height="34.1" fill="#d9d9ff"/>
<rect x="799.1" y="1754.2" width="33.9" height="34.1" fill="#fff0f0"/>
<rect x="835.0" y="1754.2" width="33.9" height="34.1" fill="#ffffff"/>
<rect x="870.9" y="1754.2" width="33.9" height="34.1" fill="#ffffff"/>
<rect x="547.8" y="1790.3" width="33.9" height="34.1" fill="#fffafa"/>
<rect x="583.7" y="1790.3" width="33.9" height="34.1" fill="#ffebeb"/>
<rect x="619.6" y="1790.3" width="33.9" height="34.1" fill="#ffeded"/>
<rect x="655.5" y="1790.3" width="33.9" height="34.1" fill="#ffe6e6"/>
<rect x="691.4" y="1790.3" width="33.9" height="34.1" fill="#ffffff"/>
<rect x="727.3" y="1790.3" width="33.9" height="34.1" fill="#ffcccc"/>
<rect x="763.2" y="1790.3" width="33.9" height="34.1" fill="#ffebeb"/>
<rect x="799.1" y="1790.3" width="33.9" height="34.1" fill="#f7f7ff"/>
<rect x="835.0" y="1790.3" width="33.9" height="34.1" fill="#ffd9d9"/>
<rect x="870.9" y="1790.3" width="33.9" height="34.1" fill="#ffb2b2"/>
<rect x="547.8" y="1826.3" width="33.9" height="34.1" fill="#ffffff"/>
<rect x="583.7" y="1826.3" width="33.9" height="34.1" fill="#fffcfc"/>
<rect x="619.6" y="1826.3" width="33.9" height="34.1" fill="#e6e6ff"/>
<rect x="655.5" y="1826.3" width="33.9" height="34.1" fill="#f2f2ff"/>
<rect x="691.4" y="1826.3" width="33.9" height="34.1" fill="#f2f2ff"/>
<rect x="727.3" y="1826.3" width="33.9" height="34.1" fill="#d9d9ff"/>
<rect x="763.2" y="1826.3" width="33.9" height="34.1" fill="#ffffff"/>
<rect x="799.1" y="1826.3" width="33.9" height="34.1" fill="#d1d1ff"/>
<rect x="835.0" y="1826.3" width="33.9" height="34.1" fill="#b2b2ff"/>
<rect x="870.9" y="1826.3" width="33.9" height="34.1" fill="#d9d9ff"/>
<rect x="547.8" y="1862.4" width="33.9" height="34.1" fill="#ffd9d9"/>
<rect x="583.7" y="1862.4" width="33.9" height="34.1" fill="#ebebff"/>
<rect x="619.6" y="1862.4" width="33.9" height="34.1" fill="#fff5f5"/>
<rect x="655.5" y="1862.4" width="33.9" height="34.1" fill="#ffe6e6"/>
<rect x="691.4" y="1862.4" width="33.9" height="34.1" fill="#ffebeb"/>
<rect x="727.3" y="1862.4" width="33.9" height="34.1" fill="#f2f2ff"/>
<rect x="763.2" y="1862.4" width="33.9" height="34.1" fill="#ffebeb"/>
<rect x="799.1" y="1862.4" width="33.9" height="34.1" fill="#ffcccc"/>
<rect x="835.0" y="1862.4" width="33.9" height="34.1" fill="#ffebeb"/>
<rect x="870.9" y="1862.4" width="33.9" height="34.1" fill="#fff5f5"/>
<rect x="547.8" y="1898.5" width="33.9" height="34.1" fill="#ffebeb"/>
<rect x="583.7" y="1898.5" width="33.9" height="34.1" fill="#fafaff"/>
<rect x="619.6" y="1898.5" width="33.9" height="34.1" fill="#fff0f0"/>
<rect x="655.5" y="1898.5" width="33.9" height="34.1" fill="#ffcccc"/>
<rect x="691.4" y="1898.5" width="33.9" height="34.1" fill="#ffe0e0"/>
<rect x="727.3" y="1898.5" width="33.9" height="34.1" fill="#fffafa"/>
<rect x="763.2" y="1898.5" width="33.9" height="34.1" fill="#fffafa"/>
<rect x="799.1" y="1898.5" width="33.9" height="34.1" fill="#ffbfbf"/>
<rect x="835.0" y="1898.5" width="33.9" height="34.1" fill="#fff0f0"/>
<rect x="870.9" y="1898.5" width="33.9" height="34.1" fill="#fafaff"/>
<rect x="547.8" y="1934.6" width="33.9" height="34.1" fill="#ffe0e0"/>
<rect x="583.7" y="1934.6" width="33.9" height="34.1" fill="#d9d9ff"/>
<rect x="619.6" y="1934.6" width="33.9" height="34.1" fill="#fff7f7"/>
<rect x="655.5" y="1934.6" width="33.9" height="34.1" fill="#ffcccc"/>
<rect x="691.4" y="1934.6" width="33.9" height="34.1" fill="#ffa6a6"/>
<rect x="727.3" y="1934.6" width="33.9" height="34.1" fill="#f0f0ff"/>
<rect x="763.2" y="1934.6" width="33.9" height="34.1" fill="#ffffff"/>
<rect x="799.1" y="1934.6" width="33.9" height="34.1" fill="#ffb2b2"/>
<rect x="835.0" y="1934.6" width="33.9" height="34.1" fill="#ffbfbf"/>
<rect x="870.9" y="1934.6" width="33.9" height="34.1" fill="#fffafa"/>
<rect x="547.8" y="1970.6" width="33.9" height="34.1" fill="#e6e6ff"/>
<rect x="583.7" y="1970.6" width="33.9" height="34.1" fill="#ebebff"/>
<rect x="619.6" y="1970.6" width="33.9" height="34.1" fill="#e6e6ff"/>
<rect x="655.5" y="1970.6" width="33.9" height="34.1" fill="#a6a6ff"/>
<rect x="691.4" y="1970.6" width="33.9" height="34.1" fill="#f0f0ff"/>
<rect x="727.3" y="1970.6" width="33.9" height="34.1" fill="#e6e6ff"/>
<rect x="763.2" y="1970.6" width="33.9" height="34.1" fill="#ccccff"/>
<rect x="799.1" y="1970.6" width="33.9" height="34.1" fill="#bfbfff"/>
<rect x="835.0" y="1970.6" width="33.9" height="34.1" fill="#f2f2ff"/>
<rect x="870.9" y="1970.6" width="33.9" height="34.1" fill="#f0f0ff"/>
<rect x="547.8" y="2006.7" width="33.9" height="34.1" fill="#f0f0ff"/>
<rect x="583.7" y="2006.7" width="33.9" height="34.1" fill="#ffebeb"/>
<rect x="619.6" y="2006.7" width="33.9" height="34.1" fill="#ffcccc"/>
<rect x="655.5" y="2006.7" width="33.9" height="34.1" fill="#fff7f7"/>
<rect x="691.4" y="2006.7" width="33.9" height="34.1" fill="#fafaff"/>
<rect x="727.3" y="2006.7" width="33.9" height="34.1" fill="#ffcccc"/>
<rect x="763.2" y="2006.7" width="33.9" height="34.1" fill="#e6e6ff"/>
<rect x="799.1" y="2006.7" width="33.9" height="34.1" fill="#f7f7ff"/>
<rect x="835.0" y="2006.7" width="33.9" height="34.1" fill="#ffebeb"/>
<rect x="870.9" y="2006.7" width="33.9" height="34.1" fill="#fff5f5"/>
<rect x="547.8" y="2042.8" width="33.9" height="34.1" fill="#fff0f0"/>
<rect x="583.7" y="2042.8" width="33.9" height="34.1" fill="#fff5f5"/>
<rect x="619.6" y="2042.8" width="33.9" height="34.1" fill="#ffffff"/>
<rect x="655.5" y="2042.8" width="33.9" height="34.1" fill="#e0e0ff"/>
<rect x="691.4" y="2042.8" width="33.9" height="34.1" fill="#ffbfbf"/>
<rect x="727.3" y="2042.8" width="33.9" height="34.1" fill="#fff0f0"/>
<rect x="763.2" y="2042.8" width="33.9" height="34.1" fill="#ebebff"/>
<rect x="799.1" y="2042.8" width="33.9" height="34.1" fill="#f0f0ff"/>
<rect x="835.0" y="2042.8" width="33.9" height="34.1" fill="#ebebff"/>
<rect x="870.9" y="2042.8" width="33.9" height="34.1" fill="#fff5f5"/>
<rect x="547.8" y="2078.8" width="33.9" height="34.1" fill="#e6e6ff"/>
<rect x="583.7" y="2078.8" width="33.9" height="34.1" fill="#ffd9d9"/>
<rect x="619.6" y="2078.8" width="33.9" height="34.1" fill="#fafaff"/>
<rect x="655.5" y="2078.8" width="33.9" height="34.1" fill="#e0e0ff"/>
<rect x="691.4" y="2078.8" width="33.9" height="34.1" fill="#f0f0ff"/>
<rect x="727.3" y="2078.8" width="33.9" height="34.1" fill="#ffe0e0"/>
<rect x="763.2" y="2078.8" width="33.9" height="34.1" fill="#e6e6ff"/>
<rect x="799.1" y="2078.8" width="33.9" height="34.1" fill="#bfbfff"/>
<rect x="835.0" y="2078.8" width="33.9" height="34.1" fill="#fafaff"/>
<rect x="870.9" y="2078.8" width="33.9" height="34.1" fill="#fff2f2"/>
<rect x="547.8" y="2114.9" width="33.9" height="34.1" fill="#ffd9d9"/>
<rect x="583.7" y="2114.9" width="33.9" height="34.1" fill="#f0f0ff"/>
<rect x="619.6" y="2114.9" width="33.9" height="34.1" fill="#fff2f2"/>
<rect x="655.5" y="2114.9" width="33.9" height="34.1" fill="#ffa6a6"/>
<rect x="691.4" y="2114.9" width="33.9" height="34.1" fill="#fff0f0"/>
<rect x="727.3" y="2114.9" width="33.9" height="34.1" fill="#e0e0ff"/>
<rect x="763.2" y="2114.9" width="33.9" height="34.1" fill="#ffb2b2"/>
<rect x="799.1" y="2114.9" width="33.9" height="34.1" fill="#ffa6a6"/>
<rect x="835.0" y="2114.9" width="33.9" height="34.1" fill="#ffb2b2"/>
<rect x="870.9" y="2114.9" width="33.9" height="34.1" fill="#ffebeb"/>
<rect x="547.8" y="2151.0" width="33.9" height="34.1" fill="#b2b2ff"/>
<rect x="583.7" y="2151.0" width="33.9" height="34.1" fill="#fafaff"/>
<rect x="619.6" y="2151.0" width="33.9" height="34.1" fill="#ffffff"/>
<rect x="655.5" y="2151.0" width="33.9" height="34.1" fill="#e0e0ff"/>
<rect x="691.4" y="2151.0" width="33.9" height="34.1" fill="#d9d9ff"/>
<rect x="727.3" y="2151.0" width="33.9" height="34.1" fill="#ffebeb"/>
<rect x="763.2" y="2151.0" width="33.9" height="34.1" fill="#f7f7ff"/>
<rect x="799.1" y="2151.0" width="33.9" height="34.1" fill="#fffafa"/>
<rect x="835.0" y="2151.0" width="33.9" height="34.1" fill="#e6e6ff"/>
<rect x="870.9" y="2151.0" width="33.9" height="34.1" fill="#e6e6ff"/>
<rect x="547.8" y="2187.1" width="33.9" height="34.1" fill="#e6e6ff"/>
<rect x="583.7" y="2187.1" width="33.9" height="34.1" fill="#ffd9d9"/>
<rect x="619.6" y="2187.1" width="33.9" height="34.1" fill="#fffafa"/>
<rect x="655.5" y="2187.1" width="33.9" height="34.1" fill="#bfbfff"/>
<rect x="691.4" y="2187.1" width="33.9" height="34.1" fill="#e6e6ff"/>
<rect x="727.3" y="2187.1" width="33.9" height="34.1" fill="#ffebeb"/>
<rect x="763.2" y="2187.1" width="33.9" height="34.1" fill="#ccccff"/>
<rect x="799.1" y="2187.1" width="33.9" height="34.1" fill="#b2b2ff"/>
<rect x="835.0" y="2187.1" width="33.9" height="34.1" fill="#f0f0ff"/>
<rect x="870.9" y="2187.1" width="33.9" height="34.1" fill="#ffffff"/>
<rect x="547.8" y="2223.1" width="33.9" height="34.1" fill="#fff0f0"/>
<rect x="583.7" y="2223.1" width="33.9" height="34.1" fill="#fff7f7"/>
<rect x="619.6" y="2223.1" width="33.9" height="34.1" fill="#ffffff"/>
<rect x="655.5" y="2223.1" width="33.9" height="34.1" fill="#ffa6a6"/>
<rect x="691.4" y="2223.1" width="33.9" height="34.1" fill="#ebebff"/>
<rect x="727.3" y="2223.1" width="33.9" height="34.1" fill="#ffffff"/>
<rect x="763.2" y="2223.1" width="33.9" height="34.1" fill="#ffa6a6"/>
<rect x="799.1" y="2223.1" width="33.9" height="34.1" fill="#ffb2b2"/>
<rect x="835.0" y="2223.1" width="33.9" height="34.1" fill="#fffafa"/>
<rect x="870.9" y="2223.1" width="33.9" height="34.1" fill="#fffcfc"/>
<rect x="547.8" y="2259.2" width="33.9" height="34.1" fill="#ffd9d9"/>
<rect x="583.7" y="2259.2" width="33.9" height="34.1" fill="#fff7f7"/>
<rect x="619.6" y="2259.2" width="33.9" height="34.1" fill="#ffe0e0"/>
<rect x="655.5" y="2259.2" width="33.9" height="34.1" fill="#ffffff"/>
<rect x="691.4" y="2259.2" width="33.9" height="34.1" fill="#fffafa"/>
<rect x="727.3" y="2259.2" width="33.9" height="34.1" fill="#fffcfc"/>
<rect x="763.2" y="2259.2" width="33.9" height="34.1" fill="#fff0f0"/>
<rect x="799.1" y="2259.2" width="33.9" height="34.1" fill="#ffe0e0"/>
<rect x="835.0" y="2259.2" width="33.9" height="34.1" fill="#ffffff"/>
<rect x="870.9" y="2259.2" width="33.9" height="34.1" fill="#f7f7ff"/>
<rect x="547.8" y="2295.3" width="33.9" height="34.1" fill="#e6e6ff"/>
<rect x="583.7" y="2295.3" width="33.9" height="34.1" fill="#ffcccc"/>
<rect x="619.6" y="2295.3" width="33.9" height="34.1" fill="#ffcccc"/>
<rect x="655.5" y="2295.3" width="33.9" height="34.1" fill="#fff0f0"/>
<rect x="691.4" y="2295.3" width="33.9" height="34.1" fill="#ffffff"/>
<rect x="727.3" y="2295.3" width="33.9" height="34.1" fill="#ffa6a6"/>
<rect x="763.2" y="2295.3" width="33.9" height="34.1" fill="#fffafa"/>
<rect x="799.1" y="2295.3" width="33.9" height="34.1" fill="#fffcfc"/>
<rect x="835.0" y="2295.3" width="33.9" height="34.1" fill="#fff7f7"/>
<rect x="870.9" y="2295.3" width="33.9" height="34.1" fill="#ffe0e0"/>
<rect x="547.8" y="2331.3" width="33.9" height="34.1" fill="#f7f7ff"/>
<rect x="583.7" y="2331.3" width="33.9" height="34.1" fill="#fafaff"/>
<rect x="619.6" y="2331.3" width="33.9" height="34.1" fill="#e6e6ff"/>
<rect x="655.5" y="2331.3" width="33.9" height="34.1" fill="#e0e0ff"/>
<rect x="691.4" y="2331.3" width="33.9" height="34.1" fill="#e0e0ff"/>
<rect x="727.3" y="2331.3" width="33.9" height="34.1" fill="#fffcfc"/>
<rect x="763.2" y="2331.3" width="33.9" height="34.1" fill="#f2f2ff"/>
<rect x="799.1" y="2331.3" width="33.9" height="34.1" fill="#ccccff"/>
<rect x="835.0" y="2331.3" width="33.9" height="34.1" fill="#ffffff"/>
<rect x="870.9" y="2331.3" width="33.9" height="34.1" fill="#fafaff"/>
<rect x="547.8" y="2367.4" width="33.9" height="34.1" fill="#fff0f0"/>
<rect x="583.7" y="2367.4" width="33.9" height="34.1" fill="#fff0f0"/>
<rect x="619.6" y="2367.4" width="33.9" height="34.1" fill="#ffebeb"/>
<rect x="655.5" y="2367.4" width="33.9" height="34.1" fill="#ffe0e0"/>
<rect x="691.4" y="2367.4" width="33.9" height="34.1" fill="#fffcfc"/>
<rect x="727.3" y="2367.4" width="33.9" height="34.1" fill="#ffebeb"/>
<rect x="763.2" y="2367.4" width="33.9" height="34.1" fill="#fff0f0"/>
<rect x="799.1" y="2367.4" width="33.9" height="34.1" fill="#fffafa"/>
<rect x="835.0" y="2367.4" width="33.9" height="34.1" fill="#ffe0e0"/>
<rect x="870.9" y="2367.4" width="33.9" height="34.1" fill="#fff0f0"/>
<rect x="547.8" y="2403.5" width="33.9" height="34.1" fill="#f5f5ff"/>
<rect x="583.7" y="2403.5" width="33.9" height="34.1" fill="#fff0f0"/>
<rect x="619.6" y="2403.5" width="33.9" height="34.1" fill="#ffebeb"/>
<rect x="655.5" y="2403.5" width="33.9" height="34.1" fill="#fffafa"/>
<rect x="691.4" y="2403.5" width="33.9" height="34.1" fill="#f2f2ff"/>
<rect x="727.3" y="2403.5" width="33.9" height="34.1" fill="#ebebff"/>
<rect x="763.2" y="2403.5" width="33.9" height="34.1" fill="#fff5f5"/>
<rect x="799.1" y="2403.5" width="33.9" height="34.1" fill="#ffe6e6"/>
<rect x="835.0" y="2403.5" width="33.9" height="34.1" fill="#fff0f0"/>
<rect x="870.9" y="2403.5" width="33.9" height="34.1" fill="#fffafa"/>
<text x="600.6" y="1682.5" font-size="37.5" text-anchor="middle">**</text>
<text x="672.5" y="1682.5" font-size="37.5" text-anchor="middle">*</text>
<text x="708.4" y="1682.5" font-size="37.5" text-anchor="middle">***</text>
<text x="744.2" y="1682.5" font-size="37.5" text-anchor="middle">***</text>
<text x="816.0" y="1682.5" font-size="37.5" text-anchor="middle">*</text>
<text x="780.1" y="1718.6" font-size="37.5" text-anchor="middle">**</text>
<text x="816.0" y="1718.6" font-size="37.5" text-anchor="middle">*</text>
<text x="780.1" y="1754.7" font-size="37.5" text-anchor="middle">**</text>
<text x="600.6" y="1790.7" font-size="37.5" text-anchor="middle">**</text>
<text x="672.5" y="1790.7" font-size="37.5" text-anchor="middle">*</text>
<text x="708.4" y="1790.7" font-size="37.5" text-anchor="middle">***</text>
<text x="780.1" y="1790.7" font-size="37.5" text-anchor="middle">*</text>
<text x="744.2" y="1826.8" font-size="37.5" text-anchor="middle">***</text>
<text x="852.0" y="1826.8" font-size="37.5" text-anchor="middle">*</text>
<text x="887.8" y="1826.8" font-size="37.5" text-anchor="middle">***</text>
<text x="708.4" y="1862.9" font-size="37.5" text-anchor="middle">*</text>
<text x="744.2" y="1862.9" font-size="37.5" text-anchor="middle">**</text>
<text x="816.0" y="1862.9" font-size="37.5" text-anchor="middle">***</text>
<text x="852.0" y="1862.9" font-size="37.5" text-anchor="middle">**</text>
<text x="887.8" y="1862.9" font-size="37.5" text-anchor="middle">*</text>
<text x="564.8" y="1899.0" font-size="37.5" text-anchor="middle">*</text>
<text x="672.5" y="1899.0" font-size="37.5" text-anchor="middle">*</text>
<text x="816.0" y="1899.0" font-size="37.5" text-anchor="middle">**</text>
<text x="672.5" y="1935.0" font-size="37.5" text-anchor="middle">**</text>
<text x="708.4" y="1935.0" font-size="37.5" text-anchor="middle">*</text>
<text x="816.0" y="1935.0" font-size="37.5" text-anchor="middle">***</text>
<text x="564.8" y="1971.1" font-size="37.5" text-anchor="middle">*</text>
<text x="600.6" y="1971.1" font-size="37.5" text-anchor="middle">**</text>
<text x="672.5" y="1971.1" font-size="37.5" text-anchor="middle">***</text>
<text x="708.4" y="1971.1" font-size="37.5" text-anchor="middle">***</text>
<text x="816.0" y="1971.1" font-size="37.5" text-anchor="middle">***</text>
<text x="852.0" y="1971.1" font-size="37.5" text-anchor="middle">***</text>
<text x="636.5" y="2007.2" font-size="37.5" text-anchor="middle">*</text>
<text x="672.5" y="2007.2" font-size="37.5" text-anchor="middle">***</text>
<text x="780.1" y="2007.2" font-size="37.5" text-anchor="middle">***</text>
<text x="816.0" y="2007.2" font-size="37.5" text-anchor="middle">***</text>
<text x="636.5" y="2043.2" font-size="37.5" text-anchor="middle">**</text>
<text x="744.2" y="2043.2" font-size="37.5" text-anchor="middle">**</text>
<text x="708.4" y="2079.3" font-size="37.5" text-anchor="middle">***</text>
<text x="600.6" y="2115.4" font-size="37.5" text-anchor="middle">*</text>
<text x="672.5" y="2115.4" font-size="37.5" text-anchor="middle">*</text>
<text x="744.2" y="2115.4" font-size="37.5" text-anchor="middle">*</text>
<text x="780.1" y="2115.4" font-size="37.5" text-anchor="middle">*</text>
<text x="816.0" y="2115.4" font-size="37.5" text-anchor="middle">***</text>
<text x="564.8" y="2151.4" font-size="37.5" text-anchor="middle">*</text>
<text x="672.5" y="2151.4" font-size="37.5" text-anchor="middle">***</text>
<text x="744.2" y="2151.4" font-size="37.5" text-anchor="middle">*</text>
<text x="780.1" y="2151.4" font-size="37.5" text-anchor="middle">***</text>
<text x="816.0" y="2151.4" font-size="37.5" text-anchor="middle">***</text>
<text x="852.0" y="2151.4" font-size="37.5" text-anchor="middle">***</text>
<text x="564.8" y="2187.5" font-size="37.5" text-anchor="middle">***</text>
<text x="672.5" y="2187.5" font-size="37.5" text-anchor="middle">*</text>
<text x="708.4" y="2187.5" font-size="37.5" text-anchor="middle">**</text>
<text x="852.0" y="2187.5" font-size="37.5" text-anchor="middle">*</text>
<text x="600.6" y="2223.6" font-size="37.5" text-anchor="middle">*</text>
<text x="672.5" y="2223.6" font-size="37.5" text-anchor="middle">***</text>
<text x="708.4" y="2223.6" font-size="37.5" text-anchor="middle">*</text>
<text x="780.1" y="2223.6" font-size="37.5" text-anchor="middle">***</text>
<text x="816.0" y="2223.6" font-size="37.5" text-anchor="middle">***</text>
<text x="672.5" y="2259.7" font-size="37.5" text-anchor="middle">***</text>
<text x="780.1" y="2259.7" font-size="37.5" text-anchor="middle">***</text>
<text x="816.0" y="2259.7" font-size="37.5" text-anchor="middle">***</text>
<text x="564.8" y="2295.7" font-size="37.5" text-anchor="middle">*</text>
<text x="600.6" y="2331.8" font-size="37.5" text-anchor="middle">***</text>
<text x="636.5" y="2331.8" font-size="37.5" text-anchor="middle">**</text>
<text x="744.2" y="2331.8" font-size="37.5" text-anchor="middle">***</text>
<text x="636.5" y="2367.9" font-size="37.5" text-anchor="middle">*</text>
<text x="672.5" y="2367.9" font-size="37.5" text-anchor="middle">*</text>
<text x="816.0" y="2367.9" font-size="37.5" text-anchor="middle">*</text>
<text x="521.0" y="1669.3" font-size="37" text-anchor="end">B cells naive</text>
<text x="521.0" y="1705.6" font-size="37" text-anchor="end">B cells memory</text>
<text x="521.0" y="1741.9" font-size="37" text-anchor="end">Plasma cells</text>
<text x="521.0" y="1778.2" font-size="37" text-anchor="end">T cells CD8</text>
<text x="521.0" y="1814.5" font-size="37" text-anchor="end">T cells CD4 naive</text>
<text x="521.0" y="1850.8" font-size="37" text-anchor="end">T cells CD4 memory resting</text>
<text x="521.0" y="1887.0" font-size="37" text-anchor="end">T cells CD4 memory activated</text>
<text x="521.0" y="1923.3" font-size="37" text-anchor="end">T cells follicular helper</text>
<text x="521.0" y="1959.6" font-size="37" text-anchor="end">T cells regulatory (Tregs)</text>
<text x="521.0" y="1995.9" font-size="37" text-anchor="end">T cells gamma delta</text>
<text x="521.0" y="2032.2" font-size="37" text-anchor="end">NK cells resting</text>
<text x="521.0" y="2068.5" font-size="37" text-anchor="end">NK cells activated</text>
<text x="521.0" y="2104.8" font-size="37" text-anchor="end">Monocytes</text>
<text x="521.0" y="2141.1" font-size="37" text-anchor="end">Macrophages M0</text>
<text x="521.0" y="2177.4" font-size="37" text-anchor="end">Macrophages M1</text>
<text x="521.0" y="2213.7" font-size="37" text-anchor="end">Macrophages M2</text>
<text x="521.0" y="2249.9" font-size="37" text-anchor="end">Dendritic cells resting</text>
<text x="521.0" y="2286.2" font-size="37" text-anchor="end">Dendritic cells activated</text>
<text x="521.0" y="2322.5" font-size="37" text-anchor="end">Mast cells resting</text>
<text x="521.0" y="2358.8" font-size="37" text-anchor="end">Mast cells activated</text>
<text x="521.0" y="2395.1" font-size="37" text-anchor="end">Eosinophils</text>
<text x="521.0" y="2431.4" font-size="37" text-anchor="end">Neutrophils</text>
<text x="569.8" y="1632.0" font-size="37.5" transform="rotate(-55 569.8 1632.0)">GYS1</text>
<text x="605.6" y="1632.0" font-size="37.5" transform="rotate(-55 605.6 1632.0)">NDUFS1</text>
<text x="641.5" y="1632.0" font-size="37.5" transform="rotate(-55 641.5 1632.0)">OXSM</text>
<text x="677.5" y="1632.0" font-size="37.5" transform="rotate(-55 677.5 1632.0)">LRPPRC</text>
<text x="713.4" y="1632.0" font-size="37.5" transform="rotate(-55 713.4 1632.0)">NDUFA11</text>
<text x="749.2" y="1632.0" font-size="37.5" transform="rotate(-55 749.2 1632.0)">NUBPL</text>
<text x="785.1" y="1632.0" font-size="37.5" transform="rotate(-55 785.1 1632.0)">NCKAP1</text>
<text x="821.0" y="1632.0" font-size="37.5" transform="rotate(-55 821.0 1632.0)">RPN1</text>
<text x="857.0" y="1632.0" font-size="37.5" transform="rotate(-55 857.0 1632.0)">SLC3A2</text>
<text x="892.8" y="1632.0" font-size="37.5" transform="rotate(-55 892.8 1632.0)">SLC7A11</text>
<rect x="544" y="2455" width="364" height="20" fill="url(#gA)" stroke="#222" stroke-width="1.5"/>
<line x1="544.0" y1="2475" x2="544.0" y2="2480" stroke="#222" stroke-width="1.5"/>
<text x="544.0" y="2521.0" font-size="33" text-anchor="middle">−1</text>
<line x1="634.5" y1="2475" x2="634.5" y2="2480" stroke="#222" stroke-width="1.5"/>
<text x="634.5" y="2521.0" font-size="33" text-anchor="middle">−0.5</text>
<line x1="725.0" y1="2475" x2="725.0" y2="2480" stroke="#222" stroke-width="1.5"/>
<text x="725.0" y="2521.0" font-size="33" text-anchor="middle">0</text>
<line x1="815.5" y1="2475" x2="815.5" y2="2480" stroke="#222" stroke-width="1.5"/>
<text x="815.5" y="2521.0" font-size="33" text-anchor="middle">0.5</text>
<line x1="906.0" y1="2475" x2="906.0" y2="2480" stroke="#222" stroke-width="1.5"/>
<text x="906.0" y="2521.0" font-size="33" text-anchor="middle">1</text>
<text x="56.5" y="154.5" font-size="104" font-weight="bold" font-family="'Liberation Serif', 'Times New Roman', serif">A</text>
<text x="1061.0" y="153.0" font-size="104" font-weight="bold" font-family="'Liberation Serif', 'Times New Roman', serif">B</text>
<text x="61.0" y="1229.0" font-size="106" font-weight="bold" font-family="'Liberation Serif', 'Times New Roman', serif">C</text>
<text x="53.5" y="1622.5" font-size="106" font-weight="bold" font-family="'Liberation Serif', 'Times New Roman', serif">D</text>
<text x="1043.0" y="1238.0" font-size="100" font-weight="bold" font-family="'Liberation Serif', 'Times New Roman', serif">E</text>
<text x="1029.5" y="2034.5" font-size="106" font-weight="bold" font-family="'Liberation Serif', 'Times New Roman', serif">F</text>
<text x="1817.0" y="331.4" font-size="15.6" fill="#222">COMPLEMENT_AND_COAGULATION_CASCADES</text>
<text x="1817.0" y="361.8" font-size="15.6" fill="#222">LINOLEIC_ACID_METABOLISM</text>
<text x="1817.0" y="392.3" font-size="15.6" fill="#222">ALANINE_ASPARTATE_AND_GLUTAMATE_METABOLISM</text>
<text x="1817.0" y="422.7" font-size="15.6" fill="#222">GLYCINE_SERINE_AND_THREONINE_METABOLISM</text>
<text x="1817.0" y="453.1" font-size="15.6" fill="#222">HISTIDINE_METABOLISM</text>
<text x="1817.0" y="483.6" font-size="15.6" fill="#222">DRUG_METABOLISM_OTHER_ENZYMES</text>
<text x="1817.0" y="514.0" font-size="15.6" fill="#222">RETINOL_METABOLISM</text>
<text x="1817.0" y="544.4" font-size="15.6" fill="#222">STEROID_HORMONE_BIOSYNTHESIS</text>
<text x="1817.0" y="574.8" font-size="15.6" fill="#222">DRUG_METABOLISM_CYTOCHROME_P450</text>
<text x="1817.0" y="605.3" font-size="15.6" fill="#222">METABOLISM_OF_XENOBIOTICS_BY_CYTOCHROME_P450</text>
<text x="1817.0" y="635.7" font-size="15.6" fill="#222">BETA_ALANINE_METABOLISM</text>
<text x="1817.0" y="666.1" font-size="15.6" fill="#222">BUTANOATE_METABOLISM</text>
<text x="1817.0" y="696.6" font-size="15.6" fill="#222">PEROXISOME</text>
<text x="1817.0" y="727.0" font-size="15.6" fill="#222">PRIMARY_BILE_ACID_BIOSYNTHESIS</text>
<text x="1817.0" y="757.4" font-size="15.6" fill="#222">FATTY_ACID_METABOLISM</text>
<text x="1817.0" y="787.9" font-size="15.6" fill="#222">PPAR_SIGNALING_PATHWAY</text>
<text x="1817.0" y="818.3" font-size="15.6" fill="#222">VASOPRESSIN_REGULATED_WATER_REABSORPTION</text>
<text x="1817.0" y="848.7" font-size="15.6" fill="#222">GAP_JUNCTION</text>
<text x="1817.0" y="879.1" font-size="15.6" fill="#222">PATHWAYS_IN_CANCER</text>
<text x="1817.0" y="909.6" font-size="15.6" fill="#222">REGULATION_OF_ACTIN_CYTOSKELETON</text>
<text x="1817.0" y="940.0" font-size="15.6" fill="#222">CHRONIC_MYELOID_LEUKEMIA</text>
<text x="1817.0" y="970.4" font-size="15.6" fill="#222">SMALL_CELL_LUNG_CANCER</text>
<text x="1817.0" y="1000.9" font-size="15.6" fill="#222">UBIQUITIN_MEDIATED_PROTEOLYSIS</text>
<text x="1817.0" y="1031.3" font-size="15.6" fill="#222">DNA_REPLICATION</text>
<text x="1818.0" y="134.8" font-size="15.6" font-weight="bold">SLC7A11</text>
<text x="1818.0" y="153.5" font-size="15.6" font-weight="bold">SLC3A2</text>
<text x="1818.0" y="172.2" font-size="15.6" font-weight="bold">RPN1</text>
<text x="1818.0" y="190.9" font-size="15.6" font-weight="bold">NCKAP1</text>
<text x="1818.0" y="209.6" font-size="15.6" font-weight="bold">NUBPL</text>
<text x="1818.0" y="228.3" font-size="15.6" font-weight="bold">NDUFA11</text>
<text x="1818.0" y="247.0" font-size="15.6" font-weight="bold">LRPPRC</text>
<text x="1818.0" y="265.7" font-size="15.6" font-weight="bold">OXSM</text>
<text x="1818.0" y="284.4" font-size="15.6" font-weight="bold">NDUFS1</text>
<text x="1818.0" y="303.1" font-size="15.6" font-weight="bold">GYS1</text>
<rect x="1191" y="110" width="622" height="9" fill="#2c2c2c" opacity="0.88"/>
<path d="M1193.4 118.8V117.1H1194.8V118.8M1191.8 118.8V115.7H1194.1V117.1M1197.4 118.8V117.1H1198.7V118.8M1195.8 118.8V116.1H1198.0V117.1M1192.9 115.7V84.0H1196.9V116.1M1201.9 118.8V117.4H1203.4V118.8M1200.0 118.8V116.3H1202.6V117.4M1206.8 118.8V117.4H1208.4V118.8M1204.9 118.8V116.2H1207.6V117.4M1201.3 116.3V113.1H1206.2V116.2M1209.3 118.8V117.4H1210.7V118.8M1212.1 118.8V117.3H1213.5V118.8M1212.8 117.3V115.8H1215.4V118.8M1210.0 117.4V113.8H1214.1V115.8M1218.8 118.8V117.2H1220.6V118.8M1217.2 118.8V114.6H1219.7V117.2M1222.4 118.8V117.3H1224.1V118.8M1218.4 114.6V114.0H1223.3V117.3M1225.5 118.8V117.4H1226.8V118.8M1230.1 118.8V117.3H1231.2V118.8M1228.7 118.8V115.8H1230.7V117.3M1226.1 117.4V114.8H1229.7V115.8M1220.8 114.0V110.2H1227.9V114.8M1212.1 113.8V109.0H1224.4V110.2M1203.8 113.1V106.5H1218.2V109.0M1232.5 118.8V117.3H1233.6V118.8M1234.6 118.8V117.2H1235.8V118.8M1233.1 117.3V116.4H1235.2V117.2M1239.6 118.8V117.3H1241.4V118.8M1237.6 118.8V115.1H1240.5V117.3M1239.1 115.1V114.5H1243.3V118.8M1234.1 116.4V112.3H1241.2V114.5M1246.9 118.8V117.4H1248.0V118.8M1247.4 117.4V116.8H1249.1V118.8M1245.4 118.8V114.8H1248.3V116.8M1237.7 112.3V110.7H1246.8V114.8M1250.1 118.8V117.2H1251.3V118.8M1252.8 118.8V117.4H1254.2V118.8M1255.2 118.8V117.4H1256.5V118.8M1253.5 117.4V114.7H1255.8V117.4M1250.7 117.2V114.1H1254.7V114.7M1257.9 118.8V117.3H1259.1V118.8M1261.7 118.8V117.1H1262.9V118.8M1262.3 117.1V115.8H1264.3V118.8M1260.4 118.8V115.1H1263.3V115.8M1258.5 117.3V114.4H1261.8V115.1M1252.7 114.1V110.6H1260.2V114.4M1242.2 110.7V106.5H1256.4V110.6M1211.0 106.5V105.9H1249.3V106.5M1265.9 118.8V117.4H1267.5V118.8M1268.9 118.8V117.4H1270.4V118.8M1269.6 117.4V116.3H1272.1V118.8M1273.4 118.8V117.0H1274.8V118.8M1270.9 116.3V114.3H1274.1V117.0M1266.7 117.4V112.0H1272.5V114.3M1278.4 118.8V117.1H1280.2V118.8M1276.7 118.8V116.0H1279.3V117.1M1269.6 112.0V111.0H1278.0V116.0M1283.9 118.8V117.3H1285.5V118.8M1282.1 118.8V115.1H1284.7V117.3M1287.3 118.8V117.2H1288.8V118.8M1288.1 117.2V115.6H1290.5V118.8M1283.4 115.1V112.4H1289.3V115.6M1273.8 111.0V109.4H1286.3V112.4M1292.6 118.8V115.8H1294.8V118.8M1296.7 118.8V117.4H1298.4V118.8M1293.7 115.8V114.6H1297.5V117.4M1300.2 118.8V117.4H1302.0V118.8M1301.1 117.4V114.7H1303.7V118.8M1302.4 114.7V113.6H1305.7V118.8M1295.6 114.6V112.2H1304.1V113.6M1307.2 118.8V117.3H1308.6V118.8M1312.8 118.8V115.8H1314.8V118.8M1310.7 118.8V115.2H1313.8V115.8M1312.2 115.2V114.2H1316.9V118.8M1307.9 117.3V111.7H1314.6V114.2M1299.8 112.2V109.3H1311.2V111.7M1280.1 109.4V106.4H1305.5V109.3M1230.2 105.9V82.5H1292.8V106.4M1319.0 118.8V116.1H1321.0V118.8M1324.7 118.8V117.1H1326.0V118.8M1322.8 118.8V115.6H1325.4V117.1M1327.2 118.8V117.2H1329.0V118.8M1324.1 115.6V114.5H1328.1V117.2M1320.0 116.1V112.4H1326.1V114.5M1332.4 118.8V117.4H1334.1V118.8M1330.7 118.8V115.8H1333.2V117.4M1337.2 118.8V117.4H1338.6V118.8M1335.5 118.8V116.2H1337.9V117.4M1332.0 115.8V113.9H1336.7V116.2M1341.7 118.8V117.1H1343.0V118.8M1339.9 118.8V115.9H1342.3V117.1M1344.1 118.8V117.2H1345.3V118.8M1341.1 115.9V114.4H1344.7V117.2M1346.4 118.8V117.0H1347.6V118.8M1347.0 117.0V116.3H1349.3V118.8M1342.9 114.4V112.7H1348.1V116.3M1334.3 113.9V109.7H1345.5V112.7M1323.1 112.4V108.5H1339.9V109.7M1350.7 118.8V117.3H1352.2V118.8M1353.7 118.8V117.3H1355.0V118.8M1351.5 117.3V115.4H1354.4V117.3M1356.9 118.8V117.1H1358.4V118.8M1359.9 118.8V117.0H1361.3V118.8M1357.6 117.1V115.0H1360.6V117.0M1352.9 115.4V112.7H1359.1V115.0M1362.6 118.8V117.3H1364.0V118.8M1365.1 118.8V117.2H1366.3V118.8M1363.3 117.3V115.7H1365.7V117.2M1367.5 118.8V117.3H1369.2V118.8M1364.5 115.7V112.9H1368.4V117.3M1356.0 112.7V110.1H1366.4V112.9M1372.4 118.8V117.0H1373.6V118.8M1373.0 117.0V116.4H1374.7V118.8M1371.0 118.8V115.8H1373.9V116.4M1376.2 118.8V117.4H1378.0V118.8M1372.5 115.8V113.5H1377.1V117.4M1381.7 118.8V117.3H1383.1V118.8M1380.6 118.8V116.1H1382.4V117.3M1379.3 118.8V115.0H1381.5V116.1M1384.5 118.8V117.5H1386.2V118.8M1387.5 118.8V117.3H1388.9V118.8M1385.4 117.5V114.5H1388.2V117.3M1380.4 115.0V113.3H1386.8V114.5M1374.8 113.5V111.5H1383.6V113.3M1361.2 110.1V108.6H1379.2V111.5M1390.4 118.8V117.2H1391.6V118.8M1391.0 117.2V116.6H1392.7V118.8M1391.8 116.6V115.7H1393.8V118.8M1392.8 115.7V114.8H1395.4V118.8M1399.6 118.8V117.1H1400.8V118.8M1398.2 118.8V116.5H1400.2V117.1M1396.9 118.8V115.9H1399.2V116.5M1401.7 118.8V117.4H1403.0V118.8M1398.1 115.9V113.8H1402.4V117.4M1405.0 118.8V117.2H1406.2V118.8M1404.2 118.8V116.6H1405.6V117.2M1400.2 113.8V112.9H1404.9V116.6M1394.1 114.8V110.2H1402.5V112.9M1370.2 108.6V106.0H1398.3V110.2M1409.0 118.8V117.3H1410.1V118.8M1409.6 117.3V116.7H1411.2V118.8M1407.7 118.8V115.9H1410.4V116.7M1412.3 118.8V117.0H1413.5V118.8M1414.9 118.8V117.1H1416.1V118.8M1412.9 117.0V115.6H1415.5V117.1M1417.4 118.8V117.2H1418.7V118.8M1418.0 117.2V116.3H1419.9V118.8M1414.2 115.6V112.8H1419.0V116.3M1409.0 115.9V110.8H1416.6V112.8M1424.8 118.8V117.1H1426.0V118.8M1423.3 118.8V116.0H1425.4V117.1M1421.6 118.8V115.2H1424.3V116.0M1427.0 118.8V117.3H1428.2V118.8M1429.6 118.8V117.2H1430.8V118.8M1430.2 117.2V115.9H1432.2V118.8M1427.6 117.3V115.3H1431.2V115.9M1423.0 115.2V113.1H1429.4V115.3M1412.8 110.8V110.1H1426.2V113.1M1384.3 106.0V105.1H1419.5V110.1M1435.7 118.8V117.4H1436.9V118.8M1434.0 118.8V116.2H1436.3V117.4M1438.2 118.8V117.4H1439.4V118.8M1435.1 116.2V113.8H1438.8V117.4M1440.6 118.8V117.2H1441.8V118.8M1436.9 113.8V113.2H1441.2V117.2M1442.7 118.8V117.2H1444.3V118.8M1445.8 118.8V117.4H1447.5V118.8M1451.1 118.8V117.3H1452.7V118.8M1449.4 118.8V115.7H1451.9V117.3M1446.7 117.4V114.7H1450.6V115.7M1443.5 117.2V113.5H1448.6V114.7M1454.0 118.8V117.2H1455.6V118.8M1457.3 118.8V117.2H1459.0V118.8M1454.8 117.2V115.3H1458.2V117.2M1446.1 113.5V111.4H1456.5V115.3M1439.1 113.2V108.2H1451.3V111.4M1462.9 118.8V115.8H1464.8V118.8M1460.9 118.8V114.6H1463.8V115.8M1466.7 118.8V117.1H1468.2V118.8M1462.4 114.6V113.7H1467.5V117.1M1469.7 118.8V116.2H1471.5V118.8M1470.6 116.2V115.5H1473.6V118.8M1464.9 113.7V112.1H1472.1V115.5M1476.9 118.8V117.4H1478.2V118.8M1475.4 118.8V115.8H1477.6V117.4M1480.9 118.8V117.2H1482.4V118.8M1479.4 118.8V115.9H1481.6V117.2M1486.4 118.8V117.2H1487.6V118.8M1485.2 118.8V116.0H1487.0V117.2M1483.7 118.8V114.6H1486.1V116.0M1480.5 115.9V113.7H1484.9V114.6M1476.5 115.8V112.8H1482.7V113.7M1468.5 112.1V109.0H1479.6V112.8M1491.0 118.8V117.3H1492.2V118.8M1491.6 117.3V116.4H1493.4V118.8M1489.4 118.8V115.0H1492.5V116.4M1496.0 118.8V117.3H1497.2V118.8M1494.8 118.8V115.7H1496.6V117.3M1500.7 118.8V117.0H1502.1V118.8M1498.8 118.8V115.8H1501.4V117.0M1495.7 115.7V113.6H1500.1V115.8M1490.9 115.0V110.5H1497.9V113.6M1474.0 109.0V108.4H1494.4V110.5M1504.9 118.8V117.1H1506.2V118.8M1505.5 117.1V116.5H1507.1V118.8M1503.2 118.8V115.9H1506.3V116.5M1504.8 115.9V113.8H1508.5V118.8M1510.4 118.8V117.0H1511.8V118.8M1515.2 118.8V117.3H1516.4V118.8M1515.8 117.3V116.7H1517.2V118.8M1513.4 118.8V115.4H1516.5V116.7M1511.1 117.0V113.6H1514.9V115.4M1506.7 113.8V111.4H1513.0V113.6M1519.1 118.8V117.4H1520.3V118.8M1518.0 118.8V116.8H1519.7V117.4M1522.0 118.8V117.4H1523.2V118.8M1521.1 118.8V116.8H1522.6V117.4M1518.8 116.8V114.6H1521.9V116.8M1509.8 111.4V109.3H1520.4V114.6M1484.2 108.4V104.3H1515.1V109.3M1445.2 108.2V103.7H1499.7V104.3M1401.9 105.1V98.0H1472.4V103.7M1524.4 118.8V117.1H1525.9V118.8M1525.1 117.1V115.7H1527.8V118.8M1529.8 118.8V117.4H1531.5V118.8M1526.5 115.7V113.6H1530.7V117.4M1532.7 118.8V117.1H1533.8V118.8M1533.2 117.1V116.5H1535.0V118.8M1534.1 116.5V115.4H1536.6V118.8M1528.6 113.6V111.5H1535.3V115.4M1538.0 118.8V117.2H1539.3V118.8M1538.7 117.2V116.0H1540.9V118.8M1542.4 118.8V117.1H1543.8V118.8M1544.8 118.8V117.2H1546.2V118.8M1545.5 117.2V115.8H1547.6V118.8M1543.1 117.1V115.1H1546.6V115.8M1550.0 118.8V117.3H1551.2V118.8M1548.9 118.8V116.2H1550.6V117.3M1544.8 115.1V112.7H1549.7V116.2M1539.8 116.0V111.7H1547.3V112.7M1532.0 111.5V109.1H1543.5V111.7M1556.3 118.8V117.4H1557.5V118.8M1554.6 118.8V115.6H1556.9V117.4M1552.8 118.8V114.6H1555.7V115.6M1559.0 118.8V117.4H1560.8V118.8M1561.9 118.8V117.1H1563.3V118.8M1562.6 117.1V116.3H1564.9V118.8M1559.9 117.4V113.7H1563.7V116.3M1554.2 114.6V112.3H1561.8V113.7M1566.4 118.8V117.3H1567.9V118.8M1567.2 117.3V116.0H1569.0V118.8M1571.9 118.8V117.2H1573.3V118.8M1570.3 118.8V116.1H1572.6V117.2M1568.1 116.0V113.7H1571.5V116.1M1574.8 118.8V117.3H1576.5V118.8M1578.4 118.8V116.1H1580.3V118.8M1575.6 117.3V113.7H1579.3V116.1M1569.8 113.7V111.4H1577.5V113.7M1558.0 112.3V107.9H1573.6V111.4M1537.7 109.1V105.8H1565.8V107.9M1581.8 118.8V117.0H1582.9V118.8M1584.5 118.8V117.4H1586.1V118.8M1582.4 117.0V115.4H1585.3V117.4M1587.5 118.8V115.8H1589.4V118.8M1583.8 115.4V113.7H1588.5V115.8M1591.2 118.8V117.4H1592.9V118.8M1595.6 118.8V117.3H1596.8V118.8M1594.5 118.8V116.7H1596.2V117.3M1595.3 116.7V115.1H1598.3V118.8M1592.1 117.4V114.2H1596.8V115.1M1586.1 113.7V109.5H1594.4V114.2M1601.9 118.8V117.5H1603.4V118.8M1600.2 118.8V116.3H1602.6V117.5M1604.6 118.8V117.3H1605.9V118.8M1605.2 117.3V115.9H1607.9V118.8M1601.4 116.3V112.3H1606.6V115.9M1590.3 109.5V108.9H1604.0V112.3M1551.8 105.8V102.6H1597.1V108.9M1612.1 118.8V117.0H1613.7V118.8M1610.0 118.8V115.1H1612.9V117.0M1615.2 118.8V117.1H1616.6V118.8M1615.9 117.1V116.2H1617.8V118.8M1611.5 115.1V113.1H1616.8V116.2M1619.3 118.8V117.3H1620.5V118.8M1619.9 117.3V116.7H1621.4V118.8M1620.7 116.7V116.1H1622.5V118.8M1626.0 118.8V117.5H1627.1V118.8M1624.1 118.8V115.8H1626.5V117.5M1625.3 115.8V115.2H1628.3V118.8M1621.6 116.1V113.6H1626.8V115.2M1631.1 118.8V117.4H1632.7V118.8M1629.9 118.8V116.0H1631.9V117.4M1634.2 118.8V117.3H1635.3V118.8M1630.9 116.0V113.6H1634.8V117.3M1638.4 118.8V117.1H1639.9V118.8M1636.8 118.8V115.7H1639.2V117.1M1632.8 113.6V112.8H1638.0V115.7M1624.2 113.6V109.6H1635.4V112.8M1614.1 113.1V109.0H1629.8V109.6M1641.4 118.8V117.4H1642.7V118.8M1642.1 117.4V115.6H1644.4V118.8M1646.1 118.8V117.5H1647.9V118.8M1643.2 115.6V113.9H1647.0V117.5M1650.7 118.8V117.5H1651.9V118.8M1649.6 118.8V116.9H1651.3V117.5M1650.4 116.9V115.9H1653.2V118.8M1654.9 118.8V117.2H1656.4V118.8M1657.5 118.8V117.3H1658.9V118.8M1658.2 117.3V115.9H1660.7V118.8M1655.6 117.2V114.8H1659.5V115.9M1651.8 115.9V112.6H1657.5V114.8M1645.1 113.9V109.3H1654.7V112.6M1662.4 118.8V117.3H1664.0V118.8M1667.4 118.8V117.2H1668.9V118.8M1665.8 118.8V115.8H1668.1V117.2M1671.5 118.8V117.2H1672.8V118.8M1672.1 117.2V116.6H1673.9V118.8M1670.1 118.8V116.0H1673.0V116.6M1666.9 115.8V113.6H1671.6V116.0M1663.2 117.3V111.0H1669.3V113.6M1649.9 109.3V108.0H1666.2V111.0M1675.0 118.8V117.3H1676.5V118.8M1678.9 118.8V117.2H1680.3V118.8M1677.9 118.8V115.8H1679.6V117.2M1675.7 117.3V113.5H1678.7V115.8M1683.3 118.8V117.3H1684.4V118.8M1683.8 117.3V115.6H1686.2V118.8M1682.1 118.8V114.4H1685.0V115.6M1689.9 118.8V117.4H1691.5V118.8M1690.7 117.4V115.9H1693.2V118.8M1688.3 118.8V113.6H1692.0V115.9M1683.5 114.4V112.2H1690.1V113.6M1677.2 113.5V110.7H1686.8V112.2M1658.1 108.0V105.8H1682.0V110.7M1622.0 109.0V102.4H1670.1V105.8M1574.5 102.6V101.8H1646.0V102.4M1696.2 118.8V117.3H1697.5V118.8M1694.9 118.8V115.9H1696.8V117.3M1699.1 118.8V115.8H1701.0V118.8M1700.0 115.8V115.2H1702.8V118.8M1695.9 115.9V113.1H1701.4V115.2M1704.3 118.8V117.3H1705.6V118.8M1706.9 118.8V117.3H1708.2V118.8M1704.9 117.3V115.7H1707.5V117.3M1709.1 118.8V117.2H1710.3V118.8M1712.9 118.8V117.1H1714.1V118.8M1711.7 118.8V116.0H1713.5V117.1M1709.7 117.2V115.4H1712.6V116.0M1706.2 115.7V112.3H1711.1V115.4M1698.6 113.1V110.2H1708.7V112.3M1717.4 118.8V117.2H1718.8V118.8M1718.1 117.2V116.6H1719.8V118.8M1715.7 118.8V114.8H1719.0V116.6M1722.6 118.8V117.4H1723.8V118.8M1721.1 118.8V115.6H1723.2V117.4M1717.3 114.8V113.6H1722.2V115.6M1726.1 118.8V117.3H1727.3V118.8M1724.9 118.8V116.7H1726.7V117.3M1719.8 113.6V111.5H1725.8V116.7M1703.7 110.2V106.9H1722.8V111.5M1730.5 118.8V117.3H1731.8V118.8M1728.7 118.8V115.6H1731.2V117.3M1729.9 115.6V115.0H1733.1V118.8M1734.6 118.8V117.4H1736.0V118.8M1731.5 115.0V113.7H1735.3V117.4M1737.6 118.8V117.4H1739.2V118.8M1740.5 118.8V117.4H1741.7V118.8M1741.1 117.4V116.8H1742.7V118.8M1738.4 117.4V114.4H1741.9V116.8M1744.9 118.8V117.5H1746.2V118.8M1743.6 118.8V116.9H1745.5V117.5M1740.2 114.4V112.0H1744.6V116.9M1750.5 118.8V117.1H1751.8V118.8M1749.3 118.8V116.0H1751.2V117.1M1747.6 118.8V114.6H1750.2V116.0M1748.9 114.6V113.7H1753.8V118.8M1742.4 112.0V111.3H1751.3V113.7M1733.4 113.7V107.8H1746.9V111.3M1757.4 118.8V117.3H1759.1V118.8M1758.3 117.3V115.0H1761.0V118.8M1755.8 118.8V114.1H1759.6V115.0M1763.1 118.8V117.3H1764.8V118.8M1763.9 117.3V114.6H1766.5V118.8M1757.7 114.1V111.3H1765.2V114.6M1740.1 107.8V106.9H1761.4V111.3M1770.4 118.8V117.1H1772.0V118.8M1768.4 118.8V115.4H1771.2V117.1M1775.0 118.8V117.1H1776.1V118.8M1773.5 118.8V116.1H1775.5V117.1M1776.8 118.8V117.2H1778.0V118.8M1779.3 118.8V117.4H1780.6V118.8M1782.1 118.8V117.3H1783.4V118.8M1779.9 117.4V114.5H1782.8V117.3M1777.4 117.2V113.9H1781.3V114.5M1774.5 116.1V113.1H1779.4V113.9M1769.8 115.4V111.2H1776.9V113.1M1786.0 118.8V117.3H1787.3V118.8M1784.8 118.8V115.8H1786.6V117.3M1788.9 118.8V117.3H1790.6V118.8M1785.7 115.8V114.1H1789.8V117.3M1792.6 118.8V117.4H1794.4V118.8M1793.5 117.4V116.2H1795.8V118.8M1787.7 114.1V111.8H1794.6V116.2M1773.4 111.2V108.4H1791.2V111.8M1750.8 106.9V102.9H1782.3V108.4M1713.2 106.9V102.3H1766.5V102.9M1798.8 118.8V117.3H1800.4V118.8M1797.3 118.8V115.8H1799.6V117.3M1801.7 118.8V117.2H1803.2V118.8M1798.4 115.8V114.5H1802.4V117.2M1804.9 118.8V117.2H1806.7V118.8M1808.5 118.8V117.0H1810.1V118.8M1809.3 117.0V114.7H1812.0V118.8M1805.8 117.2V113.9H1810.7V114.7M1800.4 114.5V111.1H1808.2V113.9M1739.9 102.3V99.2H1804.3V111.1M1610.2 101.8V94.5H1772.1V99.2M1437.2 98.0V90.0H1691.2V94.5M1331.5 108.5V81.0H1564.2V90.0M1261.5 82.5V63.4H1447.8V81.0M1194.9 84.0V37.5H1354.7V63.4" fill="none" stroke="#222" stroke-width="1.1"/>
<path d="M1191.0 325.9H1162.0V356.3H1191.0M1191.0 417.2H1171.0V447.6H1191.0M1191.0 386.8H1165.7V432.4H1171.0M1191.0 478.1H1176.4V508.5H1191.0M1191.0 569.3H1181.8V599.8H1191.0M1191.0 538.9H1176.4V584.6H1181.8M1176.4 493.3H1171.0V561.7H1176.4M1191.0 630.2H1171.4V660.6H1191.0M1171.4 645.4H1169.0V691.1H1191.0M1191.0 751.9H1174.8V782.4H1191.0M1191.0 721.5H1172.0V767.1H1174.8M1169.0 668.2H1165.0V744.3H1172.0M1171.0 527.5H1163.0V706.3H1165.0M1165.7 409.6H1160.0V616.9H1163.0M1162.0 341.1H1158.6V513.2H1160.0M1191.0 873.6H1171.0V904.1H1191.0M1191.0 843.2H1164.0V888.9H1171.0M1191.0 934.5H1160.5V964.9H1191.0M1164.0 866.0H1156.2V949.7H1160.5M1191.0 812.8H1149.2V907.9H1156.2M1191.0 995.4H1144.5V1025.8H1191.0M1149.2 860.3H1120.6V1010.6H1144.5M1158.6 427.2H1109.0V935.4H1120.6" fill="none" stroke="#555" stroke-width="1.4"/>
<defs><linearGradient id="gB" x1="0" y1="1" x2="0" y2="0"><stop offset="0" stop-color="#0000ff"/><stop offset=".5" stop-color="#ffffff"/><stop offset="1" stop-color="#ff0000"/></linearGradient></defs>
<rect x="2272" y="119" width="15.5" height="236" fill="url(#gB)"/>
<text x="2293.0" y="124.5" font-size="15.5" fill="#333">1</text>
<text x="2293.0" y="183.5" font-size="15.5" fill="#333">0.5</text>
<text x="2293.0" y="242.5" font-size="15.5" fill="#333">0</text>
<text x="2293.0" y="301.5" font-size="15.5" fill="#333">−0.5</text>
<text x="2293.0" y="360.5" font-size="15.5" fill="#333">−1</text>
<text x="2331.5" y="131.0" font-size="15.6" font-weight="bold">SLC7A11</text>
<rect x="2331.5" y="136.0" width="22" height="22.4" fill="#dd1c77"/>
<rect x="2331.5" y="158.4" width="22" height="22.4" fill="#d4b9da"/>
<rect x="2331.5" y="180.8" width="22" height="22.4" fill="#df65b0"/>
<rect x="2331.5" y="203.2" width="22" height="22.4" fill="#f1eef6"/>
<text x="2358.0" y="152.5" font-size="15.6" fill="#333">20</text>
<text x="2358.0" y="219.7" font-size="15.6" fill="#333">0</text>
<text x="2331.5" y="255.0" font-size="15.6" font-weight="bold">SLC3A2</text>
<rect x="2331.5" y="260.0" width="22" height="22.4" fill="#1c9099"/>
<rect x="2331.5" y="282.4" width="22" height="22.4" fill="#d0d1e6"/>
<rect x="2331.5" y="304.8" width="22" height="22.4" fill="#67a9cf"/>
<rect x="2331.5" y="327.2" width="22" height="22.4" fill="#f6eff7"/>
<text x="2358.0" y="276.5" font-size="15.6" fill="#333">70</text>
<text x="2358.0" y="343.7" font-size="15.6" fill="#333">10</text>
<text x="2331.5" y="379.0" font-size="15.6" font-weight="bold">RPN1</text>
<rect x="2331.5" y="384.0" width="22" height="22.4" fill="#2b8cbe"/>
<rect x="2331.5" y="406.4" width="22" height="22.4" fill="#ccd6e8"/>
<rect x="2331.5" y="428.8" width="22" height="22.4" fill="#5aa0cc"/>
<rect x="2331.5" y="451.2" width="22" height="22.4" fill="#efedf5"/>
<text x="2358.0" y="400.5" font-size="15.6" fill="#333">200</text>
<text x="2358.0" y="467.7" font-size="15.6" fill="#333">50</text>
<text x="2331.5" y="503.0" font-size="15.6" font-weight="bold">NCKAP1</text>
<rect x="2331.5" y="508.0" width="22" height="22.4" fill="#e34a33"/>
<rect x="2331.5" y="530.4" width="22" height="22.4" fill="#fdd49e"/>
<rect x="2331.5" y="552.8" width="22" height="22.4" fill="#f07050"/>
<rect x="2331.5" y="575.2" width="22" height="22.4" fill="#fef0d9"/>
<text x="2358.0" y="524.5" font-size="15.6" fill="#333">12</text>
<text x="2358.0" y="591.7" font-size="15.6" fill="#333">2</text>
<text x="2331.5" y="627.0" font-size="15.6" font-weight="bold">NUBPL</text>
<rect x="2331.5" y="632.0" width="22" height="22.4" fill="#e6550d"/>
<rect x="2331.5" y="654.4" width="22" height="22.4" fill="#fdd0a2"/>
<rect x="2331.5" y="676.8" width="22" height="22.4" fill="#f47a2a"/>
<rect x="2331.5" y="699.2" width="22" height="22.4" fill="#fdeee6"/>
<text x="2358.0" y="648.5" font-size="15.6" fill="#333">8</text>
<text x="2358.0" y="715.7" font-size="15.6" fill="#333">2</text>
<text x="2331.5" y="751.0" font-size="15.6" font-weight="bold">NDUFA11</text>
<rect x="2331.5" y="756.0" width="22" height="22.4" fill="#636363"/>
<rect x="2331.5" y="778.4" width="22" height="22.4" fill="#d9d9d9"/>
<rect x="2331.5" y="800.8" width="22" height="22.4" fill="#888888"/>
<rect x="2331.5" y="823.2" width="22" height="22.4" fill="#f7f7f7"/>
<text x="2358.0" y="772.5" font-size="15.6" fill="#333">80</text>
<text x="2358.0" y="839.7" font-size="15.6" fill="#333">20</text>
<text x="2331.5" y="875.0" font-size="15.6" font-weight="bold">LRPPRC</text>
<rect x="2331.5" y="880.0" width="22" height="22.4" fill="#31a354"/>
<rect x="2331.5" y="902.4" width="22" height="22.4" fill="#c7e9c0"/>
<rect x="2331.5" y="924.8" width="22" height="22.4" fill="#5cb868"/>
<rect x="2331.5" y="947.2" width="22" height="22.4" fill="#edf8e9"/>
<text x="2358.0" y="896.5" font-size="15.6" fill="#333">35</text>
<text x="2358.0" y="963.7" font-size="15.6" fill="#333">5</text>
<text x="2331.5" y="999.0" font-size="15.6" font-weight="bold">OXSM</text>
<rect x="2331.5" y="1004.0" width="22" height="22.4" fill="#43a2ca"/>
<rect x="2331.5" y="1026.4" width="22" height="21.6" fill="#ccebc5"/>
<text x="2358.0" y="1020.5" font-size="15.6" fill="#333">14</text>
<rect x="2331.5" y="1048" width="22" height="1.5" fill="#a8ddb5"/>
<defs>
<filter id="fBr" x="0" y="0" width="1" height="1"><feTurbulence type="fractalNoise" baseFrequency="0.45" numOctaves="2" seed="3"/><feColorMatrix type="matrix" values="0 0 0 0 0.68 0 0 0 0 0.45 0 0 0 0 0.38 -6.5 0 0 0 3.05"/></filter>
<filter id="fBl" x="0" y="0" width="1" height="1"><feTurbulence type="fractalNoise" baseFrequency="0.5" numOctaves="1" seed="9"/><feColorMatrix type="matrix" values="0 0 0 0 0.66 0 0 0 0 0.69 0 0 0 0 0.9 0 -6.5 0 0 3.0"/></filter>
<filter id="fBrM" x="0" y="0" width="1" height="1"><feTurbulence type="fractalNoise" baseFrequency="0.06" numOctaves="3" seed="15"/><feColorMatrix type="matrix" values="0 0 0 0 0.62 0 0 0 0 0.4 0 0 0 0 0.32 1 0 0 0 0"/><feComponentTransfer><feFuncA type="table" tableValues="0 0 0 0 0 0 0 0 0 0 0.7 0 0 0 0 0 0 0 0 0 0"/></feComponentTransfer></filter>
<filter id="fNucM" x="0" y="0" width="1" height="1"><feTurbulence type="fractalNoise" baseFrequency="0.28" numOctaves="1" seed="12"/><feColorMatrix type="matrix" values="0 0 0 0 0.6 0 0 0 0 0.64 0 0 0 0 0.88 0 -11 0 0 4.6"/></filter>
<filter id="fNuc" x="0" y="0" width="1" height="1"><feTurbulence type="fractalNoise" baseFrequency="0.13" numOctaves="1" seed="11"/><feColorMatrix type="matrix" values="0 0 0 0 0.58 0 0 0 0 0.62 0 0 0 0 0.88 0 -12 0 0 5.2"/></filter>
<filter id="fBr2" x="0" y="0" width="1" height="1"><feTurbulence type="fractalNoise" baseFrequency="0.035" numOctaves="2" seed="5"/><feColorMatrix type="matrix" values="0 0 0 0 0.55 0 0 0 0 0.32 0 0 0 0 0.22 1 0 0 0 0"/><feComponentTransfer><feFuncA type="table" tableValues="0 0 0 0 0 0 0 0 0 0 0.9 0 0 0 0 0 0 0 0 0 0"/></feComponentTransfer></filter>
<filter id="fStreak" x="0" y="0" width="1" height="1"><feTurbulence type="fractalNoise" baseFrequency="0.012 0.09" numOctaves="2" seed="6"/><feColorMatrix type="matrix" values="0 0 0 0 0.62 0 0 0 0 0.42 0 0 0 0 0.36 1 0 0 0 0"/><feComponentTransfer><feFuncA type="table" tableValues="0 0 0 0 0 0 0 0 0 0 0.55 0 0 0 0 0 0 0 0 0 0"/></feComponentTransfer></filter>
<filter id="fBlD" x="0" y="0" width="1" height="1"><feTurbulence type="fractalNoise" baseFrequency="0.55" numOctaves="1" seed="4"/><feColorMatrix type="matrix" values="0 0 0 0 0.42 0 0 0 0 0.45 0 0 0 0 0.8 0 -8 0 0 3.6"/></filter>
<filter id="fBlob" x="0" y="0" width="1" height="1"><feTurbulence type="fractalNoise" baseFrequency="0.012" numOctaves="3" seed="21"/><feColorMatrix type="matrix" values="0 0 0 0 0.66 0 0 0 0 0.66 0 0 0 0 0.86 -5 0 0 0 2.6"/></filter>
<filter id="fWhite" x="0" y="0" width="1" height="1"><feTurbulence type="fractalNoise" baseFrequency="0.015" numOctaves="2" seed="8"/><feColorMatrix type="matrix" values="0 0 0 0 1 0 0 0 0 1 0 0 0 0 1 0 -6 0 0 3.0"/></filter>
<filter id="fWhite2" x="0" y="0" width="1" height="1"><feTurbulence type="fractalNoise" baseFrequency="0.02" numOctaves="2" seed="13"/><feColorMatrix type="matrix" values="0 0 0 0 1 0 0 0 0 1 0 0 0 0 1 0 -6 0 0 3.1"/></filter>
<filter id="fTan" x="0" y="0" width="1" height="1"><feTurbulence type="fractalNoise" baseFrequency="0.03" numOctaves="2" seed="31"/><feColorMatrix type="matrix" values="0 0 0 0 0.62 0 0 0 0 0.45 0 0 0 0 0.2 1 0 0 0 0"/><feComponentTransfer><feFuncA type="table" tableValues="0 0 0 0 0 0 0 0 0 0 0 0.8 0 0 0 0 0 0 0 0 0"/></feComponentTransfer></filter>
<filter id="fBlur" x="-0.5" y="-0.5" width="2" height="2"><feGaussianBlur stdDeviation="9"/></filter>
<filter id="fBlur2" x="-0.5" y="-0.5" width="2" height="2"><feGaussianBlur stdDeviation="4"/></filter>
</defs>
<rect x="1181" y="1273.4" width="440.4000000000001" height="222.89999999999986" fill="#f1e8e8"/>
<rect x="1181" y="1273.4" width="440.4000000000001" height="222.89999999999986" filter="url(#fBl)"/>
<rect x="1181" y="1273.4" width="440.4000000000001" height="222.89999999999986" filter="url(#fBr)"/>
<rect x="1179.0" y="1271.4" width="444.4000000000001" height="226.89999999999986" fill="none" stroke="#000" stroke-width="4"/>
<rect x="1403.3" y="1378.5" width="216.70000000000005" height="115.5" fill="#f0e9ea"/>
<rect x="1403.3" y="1378.5" width="216.70000000000005" height="115.5" filter="url(#fNucM)"/>
<rect x="1403.3" y="1378.5" width="216.70000000000005" height="115.5" filter="url(#fBrM)"/>
<rect x="1403.3" y="1378.5" width="216.70000000000005" height="115.5" filter="url(#fBr)" opacity="0.5"/>
<rect x="1400.8" y="1376.0" width="221.70000000000005" height="120.5" fill="none" stroke="#000" stroke-width="5"/>
<rect x="1478.5" y="1429.3" width="198.4000000000001" height="101.40000000000009" fill="#f1ebec"/>
<g fill="#b0b6e4" opacity="0.9"><circle cx="1559.6" cy="1452.6" r="3.8"/><circle cx="1530.3" cy="1503.8" r="3.9"/><circle cx="1555.7" cy="1496.8" r="4.3"/><circle cx="1660.3" cy="1479.0" r="4.1"/><circle cx="1599.0" cy="1454.1" r="4.9"/><circle cx="1554.0" cy="1469.8" r="4.5"/><circle cx="1512.2" cy="1494.7" r="4.8"/><circle cx="1547.3" cy="1520.8" r="4.3"/><circle cx="1629.4" cy="1477.2" r="4.1"/><circle cx="1534.3" cy="1435.0" r="3.8"/><circle cx="1669.9" cy="1483.1" r="4.2"/><circle cx="1653.1" cy="1489.6" r="5.0"/><circle cx="1550.9" cy="1454.0" r="4.9"/><circle cx="1513.8" cy="1506.7" r="4.4"/><circle cx="1668.7" cy="1520.6" r="4.5"/><circle cx="1490.5" cy="1436.4" r="4.2"/><circle cx="1637.9" cy="1441.7" r="4.1"/><circle cx="1499.7" cy="1462.6" r="3.5"/><circle cx="1545.6" cy="1482.1" r="3.8"/><circle cx="1631.8" cy="1439.4" r="3.8"/><circle cx="1532.0" cy="1471.2" r="4.6"/><circle cx="1550.2" cy="1497.8" r="4.9"/><circle cx="1508.2" cy="1513.3" r="4.4"/><circle cx="1624.3" cy="1489.9" r="4.1"/><circle cx="1501.7" cy="1447.4" r="3.8"/><circle cx="1517.0" cy="1447.6" r="3.8"/><circle cx="1589.2" cy="1504.7" r="4.7"/><circle cx="1642.9" cy="1445.0" r="4.7"/><circle cx="1518.5" cy="1440.9" r="3.9"/><circle cx="1593.8" cy="1438.7" r="3.8"/><circle cx="1558.7" cy="1509.5" r="4.1"/><circle cx="1561.5" cy="1468.2" r="3.6"/><circle cx="1649.2" cy="1518.7" r="4.6"/><circle cx="1558.6" cy="1474.9" r="4.0"/><circle cx="1606.8" cy="1494.0" r="4.0"/><circle cx="1648.2" cy="1500.2" r="3.8"/><circle cx="1636.0" cy="1495.9" r="3.9"/><circle cx="1539.3" cy="1503.0" r="3.6"/><circle cx="1566.0" cy="1522.4" r="3.9"/><circle cx="1578.3" cy="1517.2" r="4.8"/><circle cx="1632.0" cy="1483.0" r="4.9"/><circle cx="1531.9" cy="1514.9" r="4.1"/><circle cx="1607.5" cy="1490.1" r="3.9"/><circle cx="1611.3" cy="1489.5" r="5.0"/><circle cx="1609.1" cy="1474.5" r="4.1"/><circle cx="1650.7" cy="1465.9" r="4.5"/><circle cx="1614.3" cy="1522.5" r="3.8"/><circle cx="1608.8" cy="1450.0" r="4.5"/><circle cx="1607.3" cy="1502.2" r="4.8"/><circle cx="1527.1" cy="1513.0" r="4.0"/><circle cx="1558.8" cy="1444.6" r="4.3"/><circle cx="1483.7" cy="1462.7" r="4.5"/><circle cx="1624.3" cy="1449.6" r="4.7"/><circle cx="1567.2" cy="1453.1" r="4.6"/><circle cx="1622.7" cy="1477.1" r="4.3"/><circle cx="1600.3" cy="1492.0" r="4.6"/><circle cx="1628.4" cy="1452.6" r="3.5"/><circle cx="1503.3" cy="1462.4" r="4.4"/><circle cx="1664.6" cy="1472.4" r="4.1"/><circle cx="1588.5" cy="1521.0" r="4.4"/><circle cx="1539.1" cy="1503.5" r="5.0"/><circle cx="1633.0" cy="1470.7" r="3.8"/><circle cx="1570.3" cy="1446.0" r="3.7"/><circle cx="1567.6" cy="1512.0" r="4.6"/><circle cx="1562.3" cy="1521.5" r="3.8"/><circle cx="1530.6" cy="1459.3" r="4.4"/><circle cx="1651.1" cy="1469.3" r="4.7"/><circle cx="1660.0" cy="1478.1" r="4.8"/><circle cx="1651.0" cy="1477.8" r="3.8"/><circle cx="1497.6" cy="1456.2" r="4.2"/><circle cx="1486.4" cy="1464.4" r="4.2"/><circle cx="1546.8" cy="1501.4" r="4.4"/><circle cx="1583.9" cy="1492.2" r="4.4"/><circle cx="1561.5" cy="1449.5" r="4.4"/><circle cx="1492.4" cy="1437.6" r="4.0"/></g>
<rect x="1478.5" y="1429.3" width="198.4000000000001" height="101.40000000000009" filter="url(#fBr2)"/>
<rect x="1474.75" y="1425.55" width="205.9000000000001" height="108.90000000000009" fill="none" stroke="#000" stroke-width="7.5"/>
<clipPath id="cp1"><rect x="1842.7" y="1298.9" width="467.70000000000005" height="237.0999999999999"/></clipPath>
<g clip-path="url(#cp1)">
<rect x="1842.7" y="1298.9" width="467.70000000000005" height="237.0999999999999" fill="#eee8ec"/>
<rect x="1842.7" y="1298.9" width="467.70000000000005" height="237.0999999999999" filter="url(#fBl)"/>
<rect x="1842.7" y="1298.9" width="467.70000000000005" height="237.0999999999999" filter="url(#fBr)" opacity="0.75"/>
<rect x="1725.8" y="1066.7" width="701.6" height="701.6" filter="url(#fStreak)" transform="rotate(38 2076.6 1417.5)"/>
</g>
<rect x="1840.7" y="1296.9" width="471.70000000000005" height="241.0999999999999" fill="none" stroke="#000" stroke-width="4"/>
<clipPath id="cp2"><rect x="2071.6" y="1402.5" width="237.0" height="130.5"/></clipPath>
<g clip-path="url(#cp2)">
<rect x="2071.6" y="1402.5" width="237.0" height="130.5" fill="#efe9ee"/>
<rect x="2071.6" y="1402.5" width="237.0" height="130.5" filter="url(#fNucM)"/>
<rect x="2012.3" y="1290.0" width="355.5" height="355.5" filter="url(#fStreak)" transform="rotate(38 2190.1 1467.8)"/>
</g>
<rect x="2069.1" y="1400.0" width="242.0" height="135.5" fill="none" stroke="#000" stroke-width="5"/>
<clipPath id="cp3"><rect x="2154.5" y="1461.3" width="198.4000000000001" height="105.70000000000005"/></clipPath>
<g clip-path="url(#cp3)">
<rect x="2154.5" y="1461.3" width="198.4000000000001" height="105.70000000000005" fill="#f0ebee"/>
<g fill="#b0b6e4" opacity="0.9"><circle cx="2202.8" cy="1538.6" r="3.7"/><circle cx="2242.2" cy="1532.9" r="4.1"/><circle cx="2311.2" cy="1477.5" r="3.8"/><circle cx="2211.4" cy="1501.2" r="4.3"/><circle cx="2196.8" cy="1519.8" r="4.6"/><circle cx="2282.4" cy="1544.3" r="3.6"/><circle cx="2287.2" cy="1535.7" r="4.7"/><circle cx="2187.8" cy="1474.6" r="4.6"/><circle cx="2281.3" cy="1482.2" r="4.8"/><circle cx="2294.6" cy="1525.2" r="4.6"/><circle cx="2274.6" cy="1498.8" r="3.6"/><circle cx="2224.0" cy="1526.1" r="3.8"/><circle cx="2193.3" cy="1476.9" r="4.2"/><circle cx="2341.6" cy="1536.2" r="3.5"/><circle cx="2230.5" cy="1531.6" r="3.6"/><circle cx="2309.3" cy="1488.8" r="4.2"/><circle cx="2308.9" cy="1550.0" r="3.6"/><circle cx="2313.5" cy="1550.1" r="4.8"/><circle cx="2305.3" cy="1502.0" r="4.0"/><circle cx="2168.1" cy="1504.2" r="4.0"/><circle cx="2189.4" cy="1556.6" r="4.8"/><circle cx="2312.0" cy="1494.6" r="3.7"/><circle cx="2240.0" cy="1473.2" r="4.0"/><circle cx="2273.8" cy="1496.7" r="4.0"/><circle cx="2221.1" cy="1545.6" r="3.6"/><circle cx="2312.8" cy="1524.7" r="4.3"/><circle cx="2290.2" cy="1468.1" r="4.8"/><circle cx="2213.9" cy="1504.5" r="4.3"/><circle cx="2329.3" cy="1488.1" r="4.3"/><circle cx="2346.3" cy="1486.6" r="4.5"/><circle cx="2190.4" cy="1520.6" r="4.2"/><circle cx="2266.1" cy="1469.0" r="3.8"/><circle cx="2329.2" cy="1483.5" r="4.0"/><circle cx="2345.9" cy="1490.7" r="4.4"/><circle cx="2240.6" cy="1466.6" r="4.5"/><circle cx="2254.3" cy="1556.0" r="5.0"/><circle cx="2173.4" cy="1522.6" r="4.0"/><circle cx="2184.4" cy="1554.0" r="3.6"/><circle cx="2254.1" cy="1488.6" r="4.4"/><circle cx="2198.8" cy="1548.1" r="4.2"/><circle cx="2197.5" cy="1542.9" r="3.7"/><circle cx="2298.6" cy="1490.1" r="4.8"/><circle cx="2207.8" cy="1528.6" r="4.5"/><circle cx="2254.5" cy="1549.6" r="4.3"/><circle cx="2203.7" cy="1516.5" r="4.5"/><circle cx="2238.8" cy="1516.5" r="3.6"/><circle cx="2206.7" cy="1539.7" r="4.0"/><circle cx="2195.1" cy="1542.2" r="3.5"/><circle cx="2166.7" cy="1472.2" r="3.8"/><circle cx="2168.9" cy="1494.3" r="3.9"/><circle cx="2333.4" cy="1490.7" r="4.4"/><circle cx="2215.1" cy="1535.7" r="3.7"/><circle cx="2224.4" cy="1479.9" r="4.0"/><circle cx="2208.6" cy="1509.6" r="4.9"/><circle cx="2164.6" cy="1488.5" r="4.4"/><circle cx="2316.8" cy="1502.6" r="4.0"/><circle cx="2219.4" cy="1502.2" r="4.3"/><circle cx="2306.4" cy="1468.4" r="3.8"/><circle cx="2201.3" cy="1525.7" r="4.6"/><circle cx="2172.8" cy="1466.4" r="3.7"/><circle cx="2241.6" cy="1532.5" r="5.0"/><circle cx="2229.2" cy="1506.9" r="4.8"/><circle cx="2304.1" cy="1552.8" r="3.9"/><circle cx="2293.7" cy="1543.7" r="3.9"/><circle cx="2205.4" cy="1555.3" r="3.8"/><circle cx="2220.9" cy="1476.1" r="4.8"/><circle cx="2276.6" cy="1489.6" r="4.2"/><circle cx="2243.3" cy="1467.9" r="4.6"/><circle cx="2174.1" cy="1503.0" r="4.6"/><circle cx="2212.7" cy="1539.5" r="4.9"/></g>
<rect x="2104.9" y="1365.3" width="297.6" height="297.6" filter="url(#fStreak)" transform="rotate(38 2253.7 1514.2)"/>
</g>
<rect x="2150.75" y="1457.55" width="205.9000000000001" height="113.20000000000005" fill="none" stroke="#000" stroke-width="7.5"/>
<clipPath id="cp4"><rect x="1157.2" y="1642.3" width="476.5" height="241.70000000000005"/></clipPath>
<g clip-path="url(#cp4)">
<rect x="1157.2" y="1642.3" width="476.5" height="241.70000000000005" fill="#f7f6f8"/>
<rect x="1157.2" y="1642.3" width="476.5" height="241.70000000000005" filter="url(#fBlD)" opacity="0.6"/>
<ellipse cx="1505.0" cy="1751.1" rx="104.8" ry="72.5" fill="#f8f6f2" opacity="0.92" filter="url(#fBlur)"/>
<ellipse cx="1452.6" cy="1678.6" rx="47.7" ry="24.2" fill="#f8f7f4" opacity="0.8" filter="url(#fBlur)"/>
<ellipse cx="1419.3" cy="1775.2" rx="38.1" ry="29.0" fill="#fbfafa" opacity="0.8" filter="url(#fBlur)"/>
<ellipse cx="1204.9" cy="1787.3" rx="23.8" ry="19.3" fill="#ffffff" opacity="0.8" filter="url(#fBlur)"/>
<ellipse cx="1300.2" cy="1702.7" rx="23.8" ry="16.9" fill="#ffffff" opacity="0.7" filter="url(#fBlur)"/>
<ellipse cx="1395.5" cy="1847.7" rx="71.5" ry="29.0" fill="#f6f4f2" opacity="0.7" filter="url(#fBlur)"/>
</g>
<rect x="1155.2" y="1640.3" width="480.5" height="245.70000000000005" fill="none" stroke="#000" stroke-width="4"/>
<rect x="1397.6" y="1754.4" width="236.20000000000005" height="127.09999999999991" fill="#efedf0"/>
<g fill="#99a0da" opacity="0.85"><circle cx="1629.4" cy="1830.5" r="3.1"/><circle cx="1466.8" cy="1850.9" r="2.6"/><circle cx="1613.1" cy="1812.4" r="3.0"/><circle cx="1405.7" cy="1825.5" r="3.2"/><circle cx="1603.5" cy="1836.9" r="3.1"/><circle cx="1405.7" cy="1853.8" r="2.7"/><circle cx="1554.1" cy="1877.1" r="2.5"/><circle cx="1499.6" cy="1870.5" r="2.8"/><circle cx="1593.1" cy="1856.2" r="3.3"/><circle cx="1629.8" cy="1842.6" r="2.6"/><circle cx="1594.0" cy="1848.1" r="2.9"/><circle cx="1423.2" cy="1790.3" r="3.1"/><circle cx="1458.5" cy="1876.3" r="2.7"/><circle cx="1464.0" cy="1772.8" r="3.3"/><circle cx="1490.8" cy="1864.5" r="3.2"/><circle cx="1451.0" cy="1877.5" r="3.3"/><circle cx="1471.4" cy="1811.7" r="3.1"/><circle cx="1546.5" cy="1813.1" r="2.7"/><circle cx="1476.6" cy="1773.4" r="3.1"/><circle cx="1541.7" cy="1830.2" r="2.6"/><circle cx="1528.5" cy="1851.7" r="3.1"/><circle cx="1478.5" cy="1852.2" r="2.9"/><circle cx="1421.4" cy="1812.9" r="2.6"/><circle cx="1445.9" cy="1869.9" r="3.4"/><circle cx="1469.6" cy="1771.7" r="3.3"/><circle cx="1528.3" cy="1834.9" r="2.6"/><circle cx="1426.7" cy="1761.0" r="3.4"/><circle cx="1469.4" cy="1798.1" r="2.5"/><circle cx="1480.9" cy="1763.2" r="2.9"/><circle cx="1610.2" cy="1871.1" r="3.5"/><circle cx="1596.0" cy="1855.2" r="3.2"/><circle cx="1539.7" cy="1844.1" r="3.6"/><circle cx="1539.5" cy="1824.8" r="3.3"/><circle cx="1594.7" cy="1822.0" r="2.5"/><circle cx="1430.6" cy="1763.5" r="3.1"/><circle cx="1619.9" cy="1824.9" r="3.4"/><circle cx="1440.8" cy="1797.4" r="3.6"/><circle cx="1558.9" cy="1845.1" r="2.8"/><circle cx="1446.7" cy="1776.9" r="2.7"/><circle cx="1422.4" cy="1804.9" r="3.5"/><circle cx="1548.1" cy="1868.6" r="2.8"/><circle cx="1611.5" cy="1875.7" r="2.9"/><circle cx="1415.7" cy="1839.7" r="3.5"/><circle cx="1485.4" cy="1795.6" r="2.8"/><circle cx="1429.6" cy="1837.6" r="2.8"/><circle cx="1430.7" cy="1838.0" r="3.6"/><circle cx="1430.9" cy="1874.3" r="3.2"/><circle cx="1577.0" cy="1871.4" r="3.1"/><circle cx="1495.4" cy="1824.2" r="2.8"/><circle cx="1500.6" cy="1804.0" r="3.4"/><circle cx="1480.3" cy="1865.5" r="2.8"/><circle cx="1550.3" cy="1817.9" r="2.8"/><circle cx="1579.7" cy="1876.6" r="2.6"/><circle cx="1482.5" cy="1872.7" r="3.6"/><circle cx="1570.7" cy="1875.2" r="2.6"/><circle cx="1590.9" cy="1844.8" r="3.5"/><circle cx="1504.5" cy="1835.1" r="3.3"/><circle cx="1514.9" cy="1844.1" r="2.7"/><circle cx="1411.4" cy="1784.4" r="3.6"/><circle cx="1500.0" cy="1864.5" r="3.6"/><circle cx="1611.1" cy="1823.9" r="2.8"/><circle cx="1540.6" cy="1850.3" r="3.3"/><circle cx="1408.7" cy="1764.8" r="2.5"/><circle cx="1458.3" cy="1805.2" r="2.9"/><circle cx="1575.2" cy="1849.6" r="2.8"/><circle cx="1481.0" cy="1864.8" r="3.3"/><circle cx="1408.5" cy="1797.5" r="3.4"/><circle cx="1496.2" cy="1839.1" r="2.7"/><circle cx="1459.4" cy="1858.8" r="2.9"/><circle cx="1495.7" cy="1876.7" r="3.6"/><circle cx="1470.7" cy="1758.0" r="2.7"/><circle cx="1624.6" cy="1842.2" r="2.8"/><circle cx="1608.3" cy="1863.2" r="3.3"/><circle cx="1405.3" cy="1821.4" r="2.7"/><circle cx="1459.8" cy="1805.2" r="2.9"/><circle cx="1439.2" cy="1776.7" r="3.0"/><circle cx="1464.8" cy="1858.6" r="3.2"/><circle cx="1531.0" cy="1840.8" r="2.6"/><circle cx="1492.6" cy="1838.1" r="2.7"/><circle cx="1428.2" cy="1840.4" r="3.6"/><circle cx="1578.3" cy="1821.8" r="2.9"/><circle cx="1450.6" cy="1765.7" r="2.7"/><circle cx="1457.2" cy="1806.9" r="3.5"/><circle cx="1479.3" cy="1780.1" r="3.3"/><circle cx="1420.9" cy="1814.4" r="2.7"/><circle cx="1517.0" cy="1872.6" r="3.2"/><circle cx="1464.6" cy="1873.2" r="3.2"/><circle cx="1434.0" cy="1826.2" r="3.3"/><circle cx="1432.3" cy="1816.0" r="3.0"/><circle cx="1443.2" cy="1840.3" r="3.0"/><circle cx="1537.6" cy="1822.2" r="3.2"/><circle cx="1579.6" cy="1816.0" r="3.6"/><circle cx="1607.8" cy="1812.5" r="2.6"/><circle cx="1513.4" cy="1803.7" r="3.5"/><circle cx="1473.2" cy="1765.2" r="2.7"/><circle cx="1525.1" cy="1848.5" r="3.5"/><circle cx="1427.1" cy="1828.6" r="2.7"/><circle cx="1619.8" cy="1850.5" r="2.8"/><circle cx="1480.4" cy="1875.0" r="3.6"/><circle cx="1451.5" cy="1830.3" r="2.7"/><circle cx="1506.8" cy="1815.1" r="3.4"/><circle cx="1480.6" cy="1865.9" r="2.8"/><circle cx="1405.2" cy="1812.2" r="2.7"/><circle cx="1619.9" cy="1856.6" r="3.5"/><circle cx="1450.1" cy="1862.9" r="3.5"/><circle cx="1465.9" cy="1855.7" r="2.9"/><circle cx="1443.8" cy="1839.1" r="2.9"/><circle cx="1470.3" cy="1835.3" r="3.2"/><circle cx="1404.5" cy="1761.4" r="3.1"/><circle cx="1421.9" cy="1771.0" r="3.5"/><circle cx="1619.2" cy="1843.3" r="3.5"/><circle cx="1559.2" cy="1869.1" r="2.5"/><circle cx="1486.5" cy="1801.8" r="2.9"/><circle cx="1462.9" cy="1796.4" r="3.3"/><circle cx="1618.6" cy="1868.6" r="2.9"/><circle cx="1471.9" cy="1867.3" r="3.1"/><circle cx="1421.3" cy="1815.8" r="3.4"/><circle cx="1490.2" cy="1796.5" r="2.7"/><circle cx="1457.4" cy="1858.4" r="3.1"/><circle cx="1479.3" cy="1780.9" r="2.8"/><circle cx="1602.2" cy="1827.5" r="3.5"/><circle cx="1406.4" cy="1765.4" r="2.5"/><circle cx="1627.2" cy="1814.3" r="2.6"/><circle cx="1467.1" cy="1800.4" r="2.8"/><circle cx="1473.3" cy="1786.7" r="2.8"/></g>
<rect x="1397.6" y="1754.4" width="236.20000000000005" height="127.09999999999991" filter="url(#fWhite2)"/>
<rect x="1395.1" y="1751.9" width="241.20000000000005" height="132.0999999999999" fill="none" stroke="#000" stroke-width="5"/>
<rect x="1478.5" y="1827.5" width="209.0" height="106.0" fill="#efedf0"/>
<g fill="#99a0da" opacity="0.85"><circle cx="1569.5" cy="1844.1" r="5.2"/><circle cx="1643.5" cy="1850.0" r="5.3"/><circle cx="1619.6" cy="1863.3" r="4.8"/><circle cx="1512.0" cy="1891.4" r="6.0"/><circle cx="1637.5" cy="1853.7" r="4.9"/><circle cx="1584.9" cy="1859.9" r="5.9"/><circle cx="1657.5" cy="1875.5" r="4.5"/><circle cx="1632.8" cy="1882.2" r="5.4"/><circle cx="1639.1" cy="1852.8" r="5.1"/><circle cx="1625.9" cy="1849.9" r="6.0"/><circle cx="1538.1" cy="1913.2" r="4.0"/><circle cx="1501.7" cy="1835.0" r="4.2"/><circle cx="1499.2" cy="1840.9" r="5.4"/><circle cx="1518.8" cy="1869.7" r="4.1"/><circle cx="1519.9" cy="1851.9" r="4.9"/><circle cx="1666.4" cy="1866.8" r="5.4"/><circle cx="1614.4" cy="1862.4" r="4.1"/><circle cx="1527.1" cy="1852.3" r="5.0"/><circle cx="1546.8" cy="1894.8" r="5.2"/><circle cx="1506.3" cy="1914.3" r="4.8"/><circle cx="1526.1" cy="1836.7" r="5.0"/><circle cx="1508.0" cy="1904.3" r="4.4"/><circle cx="1518.2" cy="1873.6" r="4.2"/><circle cx="1500.3" cy="1856.3" r="5.7"/><circle cx="1635.8" cy="1883.9" r="5.4"/><circle cx="1571.3" cy="1890.7" r="5.2"/><circle cx="1586.7" cy="1845.7" r="5.5"/><circle cx="1676.4" cy="1884.0" r="5.9"/><circle cx="1505.9" cy="1846.2" r="5.7"/><circle cx="1611.1" cy="1849.6" r="4.5"/><circle cx="1656.8" cy="1845.3" r="5.2"/><circle cx="1634.3" cy="1860.9" r="4.0"/><circle cx="1560.4" cy="1896.6" r="5.8"/><circle cx="1602.4" cy="1840.3" r="4.4"/><circle cx="1584.8" cy="1857.2" r="4.3"/><circle cx="1514.9" cy="1906.9" r="4.7"/><circle cx="1552.1" cy="1896.8" r="4.4"/><circle cx="1539.3" cy="1854.4" r="5.0"/><circle cx="1504.5" cy="1909.3" r="5.4"/><circle cx="1509.2" cy="1859.7" r="4.5"/><circle cx="1526.9" cy="1892.0" r="5.5"/><circle cx="1587.3" cy="1859.9" r="5.7"/><circle cx="1487.3" cy="1921.5" r="5.5"/><circle cx="1607.0" cy="1859.1" r="4.2"/><circle cx="1561.2" cy="1881.7" r="5.1"/><circle cx="1520.3" cy="1868.5" r="4.3"/><circle cx="1489.3" cy="1881.6" r="5.0"/><circle cx="1603.9" cy="1874.3" r="5.3"/><circle cx="1670.3" cy="1871.0" r="5.2"/><circle cx="1586.9" cy="1879.2" r="4.0"/><circle cx="1501.0" cy="1887.9" r="5.2"/></g>
<rect x="1478.5" y="1827.5" width="209.0" height="106.0" filter="url(#fWhite2)"/>
<rect x="1474.75" y="1823.75" width="216.5" height="113.5" fill="none" stroke="#000" stroke-width="7.5"/>
<clipPath id="cp5"><rect x="1830.2" y="1672.8" width="479.20000000000005" height="243.4000000000001"/></clipPath>
<g clip-path="url(#cp5)">
<rect x="1830.2" y="1672.8" width="479.20000000000005" height="243.4000000000001" fill="#efe7da"/>
<ellipse cx="1926.0" cy="1714.2" rx="57.5" ry="29.2" fill="#fcfbf9" opacity="1" filter="url(#fBlur)"/>
<ellipse cx="2069.8" cy="1904.0" rx="57.5" ry="24.3" fill="#fbf9f6" opacity="0.8" filter="url(#fBlur)"/>
<ellipse cx="1863.7" cy="1855.3" rx="28.8" ry="36.5" fill="#f8f5f0" opacity="0.8" filter="url(#fBlur)"/>
<ellipse cx="2194.4" cy="1692.3" rx="143.8" ry="41.4" fill="#cdcee9" opacity="1" filter="url(#fBlur)"/>
<ellipse cx="2036.3" cy="1814.0" rx="62.3" ry="58.4" fill="#d8d8ec" opacity="1" filter="url(#fBlur)"/>
<ellipse cx="2108.1" cy="1765.3" rx="57.5" ry="31.6" fill="#d6d7ec" opacity="1" filter="url(#fBlur)"/>
<ellipse cx="2295.0" cy="1758.0" rx="28.8" ry="24.3" fill="#e9e1d8" opacity="1" filter="url(#fBlur)"/>
<rect x="1830.2" y="1672.8" width="479.20000000000005" height="243.4000000000001" filter="url(#fBlD)" opacity="0.4"/>
<path d="M1835.0,1709.3 C1868.5,1745.8 1935.6,1758.0 1983.5,1685.0" fill="none" stroke="#8d8fc2" stroke-width="4" opacity="0.8" stroke-linecap="round"/>
<path d="M1844.6,1716.6 C1878.1,1736.1 1926.0,1748.3 1974.0,1697.1" fill="none" stroke="#a7a8d0" stroke-width="3" opacity="0.7" stroke-linecap="round"/>
<path d="M1839.8,1750.7 C1878.1,1782.3 1868.5,1843.2 1897.3,1904.0" fill="none" stroke="#8d8fc2" stroke-width="4" opacity="0.75" stroke-linecap="round"/>
<path d="M2045.8,1911.3 C2079.4,1867.5 2127.3,1862.7 2213.6,1848.0" fill="none" stroke="#9a9aae" stroke-width="3" opacity="0.7" stroke-linecap="round"/>
<path d="M2079.4,1916.2 C2117.7,1891.9 2165.6,1879.7 2237.5,1882.1" fill="none" stroke="#a08a6a" stroke-width="3" opacity="0.6" stroke-linecap="round"/>
</g>
<rect x="1828.2" y="1670.8" width="483.20000000000005" height="247.4000000000001" fill="none" stroke="#000" stroke-width="4"/>
<clipPath id="cp6"><rect x="2093.4" y="1769.7" width="214.29999999999973" height="149.0999999999999"/></clipPath>
<g clip-path="url(#cp6)">
<rect x="2093.4" y="1769.7" width="214.29999999999973" height="149.0999999999999" fill="#f3eee6"/>
<ellipse cx="2254.1" cy="1799.5" rx="47.1" ry="26.8" fill="#ffffff" opacity="1" filter="url(#fBlur)"/>
<ellipse cx="2179.1" cy="1841.3" rx="55.7" ry="41.7" fill="#c2c3e4" opacity="1" filter="url(#fBlur)"/>
<ellipse cx="2226.3" cy="1851.7" rx="32.1" ry="22.4" fill="#c9c9e6" opacity="1" filter="url(#fBlur)"/>
<ellipse cx="2119.1" cy="1896.4" rx="32.1" ry="26.8" fill="#fbf9f6" opacity="1" filter="url(#fBlur)"/>
<rect x="2093.4" y="1769.7" width="214.29999999999973" height="149.0999999999999" filter="url(#fNuc)" opacity="0.35"/>
<path d="M2189.8,1814.4 C2222.0,1836.8 2254.1,1832.3 2290.6,1821.9" fill="none" stroke="#b07a28" stroke-width="3" opacity="0.85" stroke-linecap="round"/>
<path d="M2179.1,1772.7 C2183.4,1784.6 2192.0,1787.6 2200.6,1799.5" fill="none" stroke="#6a4a20" stroke-width="4" opacity="0.8" stroke-linecap="round"/>
<path d="M2114.8,1874.1 C2136.3,1889.0 2157.7,1896.4 2183.4,1892.0" fill="none" stroke="#b08a50" stroke-width="2.5" opacity="0.7" stroke-linecap="round"/>
</g>
<rect x="2090.9" y="1767.2" width="219.29999999999973" height="154.0999999999999" fill="none" stroke="#000" stroke-width="5"/>
<clipPath id="cp7"><rect x="2177.3" y="1856.1" width="214.69999999999982" height="111.60000000000014"/></clipPath>
<g clip-path="url(#cp7)">
<rect x="2177.3" y="1856.1" width="214.69999999999982" height="111.60000000000014" fill="#fbf9f7"/>
<ellipse cx="2273.9" cy="1861.7" rx="118.1" ry="33.5" fill="#bcbde0" opacity="1" filter="url(#fBlur)"/>
<ellipse cx="2370.5" cy="1878.4" rx="32.2" ry="24.6" fill="#c4c5e3" opacity="1" filter="url(#fBlur)"/>
<path d="M2177.3,1911.9 C2231.0,1909.7 2263.2,1878.4 2310.4,1887.3" fill="none" stroke="#b07828" stroke-width="5" opacity="0.9" stroke-linecap="round" filter="url(#fBlur2)"/>
<path d="M2310.4,1887.3 C2349.1,1895.2 2374.8,1911.9 2389.9,1945.4" fill="none" stroke="#b07828" stroke-width="6" opacity="0.9" stroke-linecap="round" filter="url(#fBlur2)"/>
<rect x="2177.3" y="1856.1" width="214.69999999999982" height="111.60000000000014" filter="url(#fTan)" opacity="0.3"/>
</g>
<rect x="2173.55" y="1852.35" width="222.19999999999982" height="119.10000000000014" fill="none" stroke="#000" stroke-width="7.5"/>
<text x="1403.2" y="1251.0" font-size="58" text-anchor="middle" font-weight="bold" font-family="'Liberation Serif', 'Times New Roman', serif">N</text>
<text x="2083.8" y="1251.0" font-size="58" text-anchor="middle" font-weight="bold" font-family="'Liberation Serif', 'Times New Roman', serif">T</text>
<text x="1031.0" y="1383.5" font-size="31.4" font-weight="bold" font-family="'Liberation Serif', 'Times New Roman', serif">CD206</text>
<text x="1023.5" y="1795.0" font-size="32.3" font-weight="bold" font-family="'Liberation Serif', 'Times New Roman', serif">Foxp3</text>
<text x="1281.0" y="1575.0" font-size="38.5" font-weight="bold" font-family="'Liberation Serif', 'Times New Roman', serif">IHC Score: 6</text>
<text x="1932.0" y="1589.0" font-size="38.7" font-weight="bold" font-family="'Liberation Serif', 'Times New Roman', serif">IHC Score: 9</text>
<text x="1274.0" y="1979.0" font-size="40.5" font-weight="bold" font-family="'Liberation Serif', 'Times New Roman', serif">IHC Score: 6</text>
<text x="1940.5" y="1990.0" font-size="40.5" font-weight="bold" font-family="'Liberation Serif', 'Times New Roman', serif">IHC Score: 1</text>
<path d="M1233.2 2049.4V2382.6H1457.4" fill="none" stroke="#000" stroke-width="3"/>
<line x1="1219.2" y1="2049.4" x2="1233.2" y2="2049.4" stroke="#000" stroke-width="3"/>
<text x="1215.2" y="2057.9" font-size="23.5" text-anchor="end" font-weight="bold">15</text>
<line x1="1219.2" y1="2160.5" x2="1233.2" y2="2160.5" stroke="#000" stroke-width="3"/>
<text x="1215.2" y="2169.0" font-size="23.5" text-anchor="end" font-weight="bold">10</text>
<line x1="1219.2" y1="2271.5" x2="1233.2" y2="2271.5" stroke="#000" stroke-width="3"/>
<text x="1215.2" y="2280.0" font-size="23.5" text-anchor="end" font-weight="bold">5</text>
<line x1="1219.2" y1="2382.6" x2="1233.2" y2="2382.6" stroke="#000" stroke-width="3"/>
<text x="1215.2" y="2391.1" font-size="23.5" text-anchor="end" font-weight="bold">0</text>
<line x1="1296.8" y1="2254.9" x2="1296.8" y2="2209.3" stroke="#000" stroke-width="1.6"/>
<line x1="1281.8" y1="2209.3" x2="1311.8" y2="2209.3" stroke="#000" stroke-width="1.6"/>
<rect x="1268.8" y="2256.9" width="56.0" height="125.7" fill="#559ff7" stroke="#000" stroke-width="4"/>
<line x1="1296.8" y1="2382.6" x2="1296.8" y2="2394.6" stroke="#000" stroke-width="3"/>
<text x="1296.8" y="2423.6" font-size="25" text-anchor="middle" font-weight="bold">N</text>
<line x1="1392.6" y1="2198.2" x2="1392.6" y2="2166.0" stroke="#000" stroke-width="1.6"/>
<line x1="1377.6" y1="2166.0" x2="1407.6" y2="2166.0" stroke="#000" stroke-width="1.6"/>
<rect x="1364.6" y="2200.2" width="56.0" height="182.4" fill="#dd88f5" stroke="#000" stroke-width="4"/>
<line x1="1392.6" y1="2382.6" x2="1392.6" y2="2394.6" stroke="#000" stroke-width="3"/>
<text x="1392.6" y="2423.6" font-size="25" text-anchor="middle" font-weight="bold">T</text>
<path d="M1296.6 2188.5V2126.8H1392.3V2145" fill="none" stroke="#000" stroke-width="3"/>
<text x="1344.4" y="2120.8" font-size="36" text-anchor="middle" font-weight="bold">*</text>
<text x="1173.0" y="2216.0" font-size="27.5" text-anchor="middle" font-weight="bold" transform="rotate(-90 1173.0 2216.0)">CD206 IHC score</text>
<path d="M1909.2 2069.5V2383.7H2118.8" fill="none" stroke="#000" stroke-width="3"/>
<line x1="1895.2" y1="2069.5" x2="1909.2" y2="2069.5" stroke="#000" stroke-width="3"/>
<text x="1891.2" y="2078.0" font-size="23.5" text-anchor="end" font-weight="bold">2.0</text>
<line x1="1895.2" y1="2148.1" x2="1909.2" y2="2148.1" stroke="#000" stroke-width="3"/>
<text x="1891.2" y="2156.6" font-size="23.5" text-anchor="end" font-weight="bold">1.5</text>
<line x1="1895.2" y1="2226.6" x2="1909.2" y2="2226.6" stroke="#000" stroke-width="3"/>
<text x="1891.2" y="2235.1" font-size="23.5" text-anchor="end" font-weight="bold">1.0</text>
<line x1="1895.2" y1="2305.1" x2="1909.2" y2="2305.1" stroke="#000" stroke-width="3"/>
<text x="1891.2" y="2313.6" font-size="23.5" text-anchor="end" font-weight="bold">0.5</text>
<line x1="1895.2" y1="2383.7" x2="1909.2" y2="2383.7" stroke="#000" stroke-width="3"/>
<text x="1891.2" y="2392.2" font-size="23.5" text-anchor="end" font-weight="bold">0.0</text>
<line x1="1968.7" y1="2353.9" x2="1968.7" y2="2281.6" stroke="#000" stroke-width="1.6"/>
<line x1="1953.7" y1="2281.6" x2="1983.7" y2="2281.6" stroke="#000" stroke-width="1.6"/>
<rect x="1941.7" y="2355.9" width="54.0" height="27.8" fill="#559ff7" stroke="#000" stroke-width="4"/>
<line x1="1968.7" y1="2383.7" x2="1968.7" y2="2395.7" stroke="#000" stroke-width="3"/>
<text x="1968.7" y="2424.7" font-size="25" text-anchor="middle" font-weight="bold">N</text>
<line x1="2058.6" y1="2196.8" x2="2058.6" y2="2124.5" stroke="#000" stroke-width="1.6"/>
<line x1="2043.6" y1="2124.5" x2="2073.6" y2="2124.5" stroke="#000" stroke-width="1.6"/>
<rect x="2032" y="2198.8" width="53.19999999999982" height="184.9" fill="#dd88f5" stroke="#000" stroke-width="4"/>
<line x1="2058.6" y1="2383.7" x2="2058.6" y2="2395.7" stroke="#000" stroke-width="3"/>
<text x="2058.6" y="2424.7" font-size="25" text-anchor="middle" font-weight="bold">T</text>
<path d="M1968.5 2263.3V2087.8H2059.1V2106" fill="none" stroke="#000" stroke-width="3"/>
<text x="2013.8" y="2081.8" font-size="36" text-anchor="middle" font-weight="bold">**</text>
<text x="1846.0" y="2228.0" font-size="27.5" text-anchor="middle" font-weight="bold" transform="rotate(-90 1846.0 2228.0)">Foxp3 IHC score</text>
<rect x="1554.3" y="2068.4" width="30" height="12.5" fill="#559ff7" stroke="#000" stroke-width="4"/>
<rect x="1554.3" y="2117.3" width="30" height="12.5" fill="#dd88f5" stroke="#000" stroke-width="4"/>
<text x="1607.7" y="2082.4" font-size="26" font-family="'Liberation Serif', 'Times New Roman', serif" font-style="italic" letter-spacing="1.5">normal <tspan letter-spacing="4">tissue</tspan></text>
<text x="1607.7" y="2131.3" font-size="26" font-family="'Liberation Serif', 'Times New Roman', serif"><tspan font-style="italic" letter-spacing="1.5">tumor</tspan> <tspan letter-spacing="4">tissues</tspan></text>
<rect x="2191" y="2084.5" width="30" height="12.5" fill="#559ff7" stroke="#000" stroke-width="4"/>
<rect x="2191" y="2127.7" width="30" height="12.5" fill="#dd88f5" stroke="#000" stroke-width="4"/>
<text x="2240.6" y="2098.5" font-size="25" font-family="'Liberation Serif', 'Times New Roman', serif" font-style="italic" letter-spacing="1.5">normal <tspan letter-spacing="4">tissue</tspan></text>
<text x="2240.6" y="2141.7" font-size="25" font-family="'Liberation Serif', 'Times New Roman', serif"><tspan font-style="italic" letter-spacing="1.5">tumor</tspan> <tspan letter-spacing="4">tissues</tspan></text>
</svg>
</body></html>
